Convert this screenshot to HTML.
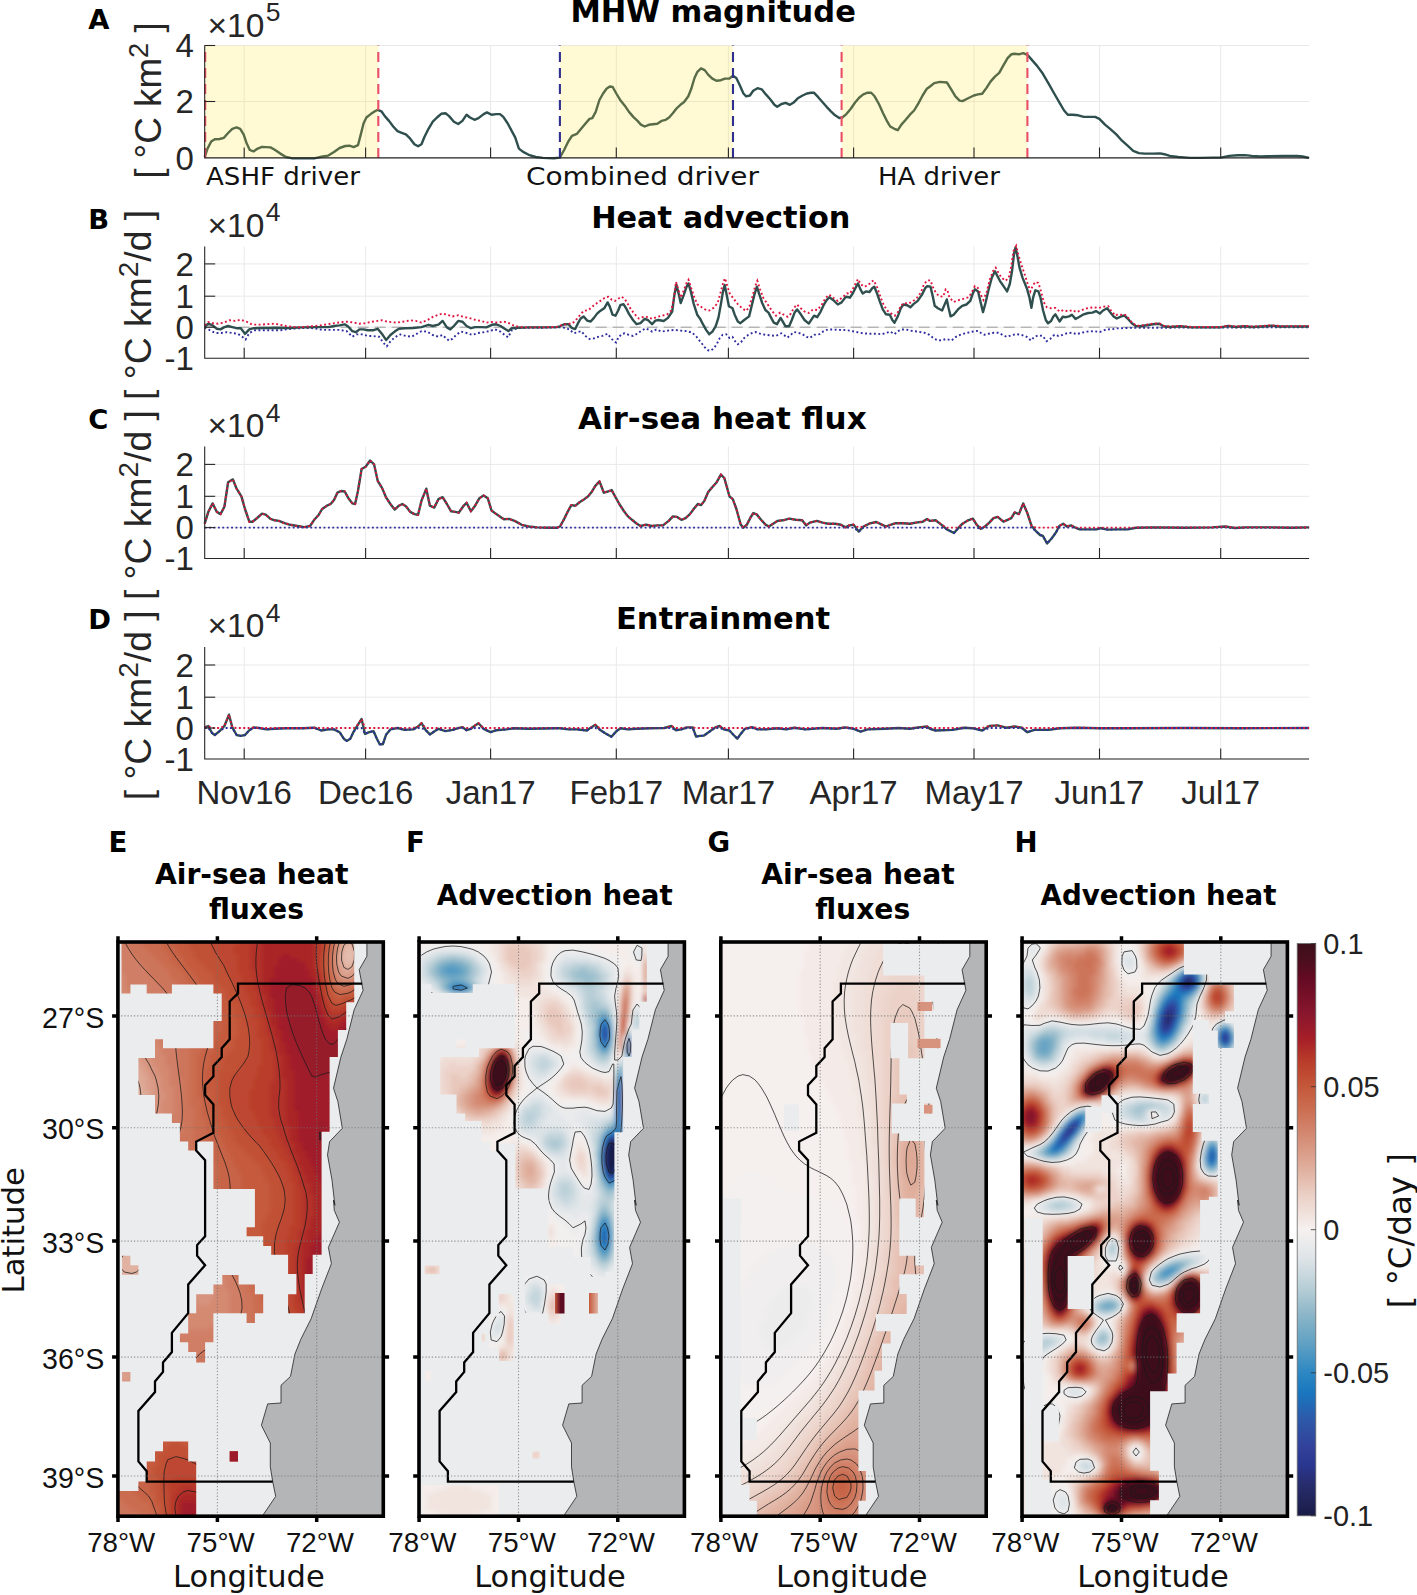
<!DOCTYPE html>
<html lang="en"><head><meta charset="utf-8"><title>MHW drivers</title>
<style>html,body{margin:0;padding:0;background:#fff}svg{display:block}</style></head>
<body>
<svg width="1417" height="1595" viewBox="0 0 1417 1595">
<rect width="1417" height="1595" fill="#fff"/>
<line x1="244.2" y1="45.5" x2="244.2" y2="157.9" stroke="#e9e9e9" stroke-width="1"/>
<line x1="365.6" y1="45.5" x2="365.6" y2="157.9" stroke="#e9e9e9" stroke-width="1"/>
<line x1="490.6" y1="45.5" x2="490.6" y2="157.9" stroke="#e9e9e9" stroke-width="1"/>
<line x1="616.3" y1="45.5" x2="616.3" y2="157.9" stroke="#e9e9e9" stroke-width="1"/>
<line x1="728.4" y1="45.5" x2="728.4" y2="157.9" stroke="#e9e9e9" stroke-width="1"/>
<line x1="853.6" y1="45.5" x2="853.6" y2="157.9" stroke="#e9e9e9" stroke-width="1"/>
<line x1="974.0" y1="45.5" x2="974.0" y2="157.9" stroke="#e9e9e9" stroke-width="1"/>
<line x1="1099.5" y1="45.5" x2="1099.5" y2="157.9" stroke="#e9e9e9" stroke-width="1"/>
<line x1="1220.7" y1="45.5" x2="1220.7" y2="157.9" stroke="#e9e9e9" stroke-width="1"/>
<line x1="204.7" y1="45.5" x2="1309.1" y2="45.5" stroke="#e9e9e9" stroke-width="1"/>
<line x1="204.7" y1="101.5" x2="1309.1" y2="101.5" stroke="#e9e9e9" stroke-width="1"/>
<line x1="204.7" y1="157.9" x2="1309.1" y2="157.9" stroke="#e9e9e9" stroke-width="1"/>
<path d="M204.7,157.0 207.5,148.6 211.2,141.5 214.8,139.2 219.6,139.0 223.9,137.8 228.1,133.0 232.3,128.8 236.6,127.4 240.2,128.8 243.6,134.4 246.5,142.9 249.8,150.0 253.5,151.4 257.7,148.6 262.0,146.9 266.2,147.1 270.5,147.4 274.7,149.7 280.3,153.6 286.0,157.0 291.6,158.2 302.9,158.4 314.2,158.4 322.7,156.5 328.3,155.6 334.0,151.9 339.6,148.0 345.3,146.0 349.5,145.7 353.7,147.1 358.0,145.2 360.8,134.4 363.6,123.2 366.4,117.5 370.7,114.1 374.9,111.3 377.7,109.9 381.4,111.3 384.8,116.1 389.0,120.9 393.2,126.5 397.5,131.1 401.7,132.8 405.9,134.4 410.2,138.7 414.4,144.3 418.1,146.3 421.5,144.3 424.3,137.3 428.5,128.8 432.8,121.7 437.0,117.5 441.2,113.8 445.5,113.3 449.1,116.1 453.9,121.7 458.2,124.0 462.4,120.9 466.6,114.7 470.0,117.5 474.5,119.8 478.5,118.1 483.6,114.1 487.0,112.4 491.5,114.7 496.3,114.1 500.0,114.1 503.3,116.9 507.6,123.2 511.8,131.1 515.2,137.3 518.9,148.6 523.1,151.9 528.7,154.8 535.8,157.0 542.9,157.9 554.1,158.2 559.8,157.6 564.1,150.0 568.3,141.5 572.0,135.9 576.8,133.9 581.1,128.8 585.3,123.7 589.5,118.9 592.3,118.1 595.7,111.9 599.4,100.0 603.1,93.5 606.5,88.7 609.8,86.5 612.7,87.0 616.3,93.5 620.6,100.6 624.8,105.7 629.0,111.9 633.3,116.9 637.5,120.9 640.9,124.6 644.6,126.5 648.8,124.8 653.0,124.3 657.3,123.7 661.5,120.9 665.7,119.8 669.1,117.5 672.8,113.3 676.5,108.5 680.4,104.8 684.1,102.0 688.3,96.3 691.1,89.3 694.5,78.0 697.4,71.8 701.0,68.4 704.7,70.1 708.1,74.6 712.3,78.6 716.5,80.8 720.8,80.2 725.0,78.6 729.3,78.6 732.9,75.7 736.3,78.0 739.7,85.0 743.4,93.5 746.2,96.3 749.9,95.5 753.2,90.7 757.5,88.2 761.7,89.3 765.9,94.4 770.2,99.2 774.4,104.8 777.2,106.8 781.5,104.0 785.7,102.8 789.9,104.8 793.3,102.8 797.8,98.3 802.6,95.5 806.9,93.5 811.1,92.7 813.9,92.7 818.2,97.2 822.4,102.0 826.6,106.8 830.9,111.3 835.1,115.3 839.3,118.1 842.2,117.5 846.4,114.1 850.6,109.0 854.9,102.8 859.1,97.7 863.3,94.4 867.6,92.7 871.2,92.7 874.6,96.3 878.9,104.0 883.1,113.3 887.3,121.7 890.2,126.5 894.4,128.8 897.8,130.2 901.4,124.6 905.7,119.8 909.9,114.7 914.1,110.5 918.4,103.4 922.6,95.5 926.9,88.7 930.0,86.5 934.2,83.1 939.9,81.9 946.9,82.5 951.2,89.3 955.4,96.3 959.6,100.6 962.5,101.1 968.1,98.3 973.8,95.5 978.0,94.4 982.2,93.8 986.5,87.9 990.7,81.4 994.9,76.6 999.2,72.9 1003.4,65.3 1007.6,58.2 1011.3,54.3 1014.7,53.7 1018.9,54.3 1023.2,53.1 1027.4,54.8 1031.6,59.6 1037.3,66.1 1042.9,73.8 1048.6,83.6 1054.2,93.5 1059.9,103.4 1064.1,110.5 1067.8,114.7 1072.6,114.7 1078.2,115.3 1083.8,116.9 1089.5,116.9 1095.1,116.9 1099.4,118.9 1105.0,124.6 1110.7,129.4 1116.3,134.4 1122.0,140.7 1127.6,145.7 1133.2,150.8 1138.9,153.1 1144.5,153.6 1153.0,153.6 1160.1,153.4 1164.3,154.2 1169.9,155.9 1178.4,157.0 1189.7,157.9 1201.0,157.9 1212.3,157.6 1220.8,157.6 1229.2,155.9 1237.7,155.3 1244.7,155.1 1251.8,155.9 1260.3,156.5 1268.7,156.2 1282.9,155.9 1297.0,155.9 1302.6,156.5 1309.1,157.9" fill="none" stroke="#2f4f4f" stroke-width="2.4" stroke-linejoin="round"/>
<rect x="204.7" y="45.5" width="173.6" height="112.4" fill="#ffdf28" fill-opacity="0.2"/>
<rect x="559.9" y="45.5" width="173.1" height="112.4" fill="#ffdf28" fill-opacity="0.2"/>
<rect x="841.6" y="45.5" width="185.8" height="112.4" fill="#ffdf28" fill-opacity="0.2"/>
<line x1="205.2" y1="45.5" x2="205.2" y2="157.9" stroke="#ea4f64" stroke-width="2.1" stroke-dasharray="10 6" stroke-dashoffset="9.5"/>
<line x1="378.3" y1="45.5" x2="378.3" y2="157.9" stroke="#ea4f64" stroke-width="2.1" stroke-dasharray="10 6" stroke-dashoffset="9.5"/>
<line x1="559.9" y1="45.5" x2="559.9" y2="157.9" stroke="#2f2f8f" stroke-width="2.1" stroke-dasharray="10 6" stroke-dashoffset="9.5"/>
<line x1="733.0" y1="45.5" x2="733.0" y2="157.9" stroke="#2f2f8f" stroke-width="2.1" stroke-dasharray="10 6" stroke-dashoffset="9.5"/>
<line x1="841.6" y1="45.5" x2="841.6" y2="157.9" stroke="#ea4f64" stroke-width="2.1" stroke-dasharray="10 6" stroke-dashoffset="9.5"/>
<line x1="1027.4" y1="45.5" x2="1027.4" y2="157.9" stroke="#ea4f64" stroke-width="2.1" stroke-dasharray="10 6" stroke-dashoffset="9.5"/>
<path d="M204.7,45.5V157.9H1309.1" fill="none" stroke="#262626" stroke-width="1.1"/>
<line x1="244.2" y1="157.9" x2="244.2" y2="147.4" stroke="#262626" stroke-width="1.1"/>
<line x1="365.6" y1="157.9" x2="365.6" y2="147.4" stroke="#262626" stroke-width="1.1"/>
<line x1="490.6" y1="157.9" x2="490.6" y2="147.4" stroke="#262626" stroke-width="1.1"/>
<line x1="616.3" y1="157.9" x2="616.3" y2="147.4" stroke="#262626" stroke-width="1.1"/>
<line x1="728.4" y1="157.9" x2="728.4" y2="147.4" stroke="#262626" stroke-width="1.1"/>
<line x1="853.6" y1="157.9" x2="853.6" y2="147.4" stroke="#262626" stroke-width="1.1"/>
<line x1="974.0" y1="157.9" x2="974.0" y2="147.4" stroke="#262626" stroke-width="1.1"/>
<line x1="1099.5" y1="157.9" x2="1099.5" y2="147.4" stroke="#262626" stroke-width="1.1"/>
<line x1="1220.7" y1="157.9" x2="1220.7" y2="147.4" stroke="#262626" stroke-width="1.1"/>
<line x1="204.7" y1="45.5" x2="215.2" y2="45.5" stroke="#262626" stroke-width="1.1"/>
<text x="193.8" y="57.3" text-anchor="end" font-family="Liberation Sans, sans-serif" font-size="33" fill="#262626">4</text>
<line x1="204.7" y1="101.5" x2="215.2" y2="101.5" stroke="#262626" stroke-width="1.1"/>
<text x="193.8" y="113.3" text-anchor="end" font-family="Liberation Sans, sans-serif" font-size="33" fill="#262626">2</text>
<text x="193.8" y="169.7" text-anchor="end" font-family="Liberation Sans, sans-serif" font-size="33" fill="#262626">0</text>
<line x1="244.2" y1="246.4" x2="244.2" y2="358.3" stroke="#e9e9e9" stroke-width="1"/>
<line x1="365.6" y1="246.4" x2="365.6" y2="358.3" stroke="#e9e9e9" stroke-width="1"/>
<line x1="490.6" y1="246.4" x2="490.6" y2="358.3" stroke="#e9e9e9" stroke-width="1"/>
<line x1="616.3" y1="246.4" x2="616.3" y2="358.3" stroke="#e9e9e9" stroke-width="1"/>
<line x1="728.4" y1="246.4" x2="728.4" y2="358.3" stroke="#e9e9e9" stroke-width="1"/>
<line x1="853.6" y1="246.4" x2="853.6" y2="358.3" stroke="#e9e9e9" stroke-width="1"/>
<line x1="974.0" y1="246.4" x2="974.0" y2="358.3" stroke="#e9e9e9" stroke-width="1"/>
<line x1="1099.5" y1="246.4" x2="1099.5" y2="358.3" stroke="#e9e9e9" stroke-width="1"/>
<line x1="1220.7" y1="246.4" x2="1220.7" y2="358.3" stroke="#e9e9e9" stroke-width="1"/>
<line x1="204.7" y1="263.9" x2="1309.1" y2="263.9" stroke="#e9e9e9" stroke-width="1"/>
<line x1="204.7" y1="296.2" x2="1309.1" y2="296.2" stroke="#e9e9e9" stroke-width="1"/>
<line x1="204.7" y1="327.2" x2="1309.1" y2="327.2" stroke="#e9e9e9" stroke-width="1"/>
<line x1="204.7" y1="358.3" x2="1309.1" y2="358.3" stroke="#e9e9e9" stroke-width="1"/>
<line x1="204.7" y1="327.2" x2="1309.1" y2="327.2" stroke="#9a9a9a" stroke-width="1" stroke-dasharray="11 6"/>
<path d="M204.7,327.4 209.8,330.2 215.4,333.0 221.1,333.0 226.7,332.2 232.3,333.0 238.0,333.9 242.2,336.7 245.6,339.5 249.3,333.0 254.9,330.2 266.2,330.2 280.3,330.2 291.6,328.8 302.9,328.0 314.2,328.2 322.7,329.9 331.1,329.9 339.6,329.9 346.7,331.1 352.3,336.7 356.5,334.4 362.2,334.4 367.8,335.9 373.5,336.1 379.1,336.7 383.4,342.9 386.8,346.3 390.4,341.5 394.7,337.3 400.3,334.4 405.9,335.9 411.6,336.7 415.8,334.4 421.5,331.1 427.1,331.6 432.8,335.0 438.4,336.7 442.6,335.0 445.5,337.8 449.1,340.7 452.5,338.7 456.8,334.4 461.0,331.6 466.6,333.0 472.3,335.0 477.9,333.0 483.6,332.2 489.2,331.1 494.9,329.4 500.5,331.6 504.7,335.0 508.1,337.3 511.8,330.2 517.5,328.2 528.7,327.7 542.9,327.7 557.0,327.4 560.0,327.4 565.3,327.8 569.5,329.5 573.8,333.3 578.0,332.0 581.2,331.2 585.4,335.9 589.6,339.0 593.9,338.4 598.1,336.9 602.3,335.9 607.6,333.7 610.8,338.0 614.0,341.2 616.1,342.6 618.2,338.0 621.4,334.2 624.6,333.3 628.8,334.8 633.0,335.9 637.3,333.7 641.5,330.6 645.7,328.4 648.9,329.9 652.1,331.6 656.3,329.5 661.6,331.6 668.0,330.6 674.3,329.9 680.7,330.6 687.0,331.2 692.3,332.7 696.6,336.9 700.8,342.2 705.0,347.5 708.2,350.3 710.7,350.7 713.5,348.6 716.7,344.3 719.8,338.0 722.6,334.8 726.2,334.2 729.4,338.0 732.5,336.9 735.7,342.2 737.8,344.3 741.0,342.2 744.2,338.0 748.4,334.8 752.7,332.7 755.8,332.0 760.1,333.7 765.4,334.8 770.7,335.4 776.0,335.9 781.2,333.3 784.4,335.4 787.6,337.6 790.8,334.8 793.9,332.0 798.2,332.7 802.4,334.2 806.6,336.9 809.8,338.0 814.1,334.8 819.4,334.2 823.6,331.2 827.8,329.5 833.1,329.5 839.5,329.9 845.8,330.1 849.6,330.6 850.0,330.6 856.4,332.0 862.7,333.3 869.1,333.7 875.4,333.7 881.8,334.2 887.1,332.7 890.2,331.6 894.5,334.2 897.6,331.2 901.9,329.5 906.1,329.5 911.4,330.8 917.7,331.6 924.1,332.7 929.4,334.8 933.6,338.4 937.9,340.5 942.1,340.1 946.3,339.0 951.6,340.5 955.9,336.9 960.1,334.8 965.4,333.3 970.7,332.0 974.9,331.2 978.1,330.8 981.3,333.3 984.4,334.8 988.7,333.7 994.0,332.7 998.2,332.7 1002.4,334.8 1006.7,336.9 1010.9,335.4 1016.2,334.2 1021.5,334.8 1026.8,336.9 1031.0,340.5 1034.2,336.9 1038.4,335.4 1042.7,335.9 1046.5,341.2 1050.1,339.0 1054.3,334.8 1058.5,335.9 1062.8,334.8 1067.0,333.3 1072.3,332.7 1076.5,334.2 1081.8,332.7 1087.1,331.6 1093.5,331.2 1099.8,332.0 1106.2,329.5 1112.5,329.1 1116.8,328.4 1125.5,328.0 1133.9,327.8 1142.4,327.8 1159.3,327.8 1180.5,327.6 1222.9,327.6 1265.2,327.4 1309.0,327.4" fill="none" stroke="#2d2d9f" stroke-width="1.9" stroke-dasharray="1.9 2.5"/>
<path d="M204.7,326.5 208.3,323.7 212.6,325.4 216.8,328.8 220.5,329.4 223.9,327.4 228.1,326.0 232.3,327.1 236.6,328.2 240.8,328.2 245.0,333.9 249.3,329.4 253.5,328.2 263.4,328.0 274.7,327.7 288.8,328.0 302.9,327.4 317.0,327.1 328.3,327.1 334.0,326.0 339.6,325.4 344.7,324.3 348.1,326.5 352.3,331.1 356.0,332.2 359.4,329.4 363.6,329.4 367.8,330.2 373.5,330.2 377.7,328.8 382.0,333.9 386.2,340.1 390.4,335.0 394.7,331.6 398.9,328.8 404.5,328.2 413.0,328.0 421.5,327.1 428.5,324.8 432.8,326.0 438.4,324.6 442.6,320.9 446.9,327.4 450.3,329.4 453.9,326.0 458.2,320.9 462.4,321.7 466.6,326.0 470.9,328.2 475.1,327.1 480.8,327.1 486.4,327.4 492.0,324.8 496.3,324.3 500.5,326.0 504.7,328.8 508.4,331.1 511.8,328.2 517.5,327.7 528.7,327.4 542.9,327.4 557.0,327.1 560.0,326.3 564.2,324.2 568.5,324.2 571.6,327.8 575.2,329.1 578.0,323.2 580.7,318.5 583.7,316.4 587.1,320.6 590.7,321.5 593.9,317.9 597.1,313.6 600.2,310.9 604.5,307.9 607.6,302.4 609.8,306.6 612.5,314.7 615.5,315.7 618.2,310.5 620.3,305.2 623.5,304.1 626.1,308.3 628.8,313.6 633.0,320.0 636.6,324.2 640.5,323.2 644.7,318.9 647.9,320.0 652.1,324.2 655.3,320.6 658.4,320.0 663.7,321.0 668.0,317.9 672.2,311.5 674.3,295.6 676.4,284.6 678.6,293.5 680.7,303.0 683.9,294.6 686.4,287.2 688.5,283.4 690.8,291.4 693.8,304.1 697.2,314.7 700.2,318.9 702.9,324.2 706.1,329.9 709.3,334.2 712.4,331.6 715.6,326.3 718.4,317.9 720.9,304.1 723.0,291.4 724.7,285.0 726.8,295.6 728.9,306.2 732.5,308.3 734.7,314.7 737.8,321.5 740.4,323.2 744.2,320.0 749.1,316.4 751.6,306.2 754.4,294.6 756.9,286.7 759.4,294.6 762.2,303.0 765.4,310.0 768.5,312.6 771.7,318.9 773.8,322.7 777.0,324.2 780.6,317.9 783.4,322.7 785.5,326.3 789.1,326.3 791.8,320.0 794.6,312.6 797.1,309.4 800.3,313.6 804.5,320.0 808.8,323.6 811.9,318.9 814.1,315.7 817.2,317.2 820.4,312.1 823.6,305.2 826.8,299.9 829.3,297.3 833.1,299.9 837.8,304.5 841.6,302.4 845.8,296.7 849.0,297.3 850.0,297.7 853.2,292.5 855.9,287.2 858.0,283.4 860.2,288.9 862.7,293.5 865.9,291.4 869.5,292.0 872.2,288.2 874.3,286.7 877.1,293.5 879.6,300.9 882.8,309.4 886.0,314.3 889.8,314.7 892.3,320.0 894.5,322.7 897.6,316.8 900.8,308.3 903.4,304.5 907.2,305.2 910.3,307.3 913.5,304.1 917.7,300.9 922.0,294.6 925.2,288.2 927.3,286.1 930.5,286.7 932.6,295.6 934.7,305.8 937.9,308.3 942.1,310.5 944.8,304.1 946.8,299.4 948.4,307.3 950.6,316.4 953.7,314.7 958.0,309.4 962.2,305.8 966.4,304.5 970.3,300.9 972.8,293.5 974.9,289.3 978.1,291.4 980.8,303.0 983.0,312.1 985.5,303.0 988.7,289.3 991.8,277.6 995.0,271.3 997.1,275.5 999.9,280.8 1003.5,286.1 1007.1,291.4 1009.8,284.0 1012.0,271.3 1014.1,253.3 1015.6,247.4 1017.3,255.4 1019.4,267.1 1022.5,277.6 1026.8,288.2 1029.5,297.7 1031.4,307.9 1033.1,297.7 1035.3,290.3 1038.4,291.4 1040.5,297.7 1043.1,310.5 1045.8,320.0 1048.0,323.2 1051.1,321.0 1053.2,316.8 1055.4,314.3 1057.5,317.9 1059.6,321.5 1062.8,316.8 1066.0,317.2 1069.1,316.4 1071.9,314.7 1075.5,318.9 1078.7,317.2 1082.9,314.7 1088.2,313.0 1092.4,312.6 1096.0,311.1 1099.8,313.6 1103.0,310.5 1107.2,308.3 1110.4,312.6 1113.6,316.4 1116.8,318.5 1121.2,316.4 1124.4,315.5 1127.6,318.5 1131.8,323.2 1136.1,326.3 1140.3,326.3 1146.6,325.3 1153.0,324.2 1159.3,323.8 1163.6,326.3 1169.9,327.0 1180.5,326.3 1191.1,327.4 1201.7,327.4 1212.3,327.4 1220.7,327.4 1228.2,325.9 1235.6,327.0 1244.0,326.3 1252.5,327.0 1261.0,326.5 1271.6,325.7 1280.0,326.5 1290.6,326.5 1301.2,326.5 1309.0,326.5" fill="none" stroke="#2f4f4f" stroke-width="2.4" stroke-linejoin="round"/>
<path d="M204.7,325.4 208.3,322.0 212.6,323.2 218.2,323.7 223.9,322.6 229.5,320.3 235.2,320.9 240.8,319.8 246.5,321.7 252.1,324.6 260.6,324.6 274.7,323.7 286.0,326.0 297.3,327.4 308.6,326.5 319.9,325.4 331.1,323.7 342.4,322.0 348.1,321.7 353.7,322.6 359.4,323.7 365.0,323.2 373.5,321.5 382.0,320.3 387.6,321.7 396.1,322.6 404.5,321.5 410.2,320.3 415.8,320.9 421.5,322.6 427.1,320.3 432.8,316.9 438.4,314.7 442.6,313.6 446.9,314.7 452.5,316.4 458.2,315.3 463.8,316.9 469.5,318.1 475.1,319.8 480.8,320.9 486.4,322.6 492.0,322.0 497.7,322.6 503.3,321.5 509.0,323.2 514.6,326.0 523.1,327.4 542.9,327.4 557.0,326.8 560.0,325.7 566.4,324.2 572.7,323.2 576.9,318.9 581.2,313.6 583.7,310.9 588.6,310.0 592.8,306.2 597.1,303.0 601.3,300.3 605.5,297.3 608.3,296.7 611.9,299.9 615.0,300.9 618.2,298.8 621.4,296.7 624.6,298.8 627.3,303.0 630.9,309.4 635.2,314.7 638.8,318.5 642.6,317.2 645.7,316.4 648.9,317.9 652.7,318.9 656.3,317.2 661.6,315.7 666.9,314.7 671.2,310.5 673.9,297.7 676.0,281.9 678.6,290.3 680.7,297.7 683.9,290.3 686.6,282.9 688.5,279.8 691.3,288.2 694.4,297.7 697.6,304.5 701.8,307.3 706.1,310.0 709.3,310.5 713.5,307.9 717.7,303.0 720.9,291.4 723.4,281.9 725.1,278.3 727.3,286.1 729.8,293.5 733.6,298.8 737.8,304.1 742.1,308.3 746.3,310.9 749.5,306.2 752.7,295.6 755.2,286.1 757.3,280.8 760.1,289.3 763.2,297.7 767.5,304.1 771.7,310.5 776.0,315.7 780.2,312.6 784.4,315.1 787.6,316.8 790.8,313.6 793.9,307.9 797.1,304.5 800.3,307.9 804.5,311.5 808.8,313.0 813.0,309.4 817.2,310.0 821.5,305.2 825.7,297.7 829.3,294.6 833.1,297.7 837.8,300.9 842.6,297.3 846.9,293.5 849.6,293.1 850.0,293.5 853.2,288.2 855.9,282.9 858.0,279.1 860.6,284.0 863.8,286.7 868.0,285.5 871.2,281.9 873.7,280.4 877.1,287.2 880.7,297.7 883.9,305.2 887.1,310.5 891.3,313.6 894.9,315.7 898.3,311.5 900.8,305.8 904.0,303.0 908.2,303.7 912.5,301.6 916.7,298.2 920.9,292.5 924.1,284.0 927.3,280.4 930.5,280.4 933.0,287.2 935.7,292.5 938.9,296.1 943.2,296.7 945.7,289.3 947.4,290.3 949.5,297.7 953.7,302.0 958.0,300.3 963.3,298.8 968.6,297.3 971.7,292.5 974.9,286.1 978.1,288.2 980.8,294.6 983.4,299.9 986.6,292.5 989.7,279.8 992.9,271.3 995.7,267.7 998.2,272.3 1001.4,277.6 1005.6,280.8 1008.8,277.6 1011.3,266.0 1013.4,251.2 1016.2,245.9 1018.3,254.3 1021.1,263.9 1024.0,272.3 1027.4,282.9 1030.4,291.4 1032.5,286.1 1035.3,281.9 1038.4,282.9 1041.0,291.4 1043.7,302.0 1046.9,307.3 1051.1,308.3 1055.4,307.9 1059.6,311.5 1063.8,310.0 1068.1,311.5 1072.3,310.0 1076.5,312.1 1081.8,310.0 1087.1,308.3 1093.5,307.3 1098.8,307.9 1104.1,306.6 1108.3,306.2 1111.5,311.5 1115.7,315.7 1117.0,314.7 1121.2,314.7 1124.4,314.3 1127.6,317.2 1131.8,322.3 1136.1,325.7 1140.3,325.7 1146.6,324.6 1153.0,323.6 1159.3,323.2 1163.6,325.7 1169.9,326.5 1180.5,325.9 1191.1,327.0 1201.7,327.0 1212.3,327.0 1220.7,327.0 1228.2,325.5 1235.6,326.5 1244.0,325.9 1252.5,326.5 1261.0,326.1 1271.6,325.3 1280.0,326.1 1290.6,326.1 1301.2,326.1 1309.0,326.1" fill="none" stroke="#e0143c" stroke-width="1.9" stroke-dasharray="1.9 2.5"/>
<path d="M204.7,246.4V358.3H1309.1" fill="none" stroke="#262626" stroke-width="1.1"/>
<line x1="244.2" y1="358.3" x2="244.2" y2="347.8" stroke="#262626" stroke-width="1.1"/>
<line x1="365.6" y1="358.3" x2="365.6" y2="347.8" stroke="#262626" stroke-width="1.1"/>
<line x1="490.6" y1="358.3" x2="490.6" y2="347.8" stroke="#262626" stroke-width="1.1"/>
<line x1="616.3" y1="358.3" x2="616.3" y2="347.8" stroke="#262626" stroke-width="1.1"/>
<line x1="728.4" y1="358.3" x2="728.4" y2="347.8" stroke="#262626" stroke-width="1.1"/>
<line x1="853.6" y1="358.3" x2="853.6" y2="347.8" stroke="#262626" stroke-width="1.1"/>
<line x1="974.0" y1="358.3" x2="974.0" y2="347.8" stroke="#262626" stroke-width="1.1"/>
<line x1="1099.5" y1="358.3" x2="1099.5" y2="347.8" stroke="#262626" stroke-width="1.1"/>
<line x1="1220.7" y1="358.3" x2="1220.7" y2="347.8" stroke="#262626" stroke-width="1.1"/>
<line x1="204.7" y1="263.9" x2="215.2" y2="263.9" stroke="#262626" stroke-width="1.1"/>
<text x="193.8" y="275.7" text-anchor="end" font-family="Liberation Sans, sans-serif" font-size="33" fill="#262626">2</text>
<line x1="204.7" y1="296.2" x2="215.2" y2="296.2" stroke="#262626" stroke-width="1.1"/>
<text x="193.8" y="308.0" text-anchor="end" font-family="Liberation Sans, sans-serif" font-size="33" fill="#262626">1</text>
<line x1="204.7" y1="327.2" x2="215.2" y2="327.2" stroke="#262626" stroke-width="1.1"/>
<text x="193.8" y="339.0" text-anchor="end" font-family="Liberation Sans, sans-serif" font-size="33" fill="#262626">0</text>
<text x="193.8" y="370.1" text-anchor="end" font-family="Liberation Sans, sans-serif" font-size="33" fill="#262626">-1</text>
<line x1="244.2" y1="446.5" x2="244.2" y2="558.5" stroke="#e9e9e9" stroke-width="1"/>
<line x1="365.6" y1="446.5" x2="365.6" y2="558.5" stroke="#e9e9e9" stroke-width="1"/>
<line x1="490.6" y1="446.5" x2="490.6" y2="558.5" stroke="#e9e9e9" stroke-width="1"/>
<line x1="616.3" y1="446.5" x2="616.3" y2="558.5" stroke="#e9e9e9" stroke-width="1"/>
<line x1="728.4" y1="446.5" x2="728.4" y2="558.5" stroke="#e9e9e9" stroke-width="1"/>
<line x1="853.6" y1="446.5" x2="853.6" y2="558.5" stroke="#e9e9e9" stroke-width="1"/>
<line x1="974.0" y1="446.5" x2="974.0" y2="558.5" stroke="#e9e9e9" stroke-width="1"/>
<line x1="1099.5" y1="446.5" x2="1099.5" y2="558.5" stroke="#e9e9e9" stroke-width="1"/>
<line x1="1220.7" y1="446.5" x2="1220.7" y2="558.5" stroke="#e9e9e9" stroke-width="1"/>
<line x1="204.7" y1="464.4" x2="1309.1" y2="464.4" stroke="#e9e9e9" stroke-width="1"/>
<line x1="204.7" y1="496.3" x2="1309.1" y2="496.3" stroke="#e9e9e9" stroke-width="1"/>
<line x1="204.7" y1="527.6" x2="1309.1" y2="527.6" stroke="#e9e9e9" stroke-width="1"/>
<line x1="204.7" y1="558.5" x2="1309.1" y2="558.5" stroke="#e9e9e9" stroke-width="1"/>
<path d="M204.7,523.7 208.3,511.9 212.6,503.4 216.8,511.9 220.5,514.1 224.4,506.8 228.1,482.2 232.9,479.4 236.6,488.7 241.4,496.3 245.0,509.0 249.3,521.7 252.7,521.7 257.7,517.5 262.0,513.6 265.7,514.7 270.5,518.9 274.7,520.3 278.9,520.9 284.6,523.2 290.2,524.8 297.3,526.0 304.3,527.1 310.0,526.0 314.2,519.8 318.4,515.3 322.1,509.0 326.9,505.7 330.6,504.0 334.0,500.0 337.4,492.7 341.0,491.0 344.7,491.5 348.1,497.7 352.3,503.4 355.1,504.0 358.0,490.7 361.6,469.0 365.6,466.7 370.1,460.5 374.1,464.4 377.7,480.8 382.0,487.9 386.2,497.7 390.4,504.0 394.7,509.6 398.9,505.7 402.3,504.0 405.9,506.2 410.2,511.9 414.4,514.1 418.1,514.7 421.5,500.6 426.3,488.7 429.9,505.7 434.2,507.6 438.4,499.2 442.6,497.2 446.9,504.0 451.1,511.3 455.3,511.9 458.7,512.7 463.3,506.2 466.6,502.8 470.9,511.3 475.1,505.7 479.3,498.3 483.6,495.5 487.8,498.3 491.5,510.5 496.3,514.1 500.5,516.9 503.9,519.2 509.0,518.9 514.6,520.9 521.7,524.8 528.7,526.5 537.2,527.4 548.5,527.7 557.0,527.7 560.0,526.5 564.2,518.9 567.9,511.3 571.3,505.1 575.5,505.7 579.8,502.0 584.0,499.4 588.2,496.3 591.6,492.1 595.3,485.9 599.5,481.4 603.8,492.7 608.0,491.5 611.7,490.1 615.0,496.3 619.3,504.0 623.5,510.5 627.7,516.1 632.0,519.8 636.2,523.2 640.5,526.0 646.1,524.6 651.7,526.0 657.4,525.4 663.0,525.4 668.7,520.9 672.9,516.4 677.1,516.9 681.4,519.8 685.6,518.1 689.9,514.1 694.1,508.5 697.8,504.0 701.1,505.1 704.5,500.6 708.2,492.1 712.4,487.0 716.7,482.2 720.9,474.6 724.3,478.0 727.1,487.9 729.4,496.3 732.8,499.2 736.4,509.0 740.7,524.6 743.5,527.7 746.9,524.6 750.5,517.5 753.4,513.0 757.0,514.7 761.0,519.8 765.5,524.6 768.9,526.5 773.1,523.7 777.4,520.9 783.0,520.3 789.2,518.6 795.7,519.8 802.2,520.3 806.2,525.4 809.8,522.6 816.9,520.9 822.5,522.6 828.2,523.7 835.2,523.7 840.9,524.8 845.7,527.4 849.3,525.4 853.6,524.6 858.7,531.6 863.5,526.5 869.1,523.7 876.2,522.0 881.8,524.6 886.0,526.5 890.3,524.8 895.9,523.2 903.0,523.2 910.0,523.7 915.7,522.6 922.7,521.7 927.0,518.9 930.0,520.9 935.6,520.3 941.3,524.6 946.9,529.4 954.0,533.0 958.2,528.2 962.5,523.7 968.1,520.3 972.9,518.6 976.6,524.6 980.8,528.8 985.0,526.5 989.3,522.6 993.5,518.1 997.7,516.9 1003.4,521.7 1007.6,519.8 1011.3,518.1 1014.7,512.4 1018.9,514.1 1023.2,503.4 1027.4,513.3 1031.6,526.0 1035.9,531.1 1040.1,535.0 1042.9,535.9 1047.1,543.5 1051.4,538.7 1055.6,533.0 1059.3,526.0 1063.2,523.7 1066.9,526.5 1071.1,525.4 1075.4,527.7 1079.6,529.4 1088.1,529.4 1096.5,529.4 1100.8,528.2 1107.8,529.6 1116.3,529.4 1127.6,529.4 1136.1,527.7 1155.8,527.4 1184.1,527.7 1212.3,527.4 1225.0,526.5 1234.9,528.0 1246.2,527.4 1268.7,527.4 1291.3,527.7 1309.1,527.4" fill="none" stroke="#2f4f4f" stroke-width="2.4" stroke-linejoin="round"/>
<path d="M204.7,527.6 208.3,527.6 212.6,527.6 216.8,527.6 220.5,527.6 224.4,527.6 228.1,527.6 232.9,527.6 236.6,527.6 241.4,527.6 245.0,527.6 249.3,527.6 252.7,527.6 257.7,527.6 262.0,527.6 265.7,527.6 270.5,527.6 274.7,527.6 278.9,527.6 284.6,527.6 290.2,527.6 297.3,527.6 304.3,527.6 310.0,527.6 314.2,527.6 318.4,527.6 322.1,527.6 326.9,527.6 330.6,527.6 334.0,527.6 337.4,527.6 341.0,527.6 344.7,527.6 348.1,527.6 352.3,527.6 355.1,527.6 358.0,527.6 361.6,527.6 365.6,527.6 370.1,527.6 374.1,527.6 377.7,527.6 382.0,527.6 386.2,527.6 390.4,527.6 394.7,527.6 398.9,527.6 402.3,527.6 405.9,527.6 410.2,527.6 414.4,527.6 418.1,527.6 421.5,527.6 426.3,527.6 429.9,527.6 434.2,527.6 438.4,527.6 442.6,527.6 446.9,527.6 451.1,527.6 455.3,527.6 458.7,527.6 463.3,527.6 466.6,527.6 470.9,527.6 475.1,527.6 479.3,527.6 483.6,527.6 487.8,527.6 491.5,527.6 496.3,527.6 500.5,527.6 503.9,527.6 509.0,527.6 514.6,527.6 521.7,527.6 528.7,527.6 537.2,527.6 548.5,527.7 557.0,527.7 560.0,527.6 564.2,527.6 567.9,527.6 571.3,527.6 575.5,527.6 579.8,527.6 584.0,527.6 588.2,527.6 591.6,527.6 595.3,527.6 599.5,527.6 603.8,527.6 608.0,527.6 611.7,527.6 615.0,527.6 619.3,527.6 623.5,527.6 627.7,527.6 632.0,527.6 636.2,527.6 640.5,527.6 646.1,527.6 651.7,527.6 657.4,527.6 663.0,527.6 668.7,527.6 672.9,527.6 677.1,527.6 681.4,527.6 685.6,527.6 689.9,527.6 694.1,527.6 697.8,527.6 701.1,527.6 704.5,527.6 708.2,527.6 712.4,527.6 716.7,527.6 720.9,527.6 724.3,527.6 727.1,527.6 729.4,527.6 732.8,527.6 736.4,527.6 740.7,527.6 743.5,527.7 746.9,527.6 750.5,527.6 753.4,527.6 757.0,527.6 761.0,527.6 765.5,527.6 768.9,527.6 773.1,527.6 777.4,527.6 783.0,527.6 789.2,527.6 795.7,527.6 802.2,527.6 806.2,527.6 809.8,527.6 816.9,527.6 822.5,527.6 828.2,527.6 835.2,527.6 840.9,527.6 845.7,527.6 849.3,527.6 853.6,527.6 858.7,531.6 863.5,527.6 869.1,527.6 876.2,527.6 881.8,527.6 886.0,527.6 890.3,527.6 895.9,527.6 903.0,527.6 910.0,527.6 915.7,527.6 922.7,527.6 927.0,527.6 930.0,527.6 935.6,527.6 941.3,527.6 946.9,529.4 954.0,533.0 958.2,528.2 962.5,527.6 968.1,527.6 972.9,527.6 976.6,527.6 980.8,528.8 985.0,527.6 989.3,527.6 993.5,527.6 997.7,527.6 1003.4,527.6 1007.6,527.6 1011.3,527.6 1014.7,527.6 1018.9,527.6 1023.2,527.6 1027.4,527.6 1031.6,527.6 1035.9,531.1 1040.1,535.0 1042.9,535.9 1047.1,543.5 1051.4,538.7 1055.6,533.0 1059.3,527.6 1063.2,527.6 1066.9,527.6 1071.1,527.6 1075.4,527.7 1079.6,529.4 1088.1,529.4 1096.5,529.4 1100.8,528.2 1107.8,529.6 1116.3,529.4 1127.6,529.4 1136.1,527.7 1155.8,527.6 1184.1,527.7 1212.3,527.6 1225.0,527.6 1234.9,528.0 1246.2,527.6 1268.7,527.6 1291.3,527.7 1309.1,527.6" fill="none" stroke="#2d2d9f" stroke-width="1.9" stroke-dasharray="1.9 2.5"/>
<path d="M204.7,523.7 208.3,511.9 212.6,503.4 216.8,511.9 220.5,514.1 224.4,506.8 228.1,482.2 232.9,479.4 236.6,488.7 241.4,496.3 245.0,509.0 249.3,521.7 252.7,521.7 257.7,517.5 262.0,513.6 265.7,514.7 270.5,518.9 274.7,520.3 278.9,520.9 284.6,523.2 290.2,524.8 297.3,526.0 304.3,527.1 310.0,526.0 314.2,519.8 318.4,515.3 322.1,509.0 326.9,505.7 330.6,504.0 334.0,500.0 337.4,492.7 341.0,491.0 344.7,491.5 348.1,497.7 352.3,503.4 355.1,504.0 358.0,490.7 361.6,469.0 365.6,466.7 370.1,460.5 374.1,464.4 377.7,480.8 382.0,487.9 386.2,497.7 390.4,504.0 394.7,509.6 398.9,505.7 402.3,504.0 405.9,506.2 410.2,511.9 414.4,514.1 418.1,514.7 421.5,500.6 426.3,488.7 429.9,505.7 434.2,507.6 438.4,499.2 442.6,497.2 446.9,504.0 451.1,511.3 455.3,511.9 458.7,512.7 463.3,506.2 466.6,502.8 470.9,511.3 475.1,505.7 479.3,498.3 483.6,495.5 487.8,498.3 491.5,510.5 496.3,514.1 500.5,516.9 503.9,519.2 509.0,518.9 514.6,520.9 521.7,524.8 528.7,526.5 537.2,527.4 548.5,527.6 557.0,527.6 560.0,526.5 564.2,518.9 567.9,511.3 571.3,505.1 575.5,505.7 579.8,502.0 584.0,499.4 588.2,496.3 591.6,492.1 595.3,485.9 599.5,481.4 603.8,492.7 608.0,491.5 611.7,490.1 615.0,496.3 619.3,504.0 623.5,510.5 627.7,516.1 632.0,519.8 636.2,523.2 640.5,526.0 646.1,524.6 651.7,526.0 657.4,525.4 663.0,525.4 668.7,520.9 672.9,516.4 677.1,516.9 681.4,519.8 685.6,518.1 689.9,514.1 694.1,508.5 697.8,504.0 701.1,505.1 704.5,500.6 708.2,492.1 712.4,487.0 716.7,482.2 720.9,474.6 724.3,478.0 727.1,487.9 729.4,496.3 732.8,499.2 736.4,509.0 740.7,524.6 743.5,527.6 746.9,524.6 750.5,517.5 753.4,513.0 757.0,514.7 761.0,519.8 765.5,524.6 768.9,526.5 773.1,523.7 777.4,520.9 783.0,520.3 789.2,518.6 795.7,519.8 802.2,520.3 806.2,525.4 809.8,522.6 816.9,520.9 822.5,522.6 828.2,523.7 835.2,523.7 840.9,524.8 845.7,527.4 849.3,525.4 853.6,524.6 858.7,527.6 863.5,526.5 869.1,523.7 876.2,522.0 881.8,524.6 886.0,526.5 890.3,524.8 895.9,523.2 903.0,523.2 910.0,523.7 915.7,522.6 922.7,521.7 927.0,518.9 930.0,520.9 935.6,520.3 941.3,524.6 946.9,527.6 954.0,527.6 958.2,527.6 962.5,523.7 968.1,520.3 972.9,518.6 976.6,524.6 980.8,527.6 985.0,526.5 989.3,522.6 993.5,518.1 997.7,516.9 1003.4,521.7 1007.6,519.8 1011.3,518.1 1014.7,512.4 1018.9,514.1 1023.2,503.4 1027.4,513.3 1031.6,526.0 1035.9,527.6 1040.1,527.6 1042.9,527.6 1047.1,527.6 1051.4,527.6 1055.6,527.6 1059.3,526.0 1063.2,523.7 1066.9,526.5 1071.1,525.4 1075.4,527.6 1079.6,527.6 1088.1,527.6 1096.5,527.6 1100.8,527.6 1107.8,527.6 1116.3,527.6 1127.6,527.6 1136.1,527.6 1155.8,527.4 1184.1,527.6 1212.3,527.4 1225.0,526.5 1234.9,527.6 1246.2,527.4 1268.7,527.4 1291.3,527.6 1309.1,527.4" fill="none" stroke="#e0143c" stroke-width="1.9" stroke-dasharray="1.9 2.5"/>
<path d="M204.7,446.5V558.5H1309.1" fill="none" stroke="#262626" stroke-width="1.1"/>
<line x1="244.2" y1="558.5" x2="244.2" y2="548.0" stroke="#262626" stroke-width="1.1"/>
<line x1="365.6" y1="558.5" x2="365.6" y2="548.0" stroke="#262626" stroke-width="1.1"/>
<line x1="490.6" y1="558.5" x2="490.6" y2="548.0" stroke="#262626" stroke-width="1.1"/>
<line x1="616.3" y1="558.5" x2="616.3" y2="548.0" stroke="#262626" stroke-width="1.1"/>
<line x1="728.4" y1="558.5" x2="728.4" y2="548.0" stroke="#262626" stroke-width="1.1"/>
<line x1="853.6" y1="558.5" x2="853.6" y2="548.0" stroke="#262626" stroke-width="1.1"/>
<line x1="974.0" y1="558.5" x2="974.0" y2="548.0" stroke="#262626" stroke-width="1.1"/>
<line x1="1099.5" y1="558.5" x2="1099.5" y2="548.0" stroke="#262626" stroke-width="1.1"/>
<line x1="1220.7" y1="558.5" x2="1220.7" y2="548.0" stroke="#262626" stroke-width="1.1"/>
<line x1="204.7" y1="464.4" x2="215.2" y2="464.4" stroke="#262626" stroke-width="1.1"/>
<text x="193.8" y="476.2" text-anchor="end" font-family="Liberation Sans, sans-serif" font-size="33" fill="#262626">2</text>
<line x1="204.7" y1="496.3" x2="215.2" y2="496.3" stroke="#262626" stroke-width="1.1"/>
<text x="193.8" y="508.1" text-anchor="end" font-family="Liberation Sans, sans-serif" font-size="33" fill="#262626">1</text>
<line x1="204.7" y1="527.6" x2="215.2" y2="527.6" stroke="#262626" stroke-width="1.1"/>
<text x="193.8" y="539.4" text-anchor="end" font-family="Liberation Sans, sans-serif" font-size="33" fill="#262626">0</text>
<text x="193.8" y="570.3" text-anchor="end" font-family="Liberation Sans, sans-serif" font-size="33" fill="#262626">-1</text>
<line x1="244.2" y1="646.9" x2="244.2" y2="759.0" stroke="#e9e9e9" stroke-width="1"/>
<line x1="365.6" y1="646.9" x2="365.6" y2="759.0" stroke="#e9e9e9" stroke-width="1"/>
<line x1="490.6" y1="646.9" x2="490.6" y2="759.0" stroke="#e9e9e9" stroke-width="1"/>
<line x1="616.3" y1="646.9" x2="616.3" y2="759.0" stroke="#e9e9e9" stroke-width="1"/>
<line x1="728.4" y1="646.9" x2="728.4" y2="759.0" stroke="#e9e9e9" stroke-width="1"/>
<line x1="853.6" y1="646.9" x2="853.6" y2="759.0" stroke="#e9e9e9" stroke-width="1"/>
<line x1="974.0" y1="646.9" x2="974.0" y2="759.0" stroke="#e9e9e9" stroke-width="1"/>
<line x1="1099.5" y1="646.9" x2="1099.5" y2="759.0" stroke="#e9e9e9" stroke-width="1"/>
<line x1="1220.7" y1="646.9" x2="1220.7" y2="759.0" stroke="#e9e9e9" stroke-width="1"/>
<line x1="204.7" y1="665.0" x2="1309.1" y2="665.0" stroke="#e9e9e9" stroke-width="1"/>
<line x1="204.7" y1="697.2" x2="1309.1" y2="697.2" stroke="#e9e9e9" stroke-width="1"/>
<line x1="204.7" y1="728.0" x2="1309.1" y2="728.0" stroke="#e9e9e9" stroke-width="1"/>
<line x1="204.7" y1="759.0" x2="1309.1" y2="759.0" stroke="#e9e9e9" stroke-width="1"/>
<path d="M204.7,727.4 208.3,726.0 212.0,733.0 214.8,735.0 219.6,731.1 224.4,726.0 229.0,714.7 232.3,727.4 236.6,735.0 240.8,735.9 245.0,735.0 249.3,730.2 253.5,727.4 259.2,728.0 266.2,729.4 274.7,728.8 286.0,728.2 302.9,728.2 314.2,727.7 321.3,730.5 328.3,729.4 334.0,729.4 339.6,732.2 343.8,738.7 346.7,740.9 350.3,738.7 353.7,731.6 358.0,724.6 361.6,718.9 365.0,733.9 369.3,732.2 373.5,731.1 376.9,738.7 379.7,744.3 382.8,744.3 386.2,734.4 390.4,729.4 397.5,728.0 404.5,729.9 413.0,729.4 418.1,726.5 421.5,723.2 425.7,730.2 429.9,734.4 434.2,731.6 438.4,728.8 445.5,731.1 452.5,729.9 458.2,728.2 462.4,727.1 466.6,730.2 470.9,728.8 475.1,725.4 478.5,723.2 483.6,728.8 490.6,732.2 496.3,730.2 506.2,729.4 514.6,728.2 528.7,728.8 557.0,728.2 560.0,728.2 568.5,729.4 576.9,729.4 586.8,730.5 591.1,727.4 595.3,724.8 599.5,729.4 605.2,733.3 611.4,736.7 616.5,731.1 620.7,728.2 627.7,729.4 636.2,728.8 650.3,728.2 664.4,728.0 671.5,726.0 675.7,730.2 681.4,729.4 687.0,727.4 692.7,727.4 696.1,736.7 699.7,735.9 704.0,735.6 709.6,731.6 715.3,727.4 719.5,726.0 723.7,729.4 729.4,730.5 733.6,735.0 737.3,738.7 740.7,733.9 744.9,728.8 752.0,727.1 757.6,729.4 766.1,729.4 777.4,728.2 785.8,729.4 794.3,727.7 805.6,729.4 822.5,728.0 836.6,728.8 845.1,727.4 853.6,728.8 860.6,731.6 867.7,729.4 884.6,728.8 898.7,728.0 910.0,728.8 918.5,727.4 927.0,726.5 930.0,728.8 935.6,730.5 952.6,729.9 963.9,727.7 972.3,728.2 982.2,730.5 989.3,726.0 997.7,725.4 1006.2,727.7 1014.7,726.5 1021.7,727.7 1027.4,732.2 1034.4,729.9 1048.6,729.9 1059.9,728.2 1076.8,727.7 1099.4,728.2 1127.6,728.2 1184.1,728.0 1240.5,728.2 1309.1,728.0" fill="none" stroke="#2f4f4f" stroke-width="2.4" stroke-linejoin="round"/>
<path d="M204.7,727.4 208.3,726.0 212.0,728.0 214.8,728.0 219.6,728.0 224.4,726.0 229.0,714.7 232.3,727.4 236.6,728.0 240.8,728.0 245.0,728.0 249.3,728.0 253.5,727.4 259.2,728.0 266.2,728.0 274.7,728.0 286.0,728.0 302.9,728.0 314.2,727.7 321.3,728.0 328.3,728.0 334.0,728.0 339.6,728.0 343.8,728.0 346.7,728.0 350.3,728.0 353.7,728.0 358.0,724.6 361.6,718.9 365.0,728.0 369.3,728.0 373.5,728.0 376.9,728.0 379.7,728.0 382.8,728.0 386.2,728.0 390.4,728.0 397.5,728.0 404.5,728.0 413.0,728.0 418.1,726.5 421.5,723.2 425.7,728.0 429.9,728.0 434.2,728.0 438.4,728.0 445.5,728.0 452.5,728.0 458.2,728.0 462.4,727.1 466.6,728.0 470.9,728.0 475.1,725.4 478.5,723.2 483.6,728.0 490.6,728.0 496.3,728.0 506.2,728.0 514.6,728.0 528.7,728.0 557.0,728.0 560.0,728.0 568.5,728.0 576.9,728.0 586.8,728.0 591.1,727.4 595.3,724.8 599.5,728.0 605.2,728.0 611.4,728.0 616.5,728.0 620.7,728.0 627.7,728.0 636.2,728.0 650.3,728.0 664.4,728.0 671.5,726.0 675.7,728.0 681.4,728.0 687.0,727.4 692.7,727.4 696.1,728.0 699.7,728.0 704.0,728.0 709.6,728.0 715.3,727.4 719.5,726.0 723.7,728.0 729.4,728.0 733.6,728.0 737.3,728.0 740.7,728.0 744.9,728.0 752.0,727.1 757.6,728.0 766.1,728.0 777.4,728.0 785.8,728.0 794.3,727.7 805.6,728.0 822.5,728.0 836.6,728.0 845.1,727.4 853.6,728.0 860.6,728.0 867.7,728.0 884.6,728.0 898.7,728.0 910.0,728.0 918.5,727.4 927.0,726.5 930.0,728.0 935.6,728.0 952.6,728.0 963.9,727.7 972.3,728.0 982.2,728.0 989.3,726.0 997.7,725.4 1006.2,727.7 1014.7,726.5 1021.7,727.7 1027.4,728.0 1034.4,728.0 1048.6,728.0 1059.9,728.0 1076.8,727.7 1099.4,728.0 1127.6,728.0 1184.1,728.0 1240.5,728.0 1309.1,728.0" fill="none" stroke="#e0143c" stroke-width="1.9" stroke-dasharray="1.9 2.5"/>
<path d="M204.7,728.0 208.3,728.0 212.0,733.0 214.8,735.0 219.6,731.1 224.4,728.0 229.0,728.0 232.3,728.0 236.6,735.0 240.8,735.9 245.0,735.0 249.3,730.2 253.5,728.0 259.2,728.0 266.2,729.4 274.7,728.8 286.0,728.2 302.9,728.2 314.2,728.0 321.3,730.5 328.3,729.4 334.0,729.4 339.6,732.2 343.8,738.7 346.7,740.9 350.3,738.7 353.7,731.6 358.0,728.0 361.6,728.0 365.0,733.9 369.3,732.2 373.5,731.1 376.9,738.7 379.7,744.3 382.8,744.3 386.2,734.4 390.4,729.4 397.5,728.0 404.5,729.9 413.0,729.4 418.1,728.0 421.5,728.0 425.7,730.2 429.9,734.4 434.2,731.6 438.4,728.8 445.5,731.1 452.5,729.9 458.2,728.2 462.4,728.0 466.6,730.2 470.9,728.8 475.1,728.0 478.5,728.0 483.6,728.8 490.6,732.2 496.3,730.2 506.2,729.4 514.6,728.2 528.7,728.8 557.0,728.2 560.0,728.2 568.5,729.4 576.9,729.4 586.8,730.5 591.1,728.0 595.3,728.0 599.5,729.4 605.2,733.3 611.4,736.7 616.5,731.1 620.7,728.2 627.7,729.4 636.2,728.8 650.3,728.2 664.4,728.0 671.5,728.0 675.7,730.2 681.4,729.4 687.0,728.0 692.7,728.0 696.1,736.7 699.7,735.9 704.0,735.6 709.6,731.6 715.3,728.0 719.5,728.0 723.7,729.4 729.4,730.5 733.6,735.0 737.3,738.7 740.7,733.9 744.9,728.8 752.0,728.0 757.6,729.4 766.1,729.4 777.4,728.2 785.8,729.4 794.3,728.0 805.6,729.4 822.5,728.0 836.6,728.8 845.1,728.0 853.6,728.8 860.6,731.6 867.7,729.4 884.6,728.8 898.7,728.0 910.0,728.8 918.5,728.0 927.0,728.0 930.0,728.8 935.6,730.5 952.6,729.9 963.9,728.0 972.3,728.2 982.2,730.5 989.3,728.0 997.7,728.0 1006.2,728.0 1014.7,728.0 1021.7,728.0 1027.4,732.2 1034.4,729.9 1048.6,729.9 1059.9,728.2 1076.8,728.0 1099.4,728.2 1127.6,728.2 1184.1,728.0 1240.5,728.2 1309.1,728.0" fill="none" stroke="#2d2d9f" stroke-width="1.9" stroke-dasharray="1.9 2.5"/>
<path d="M204.7,646.9V759.0H1309.1" fill="none" stroke="#262626" stroke-width="1.1"/>
<line x1="244.2" y1="759.0" x2="244.2" y2="748.5" stroke="#262626" stroke-width="1.1"/>
<line x1="365.6" y1="759.0" x2="365.6" y2="748.5" stroke="#262626" stroke-width="1.1"/>
<line x1="490.6" y1="759.0" x2="490.6" y2="748.5" stroke="#262626" stroke-width="1.1"/>
<line x1="616.3" y1="759.0" x2="616.3" y2="748.5" stroke="#262626" stroke-width="1.1"/>
<line x1="728.4" y1="759.0" x2="728.4" y2="748.5" stroke="#262626" stroke-width="1.1"/>
<line x1="853.6" y1="759.0" x2="853.6" y2="748.5" stroke="#262626" stroke-width="1.1"/>
<line x1="974.0" y1="759.0" x2="974.0" y2="748.5" stroke="#262626" stroke-width="1.1"/>
<line x1="1099.5" y1="759.0" x2="1099.5" y2="748.5" stroke="#262626" stroke-width="1.1"/>
<line x1="1220.7" y1="759.0" x2="1220.7" y2="748.5" stroke="#262626" stroke-width="1.1"/>
<line x1="204.7" y1="665.0" x2="215.2" y2="665.0" stroke="#262626" stroke-width="1.1"/>
<text x="193.8" y="676.8" text-anchor="end" font-family="Liberation Sans, sans-serif" font-size="33" fill="#262626">2</text>
<line x1="204.7" y1="697.2" x2="215.2" y2="697.2" stroke="#262626" stroke-width="1.1"/>
<text x="193.8" y="709.0" text-anchor="end" font-family="Liberation Sans, sans-serif" font-size="33" fill="#262626">1</text>
<line x1="204.7" y1="728.0" x2="215.2" y2="728.0" stroke="#262626" stroke-width="1.1"/>
<text x="193.8" y="739.8" text-anchor="end" font-family="Liberation Sans, sans-serif" font-size="33" fill="#262626">0</text>
<text x="193.8" y="770.8" text-anchor="end" font-family="Liberation Sans, sans-serif" font-size="33" fill="#262626">-1</text>
<text x="244.2" y="804" text-anchor="middle" font-family="Liberation Sans, sans-serif" font-size="33" fill="#262626">Nov16</text>
<text x="365.6" y="804" text-anchor="middle" font-family="Liberation Sans, sans-serif" font-size="33" fill="#262626">Dec16</text>
<text x="490.6" y="804" text-anchor="middle" font-family="Liberation Sans, sans-serif" font-size="33" fill="#262626">Jan17</text>
<text x="616.3" y="804" text-anchor="middle" font-family="Liberation Sans, sans-serif" font-size="33" fill="#262626">Feb17</text>
<text x="728.4" y="804" text-anchor="middle" font-family="Liberation Sans, sans-serif" font-size="33" fill="#262626">Mar17</text>
<text x="853.6" y="804" text-anchor="middle" font-family="Liberation Sans, sans-serif" font-size="33" fill="#262626">Apr17</text>
<text x="974.0" y="804" text-anchor="middle" font-family="Liberation Sans, sans-serif" font-size="33" fill="#262626">May17</text>
<text x="1099.5" y="804" text-anchor="middle" font-family="Liberation Sans, sans-serif" font-size="33" fill="#262626">Jun17</text>
<text x="1220.7" y="804" text-anchor="middle" font-family="Liberation Sans, sans-serif" font-size="33" fill="#262626">Jul17</text>
<text x="207.5" y="36.7" font-family="Liberation Sans, sans-serif" font-size="33.5" fill="#262626">×10<tspan dy="-15.5" dx="1.5" font-size="26.5">5</tspan></text>
<text x="207.5" y="236.9" font-family="Liberation Sans, sans-serif" font-size="33.5" fill="#262626">×10<tspan dy="-15.5" dx="1.5" font-size="26.5">4</tspan></text>
<text x="207.5" y="437.1" font-family="Liberation Sans, sans-serif" font-size="33.5" fill="#262626">×10<tspan dy="-15.5" dx="1.5" font-size="26.5">4</tspan></text>
<text x="207.5" y="637.3" font-family="Liberation Sans, sans-serif" font-size="33.5" fill="#262626">×10<tspan dy="-15.5" dx="1.5" font-size="26.5">4</tspan></text>
<text transform="translate(161.2,100.6) rotate(-90)" text-anchor="middle" font-family="Liberation Sans, sans-serif" font-size="36.5" fill="#262626" textLength="156.5" lengthAdjust="spacingAndGlyphs">[ °C km<tspan dy="-13" font-size="27">2</tspan><tspan dy="13"> ]</tspan></text>
<text transform="translate(150.8,304.9) rotate(-90)" text-anchor="middle" font-family="Liberation Sans, sans-serif" font-size="36" fill="#262626" textLength="190" lengthAdjust="spacingAndGlyphs">[ °C km<tspan dy="-13" font-size="27">2</tspan><tspan dy="13">/d ]</tspan></text>
<text transform="translate(150.8,505.1) rotate(-90)" text-anchor="middle" font-family="Liberation Sans, sans-serif" font-size="36" fill="#262626" textLength="190" lengthAdjust="spacingAndGlyphs">[ °C km<tspan dy="-13" font-size="27">2</tspan><tspan dy="13">/d ]</tspan></text>
<text transform="translate(150.8,705.3) rotate(-90)" text-anchor="middle" font-family="Liberation Sans, sans-serif" font-size="36" fill="#262626" textLength="190" lengthAdjust="spacingAndGlyphs">[ °C km<tspan dy="-13" font-size="27">2</tspan><tspan dy="13">/d ]</tspan></text>
<text x="88.3" y="28.7" font-family="DejaVu Sans, sans-serif" font-weight="bold" font-size="27.4" fill="#000">A</text>
<text x="88.3" y="228.9" font-family="DejaVu Sans, sans-serif" font-weight="bold" font-size="27.4" fill="#000">B</text>
<text x="88.3" y="429.1" font-family="DejaVu Sans, sans-serif" font-weight="bold" font-size="27.4" fill="#000">C</text>
<text x="88.3" y="629.3" font-family="DejaVu Sans, sans-serif" font-weight="bold" font-size="27.4" fill="#000">D</text>
<text x="570.4" y="22.4" font-family="DejaVu Sans, sans-serif" font-weight="bold" font-size="30.4" fill="#000" textLength="285.5" lengthAdjust="spacingAndGlyphs">MHW magnitude</text>
<text x="591.2" y="228.0" font-family="DejaVu Sans, sans-serif" font-weight="bold" font-size="30.4" fill="#000" textLength="259.2" lengthAdjust="spacingAndGlyphs">Heat advection</text>
<text x="577.9" y="428.8" font-family="DejaVu Sans, sans-serif" font-weight="bold" font-size="30.4" fill="#000" textLength="288.8" lengthAdjust="spacingAndGlyphs">Air-sea heat flux</text>
<text x="616.0" y="628.8" font-family="DejaVu Sans, sans-serif" font-weight="bold" font-size="30.4" fill="#000" textLength="214.1" lengthAdjust="spacingAndGlyphs">Entrainment</text>
<text x="206" y="185.1" font-family="DejaVu Sans, sans-serif" font-size="25.3" fill="#111" textLength="154" lengthAdjust="spacingAndGlyphs">ASHF driver</text>
<text x="526" y="185.1" font-family="DejaVu Sans, sans-serif" font-size="25.3" fill="#111" textLength="233" lengthAdjust="spacingAndGlyphs">Combined driver</text>
<text x="878" y="185.1" font-family="DejaVu Sans, sans-serif" font-size="25.3" fill="#111" textLength="122" lengthAdjust="spacingAndGlyphs">HA driver</text>
<defs><filter id="bl" x="-5%" y="-5%" width="110%" height="110%"><feGaussianBlur stdDeviation="2.2"/></filter></defs>
<clipPath id="frE"><rect x="117.9" y="942.0" width="265.4" height="574.2"/></clipPath>
<clipPath id="mkE"><path d="M121.5,943.0 354.2,943.0 354.2,1002.3 346.2,1002.3 346.2,1029.9 337.9,1029.9 337.9,1057.1 329.6,1057.1 329.6,1131.8 321.6,1131.8 321.6,1200.0 321.6,1200.0 321.6,1254.8 312.7,1254.8 312.7,1274.1 304.7,1274.1 304.7,1313.2 288.1,1313.2 288.1,1294.3 296.4,1294.3 296.4,1274.1 288.1,1274.1 288.1,1254.8 271.2,1254.8 271.2,1245.9 263.2,1245.9 263.2,1236.2 246.6,1236.2 246.6,1227.3 254.9,1227.3 254.9,1200.0 254.9,1200.0 254.9,1189.0 213.4,1189.0 213.4,1141.6 196.2,1141.6 196.2,1150.5 188.2,1150.5 188.2,1141.6 179.9,1141.6 179.9,1122.9 171.9,1122.9 171.9,1113.4 155.0,1113.4 155.0,1095.1 138.4,1095.1 138.4,1058.0 155.0,1058.0 155.0,1039.3 163.0,1039.3 163.0,1048.2 213.4,1048.2 213.4,1021.0 221.7,1021.0 221.7,993.4 213.4,993.4 213.4,984.5 171.9,984.5 171.9,993.4 146.7,993.4 146.7,984.5 130.4,984.5 130.4,993.4 121.5,993.4ZM122.1,1255.7 130.4,1255.7 130.4,1265.2 138.4,1265.2 138.4,1274.7 122.1,1274.7ZM222.3,1275.0 238.6,1275.0 238.6,1284.5 254.9,1284.5 254.9,1294.3 263.2,1294.3 263.2,1313.2 254.9,1313.2 254.9,1323.0 246.6,1323.0 246.6,1313.2 213.4,1313.2 213.4,1342.3 205.1,1342.3 205.1,1362.4 196.2,1362.4 196.2,1352.1 188.2,1352.1 188.2,1342.3 179.9,1342.3 179.9,1333.4 188.2,1333.4 188.2,1313.2 196.2,1313.2 196.2,1294.3 213.4,1294.3 213.4,1284.5 222.3,1284.5ZM122.1,1371.9 130.4,1371.9 130.4,1381.4 122.1,1381.4ZM118.6,1518.6 118.6,1491.1 138.4,1491.1 138.4,1481.6 146.7,1481.6 146.7,1461.4 155.0,1461.4 155.0,1451.3 163.0,1451.3 163.0,1441.6 188.2,1441.6 188.2,1461.4 196.2,1461.4 196.2,1518.6ZM229.7,1451.3 238.0,1451.3 238.0,1461.4 229.7,1461.4Z"/></clipPath>
<g clip-path="url(#frE)">
<rect x="117.9" y="942.0" width="265.4" height="574.2" fill="#ebecee"/>
<g clip-path="url(#mkE)"><g filter="url(#bl)" fill="none" stroke-width="4.7">
<path d="M346,948.0h4M346,952.0h8M342,956.0h12M346,960.0h8M346,964.0h4" stroke="#e4bdaf"/>
<path d="M346,944.0h8M342,948.0h4M350,948.0h4M342,952.0h4M342,960.0h4M342,964.0h4M350,964.0h4M346,968.0h4M110,1064.0h20M110,1068.0h24M110,1072.0h24M110,1076.0h28M110,1080.0h28M110,1084.0h28M110,1088.0h32M110,1092.0h32M110,1096.0h32M110,1100.0h32M110,1104.0h32M118,1108.0h24M126,1252.0h12M122,1256.0h20M118,1260.0h28M118,1264.0h28M118,1268.0h24M122,1272.0h16" stroke="#e1b2a1"/>
<path d="M346,940.0h8M342,944.0h4M354,948.0h4M338,952.0h4M354,952.0h4M338,956.0h4M354,956.0h4M338,960.0h4M354,960.0h4M338,964.0h4M354,964.0h4M342,968.0h4M350,968.0h4M342,972.0h8M110,1044.0h16M110,1048.0h16M110,1052.0h20M110,1056.0h24M110,1060.0h24M130,1064.0h8M134,1068.0h8M134,1072.0h8M138,1076.0h8M138,1080.0h8M138,1084.0h8M142,1088.0h4M142,1092.0h8M142,1096.0h8M142,1100.0h8M142,1104.0h8M110,1108.0h8M142,1108.0h4M110,1112.0h36M110,1116.0h36M110,1120.0h32M114,1124.0h28M110,1224.0h12M110,1228.0h32M110,1232.0h40M110,1236.0h40M110,1240.0h44M110,1244.0h44M110,1248.0h44M110,1252.0h16M138,1252.0h20M110,1256.0h12M142,1256.0h16M110,1260.0h8M146,1260.0h12M110,1264.0h8M146,1264.0h12M110,1268.0h8M142,1268.0h16M110,1272.0h12M138,1272.0h20M110,1276.0h44M110,1280.0h44M110,1284.0h44M110,1288.0h40M110,1292.0h12M146,1292.0h4M110,1296.0h8M110,1300.0h8M110,1304.0h12M110,1308.0h12M110,1312.0h16M110,1316.0h16M110,1320.0h20M110,1324.0h20M110,1328.0h20M110,1332.0h24M110,1336.0h24M110,1340.0h24M110,1344.0h24M110,1348.0h24M110,1352.0h24M110,1356.0h20M110,1360.0h16M110,1364.0h12M110,1368.0h4" stroke="#dda794"/>
<path d="M346,936.0h8M342,940.0h4M338,944.0h4M354,944.0h4M338,948.0h4M338,968.0h4M354,968.0h4M338,972.0h4M350,972.0h4M342,976.0h8M110,1016.0h4M110,1020.0h8M110,1024.0h12M110,1028.0h12M110,1032.0h16M110,1036.0h16M110,1040.0h20M126,1044.0h8M126,1048.0h8M130,1052.0h8M134,1056.0h8M134,1060.0h8M138,1064.0h8M142,1068.0h4M142,1072.0h8M146,1076.0h4M146,1080.0h8M146,1084.0h8M146,1088.0h8M150,1092.0h4M150,1096.0h4M150,1100.0h4M150,1104.0h4M146,1108.0h8M146,1112.0h8M146,1116.0h8M142,1120.0h8M110,1124.0h4M142,1124.0h8M110,1128.0h36M110,1132.0h36M110,1136.0h32M110,1140.0h32M110,1192.0h4M110,1196.0h8M110,1200.0h16M110,1204.0h24M110,1208.0h32M110,1212.0h40M110,1216.0h40M110,1220.0h44M122,1224.0h32M142,1228.0h16M150,1232.0h8M150,1236.0h12M154,1240.0h8M154,1244.0h8M154,1248.0h12M158,1252.0h8M158,1256.0h8M158,1260.0h8M158,1264.0h8M158,1268.0h8M158,1272.0h8M154,1276.0h12M154,1280.0h12M154,1284.0h12M150,1288.0h12M122,1292.0h24M150,1292.0h12M118,1296.0h44M118,1300.0h40M122,1304.0h36M122,1308.0h36M126,1312.0h32M126,1316.0h28M130,1320.0h24M130,1324.0h24M130,1328.0h24M134,1332.0h20M134,1336.0h20M134,1340.0h20M134,1344.0h20M134,1348.0h20M134,1352.0h20M130,1356.0h24M126,1360.0h28M122,1364.0h32M114,1368.0h40M110,1372.0h40M110,1376.0h40M110,1380.0h28M110,1384.0h4" stroke="#da9d89"/>
<path d="M342,936.0h4M338,940.0h4M354,940.0h4M358,952.0h4M334,956.0h4M358,956.0h4M334,960.0h4M358,960.0h4M110,964.0h4M334,964.0h4M110,968.0h4M110,972.0h4M354,972.0h4M110,976.0h4M338,976.0h4M350,976.0h4M110,980.0h4M346,980.0h4M110,984.0h8M110,988.0h8M110,992.0h8M110,996.0h8M110,1000.0h12M110,1004.0h12M110,1008.0h12M110,1012.0h16M114,1016.0h12M118,1020.0h8M122,1024.0h8M122,1028.0h12M126,1032.0h8M126,1036.0h12M130,1040.0h8M134,1044.0h8M134,1048.0h12M138,1052.0h8M142,1056.0h8M142,1060.0h12M146,1064.0h8M146,1068.0h12M150,1072.0h8M150,1076.0h12M154,1080.0h8M154,1084.0h8M154,1088.0h8M154,1092.0h12M154,1096.0h12M154,1100.0h12M154,1104.0h8M154,1108.0h8M154,1112.0h8M154,1116.0h8M150,1120.0h8M150,1124.0h8M146,1128.0h8M146,1132.0h8M142,1136.0h8M142,1140.0h8M110,1144.0h36M110,1148.0h36M110,1152.0h36M110,1156.0h32M110,1160.0h32M110,1164.0h28M110,1168.0h24M110,1172.0h24M110,1176.0h24M110,1180.0h28M110,1184.0h32M110,1188.0h36M114,1192.0h32M118,1196.0h32M126,1200.0h24M134,1204.0h20M142,1208.0h12M150,1212.0h8M150,1216.0h8M154,1220.0h8M154,1224.0h8M158,1228.0h8M158,1232.0h8M162,1236.0h8M162,1240.0h8M162,1244.0h12M166,1248.0h12M166,1252.0h16M166,1256.0h20M166,1260.0h24M166,1264.0h28M166,1268.0h32M166,1272.0h36M166,1276.0h40M166,1280.0h44M166,1284.0h44M162,1288.0h52M162,1292.0h52M162,1296.0h52M158,1300.0h56M158,1304.0h12M198,1304.0h12M158,1308.0h8M158,1312.0h8M154,1316.0h12M154,1320.0h12M154,1324.0h8M154,1328.0h8M154,1332.0h8M154,1336.0h8M154,1340.0h8M154,1344.0h8M154,1348.0h8M154,1352.0h8M154,1356.0h8M154,1360.0h8M154,1364.0h8M154,1368.0h8M150,1372.0h8M150,1376.0h8M138,1380.0h20M114,1384.0h44M110,1388.0h44M110,1392.0h44M110,1396.0h12" stroke="#d7937d"/>
<path d="M110,936.0h4M338,936.0h4M354,936.0h4M110,940.0h8M110,944.0h8M334,944.0h4M358,944.0h4M110,948.0h8M334,948.0h4M358,948.0h4M110,952.0h8M334,952.0h4M110,956.0h8M110,960.0h12M114,964.0h8M358,964.0h4M114,968.0h8M334,968.0h4M358,968.0h4M114,972.0h8M334,972.0h4M114,976.0h12M354,976.0h4M114,980.0h12M338,980.0h8M350,980.0h4M118,984.0h8M118,988.0h8M118,992.0h12M118,996.0h12M122,1000.0h8M122,1004.0h12M122,1008.0h12M126,1012.0h12M126,1016.0h16M126,1020.0h16M130,1024.0h16M134,1028.0h16M134,1032.0h20M138,1036.0h16M138,1040.0h20M142,1044.0h16M146,1048.0h16M146,1052.0h16M150,1056.0h16M154,1060.0h12M154,1064.0h12M158,1068.0h12M158,1072.0h12M162,1076.0h8M162,1080.0h8M162,1084.0h8M162,1088.0h12M166,1092.0h8M166,1096.0h8M166,1100.0h8M162,1104.0h12M162,1108.0h12M162,1112.0h12M162,1116.0h8M158,1120.0h12M158,1124.0h12M154,1128.0h12M154,1132.0h8M150,1136.0h12M150,1140.0h8M146,1144.0h12M146,1148.0h8M146,1152.0h8M142,1156.0h12M142,1160.0h8M138,1164.0h12M134,1168.0h16M134,1172.0h16M134,1176.0h16M138,1180.0h12M142,1184.0h12M146,1188.0h8M146,1192.0h8M150,1196.0h8M150,1200.0h8M154,1204.0h8M154,1208.0h8M158,1212.0h8M158,1216.0h8M162,1220.0h8M162,1224.0h12M166,1228.0h12M166,1232.0h16M170,1236.0h16M170,1240.0h20M174,1244.0h20M178,1248.0h24M182,1252.0h24M186,1256.0h24M190,1260.0h20M194,1264.0h20M198,1268.0h20M202,1272.0h16M206,1276.0h16M210,1280.0h16M210,1284.0h16M214,1288.0h12M214,1292.0h16M214,1296.0h16M214,1300.0h16M170,1304.0h28M210,1304.0h20M166,1308.0h64M166,1312.0h64M166,1316.0h60M166,1320.0h56M162,1324.0h56M162,1328.0h48M162,1332.0h20M162,1336.0h12M162,1340.0h12M162,1344.0h8M162,1348.0h8M162,1352.0h8M162,1356.0h8M162,1360.0h8M162,1364.0h8M162,1368.0h8M158,1372.0h12M158,1376.0h8M158,1380.0h8M158,1384.0h8M154,1388.0h8M154,1392.0h8M122,1396.0h36M110,1400.0h48M110,1404.0h44M110,1408.0h16" stroke="#d48971"/>
<path d="M114,936.0h8M118,940.0h8M334,940.0h4M358,940.0h4M118,944.0h8M118,948.0h12M118,952.0h12M118,956.0h16M122,960.0h16M122,964.0h20M122,968.0h24M122,972.0h24M358,972.0h4M126,976.0h24M334,976.0h4M126,980.0h28M334,980.0h4M354,980.0h4M126,984.0h32M338,984.0h16M126,988.0h36M130,992.0h36M130,996.0h40M130,1000.0h40M134,1004.0h40M134,1008.0h40M138,1012.0h40M142,1016.0h36M142,1020.0h36M146,1024.0h32M150,1028.0h28M154,1032.0h24M154,1036.0h24M158,1040.0h20M158,1044.0h20M162,1048.0h16M162,1052.0h16M166,1056.0h12M166,1060.0h12M166,1064.0h12M170,1068.0h8M170,1072.0h8M170,1076.0h8M170,1080.0h12M170,1084.0h12M174,1088.0h8M174,1092.0h8M174,1096.0h8M174,1100.0h8M174,1104.0h8M174,1108.0h8M174,1112.0h8M170,1116.0h12M170,1120.0h12M170,1124.0h12M166,1128.0h16M162,1132.0h20M162,1136.0h16M158,1140.0h20M158,1144.0h16M154,1148.0h16M154,1152.0h12M154,1156.0h8M150,1160.0h12M150,1164.0h8M150,1168.0h8M150,1172.0h8M150,1176.0h8M150,1180.0h8M154,1184.0h8M154,1188.0h8M154,1192.0h8M158,1196.0h8M158,1200.0h8M162,1204.0h8M162,1208.0h12M166,1212.0h12M166,1216.0h16M170,1220.0h20M174,1224.0h20M178,1228.0h20M182,1232.0h20M186,1236.0h20M190,1240.0h20M194,1244.0h20M202,1248.0h12M206,1252.0h12M210,1256.0h12M210,1260.0h12M214,1264.0h12M218,1268.0h12M218,1272.0h12M222,1276.0h12M226,1280.0h8M226,1284.0h12M226,1288.0h12M230,1292.0h12M230,1296.0h12M230,1300.0h12M230,1304.0h12M230,1308.0h12M230,1312.0h12M226,1316.0h16M222,1320.0h16M218,1324.0h20M210,1328.0h24M182,1332.0h48M174,1336.0h52M174,1340.0h44M170,1344.0h44M170,1348.0h40M170,1352.0h32M170,1356.0h28M170,1360.0h24M170,1364.0h24M170,1368.0h20M170,1372.0h20M166,1376.0h24M166,1380.0h20M166,1384.0h20M162,1388.0h20M162,1392.0h12M158,1396.0h12M158,1400.0h8M154,1404.0h8M126,1408.0h36M110,1412.0h48M110,1416.0h44M110,1420.0h16M110,1424.0h8M110,1516.0h8M110,1520.0h12M110,1524.0h20" stroke="#d07f66"/>
<path d="M122,936.0h16M334,936.0h4M358,936.0h4M126,940.0h16M126,944.0h16M130,948.0h16M330,948.0h4M362,948.0h4M130,952.0h20M330,952.0h4M362,952.0h4M134,956.0h20M330,956.0h4M362,956.0h4M138,960.0h20M330,960.0h4M362,960.0h4M142,964.0h20M330,964.0h4M146,968.0h20M330,968.0h4M146,972.0h24M330,972.0h4M150,976.0h20M358,976.0h4M154,980.0h20M158,984.0h20M334,984.0h4M354,984.0h4M162,988.0h16M338,988.0h12M166,992.0h16M170,996.0h16M170,1000.0h16M174,1004.0h16M174,1008.0h16M178,1012.0h12M178,1016.0h12M178,1020.0h16M178,1024.0h16M178,1028.0h16M178,1032.0h12M178,1036.0h12M178,1040.0h12M178,1044.0h12M178,1048.0h12M178,1052.0h12M178,1056.0h12M178,1060.0h12M178,1064.0h12M178,1068.0h12M178,1072.0h12M178,1076.0h12M182,1080.0h8M182,1084.0h8M182,1088.0h8M182,1092.0h8M182,1096.0h8M182,1100.0h8M182,1104.0h8M182,1108.0h12M182,1112.0h12M182,1116.0h12M182,1120.0h12M182,1124.0h12M182,1128.0h12M182,1132.0h12M178,1136.0h16M178,1140.0h16M174,1144.0h20M170,1148.0h24M166,1152.0h28M162,1156.0h32M162,1160.0h32M158,1164.0h32M158,1168.0h32M158,1172.0h28M158,1176.0h28M158,1180.0h28M162,1184.0h24M162,1188.0h24M162,1192.0h28M166,1196.0h24M166,1200.0h28M170,1204.0h28M174,1208.0h28M178,1212.0h28M182,1216.0h24M190,1220.0h20M194,1224.0h20M198,1228.0h16M202,1232.0h16M206,1236.0h12M210,1240.0h12M214,1244.0h12M214,1248.0h12M218,1252.0h12M222,1256.0h8M222,1260.0h12M226,1264.0h12M230,1268.0h8M230,1272.0h12M234,1276.0h8M234,1280.0h12M238,1284.0h8M238,1288.0h12M242,1292.0h8M242,1296.0h12M242,1300.0h12M242,1304.0h12M242,1308.0h12M242,1312.0h12M242,1316.0h12M238,1320.0h16M238,1324.0h16M234,1328.0h16M230,1332.0h16M226,1336.0h16M218,1340.0h20M214,1344.0h20M210,1348.0h20M202,1352.0h24M198,1356.0h24M194,1360.0h28M194,1364.0h24M190,1368.0h28M190,1372.0h24M190,1376.0h24M186,1380.0h28M186,1384.0h28M182,1388.0h28M174,1392.0h36M170,1396.0h40M166,1400.0h40M162,1404.0h40M162,1408.0h20M158,1412.0h8M154,1416.0h8M126,1420.0h32M118,1424.0h36M110,1428.0h40M110,1432.0h20M110,1436.0h12M110,1440.0h8M110,1444.0h8M110,1448.0h4M110,1452.0h4M110,1484.0h4M110,1488.0h4M110,1492.0h4M110,1496.0h8M110,1500.0h12M110,1504.0h16M110,1508.0h20M110,1512.0h28M118,1516.0h28M122,1520.0h28M130,1524.0h24" stroke="#cd755a"/>
<path d="M138,936.0h16M142,940.0h16M330,940.0h4M362,940.0h4M142,944.0h20M330,944.0h4M362,944.0h4M146,948.0h16M150,952.0h16M154,956.0h16M158,960.0h12M162,964.0h12M362,964.0h4M166,968.0h12M362,968.0h4M170,972.0h12M362,972.0h4M170,976.0h16M330,976.0h4M174,980.0h12M330,980.0h4M358,980.0h4M178,984.0h12M330,984.0h4M178,988.0h16M334,988.0h4M350,988.0h4M182,992.0h12M338,992.0h8M186,996.0h12M186,1000.0h12M190,1004.0h12M190,1008.0h12M190,1012.0h16M190,1016.0h16M194,1020.0h12M194,1024.0h12M194,1028.0h12M190,1032.0h16M190,1036.0h16M190,1040.0h12M190,1044.0h12M190,1048.0h12M190,1052.0h12M190,1056.0h8M190,1060.0h8M190,1064.0h8M190,1068.0h8M190,1072.0h8M190,1076.0h8M190,1080.0h8M190,1084.0h8M190,1088.0h8M190,1092.0h8M190,1096.0h8M190,1100.0h12M190,1104.0h12M194,1108.0h8M194,1112.0h8M194,1116.0h8M194,1120.0h12M194,1124.0h12M194,1128.0h12M194,1132.0h12M194,1136.0h16M194,1140.0h16M194,1144.0h16M194,1148.0h20M194,1152.0h20M194,1156.0h20M194,1160.0h20M190,1164.0h28M190,1168.0h28M186,1172.0h32M186,1176.0h32M186,1180.0h32M186,1184.0h32M186,1188.0h32M190,1192.0h28M190,1196.0h28M194,1200.0h28M198,1204.0h24M202,1208.0h20M206,1212.0h16M206,1216.0h16M210,1220.0h16M214,1224.0h12M214,1228.0h16M218,1232.0h12M218,1236.0h12M222,1240.0h12M226,1244.0h8M226,1248.0h12M230,1252.0h8M230,1256.0h12M234,1260.0h8M238,1264.0h8M238,1268.0h12M242,1272.0h8M242,1276.0h12M246,1280.0h8M246,1284.0h12M250,1288.0h8M250,1292.0h12M254,1296.0h8M254,1300.0h8M254,1304.0h12M254,1308.0h12M254,1312.0h12M254,1316.0h12M254,1320.0h12M254,1324.0h12M250,1328.0h12M246,1332.0h16M242,1336.0h16M238,1340.0h20M234,1344.0h20M230,1348.0h16M226,1352.0h16M222,1356.0h16M222,1360.0h16M218,1364.0h16M218,1368.0h12M214,1372.0h16M214,1376.0h16M214,1380.0h12M214,1384.0h12M210,1388.0h16M210,1392.0h16M210,1396.0h16M206,1400.0h20M202,1404.0h24M182,1408.0h44M166,1412.0h60M162,1416.0h60M158,1420.0h64M154,1424.0h12M198,1424.0h16M150,1428.0h12M130,1432.0h28M122,1436.0h32M118,1440.0h32M118,1444.0h16M114,1448.0h16M114,1452.0h12M110,1456.0h16M110,1460.0h16M110,1464.0h12M110,1468.0h12M110,1472.0h12M110,1476.0h16M110,1480.0h16M114,1484.0h12M114,1488.0h16M114,1492.0h20M118,1496.0h20M122,1500.0h20M126,1504.0h24M130,1508.0h20M138,1512.0h16M146,1516.0h8M150,1520.0h8M154,1524.0h4" stroke="#ca6c4f"/>
<path d="M154,936.0h16M330,936.0h4M362,936.0h4M158,940.0h16M162,944.0h12M162,948.0h16M166,952.0h12M326,952.0h4M170,956.0h12M326,956.0h4M170,960.0h16M326,960.0h4M174,964.0h12M326,964.0h4M178,968.0h12M326,968.0h4M182,972.0h12M326,972.0h4M186,976.0h12M362,976.0h4M186,980.0h12M190,984.0h12M358,984.0h4M194,988.0h12M330,988.0h4M354,988.0h4M194,992.0h16M334,992.0h4M346,992.0h8M198,996.0h12M338,996.0h4M198,1000.0h16M202,1004.0h16M202,1008.0h16M206,1012.0h12M206,1016.0h16M206,1020.0h16M206,1024.0h16M206,1028.0h16M206,1032.0h16M206,1036.0h12M202,1040.0h16M202,1044.0h12M202,1048.0h12M202,1052.0h12M198,1056.0h12M198,1060.0h12M198,1064.0h12M198,1068.0h12M198,1072.0h8M198,1076.0h8M198,1080.0h8M198,1084.0h8M198,1088.0h8M198,1092.0h12M198,1096.0h12M202,1100.0h8M202,1104.0h8M202,1108.0h8M202,1112.0h12M202,1116.0h12M206,1120.0h8M206,1124.0h12M206,1128.0h12M206,1132.0h12M210,1136.0h12M210,1140.0h12M210,1144.0h16M214,1148.0h12M214,1152.0h16M214,1156.0h16M214,1160.0h20M218,1164.0h16M218,1168.0h20M218,1172.0h20M218,1176.0h24M218,1180.0h24M218,1184.0h24M218,1188.0h24M218,1192.0h24M218,1196.0h24M222,1200.0h20M222,1204.0h20M222,1208.0h20M222,1212.0h20M222,1216.0h20M226,1220.0h16M226,1224.0h16M230,1228.0h12M230,1232.0h12M230,1236.0h12M234,1240.0h12M234,1244.0h12M238,1248.0h12M238,1252.0h12M242,1256.0h12M242,1260.0h12M246,1264.0h12M250,1268.0h8M250,1272.0h12M254,1276.0h8M254,1280.0h12M258,1284.0h8M258,1288.0h12M262,1292.0h8M262,1296.0h8M262,1300.0h12M266,1304.0h8M266,1308.0h8M266,1312.0h8M266,1316.0h8M266,1320.0h8M266,1324.0h8M262,1328.0h12M262,1332.0h12M258,1336.0h16M258,1340.0h12M254,1344.0h16M246,1348.0h20M242,1352.0h20M238,1356.0h20M238,1360.0h16M234,1364.0h16M230,1368.0h16M230,1372.0h12M230,1376.0h12M226,1380.0h16M226,1384.0h16M226,1388.0h16M226,1392.0h16M226,1396.0h16M226,1400.0h16M226,1404.0h16M226,1408.0h16M226,1412.0h16M222,1416.0h20M222,1420.0h20M166,1424.0h32M214,1424.0h28M162,1428.0h80M158,1432.0h12M178,1432.0h64M154,1436.0h12M194,1436.0h44M150,1440.0h12M206,1440.0h24M134,1444.0h24M130,1448.0h24M126,1452.0h24M126,1456.0h24M126,1460.0h20M122,1464.0h20M122,1468.0h20M122,1472.0h20M126,1476.0h16M126,1480.0h20M126,1484.0h24M130,1488.0h20M134,1492.0h16M138,1496.0h16M142,1500.0h12M150,1504.0h4M150,1508.0h8M154,1512.0h4M154,1516.0h4M158,1520.0h4M158,1524.0h4" stroke="#c76346"/>
<path d="M170,936.0h16M174,940.0h12M174,944.0h16M326,944.0h4M366,944.0h4M178,948.0h12M326,948.0h4M366,948.0h4M178,952.0h16M366,952.0h4M182,956.0h12M366,956.0h4M186,960.0h12M366,960.0h4M186,964.0h16M366,964.0h4M190,968.0h16M366,968.0h4M194,972.0h16M198,976.0h16M326,976.0h4M198,980.0h16M326,980.0h4M362,980.0h4M202,984.0h16M326,984.0h4M206,988.0h16M358,988.0h4M210,992.0h16M330,992.0h4M354,992.0h4M210,996.0h16M330,996.0h8M342,996.0h12M214,1000.0h16M334,1000.0h8M218,1004.0h12M218,1008.0h16M218,1012.0h16M222,1016.0h12M222,1020.0h16M222,1024.0h16M222,1028.0h16M222,1032.0h16M218,1036.0h20M218,1040.0h16M214,1044.0h20M214,1048.0h20M214,1052.0h16M210,1056.0h16M210,1060.0h12M210,1064.0h12M210,1068.0h12M206,1072.0h12M206,1076.0h12M206,1080.0h12M206,1084.0h12M206,1088.0h12M210,1092.0h8M210,1096.0h8M210,1100.0h8M210,1104.0h8M210,1108.0h12M214,1112.0h8M214,1116.0h8M214,1120.0h12M218,1124.0h8M218,1128.0h12M218,1132.0h12M222,1136.0h12M222,1140.0h12M226,1144.0h12M226,1148.0h16M230,1152.0h16M230,1156.0h20M234,1160.0h20M234,1164.0h24M238,1168.0h24M238,1172.0h24M242,1176.0h24M242,1180.0h24M242,1184.0h28M242,1188.0h28M242,1192.0h28M242,1196.0h28M242,1200.0h28M242,1204.0h28M242,1208.0h28M242,1212.0h28M242,1216.0h24M242,1220.0h24M242,1224.0h20M242,1228.0h20M242,1232.0h20M242,1236.0h20M246,1240.0h16M246,1244.0h16M250,1248.0h12M250,1252.0h12M254,1256.0h12M254,1260.0h12M258,1264.0h8M258,1268.0h12M262,1272.0h8M262,1276.0h8M266,1280.0h8M266,1284.0h8M270,1288.0h4M270,1292.0h8M270,1296.0h8M274,1300.0h4M274,1304.0h8M274,1308.0h8M274,1312.0h8M274,1316.0h8M274,1320.0h8M274,1324.0h8M274,1328.0h8M274,1332.0h8M274,1336.0h8M270,1340.0h12M270,1344.0h8M266,1348.0h12M262,1352.0h16M258,1356.0h16M254,1360.0h16M250,1364.0h20M246,1368.0h20M242,1372.0h20M242,1376.0h20M242,1380.0h16M242,1384.0h16M242,1388.0h16M242,1392.0h16M242,1396.0h16M242,1400.0h16M242,1404.0h20M242,1408.0h20M242,1412.0h20M242,1416.0h24M242,1420.0h24M242,1424.0h24M242,1428.0h28M170,1432.0h8M242,1432.0h28M166,1436.0h28M238,1436.0h32M162,1440.0h44M230,1440.0h40M158,1444.0h12M182,1444.0h88M154,1448.0h12M194,1448.0h76M150,1452.0h12M202,1452.0h64M150,1456.0h8M210,1456.0h52M146,1460.0h12M142,1464.0h16M142,1468.0h12M142,1472.0h12M142,1476.0h12M146,1480.0h12M150,1484.0h8M150,1488.0h8M150,1492.0h8M154,1496.0h4M154,1500.0h4M154,1504.0h8M158,1508.0h4M158,1512.0h4M158,1516.0h4M162,1520.0h4M162,1524.0h4" stroke="#c55a3c"/>
<path d="M186,936.0h24M326,936.0h4M366,936.0h4M186,940.0h24M326,940.0h4M366,940.0h4M190,944.0h20M190,948.0h24M194,952.0h20M194,956.0h24M322,956.0h4M198,960.0h24M322,960.0h4M202,964.0h20M322,964.0h4M206,968.0h20M322,968.0h4M210,972.0h16M366,972.0h4M214,976.0h16M366,976.0h4M214,980.0h16M218,984.0h16M362,984.0h4M222,988.0h12M326,988.0h4M226,992.0h12M326,992.0h4M358,992.0h4M226,996.0h12M354,996.0h4M230,1000.0h8M330,1000.0h4M342,1000.0h8M230,1004.0h12M334,1004.0h8M234,1008.0h8M234,1012.0h12M234,1016.0h12M238,1020.0h8M238,1024.0h8M238,1028.0h12M238,1032.0h12M238,1036.0h12M234,1040.0h16M234,1044.0h16M234,1048.0h16M230,1052.0h20M226,1056.0h24M222,1060.0h24M222,1064.0h20M222,1068.0h20M218,1072.0h20M218,1076.0h16M218,1080.0h12M218,1084.0h12M218,1088.0h12M218,1092.0h12M218,1096.0h12M218,1100.0h12M218,1104.0h12M222,1108.0h12M222,1112.0h12M222,1116.0h12M226,1120.0h12M226,1124.0h16M230,1128.0h12M230,1132.0h16M234,1136.0h16M234,1140.0h20M238,1144.0h20M242,1148.0h20M246,1152.0h20M250,1156.0h16M254,1160.0h16M258,1164.0h16M262,1168.0h12M262,1172.0h16M266,1176.0h12M266,1180.0h16M270,1184.0h12M270,1188.0h12M270,1192.0h16M270,1196.0h16M270,1200.0h16M270,1204.0h16M270,1208.0h16M270,1212.0h12M266,1216.0h16M266,1220.0h16M262,1224.0h16M262,1228.0h16M262,1232.0h16M262,1236.0h12M262,1240.0h12M262,1244.0h12M262,1248.0h12M262,1252.0h12M266,1256.0h8M266,1260.0h8M266,1264.0h12M270,1268.0h8M270,1272.0h8M270,1276.0h8M274,1280.0h8M274,1284.0h8M274,1288.0h8M278,1292.0h4M278,1296.0h8M278,1300.0h8M282,1304.0h4M282,1308.0h8M282,1312.0h8M282,1316.0h8M282,1320.0h8M282,1324.0h8M282,1328.0h8M282,1332.0h8M282,1336.0h8M282,1340.0h8M278,1344.0h12M278,1348.0h12M278,1352.0h8M274,1356.0h12M270,1360.0h16M270,1364.0h12M266,1368.0h16M262,1372.0h16M262,1376.0h16M258,1380.0h16M258,1384.0h16M258,1388.0h16M258,1392.0h16M258,1396.0h16M258,1400.0h16M262,1404.0h12M262,1408.0h16M262,1412.0h16M266,1416.0h12M266,1420.0h12M266,1424.0h16M270,1428.0h12M270,1432.0h12M270,1436.0h12M270,1440.0h12M170,1444.0h12M270,1444.0h16M166,1448.0h28M270,1448.0h16M162,1452.0h40M266,1452.0h16M158,1456.0h52M262,1456.0h20M158,1460.0h8M190,1460.0h92M158,1464.0h8M198,1464.0h80M154,1468.0h12M202,1468.0h76M154,1472.0h12M206,1472.0h68M154,1476.0h8M214,1476.0h56M158,1480.0h4M222,1480.0h16M158,1484.0h4M158,1488.0h4M158,1492.0h8M158,1496.0h8M158,1500.0h8M162,1504.0h4M162,1508.0h4M162,1512.0h4M162,1516.0h4M222,1516.0h12M166,1520.0h4M218,1520.0h20M166,1524.0h4M218,1524.0h24" stroke="#c15136"/>
<path d="M210,936.0h28M210,940.0h28M322,940.0h4M210,944.0h28M322,944.0h4M214,948.0h20M322,948.0h4M370,948.0h4M214,952.0h20M322,952.0h4M370,952.0h4M218,956.0h20M370,956.0h4M222,960.0h16M370,960.0h4M222,964.0h16M370,964.0h4M226,968.0h12M370,968.0h4M226,972.0h12M322,972.0h4M230,976.0h12M322,976.0h4M230,980.0h12M322,980.0h4M366,980.0h4M234,984.0h8M322,984.0h4M366,984.0h4M234,988.0h12M362,988.0h4M238,992.0h8M362,992.0h4M238,996.0h12M326,996.0h4M358,996.0h4M238,1000.0h12M326,1000.0h4M350,1000.0h8M242,1004.0h8M330,1004.0h4M342,1004.0h8M242,1008.0h12M330,1008.0h12M246,1012.0h8M246,1016.0h8M246,1020.0h12M246,1024.0h12M250,1028.0h8M250,1032.0h8M250,1036.0h8M250,1040.0h12M250,1044.0h12M250,1048.0h12M250,1052.0h12M250,1056.0h12M246,1060.0h16M242,1064.0h20M242,1068.0h16M238,1072.0h20M234,1076.0h24M230,1080.0h24M230,1084.0h24M230,1088.0h24M230,1092.0h20M230,1096.0h20M230,1100.0h20M230,1104.0h20M234,1108.0h16M234,1112.0h20M234,1116.0h20M238,1120.0h20M242,1124.0h16M242,1128.0h20M246,1132.0h16M250,1136.0h16M254,1140.0h16M258,1144.0h12M262,1148.0h12M266,1152.0h12M266,1156.0h12M270,1160.0h12M274,1164.0h12M274,1168.0h12M278,1172.0h12M278,1176.0h12M282,1180.0h8M282,1184.0h12M282,1188.0h12M286,1192.0h8M286,1196.0h8M286,1200.0h8M286,1204.0h8M286,1208.0h8M282,1212.0h12M282,1216.0h12M282,1220.0h12M278,1224.0h16M278,1228.0h12M278,1232.0h12M274,1236.0h16M274,1240.0h12M274,1244.0h12M274,1248.0h12M274,1252.0h12M274,1256.0h12M274,1260.0h12M278,1264.0h8M278,1268.0h8M278,1272.0h8M278,1276.0h8M282,1280.0h4M282,1284.0h8M282,1288.0h8M282,1292.0h8M286,1296.0h8M286,1300.0h8M286,1304.0h8M290,1308.0h4M290,1312.0h8M290,1316.0h8M290,1320.0h8M290,1324.0h8M290,1328.0h8M290,1332.0h8M290,1336.0h8M290,1340.0h8M290,1344.0h8M290,1348.0h8M286,1352.0h12M286,1356.0h12M286,1360.0h12M282,1364.0h12M282,1368.0h12M278,1372.0h16M278,1376.0h12M274,1380.0h16M274,1384.0h16M274,1388.0h12M274,1392.0h12M274,1396.0h12M274,1400.0h12M274,1404.0h12M278,1408.0h12M278,1412.0h12M278,1416.0h12M278,1420.0h12M282,1424.0h12M282,1428.0h12M282,1432.0h12M282,1436.0h12M282,1440.0h12M286,1444.0h8M286,1448.0h8M282,1452.0h12M282,1456.0h12M166,1460.0h24M282,1460.0h12M166,1464.0h32M278,1464.0h16M166,1468.0h36M278,1468.0h16M166,1472.0h40M274,1472.0h16M162,1476.0h52M270,1476.0h20M162,1480.0h12M198,1480.0h24M238,1480.0h48M162,1484.0h8M202,1484.0h80M162,1488.0h8M206,1488.0h72M166,1492.0h4M210,1492.0h64M166,1496.0h4M214,1496.0h56M166,1500.0h4M214,1500.0h52M166,1504.0h4M214,1504.0h48M166,1508.0h4M214,1508.0h44M166,1512.0h4M214,1512.0h44M166,1516.0h4M214,1516.0h8M234,1516.0h24M210,1520.0h8M238,1520.0h20M170,1524.0h4M210,1524.0h8M242,1524.0h20" stroke="#bd4730"/>
<path d="M238,936.0h16M322,936.0h4M370,936.0h4M238,940.0h16M318,940.0h4M370,940.0h4M238,944.0h12M318,944.0h4M370,944.0h4M234,948.0h16M318,948.0h4M234,952.0h16M318,952.0h4M238,956.0h12M318,956.0h4M238,960.0h12M318,960.0h4M238,964.0h12M318,964.0h4M238,968.0h12M318,968.0h4M238,972.0h16M318,972.0h4M370,972.0h4M242,976.0h12M370,976.0h4M242,980.0h12M370,980.0h4M242,984.0h12M246,988.0h8M322,988.0h4M366,988.0h4M246,992.0h12M322,992.0h4M250,996.0h8M322,996.0h4M362,996.0h4M250,1000.0h8M358,1000.0h4M250,1004.0h8M326,1004.0h4M350,1004.0h8M254,1008.0h8M326,1008.0h4M342,1008.0h8M254,1012.0h8M330,1012.0h12M254,1016.0h8M258,1020.0h8M258,1024.0h8M258,1028.0h8M258,1032.0h8M258,1036.0h12M262,1040.0h8M262,1044.0h8M262,1048.0h8M262,1052.0h12M262,1056.0h12M262,1060.0h12M262,1064.0h12M258,1068.0h16M258,1072.0h16M258,1076.0h16M254,1080.0h20M254,1084.0h16M254,1088.0h16M250,1092.0h20M250,1096.0h20M250,1100.0h20M250,1104.0h20M250,1108.0h20M254,1112.0h16M254,1116.0h16M258,1120.0h16M258,1124.0h16M262,1128.0h12M262,1132.0h16M266,1136.0h12M270,1140.0h12M270,1144.0h12M274,1148.0h12M278,1152.0h8M278,1156.0h12M282,1160.0h8M286,1164.0h8M286,1168.0h8M290,1172.0h4M290,1176.0h8M290,1180.0h8M294,1184.0h4M294,1188.0h8M294,1192.0h8M294,1196.0h8M294,1200.0h8M294,1204.0h8M294,1208.0h8M294,1212.0h8M294,1216.0h8M294,1220.0h8M294,1224.0h8M290,1228.0h12M290,1232.0h8M290,1236.0h8M286,1240.0h12M286,1244.0h12M286,1248.0h8M286,1252.0h8M286,1256.0h8M286,1260.0h8M286,1264.0h8M286,1268.0h8M286,1272.0h8M286,1276.0h8M286,1280.0h8M290,1284.0h4M290,1288.0h8M290,1292.0h8M294,1296.0h4M294,1300.0h4M294,1304.0h8M294,1308.0h8M298,1312.0h4M298,1316.0h4M298,1320.0h4M298,1324.0h8M298,1328.0h8M298,1332.0h8M298,1336.0h8M298,1340.0h8M298,1344.0h8M298,1348.0h8M298,1352.0h8M298,1356.0h8M298,1360.0h8M294,1364.0h8M294,1368.0h8M294,1372.0h8M290,1376.0h12M290,1380.0h12M290,1384.0h8M286,1388.0h12M286,1392.0h12M286,1396.0h12M286,1400.0h12M286,1404.0h12M290,1408.0h8M290,1412.0h8M290,1416.0h8M290,1420.0h8M294,1424.0h8M294,1428.0h8M294,1432.0h8M294,1436.0h8M294,1440.0h8M294,1444.0h8M294,1448.0h8M294,1452.0h8M294,1456.0h8M294,1460.0h8M294,1464.0h8M294,1468.0h8M290,1472.0h12M290,1476.0h8M174,1480.0h24M286,1480.0h12M170,1484.0h32M282,1484.0h16M170,1488.0h12M194,1488.0h12M278,1488.0h16M170,1492.0h8M202,1492.0h8M274,1492.0h20M170,1496.0h4M206,1496.0h8M270,1496.0h20M170,1500.0h4M206,1500.0h8M266,1500.0h20M170,1504.0h4M210,1504.0h4M262,1504.0h20M170,1508.0h4M210,1508.0h4M258,1508.0h24M170,1512.0h4M210,1512.0h4M258,1512.0h20M170,1516.0h4M210,1516.0h4M258,1516.0h20M170,1520.0h4M206,1520.0h4M258,1520.0h20M174,1524.0h4M202,1524.0h8M262,1524.0h16" stroke="#b93d2a"/>
<path d="M254,936.0h12M314,936.0h8M254,940.0h8M314,940.0h4M374,940.0h4M250,944.0h12M314,944.0h4M374,944.0h4M250,948.0h12M314,948.0h4M374,948.0h4M250,952.0h12M314,952.0h4M374,952.0h4M250,956.0h12M314,956.0h4M374,956.0h4M250,960.0h12M314,960.0h4M374,960.0h4M250,964.0h12M314,964.0h4M374,964.0h4M250,968.0h12M314,968.0h4M374,968.0h4M254,972.0h8M374,972.0h4M254,976.0h8M318,976.0h4M374,976.0h4M254,980.0h8M318,980.0h4M254,984.0h8M318,984.0h4M370,984.0h4M254,988.0h8M318,988.0h4M370,988.0h4M258,992.0h4M318,992.0h4M366,992.0h4M258,996.0h8M366,996.0h4M258,1000.0h8M322,1000.0h4M362,1000.0h4M258,1004.0h8M322,1004.0h4M358,1004.0h4M262,1008.0h4M322,1008.0h4M350,1008.0h8M262,1012.0h8M326,1012.0h4M342,1012.0h8M262,1016.0h8M326,1016.0h16M266,1020.0h4M330,1020.0h8M266,1024.0h4M266,1028.0h8M266,1032.0h8M270,1036.0h4M270,1040.0h8M270,1044.0h8M270,1048.0h8M274,1052.0h4M274,1056.0h8M274,1060.0h8M274,1064.0h8M274,1068.0h8M274,1072.0h8M274,1076.0h8M274,1080.0h12M270,1084.0h16M270,1088.0h16M270,1092.0h16M270,1096.0h16M270,1100.0h16M270,1104.0h16M270,1108.0h16M270,1112.0h16M270,1116.0h16M274,1120.0h12M274,1124.0h12M274,1128.0h16M278,1132.0h12M278,1136.0h12M282,1140.0h8M282,1144.0h12M286,1148.0h8M286,1152.0h8M290,1156.0h8M290,1160.0h8M294,1164.0h4M294,1168.0h8M294,1172.0h8M298,1176.0h8M298,1180.0h8M298,1184.0h12M302,1188.0h8M302,1192.0h8M302,1196.0h12M302,1200.0h12M302,1204.0h12M302,1208.0h12M302,1212.0h12M302,1216.0h12M302,1220.0h8M302,1224.0h8M302,1228.0h8M298,1232.0h8M298,1236.0h8M298,1240.0h8M298,1244.0h4M294,1248.0h8M294,1252.0h8M294,1256.0h8M294,1260.0h8M294,1264.0h8M294,1268.0h8M294,1272.0h8M294,1276.0h8M294,1280.0h8M294,1284.0h8M298,1288.0h4M298,1292.0h4M298,1296.0h4M298,1300.0h8M302,1304.0h4M302,1308.0h4M302,1312.0h4M302,1316.0h8M302,1320.0h8M306,1324.0h4M306,1328.0h4M306,1332.0h8M306,1336.0h8M306,1340.0h8M306,1344.0h8M306,1348.0h8M306,1352.0h12M306,1356.0h8M306,1360.0h8M302,1364.0h12M302,1368.0h12M302,1372.0h8M302,1376.0h8M302,1380.0h8M298,1384.0h12M298,1388.0h8M298,1392.0h8M298,1396.0h8M298,1400.0h8M298,1404.0h8M298,1408.0h8M298,1412.0h8M298,1416.0h8M298,1420.0h8M302,1424.0h4M302,1428.0h4M302,1432.0h8M302,1436.0h8M302,1440.0h8M302,1444.0h8M302,1448.0h8M302,1452.0h8M302,1456.0h8M302,1460.0h8M302,1464.0h8M302,1468.0h8M302,1472.0h8M298,1476.0h8M298,1480.0h8M298,1484.0h8M182,1488.0h12M294,1488.0h12M178,1492.0h24M294,1492.0h8M174,1496.0h8M198,1496.0h8M290,1496.0h12M174,1500.0h4M202,1500.0h4M286,1500.0h12M174,1504.0h4M202,1504.0h8M282,1504.0h16M174,1508.0h4M206,1508.0h4M282,1508.0h16M174,1512.0h4M206,1512.0h4M278,1512.0h16M174,1516.0h4M202,1516.0h8M278,1516.0h16M174,1520.0h8M202,1520.0h4M278,1520.0h12M178,1524.0h8M198,1524.0h4M278,1524.0h12" stroke="#b23129"/>
<path d="M266,936.0h48M374,936.0h4M262,940.0h52M378,940.0h4M262,944.0h52M378,944.0h4M262,948.0h52M378,948.0h4M262,952.0h52M378,952.0h4M262,956.0h20M290,956.0h24M378,956.0h4M262,960.0h16M298,960.0h16M378,960.0h4M262,964.0h16M306,964.0h8M378,964.0h4M262,968.0h12M306,968.0h8M378,968.0h4M262,972.0h12M310,972.0h8M378,972.0h4M262,976.0h12M310,976.0h8M378,976.0h4M262,980.0h8M314,980.0h4M374,980.0h8M262,984.0h8M314,984.0h4M374,984.0h4M262,988.0h8M314,988.0h4M374,988.0h4M262,992.0h8M370,992.0h8M266,996.0h4M318,996.0h4M370,996.0h4M266,1000.0h8M318,1000.0h4M366,1000.0h4M266,1004.0h8M318,1004.0h4M362,1004.0h8M266,1008.0h8M358,1008.0h8M270,1012.0h4M322,1012.0h4M350,1012.0h12M270,1016.0h8M322,1016.0h4M342,1016.0h12M270,1020.0h8M326,1020.0h4M338,1020.0h8M270,1024.0h8M326,1024.0h16M274,1028.0h4M330,1028.0h8M274,1032.0h8M274,1036.0h8M278,1040.0h4M278,1044.0h8M278,1048.0h8M278,1052.0h8M282,1056.0h8M282,1060.0h8M282,1064.0h8M282,1068.0h8M282,1072.0h12M282,1076.0h12M286,1080.0h8M286,1084.0h8M286,1088.0h8M286,1092.0h8M286,1096.0h8M286,1100.0h8M286,1104.0h8M366,1104.0h16M286,1108.0h8M358,1108.0h36M286,1112.0h12M354,1112.0h40M286,1116.0h12M354,1116.0h40M286,1120.0h12M354,1120.0h40M286,1124.0h12M358,1124.0h36M290,1128.0h8M362,1128.0h32M290,1132.0h8M366,1132.0h28M290,1136.0h8M370,1136.0h24M290,1140.0h8M378,1140.0h16M294,1144.0h8M386,1144.0h8M294,1148.0h8M294,1152.0h12M298,1156.0h8M298,1160.0h12M298,1164.0h12M302,1168.0h12M302,1172.0h12M306,1176.0h12M306,1180.0h12M310,1184.0h12M310,1188.0h12M310,1192.0h12M314,1196.0h12M314,1200.0h12M314,1204.0h12M314,1208.0h12M314,1212.0h12M314,1216.0h12M310,1220.0h16M310,1224.0h12M310,1228.0h12M306,1232.0h16M306,1236.0h12M306,1240.0h8M302,1244.0h12M302,1248.0h8M302,1252.0h8M302,1256.0h8M302,1260.0h4M302,1264.0h4M302,1268.0h4M302,1272.0h4M302,1276.0h4M302,1280.0h4M302,1284.0h4M302,1288.0h8M302,1292.0h8M302,1296.0h8M306,1300.0h4M306,1304.0h8M306,1308.0h8M306,1312.0h8M310,1316.0h8M310,1320.0h8M310,1324.0h12M310,1328.0h12M314,1332.0h8M314,1336.0h12M314,1340.0h12M314,1344.0h16M314,1348.0h16M318,1352.0h32M314,1356.0h56M314,1360.0h68M314,1364.0h76M314,1368.0h80M310,1372.0h84M310,1376.0h84M310,1380.0h20M334,1380.0h60M310,1384.0h16M338,1384.0h56M306,1388.0h20M346,1388.0h48M306,1392.0h16M354,1392.0h40M306,1396.0h16M366,1396.0h28M306,1400.0h12M306,1404.0h12M306,1408.0h12M306,1412.0h12M306,1416.0h12M306,1420.0h12M306,1424.0h12M306,1428.0h12M310,1432.0h8M310,1436.0h8M310,1440.0h8M310,1444.0h8M310,1448.0h12M310,1452.0h12M310,1456.0h12M310,1460.0h12M310,1464.0h12M310,1468.0h12M310,1472.0h12M306,1476.0h16M306,1480.0h12M306,1484.0h12M306,1488.0h8M302,1492.0h12M182,1496.0h16M302,1496.0h8M178,1500.0h24M298,1500.0h12M178,1504.0h4M198,1504.0h4M298,1504.0h8M178,1508.0h4M198,1508.0h8M298,1508.0h8M178,1512.0h4M198,1512.0h8M294,1512.0h8M178,1516.0h4M198,1516.0h4M294,1516.0h8M182,1520.0h4M194,1520.0h8M290,1520.0h12M186,1524.0h12M290,1524.0h12" stroke="#aa2528"/>
<path d="M378,936.0h8M382,940.0h4M382,944.0h4M382,948.0h4M382,952.0h8M282,956.0h8M382,956.0h8M278,960.0h20M382,960.0h8M278,964.0h28M382,964.0h8M274,968.0h32M382,968.0h8M274,972.0h36M382,972.0h8M274,976.0h36M382,976.0h8M270,980.0h44M382,980.0h8M270,984.0h16M298,984.0h16M378,984.0h12M270,988.0h16M306,988.0h8M378,988.0h12M270,992.0h16M310,992.0h8M378,992.0h12M270,996.0h16M314,996.0h4M374,996.0h12M274,1000.0h12M314,1000.0h4M370,1000.0h12M274,1004.0h12M314,1004.0h4M370,1004.0h8M274,1008.0h12M318,1008.0h4M366,1008.0h8M274,1012.0h12M318,1012.0h4M362,1012.0h8M278,1016.0h8M318,1016.0h4M354,1016.0h12M278,1020.0h12M318,1020.0h8M346,1020.0h12M278,1024.0h12M322,1024.0h4M342,1024.0h8M278,1028.0h12M322,1028.0h8M338,1028.0h8M282,1032.0h8M322,1032.0h20M282,1036.0h12M326,1036.0h16M282,1040.0h12M326,1040.0h12M286,1044.0h12M286,1048.0h12M286,1052.0h12M290,1056.0h12M290,1060.0h12M290,1064.0h16M290,1068.0h16M294,1072.0h16M294,1076.0h16M326,1076.0h12M294,1080.0h20M318,1080.0h48M294,1084.0h100M294,1088.0h100M294,1092.0h100M294,1096.0h100M294,1100.0h100M294,1104.0h72M382,1104.0h12M294,1108.0h64M298,1112.0h56M298,1116.0h56M298,1120.0h56M298,1124.0h20M322,1124.0h36M298,1128.0h20M322,1128.0h40M298,1132.0h20M322,1132.0h44M298,1136.0h20M322,1136.0h48M298,1140.0h20M326,1140.0h52M302,1144.0h16M326,1144.0h60M302,1148.0h92M306,1152.0h88M306,1156.0h88M310,1160.0h84M310,1164.0h84M314,1168.0h40M390,1168.0h4M314,1172.0h36M318,1176.0h32M318,1180.0h32M322,1184.0h28M322,1188.0h32M322,1192.0h32M326,1196.0h28M326,1200.0h32M326,1204.0h32M326,1208.0h32M326,1212.0h32M326,1216.0h36M326,1220.0h36M322,1224.0h40M322,1228.0h40M322,1232.0h40M318,1236.0h44M314,1240.0h40M314,1244.0h16M310,1248.0h16M310,1252.0h12M310,1256.0h12M306,1260.0h12M306,1264.0h12M306,1268.0h12M306,1272.0h8M306,1276.0h8M306,1280.0h8M306,1284.0h12M310,1288.0h8M310,1292.0h8M310,1296.0h8M310,1300.0h12M314,1304.0h8M314,1308.0h8M314,1312.0h12M318,1316.0h8M318,1320.0h12M322,1324.0h12M322,1328.0h24M322,1332.0h40M326,1336.0h68M326,1340.0h68M330,1344.0h64M330,1348.0h64M350,1352.0h44M370,1356.0h24M382,1360.0h12M390,1364.0h4M330,1380.0h4M326,1384.0h12M326,1388.0h20M322,1392.0h32M322,1396.0h44M318,1400.0h76M318,1404.0h76M318,1408.0h76M318,1412.0h76M318,1416.0h76M318,1420.0h20M374,1420.0h20M318,1424.0h16M318,1428.0h12M318,1432.0h12M318,1436.0h12M318,1440.0h16M318,1444.0h16M322,1448.0h12M322,1452.0h12M322,1456.0h16M322,1460.0h16M322,1464.0h16M322,1468.0h16M322,1472.0h20M322,1476.0h20M318,1480.0h24M318,1484.0h24M314,1488.0h24M314,1492.0h16M310,1496.0h16M310,1500.0h16M182,1504.0h16M306,1504.0h16M182,1508.0h16M306,1508.0h12M182,1512.0h16M302,1512.0h12M182,1516.0h16M302,1516.0h12M386,1516.0h8M186,1520.0h8M302,1520.0h8M382,1520.0h12M302,1524.0h8M378,1524.0h16" stroke="#a11d29"/>
<path d="M386,936.0h8M386,940.0h8M386,944.0h8M386,948.0h8M390,952.0h4M390,956.0h4M390,960.0h4M390,964.0h4M390,968.0h4M390,972.0h4M390,976.0h4M390,980.0h4M286,984.0h12M390,984.0h4M286,988.0h20M390,988.0h4M286,992.0h24M390,992.0h4M286,996.0h28M386,996.0h8M286,1000.0h28M382,1000.0h12M286,1004.0h28M378,1004.0h16M286,1008.0h32M374,1008.0h20M286,1012.0h32M370,1012.0h24M286,1016.0h32M366,1016.0h28M290,1020.0h28M358,1020.0h36M290,1024.0h32M350,1024.0h44M290,1028.0h32M346,1028.0h48M290,1032.0h32M342,1032.0h20M382,1032.0h12M294,1036.0h32M342,1036.0h12M386,1036.0h8M294,1040.0h32M338,1040.0h12M386,1040.0h8M298,1044.0h52M390,1044.0h4M298,1048.0h52M390,1048.0h4M298,1052.0h52M386,1052.0h8M302,1056.0h56M378,1056.0h16M302,1060.0h92M306,1064.0h88M306,1068.0h88M310,1072.0h84M310,1076.0h16M338,1076.0h56M314,1080.0h4M366,1080.0h28M318,1124.0h4M318,1128.0h4M318,1132.0h4M318,1136.0h4M318,1140.0h8M318,1144.0h8M354,1168.0h36M350,1172.0h44M350,1176.0h44M350,1180.0h44M350,1184.0h44M354,1188.0h40M354,1192.0h40M354,1196.0h40M358,1200.0h36M358,1204.0h36M358,1208.0h36M358,1212.0h36M362,1216.0h32M362,1220.0h32M362,1224.0h32M362,1228.0h32M362,1232.0h32M362,1236.0h32M354,1240.0h40M330,1244.0h64M326,1248.0h68M322,1252.0h72M322,1256.0h72M318,1260.0h76M318,1264.0h76M318,1268.0h76M314,1272.0h16M346,1272.0h48M314,1276.0h16M354,1276.0h40M314,1280.0h12M358,1280.0h36M318,1284.0h8M362,1284.0h32M318,1288.0h12M366,1288.0h28M318,1292.0h12M366,1292.0h28M318,1296.0h12M366,1296.0h28M322,1300.0h12M366,1300.0h28M322,1304.0h24M362,1304.0h32M322,1308.0h72M326,1312.0h68M326,1316.0h68M330,1320.0h64M334,1324.0h60M346,1328.0h48M362,1332.0h32M338,1420.0h36M334,1424.0h60M330,1428.0h64M330,1432.0h64M330,1436.0h64M334,1440.0h60M334,1444.0h60M334,1448.0h44M334,1452.0h40M338,1456.0h36M338,1460.0h36M338,1464.0h36M338,1468.0h40M342,1472.0h36M342,1476.0h40M342,1480.0h44M342,1484.0h52M338,1488.0h56M330,1492.0h64M326,1496.0h68M326,1500.0h68M322,1504.0h72M318,1508.0h76M314,1512.0h80M314,1516.0h72M310,1520.0h72M310,1524.0h20M334,1524.0h44" stroke="#961a2a"/>
<path d="M362,1032.0h20M354,1036.0h32M350,1040.0h36M350,1044.0h40M350,1048.0h40M350,1052.0h36M358,1056.0h20M330,1272.0h16M330,1276.0h24M326,1280.0h32M326,1284.0h36M330,1288.0h36M330,1292.0h36M330,1296.0h36M334,1300.0h32M346,1304.0h16M378,1448.0h16M374,1452.0h20M374,1456.0h20M374,1460.0h20M374,1464.0h20M378,1468.0h16M378,1472.0h16M382,1476.0h12M386,1480.0h8M330,1524.0h4" stroke="#8c172c"/>
</g></g>
<g clip-path="url(#mkE)"><path d="M347.9,941.8 343.9,945.2 341.8,952.0 341.5,960.0 343.9,967.4 347.9,969.4 351.9,966.8 354.3,960.0 354.6,952.0 352.1,944.0 347.9,941.8M111.9,1104.7 119.9,1107.3 123.9,1108.4 131.9,1109.8 138.5,1108.0 140.4,1104.0 141.0,1096.0 140.1,1088.0 139.1,1084.0 136.1,1076.0 134.0,1072.0 131.5,1068.0 123.9,1064.2 118.5,1064.0 111.9,1063.7M123.9,1254.5 120.1,1260.0 119.6,1264.0 120.7,1268.0 124.3,1272.0 131.9,1273.5 136.4,1272.0 140.9,1268.0 142.3,1260.0 139.9,1256.0 131.9,1252.2 123.9,1254.5M342.9,936.0 339.9,940.6 337.6,948.0 336.5,956.0 336.7,964.0 338.6,972.0 341.2,976.0 347.9,978.4 352.5,976.0 355.9,971.6 358.4,964.0 359.3,956.0 358.7,948.0 356.4,940.0 353.8,936.0M111.9,1153.9 115.9,1151.5 123.9,1149.5 131.9,1148.8 139.9,1148.7 142.6,1144.0 144.8,1140.0 147.9,1134.5 151.4,1128.0 153.3,1124.0 155.9,1116.4 157.0,1112.0 158.4,1104.0 158.8,1096.0 158.1,1088.0 156.3,1080.0 155.0,1076.0 151.9,1070.0 149.1,1064.0 146.6,1060.0 143.9,1055.2 139.9,1048.7 136.8,1044.0 134.2,1040.0 131.6,1036.0 127.9,1030.0 124.4,1024.0 122.3,1020.0 119.9,1015.1 116.9,1008.0 115.4,1004.0 113.0,996.0 111.9,991.4M111.9,1390.5 119.9,1389.2 127.9,1388.2 131.9,1387.9 139.9,1387.2 147.9,1386.8 151.9,1382.6 154.3,1376.0 155.9,1368.9 156.6,1364.0 157.3,1356.0 157.7,1348.0 157.8,1340.0 158.1,1332.0 158.7,1324.0 159.8,1316.0 160.6,1312.0 162.7,1304.0 164.0,1300.0 166.8,1292.0 168.2,1288.0 171.9,1280.0 175.9,1276.9 177.4,1272.0 175.9,1266.8 172.4,1260.0 171.0,1256.0 168.0,1248.0 166.7,1244.0 163.9,1236.7 161.9,1232.0 159.9,1227.8 156.1,1220.0 154.0,1216.0 151.9,1211.9 148.0,1204.0 144.3,1200.0 139.9,1197.5 135.9,1195.5 129.8,1192.0 124.0,1188.0 119.9,1184.5 115.9,1180.4 112.5,1176.0 111.9,1175.1M337.0,936.0 335.4,940.0 333.4,948.0 332.5,956.0 332.4,964.0 333.2,972.0 335.5,980.0 338.5,984.0 343.9,986.3 351.9,984.3 355.9,980.7 358.8,976.0 360.5,972.0 362.4,964.0 363.0,956.0 362.5,948.0 360.9,940.0 359.6,936.0M111.9,1427.2 116.1,1424.0 123.9,1420.3 127.9,1419.1 135.9,1417.8 143.9,1417.6 151.9,1416.0 155.8,1412.0 159.6,1408.0 163.1,1404.0 166.1,1400.0 169.2,1396.0 173.4,1392.0 179.4,1388.0 183.3,1384.0 185.9,1380.0 187.9,1375.9 191.0,1368.0 192.6,1364.0 195.9,1358.2 199.9,1353.8 203.9,1350.9 208.8,1348.0 214.0,1344.0 219.0,1340.0 223.9,1336.3 227.9,1333.0 231.9,1329.4 235.9,1324.8 238.9,1320.0 240.6,1316.0 242.1,1308.0 241.7,1300.0 239.9,1292.4 238.3,1288.0 235.9,1282.4 232.6,1276.0 230.4,1272.0 227.9,1267.9 223.9,1261.5 220.3,1256.0 217.6,1252.0 215.0,1248.0 211.9,1243.5 207.9,1238.6 203.9,1234.7 199.9,1230.9 195.9,1227.2 191.9,1223.6 187.8,1220.0 183.2,1216.0 178.7,1212.0 174.2,1208.0 169.8,1204.0 166.8,1200.0 163.9,1194.8 161.5,1188.0 159.9,1181.4 159.1,1176.0 158.9,1168.0 159.9,1160.1 161.8,1156.0 164.7,1152.0 169.1,1148.0 172.8,1144.0 175.9,1139.8 179.6,1132.0 180.8,1128.0 182.1,1120.0 182.4,1112.0 182.1,1104.0 181.5,1096.0 180.6,1088.0 179.9,1082.0 179.1,1076.0 178.0,1068.0 177.0,1060.0 176.1,1052.0 175.8,1048.0 175.7,1040.0 175.9,1034.8 176.4,1028.0 176.6,1020.0 175.9,1014.2 174.1,1008.0 171.9,1001.3 168.7,996.0 165.9,992.0 162.5,988.0 158.7,984.0 154.8,980.0 150.9,976.0 147.0,972.0 143.2,968.0 139.7,964.0 135.9,959.4 131.9,954.0 128.1,948.0 125.8,944.0 123.8,940.0 122.7,936.0M128.0,1524.0 127.9,1523.9 123.9,1521.8 120.9,1520.0 119.9,1519.3 115.9,1516.4 115.4,1516.0 111.9,1512.8M332.1,936.0 330.9,940.0 329.2,948.0 328.4,956.0 328.3,964.0 328.7,972.0 329.8,980.0 331.9,987.7 334.6,992.0 339.9,994.6 347.9,993.3 351.9,991.6 356.6,988.0 359.9,983.9 363.6,976.0 364.8,972.0 366.2,964.0 366.6,956.0 366.3,948.0 365.0,940.0 364.0,936.0M160.3,1524.0 158.6,1520.0 155.9,1512.7 154.1,1508.0 151.9,1501.5 148.6,1496.0 144.2,1492.0 139.9,1488.4 135.9,1484.0 133.6,1480.0 131.9,1475.8 130.9,1468.0 131.9,1461.4 134.4,1456.0 138.0,1452.0 143.9,1448.6 147.9,1447.5 151.9,1444.0 155.9,1438.8 159.9,1434.6 163.9,1430.9 167.9,1427.6 175.9,1426.2 183.9,1427.3 187.9,1428.0 195.9,1429.8 203.4,1432.0 207.9,1433.4 215.9,1433.4 221.7,1432.0 227.9,1428.6 231.6,1424.0 233.2,1420.0 234.3,1412.0 234.2,1404.0 233.8,1396.0 233.8,1388.0 234.6,1380.0 235.9,1374.8 238.5,1368.0 240.7,1364.0 243.9,1359.2 247.9,1355.7 252.2,1352.0 256.7,1348.0 260.6,1344.0 263.9,1340.0 267.9,1333.3 269.6,1328.0 270.7,1320.0 270.4,1312.0 269.1,1304.0 267.9,1299.4 265.2,1292.0 263.5,1288.0 259.9,1280.3 257.7,1276.0 255.5,1272.0 251.9,1265.6 248.6,1260.0 246.2,1256.0 243.9,1252.0 240.4,1244.0 238.8,1240.0 235.9,1232.2 234.5,1228.0 232.4,1220.0 231.6,1216.0 230.5,1208.0 230.2,1200.0 230.3,1192.0 230.0,1184.0 228.9,1176.0 227.9,1171.8 225.5,1164.0 223.9,1159.7 220.8,1152.0 219.2,1148.0 216.1,1140.0 214.6,1136.0 212.0,1128.0 210.8,1124.0 208.4,1116.0 207.3,1112.0 205.4,1104.0 203.9,1096.0 203.4,1092.0 202.6,1084.0 202.5,1076.0 203.0,1068.0 203.9,1062.4 205.3,1056.0 207.6,1048.0 208.8,1044.0 210.8,1036.0 211.9,1028.0 212.0,1024.0 211.9,1018.3 210.8,1012.0 207.9,1004.3 205.9,1000.0 203.4,996.0 199.9,990.1 196.0,984.0 193.1,980.0 190.2,976.0 187.1,972.0 183.9,967.8 179.9,962.6 175.9,957.2 172.3,952.0 169.7,948.0 167.4,944.0 163.9,936.5 163.6,936.0M326.6,936.0 324.9,944.0 324.0,952.0 323.7,956.0 323.7,964.0 323.9,969.0 324.4,976.0 325.5,984.0 327.1,992.0 328.2,996.0 331.9,1003.4 335.9,1005.4 341.1,1004.0 347.9,1001.2 351.9,999.5 357.1,996.0 361.0,992.0 363.9,987.6 367.2,980.0 368.4,976.0 370.0,968.0 370.7,960.0 370.7,952.0 370.0,944.0 368.6,936.0M170.1,1524.0 167.9,1519.0 165.9,1512.0 164.7,1504.0 164.2,1496.0 164.0,1488.0 163.9,1484.0 163.9,1476.6 164.2,1472.0 166.0,1464.0 167.9,1459.7 175.9,1456.6 183.9,1458.6 187.9,1460.0 195.8,1464.0 199.9,1466.6 203.9,1469.4 207.9,1472.7 213.2,1476.0 219.9,1479.2 223.9,1480.8 231.9,1481.6 238.3,1480.0 243.9,1478.2 251.9,1479.1 259.9,1478.6 267.9,1476.9 271.9,1474.4 275.9,1470.1 279.9,1464.2 281.8,1460.0 283.9,1452.0 284.2,1448.0 283.9,1440.0 283.4,1436.0 281.7,1428.0 279.9,1420.7 278.6,1416.0 276.6,1408.0 275.8,1404.0 274.6,1396.0 274.6,1388.0 275.9,1380.2 277.2,1376.0 279.9,1369.4 282.5,1364.0 284.4,1360.0 287.9,1352.1 289.3,1348.0 291.1,1340.0 291.7,1332.0 291.3,1324.0 290.2,1316.0 288.4,1308.0 287.4,1304.0 285.1,1296.0 283.9,1291.9 281.5,1284.0 279.9,1278.8 278.0,1272.0 276.1,1264.0 275.3,1260.0 274.4,1252.0 274.5,1244.0 275.7,1236.0 276.7,1232.0 279.3,1224.0 280.8,1220.0 283.4,1212.0 284.4,1208.0 285.2,1200.0 284.5,1192.0 283.6,1188.0 280.8,1180.0 279.0,1176.0 275.9,1170.2 272.2,1164.0 269.6,1160.0 266.9,1156.0 263.9,1151.7 259.9,1146.2 255.9,1142.1 251.9,1137.9 247.9,1133.4 243.9,1128.4 240.7,1124.0 238.0,1120.0 235.7,1116.0 232.2,1108.0 231.1,1104.0 229.8,1096.0 229.9,1088.0 231.9,1080.5 234.3,1076.0 237.1,1072.0 240.2,1068.0 243.9,1063.2 247.9,1056.5 248.9,1052.0 249.7,1044.0 249.4,1036.0 248.3,1028.0 247.5,1024.0 245.4,1016.0 243.9,1011.3 241.3,1004.0 239.7,1000.0 236.3,992.0 234.5,988.0 231.9,982.4 228.8,976.0 226.8,972.0 223.9,965.6 220.3,960.0 217.8,956.0 215.3,952.0 211.9,945.2 210.1,940.0 209.5,936.0M240.1,1524.0 237.6,1520.0 234.3,1516.0 227.9,1513.0 223.4,1516.0 219.6,1520.0 215.9,1524.0M318.0,936.0 316.5,944.0 316.2,952.0 316.4,960.0 317.2,968.0 318.3,976.0 319.7,984.0 320.4,988.0 321.9,996.0 323.8,1004.0 325.1,1008.0 327.9,1014.8 331.9,1019.1 339.9,1016.6 343.9,1013.6 347.9,1011.1 353.8,1008.0 359.9,1004.1 363.9,1000.2 367.0,996.0 369.4,992.0 371.9,985.9 373.9,980.0 375.4,972.0 375.9,965.8 376.2,960.0 376.1,952.0 375.8,948.0 375.1,940.0 374.5,936.0M181.6,1524.0 178.1,1520.0 175.9,1515.1 174.8,1508.0 175.9,1501.3 178.6,1496.0 183.3,1492.0 187.9,1490.5 195.9,1492.0 199.9,1494.6 203.9,1499.6 205.8,1504.0 206.4,1512.0 203.9,1519.6 200.3,1524.0M283.9,1524.0 285.6,1516.0 287.9,1510.8 291.9,1504.3 294.6,1500.0 296.8,1496.0 299.9,1488.7 301.7,1484.0 303.9,1476.8 305.0,1472.0 306.1,1464.0 306.5,1456.0 306.3,1448.0 305.6,1440.0 304.7,1432.0 303.9,1425.2 303.3,1420.0 302.6,1412.0 302.2,1404.0 302.4,1396.0 303.3,1388.0 303.9,1384.0 305.6,1376.0 307.3,1368.0 308.1,1364.0 309.6,1356.0 310.1,1348.0 309.8,1340.0 308.7,1332.0 307.9,1327.9 306.5,1320.0 304.8,1312.0 303.9,1308.0 302.1,1300.0 300.3,1292.0 299.6,1288.0 298.3,1280.0 297.5,1272.0 297.3,1264.0 297.9,1256.0 299.3,1248.0 300.3,1244.0 302.4,1236.0 303.9,1230.3 305.4,1224.0 306.6,1216.0 307.3,1208.0 307.1,1200.0 305.9,1192.0 303.9,1186.1 302.2,1180.0 299.9,1173.2 298.0,1168.0 295.9,1162.6 293.3,1156.0 291.7,1152.0 288.7,1144.0 287.2,1140.0 284.6,1132.0 283.5,1128.0 280.9,1120.0 279.9,1116.0 278.7,1108.0 278.7,1100.0 279.6,1092.0 280.0,1088.0 279.9,1080.3 279.6,1076.0 278.9,1068.0 277.7,1060.0 276.2,1052.0 275.3,1048.0 273.3,1040.0 271.9,1034.8 270.0,1028.0 267.9,1020.8 266.5,1016.0 264.2,1008.0 263.0,1004.0 260.9,996.0 259.9,992.0 258.2,984.0 256.8,976.0 256.0,968.0 255.9,964.0 255.9,959.3 256.3,952.0 257.2,944.0 258.3,936.0M391.9,1081.3 383.9,1080.6 377.2,1080.0 371.9,1079.5 363.9,1078.7 355.9,1077.9 347.9,1076.8 343.9,1076.0 335.9,1073.6 327.9,1072.6 319.9,1075.1 315.9,1077.1 311.8,1076.0 307.9,1068.1 305.9,1064.0 303.9,1059.8 300.4,1052.0 298.6,1048.0 295.9,1041.4 293.8,1036.0 291.9,1030.6 289.8,1024.0 287.9,1016.9 286.8,1012.0 285.7,1004.0 285.4,996.0 286.4,988.0 291.9,984.7 299.9,985.6 305.1,988.0 309.0,992.0 311.9,996.9 314.2,1004.0 315.9,1009.0 317.5,1016.0 319.9,1024.0 321.0,1028.0 323.9,1036.0 325.9,1040.0 329.6,1044.0 333.4,1044.0 337.7,1040.0 340.7,1036.0 343.9,1031.5 347.9,1027.1 352.1,1024.0 359.9,1020.1 363.9,1017.9 367.9,1015.1 371.9,1011.8 376.3,1008.0 380.6,1004.0 384.5,1000.0 387.9,995.8 391.3,988.0 391.5,980.0 390.9,972.0 390.1,964.0 389.1,956.0 388.2,948.0 387.9,944.0 387.6,936.0M319.5,1132.0 320.6,1132.0 320.6,1140.0 319.7,1140.0 319.5,1132.0M391.9,1333.4 383.9,1333.2 375.9,1332.6 370.5,1332.0 363.9,1331.0 355.9,1329.6 349.2,1328.0 343.9,1326.5 337.2,1324.0 331.9,1321.6 327.9,1316.5 325.7,1312.0 323.9,1308.0 320.7,1300.0 319.4,1296.0 317.3,1288.0 316.1,1280.0 316.3,1272.0 318.1,1264.0 319.9,1259.6 323.9,1252.5 326.9,1248.0 331.0,1244.0 335.9,1243.3 343.9,1243.2 351.9,1242.7 359.9,1240.8 363.9,1237.4 365.3,1232.0 364.4,1224.0 363.5,1220.0 361.3,1212.0 359.9,1207.2 357.7,1200.0 355.9,1193.4 354.6,1188.0 353.5,1180.0 355.9,1172.3 359.9,1170.0 367.9,1168.5 375.9,1168.4 383.9,1168.8 391.9,1169.3M391.9,1512.1 387.9,1512.4 383.9,1513.2 379.9,1515.1 378.8,1516.0 376.7,1520.0 376.4,1524.0M310.1,1524.0 311.9,1518.8 315.9,1513.2 319.9,1508.3 323.2,1504.0 326.0,1500.0 328.6,1496.0 332.2,1492.0 339.9,1489.7 343.6,1484.0 343.3,1476.0 341.5,1468.0 339.9,1462.1 338.1,1456.0 335.9,1448.2 334.8,1444.0 333.4,1436.0 333.9,1428.0 336.6,1424.0 343.9,1421.1 351.9,1420.3 359.9,1420.4 367.9,1420.8 375.9,1421.4 383.9,1422.1 391.9,1422.9" fill="none" stroke="#1a1a1a" stroke-width="0.75"/></g>
<path d="M229.7,1451.3 238.0,1451.3 238.0,1461.4 229.7,1461.4Z" fill="#9b1b2a"/>
<path d="M366.9,943.0 366.9,956.3 359.2,969.7 363.1,990.4 354.2,1009.7 346.8,1039.3 340.9,1057.1 333.5,1088.2 337.9,1101.6 342.3,1128.3 329.6,1141.6 327.5,1154.9 332.0,1180.1 334.9,1205.3 333.5,1200.0 334.3,1210.4 339.4,1222.2 328.4,1247.4 331.4,1263.7 321.6,1288.9 311.2,1318.6 300.8,1339.3 294.9,1354.1 290.5,1376.4 281.0,1385.3 281.0,1403.0 267.7,1403.9 261.4,1425.3 270.3,1443.0 270.3,1466.8 272.7,1481.6 275.7,1496.4 263.2,1514.8 263.2,1518.6 385.3,1518.2 385.3,940.0Z" fill="#b4b5b7"/>
<path d="M366.9,943.0 366.9,956.3 359.2,969.7 363.1,990.4 354.2,1009.7 346.8,1039.3 340.9,1057.1 333.5,1088.2 337.9,1101.6 342.3,1128.3 329.6,1141.6 327.5,1154.9 332.0,1180.1 334.9,1205.3 333.5,1200.0 334.3,1210.4 339.4,1222.2 328.4,1247.4 331.4,1263.7 321.6,1288.9 311.2,1318.6 300.8,1339.3 294.9,1354.1 290.5,1376.4 281.0,1385.3 281.0,1403.0 267.7,1403.9 261.4,1425.3 270.3,1443.0 270.3,1466.8 272.7,1481.6 275.7,1496.4 263.2,1514.8 263.2,1518.6" fill="none" stroke="#222" stroke-width="0.8"/>
<path d="M362.2,983.6 238.0,983.6 238.0,993.4 229.7,1001.4 229.7,1039.3 221.7,1048.2 221.7,1057.1 213.4,1066.0 213.4,1076.4 205.1,1085.3 205.1,1095.1 213.4,1104.5 213.4,1132.7 196.2,1141.6 196.2,1150.5 205.1,1160.3 205.1,1200.0 205.1,1200.0 205.1,1236.2 197.1,1245.1 197.1,1255.7 205.1,1265.2 188.2,1284.5 188.2,1313.2 171.9,1332.8 171.9,1352.1 163.0,1362.4 163.0,1371.9 155.0,1381.4 155.0,1392.1 138.4,1411.0 138.4,1461.4 146.7,1471.2 146.7,1481.6 272.7,1481.6" fill="none" stroke="#000" stroke-width="2.3" stroke-linejoin="miter"/>
<path d="M117.9,1015.9H383.3M117.9,1127.8H383.3M117.9,1241.1H383.3M117.9,1357.1H383.3M117.9,1476.0H383.3M118.0,942.0V1516.2M217.4,942.0V1516.2M316.7,942.0V1516.2" stroke="#707070" stroke-width="1.1" stroke-dasharray="1.3 1.9" fill="none" opacity="0.7"/>
</g>
<rect x="117.9" y="942.0" width="265.4" height="574.2" fill="none" stroke="#000" stroke-width="3.6"/>
<path d="M112.1,1015.9H117.9M383.3,1015.9H389.1M112.1,1127.8H117.9M383.3,1127.8H389.1M112.1,1241.1H117.9M383.3,1241.1H389.1M112.1,1357.1H117.9M383.3,1357.1H389.1M112.1,1476.0H117.9M383.3,1476.0H389.1M118.0,936.2V942.0M118.0,1516.2V1522.0M217.4,936.2V942.0M217.4,1516.2V1522.0M316.7,936.2V942.0M316.7,1516.2V1522.0" stroke="#000" stroke-width="3.5" fill="none"/>
<clipPath id="frF"><rect x="419.0" y="942.0" width="265.4" height="574.2"/></clipPath>
<clipPath id="mkF"><path d="M421.3,944.1 647.0,944.1 647.0,1001.8 639.5,1001.8 639.5,1029.4 632.0,1029.4 632.0,1057.0 623.2,1057.0 623.2,1132.2 614.4,1132.2 614.4,1199.9 614.0,1200.0 614.0,1271.8 605.4,1271.8 605.4,1276.7 590.5,1276.7 590.5,1256.9 573.2,1256.9 573.2,1247.0 548.4,1247.0 548.4,1200.0 548.0,1199.9 548.0,1188.6 515.4,1188.6 515.4,1143.5 497.8,1143.5 497.8,1151.0 490.3,1151.0 490.3,1142.2 481.5,1142.2 481.5,1120.9 465.2,1120.9 465.2,1113.4 456.5,1113.4 456.5,1094.6 440.2,1094.6 440.2,1057.0 479.0,1057.0 479.0,1048.2 465.2,1048.2 465.2,1039.4 456.5,1039.4 456.5,1048.2 515.4,1048.2 515.4,984.2 472.8,984.2 472.8,993.0 431.4,993.0 431.4,984.2 421.3,984.2ZM524.9,1275.5H548.4V1312.6H524.9ZM539.8,1284.2H564.5V1313.4H539.8ZM548.4,1313.4H560.8V1323.8H548.4ZM589.3,1294.1H597.5V1312.6H589.3ZM498.9,1294.1H513.8V1360.9H498.9ZM489.0,1316.4H498.9V1348.5H489.0ZM481.6,1333.7H485.3V1342.3H481.6ZM424.7,1265.6H439.5V1274.3H424.7ZM422.2,1484.7H498.9V1515.6H422.2ZM532.3,1451.3H539.8V1458.7H532.3ZM548.4,1226.0H553.4V1235.9H548.4ZM424.7,1370.8H430.8V1380.7H424.7Z"/></clipPath>
<g clip-path="url(#frF)">
<rect x="419.0" y="942.0" width="265.4" height="574.2" fill="#ebecee"/>
<g clip-path="url(#mkF)"><g filter="url(#bl)" fill="none" stroke-width="4.7">
<path d="M607,1144.0h8M607,1148.0h8M607,1152.0h12M607,1156.0h12M607,1160.0h12M607,1164.0h8M607,1168.0h8M607,1172.0h8" stroke="#191c46"/>
<path d="M615,1148.0h4M615,1164.0h4" stroke="#1d2151"/>
<path d="M611,1140.0h4" stroke="#262a68"/>
<path d="M615,1144.0h4" stroke="#282f76"/>
<path d="M627,1048.0h4M607,1140.0h4M603,1156.0h4M603,1160.0h4M615,1168.0h4M611,1176.0h4" stroke="#293486"/>
<path d="M603,1152.0h4M603,1164.0h4M607,1176.0h4" stroke="#2b3993"/>
<path d="M603,1032.0h4M603,1036.0h4M627,1044.0h4" stroke="#303e98"/>
<path d="M615,1140.0h4M603,1148.0h4M603,1168.0h4" stroke="#31449d"/>
<path d="M603,1028.0h4M603,1040.0h4M627,1052.0h4M619,1096.0h4M619,1100.0h4M619,1104.0h4M615,1172.0h4" stroke="#304ca2"/>
<path d="M619,1092.0h4M619,1108.0h4M611,1136.0h4" stroke="#2e54a7"/>
<path d="M619,1088.0h4M619,1112.0h4M615,1136.0h4M611,1180.0h4M603,1236.0h4M603,1240.0h4" stroke="#2b5dac"/>
<path d="M455,988.0h8M603,1024.0h4M627,1040.0h4M619,1084.0h4M619,1116.0h4M607,1136.0h4M603,1144.0h4M603,1172.0h4M607,1180.0h4M603,1232.0h4" stroke="#2467b3"/>
<path d="M599,1032.0h4M603,1044.0h4M619,1120.0h4M615,1132.0h4M603,1228.0h4M603,1244.0h4" stroke="#1c71bb"/>
<path d="M451,988.0h4M463,988.0h4M599,1028.0h4M607,1032.0h4M599,1036.0h4M607,1036.0h4M619,1080.0h4M615,1100.0h4M615,1104.0h4M615,1108.0h4M615,1112.0h4M615,1116.0h4M619,1124.0h4M615,1128.0h4M615,1176.0h4M599,1232.0h4M599,1236.0h4M599,1240.0h4" stroke="#1e7abf"/>
<path d="M603,1020.0h4M607,1028.0h4M599,1040.0h4M615,1092.0h4M615,1096.0h4M615,1120.0h4M615,1124.0h4M619,1128.0h4M603,1140.0h4M603,1176.0h4M603,1224.0h4M599,1244.0h4M603,1248.0h4" stroke="#2681c1"/>
<path d="M599,1024.0h4M607,1040.0h4M603,1048.0h4M627,1056.0h4M619,1076.0h4M615,1088.0h4M611,1132.0h4M619,1132.0h4M619,1144.0h4M619,1148.0h4M619,1152.0h4M619,1156.0h4M599,1228.0h4M607,1232.0h4M607,1236.0h4M607,1240.0h4" stroke="#3189c3"/>
<path d="M455,984.0h8M467,988.0h4M607,1024.0h4M599,1044.0h4M607,1132.0h4M619,1136.0h4M619,1140.0h4M619,1160.0h4M607,1184.0h8M603,1220.0h4M599,1224.0h4M607,1228.0h4M607,1244.0h4M599,1248.0h4M603,1252.0h4" stroke="#4191c3"/>
<path d="M447,968.0h8M447,972.0h12M451,984.0h4M463,984.0h4M447,988.0h4M599,1020.0h4M607,1044.0h4M615,1084.0h4M603,1136.0h4M599,1156.0h4M599,1160.0h4M619,1164.0h4M603,1180.0h4M615,1180.0h4M607,1248.0h4" stroke="#5199c3"/>
<path d="M443,968.0h4M455,968.0h8M443,972.0h4M459,972.0h4M451,976.0h4M455,992.0h8M603,1016.0h4M599,1048.0h4M619,1072.0h4M599,1152.0h4M599,1164.0h4M599,1220.0h4M607,1224.0h4M599,1252.0h4" stroke="#60a1c3"/>
<path d="M447,964.0h12M439,968.0h4M439,972.0h4M463,972.0h4M443,976.0h8M455,976.0h8M451,980.0h8M447,984.0h4M451,992.0h4M463,992.0h4M599,1016.0h4M607,1020.0h4M627,1036.0h4M607,1048.0h4M603,1052.0h4M615,1080.0h4M611,1128.0h4M599,1148.0h4M599,1168.0h4M619,1168.0h4M607,1188.0h4M603,1216.0h4M607,1220.0h4M595,1236.0h4M595,1240.0h4M607,1252.0h4M603,1256.0h4" stroke="#6ea7c5"/>
<path d="M443,964.0h4M459,964.0h4M463,968.0h4M439,976.0h4M463,976.0h4M447,980.0h4M459,980.0h4M467,984.0h4M443,988.0h4M471,988.0h4M595,1032.0h4M595,1036.0h4M599,1052.0h4M619,1068.0h4M607,1128.0h4M603,1132.0h4M599,1144.0h4M599,1172.0h4M603,1184.0h4M615,1184.0h4M611,1188.0h4M599,1216.0h4M595,1232.0h4M595,1244.0h4M599,1256.0h4" stroke="#7caec6"/>
<path d="M451,960.0h4M439,964.0h4M463,964.0h4M435,968.0h4M467,968.0h4M435,972.0h4M467,972.0h4M443,980.0h4M463,980.0h4M443,984.0h4M467,992.0h4M599,1012.0h8M607,1016.0h4M595,1020.0h4M595,1024.0h4M595,1028.0h4M595,1040.0h4M595,1044.0h4M607,1052.0h4M615,1076.0h4M599,1140.0h4M619,1172.0h4M599,1176.0h4M603,1212.0h4M607,1216.0h4M595,1228.0h4M595,1248.0h4M607,1256.0h4M603,1260.0h4" stroke="#8ab5c8"/>
<path d="M443,960.0h8M455,960.0h8M435,964.0h4M467,964.0h4M431,972.0h4M579,972.0h8M435,976.0h4M467,976.0h4M575,976.0h20M439,980.0h4M467,980.0h4M583,980.0h8M471,984.0h4M447,992.0h4M595,1012.0h4M595,1016.0h4M595,1048.0h4M603,1056.0h4M627,1060.0h4M611,1124.0h4M599,1136.0h4M619,1176.0h4M599,1180.0h4M603,1188.0h4M607,1192.0h4M603,1208.0h4M599,1212.0h4M595,1224.0h4M611,1232.0h4M611,1236.0h4M611,1240.0h4M595,1252.0h4M599,1260.0h4" stroke="#98bdcc"/>
<path d="M439,960.0h4M463,960.0h4M431,968.0h4M471,968.0h4M579,968.0h8M471,972.0h4M571,972.0h8M587,972.0h8M431,976.0h4M471,976.0h4M571,976.0h4M595,976.0h4M435,980.0h4M575,980.0h8M591,980.0h8M439,984.0h4M583,984.0h12M439,988.0h4M591,1004.0h8M591,1008.0h16M591,1012.0h4M607,1012.0h4M591,1016.0h4M591,1020.0h4M611,1028.0h4M611,1032.0h4M611,1036.0h4M611,1040.0h4M623,1048.0h4M595,1052.0h4M623,1052.0h4M599,1056.0h4M615,1072.0h4M607,1124.0h4M603,1128.0h4M551,1144.0h8M595,1152.0h4M595,1156.0h4M599,1184.0h4M615,1188.0h4M603,1192.0h4M611,1192.0h4M607,1196.0h4M599,1208.0h4M607,1212.0h4M595,1220.0h4M611,1224.0h4M611,1228.0h4M611,1244.0h4M611,1248.0h4M595,1256.0h4M607,1260.0h4" stroke="#a7c5d1"/>
<path d="M447,956.0h12M435,960.0h4M467,960.0h4M431,964.0h4M471,964.0h4M427,968.0h4M475,968.0h4M571,968.0h8M587,968.0h8M427,972.0h4M475,972.0h4M567,972.0h4M595,972.0h4M567,976.0h4M599,976.0h4M471,980.0h4M571,980.0h4M599,980.0h4M575,984.0h8M595,984.0h4M475,988.0h4M583,988.0h12M443,992.0h4M471,992.0h4M587,992.0h8M587,996.0h8M587,1000.0h12M587,1004.0h4M599,1004.0h4M587,1008.0h4M587,1012.0h4M587,1016.0h4M635,1020.0h4M591,1024.0h4M611,1024.0h4M635,1024.0h4M591,1028.0h4M591,1032.0h4M591,1036.0h4M591,1040.0h4M591,1044.0h4M611,1044.0h4M591,1048.0h4M595,1056.0h4M607,1056.0h4M623,1056.0h4M599,1060.0h8M619,1064.0h4M527,1116.0h8M527,1120.0h4M611,1120.0h4M599,1132.0h4M547,1140.0h16M595,1140.0h4M547,1144.0h4M559,1144.0h4M595,1144.0h4M551,1148.0h8M595,1148.0h4M595,1160.0h4M595,1164.0h4M595,1168.0h4M619,1180.0h4M563,1188.0h4M599,1188.0h4M563,1192.0h4M603,1196.0h4M611,1196.0h4M603,1200.0h8M599,1204.0h12M607,1208.0h4M595,1216.0h4M611,1220.0h4M591,1236.0h4M591,1240.0h4M591,1244.0h4M611,1252.0h4M599,1264.0h8" stroke="#b6cdd6"/>
<path d="M439,956.0h8M459,956.0h8M431,960.0h4M471,960.0h4M427,964.0h4M475,964.0h4M571,964.0h20M563,968.0h8M595,968.0h4M563,972.0h4M599,972.0h4M427,976.0h4M475,976.0h4M563,976.0h4M603,976.0h4M431,980.0h4M567,980.0h4M603,980.0h4M435,984.0h4M475,984.0h4M571,984.0h4M599,984.0h4M579,988.0h4M595,988.0h8M583,992.0h4M595,992.0h4M583,996.0h4M595,996.0h8M583,1000.0h4M599,1000.0h4M583,1004.0h4M603,1004.0h4M583,1008.0h4M607,1008.0h4M635,1016.0h4M587,1020.0h4M611,1020.0h4M587,1024.0h4M627,1032.0h4M623,1044.0h4M611,1048.0h4M591,1052.0h4M539,1060.0h8M595,1060.0h4M607,1060.0h4M539,1064.0h12M539,1068.0h8M615,1068.0h4M531,1108.0h8M523,1112.0h16M523,1116.0h4M535,1116.0h4M523,1120.0h4M531,1120.0h4M523,1124.0h12M603,1124.0h4M599,1128.0h4M595,1132.0h4M547,1136.0h16M595,1136.0h4M543,1140.0h4M543,1144.0h4M563,1144.0h4M547,1148.0h4M559,1148.0h4M555,1152.0h4M595,1172.0h4M595,1176.0h4M559,1184.0h12M619,1184.0h4M559,1188.0h4M567,1188.0h4M559,1192.0h4M567,1192.0h8M599,1192.0h4M615,1192.0h4M559,1196.0h12M599,1196.0h4M563,1200.0h4M599,1200.0h4M611,1200.0h4M595,1212.0h4M611,1212.0h4M611,1216.0h4M591,1228.0h4M591,1232.0h4M591,1248.0h4M591,1252.0h4M611,1256.0h4M595,1260.0h4M607,1264.0h4M603,1268.0h4M535,1292.0h4M531,1296.0h8M531,1300.0h8M535,1304.0h4" stroke="#c2d4db"/>
<path d="M435,956.0h4M467,956.0h4M427,960.0h4M423,964.0h4M563,964.0h8M591,964.0h8M423,968.0h4M479,968.0h4M559,968.0h4M599,968.0h4M423,972.0h4M479,972.0h4M559,972.0h4M603,972.0h4M423,976.0h4M479,976.0h4M559,976.0h4M607,976.0h4M427,980.0h4M475,980.0h4M563,980.0h4M431,984.0h4M567,984.0h4M603,984.0h4M435,988.0h4M479,988.0h4M575,988.0h4M603,988.0h4M439,992.0h4M475,992.0h4M579,992.0h4M599,992.0h4M579,996.0h4M603,996.0h4M603,1000.0h4M607,1004.0h4M583,1012.0h4M635,1012.0h4M583,1016.0h4M611,1016.0h4M587,1028.0h4M635,1028.0h4M587,1032.0h4M587,1036.0h4M587,1040.0h4M587,1044.0h4M587,1048.0h4M587,1052.0h4M539,1056.0h8M591,1056.0h4M535,1060.0h4M547,1060.0h4M623,1060.0h4M531,1064.0h8M551,1064.0h4M599,1064.0h8M627,1064.0h4M535,1068.0h4M547,1068.0h4M539,1072.0h8M531,1104.0h12M523,1108.0h8M539,1108.0h4M539,1112.0h4M519,1116.0h4M539,1116.0h4M611,1116.0h4M519,1120.0h4M535,1120.0h4M603,1120.0h8M519,1124.0h4M535,1124.0h4M595,1124.0h8M523,1128.0h12M595,1128.0h4M547,1132.0h16M591,1132.0h4M543,1136.0h4M563,1136.0h4M591,1136.0h4M563,1140.0h4M591,1140.0h4M591,1144.0h4M623,1144.0h4M543,1148.0h4M563,1148.0h4M623,1148.0h4M547,1152.0h8M559,1152.0h4M623,1152.0h4M623,1156.0h4M623,1160.0h4M623,1164.0h4M559,1180.0h12M595,1180.0h4M555,1184.0h4M571,1184.0h4M595,1184.0h4M555,1188.0h4M571,1188.0h4M595,1188.0h4M555,1192.0h4M555,1196.0h4M571,1196.0h4M615,1196.0h4M559,1200.0h4M567,1200.0h8M595,1200.0h4M563,1204.0h8M595,1204.0h4M611,1204.0h4M595,1208.0h4M611,1208.0h4M591,1220.0h4M591,1224.0h4M615,1232.0h4M615,1236.0h4M591,1256.0h4M611,1260.0h4M595,1264.0h4M599,1268.0h4M531,1288.0h8M531,1292.0h4M539,1292.0h4M527,1296.0h4M539,1296.0h4M527,1300.0h4M539,1300.0h4M531,1304.0h4M535,1308.0h4M495,1328.0h4" stroke="#cedbe1"/>
<path d="M439,952.0h24M431,956.0h4M471,956.0h4M423,960.0h4M475,960.0h4M563,960.0h28M479,964.0h4M559,964.0h4M599,964.0h4M419,968.0h4M483,968.0h4M603,968.0h4M419,972.0h4M483,972.0h4M555,972.0h4M607,972.0h4M419,976.0h4M555,976.0h4M423,980.0h4M479,980.0h4M559,980.0h4M607,980.0h4M427,984.0h4M479,984.0h4M563,984.0h4M607,984.0h4M431,988.0h4M567,988.0h8M607,988.0h4M575,992.0h4M603,992.0h4M451,996.0h16M579,1000.0h4M607,1000.0h4M579,1004.0h4M579,1008.0h4M611,1008.0h4M611,1012.0h4M583,1020.0h4M631,1020.0h4M639,1020.0h4M583,1024.0h4M631,1024.0h4M639,1024.0h4M631,1028.0h4M635,1032.0h4M611,1052.0h4M531,1056.0h8M547,1056.0h4M587,1056.0h4M531,1060.0h4M551,1060.0h4M591,1060.0h4M619,1060.0h4M555,1064.0h4M595,1064.0h4M607,1064.0h4M623,1064.0h4M531,1068.0h4M551,1068.0h4M603,1068.0h4M531,1072.0h8M547,1072.0h4M535,1076.0h12M623,1088.0h4M623,1092.0h4M623,1096.0h4M531,1100.0h12M623,1100.0h4M527,1104.0h4M543,1104.0h4M623,1104.0h4M543,1108.0h8M623,1108.0h4M519,1112.0h4M543,1112.0h8M611,1112.0h4M623,1112.0h4M543,1116.0h4M607,1116.0h4M623,1116.0h4M539,1120.0h8M587,1120.0h16M623,1120.0h4M539,1124.0h4M587,1124.0h8M623,1124.0h4M519,1128.0h4M535,1128.0h28M587,1128.0h8M623,1128.0h4M523,1132.0h24M563,1132.0h4M587,1132.0h4M623,1132.0h4M535,1136.0h8M623,1136.0h4M539,1140.0h4M567,1140.0h4M623,1140.0h4M539,1144.0h4M567,1144.0h4M591,1148.0h4M563,1152.0h4M591,1152.0h4M551,1156.0h16M591,1156.0h4M623,1168.0h4M623,1172.0h4M559,1176.0h12M555,1180.0h4M571,1180.0h4M551,1188.0h4M575,1188.0h4M619,1188.0h4M551,1192.0h4M575,1192.0h4M595,1192.0h4M619,1192.0h4M551,1196.0h4M575,1196.0h4M595,1196.0h4M555,1200.0h4M575,1200.0h4M615,1200.0h4M555,1204.0h8M571,1204.0h8M591,1204.0h4M615,1204.0h4M563,1208.0h12M591,1208.0h4M591,1212.0h4M615,1212.0h4M591,1216.0h4M615,1216.0h4M615,1220.0h4M615,1224.0h4M615,1228.0h4M587,1236.0h4M587,1240.0h4M615,1240.0h4M587,1244.0h4M615,1244.0h4M587,1248.0h4M615,1248.0h4M587,1252.0h4M587,1256.0h4M591,1260.0h4M591,1264.0h4M611,1264.0h4M595,1268.0h4M607,1268.0h4M599,1272.0h8M531,1284.0h8M527,1288.0h4M539,1288.0h4M527,1292.0h4M527,1304.0h4M539,1304.0h4M531,1308.0h4M539,1308.0h4M499,1320.0h4M495,1324.0h8M499,1328.0h4M495,1332.0h4" stroke="#dae2e6"/>
<path d="M639,948.0h4M431,952.0h8M463,952.0h8M635,952.0h8M423,956.0h8M475,956.0h4M563,956.0h24M635,956.0h8M419,960.0h4M479,960.0h4M559,960.0h4M591,960.0h12M419,964.0h4M483,964.0h4M555,964.0h4M603,964.0h8M415,968.0h4M555,968.0h4M607,968.0h8M415,972.0h4M611,972.0h4M415,976.0h4M483,976.0h4M611,976.0h4M419,980.0h4M483,980.0h4M555,980.0h4M611,980.0h4M423,984.0h4M483,984.0h4M559,984.0h4M611,984.0h4M427,988.0h4M483,988.0h4M563,988.0h4M611,988.0h4M435,992.0h4M479,992.0h4M571,992.0h4M607,992.0h4M447,996.0h4M467,996.0h4M575,996.0h4M607,996.0h4M575,1000.0h4M611,1000.0h4M611,1004.0h4M635,1008.0h4M579,1012.0h4M639,1012.0h4M579,1016.0h4M631,1016.0h4M639,1016.0h4M583,1028.0h4M639,1028.0h4M583,1032.0h4M631,1032.0h4M583,1036.0h4M631,1036.0h4M583,1040.0h4M631,1040.0h4M583,1044.0h4M631,1044.0h4M583,1048.0h4M631,1048.0h4M531,1052.0h20M583,1052.0h4M631,1052.0h4M527,1056.0h4M551,1056.0h8M583,1056.0h4M611,1056.0h4M527,1060.0h4M555,1060.0h4M587,1060.0h4M527,1064.0h4M591,1064.0h4M615,1064.0h4M527,1068.0h4M555,1068.0h4M595,1068.0h8M607,1068.0h4M623,1068.0h4M527,1072.0h4M551,1072.0h4M623,1072.0h4M531,1076.0h4M547,1076.0h4M623,1076.0h4M535,1080.0h8M623,1080.0h4M623,1084.0h4M531,1096.0h12M527,1100.0h4M543,1100.0h4M523,1104.0h4M547,1104.0h4M519,1108.0h4M551,1108.0h4M611,1108.0h4M551,1112.0h8M579,1112.0h12M515,1116.0h4M547,1116.0h16M575,1116.0h32M515,1120.0h4M547,1120.0h20M575,1120.0h12M515,1124.0h4M543,1124.0h28M579,1124.0h8M515,1128.0h4M563,1128.0h8M583,1128.0h4M519,1132.0h4M567,1132.0h4M527,1136.0h8M567,1136.0h4M587,1136.0h4M535,1140.0h4M587,1140.0h4M539,1148.0h4M567,1148.0h4M543,1152.0h4M567,1152.0h4M547,1156.0h4M555,1160.0h12M591,1160.0h4M559,1164.0h8M591,1164.0h4M559,1168.0h8M591,1168.0h4M559,1172.0h12M591,1172.0h4M555,1176.0h4M571,1176.0h4M623,1176.0h4M623,1180.0h4M551,1184.0h4M575,1184.0h4M623,1184.0h4M579,1188.0h4M591,1188.0h4M579,1192.0h4M591,1192.0h4M579,1196.0h16M619,1196.0h4M551,1200.0h4M579,1200.0h16M619,1200.0h4M551,1204.0h4M579,1204.0h12M555,1208.0h8M575,1208.0h16M615,1208.0h4M559,1212.0h32M571,1216.0h8M587,1228.0h4M587,1232.0h4M583,1248.0h4M583,1252.0h4M615,1252.0h4M615,1256.0h4M587,1260.0h4M615,1260.0h4M587,1264.0h4M591,1268.0h4M611,1268.0h4M595,1272.0h4M607,1272.0h4M599,1276.0h8M535,1280.0h4M527,1284.0h4M539,1284.0h4M523,1292.0h4M543,1292.0h4M523,1296.0h4M523,1300.0h4M523,1304.0h4M527,1308.0h4M527,1312.0h16M499,1316.0h4M495,1320.0h4M491,1328.0h4M491,1332.0h4M499,1332.0h4M491,1336.0h8" stroke="#e3e7ea"/>
<path d="M639,944.0h4M435,948.0h36M635,948.0h4M423,952.0h8M471,952.0h8M559,952.0h28M631,952.0h4M419,956.0h4M479,956.0h8M555,956.0h8M587,956.0h16M415,960.0h4M483,960.0h4M551,960.0h8M603,960.0h8M635,960.0h8M411,964.0h8M487,964.0h4M551,964.0h4M611,964.0h4M411,968.0h4M487,968.0h4M551,968.0h4M615,968.0h4M411,972.0h4M487,972.0h4M551,972.0h4M615,972.0h4M411,976.0h4M487,976.0h4M551,976.0h4M615,976.0h4M415,980.0h4M487,980.0h4M551,980.0h4M615,980.0h4M419,984.0h4M487,984.0h4M555,984.0h4M615,984.0h4M423,988.0h4M559,988.0h4M427,992.0h8M483,992.0h4M563,992.0h8M611,992.0h4M439,996.0h8M471,996.0h8M571,996.0h4M611,996.0h4M575,1004.0h4M635,1004.0h4M575,1008.0h4M639,1008.0h4M631,1012.0h4M615,1016.0h4M579,1020.0h4M615,1020.0h4M579,1024.0h4M639,1032.0h4M635,1036.0h4M623,1040.0h4M579,1044.0h4M527,1048.0h20M579,1048.0h4M527,1052.0h4M551,1052.0h4M579,1052.0h4M523,1056.0h4M559,1056.0h4M579,1056.0h4M631,1056.0h4M523,1060.0h4M559,1060.0h8M579,1060.0h8M611,1060.0h4M523,1064.0h4M559,1064.0h4M587,1064.0h4M523,1068.0h4M559,1068.0h4M591,1068.0h4M627,1068.0h4M555,1072.0h4M599,1072.0h12M527,1076.0h4M551,1076.0h4M527,1080.0h8M543,1080.0h8M531,1084.0h16M531,1088.0h12M531,1092.0h16M527,1096.0h4M543,1096.0h8M523,1100.0h4M547,1100.0h8M519,1104.0h4M551,1104.0h8M611,1104.0h4M555,1108.0h36M515,1112.0h4M559,1112.0h20M591,1112.0h20M563,1116.0h12M567,1120.0h8M571,1124.0h8M571,1128.0h12M515,1132.0h4M571,1132.0h16M519,1136.0h8M571,1136.0h4M583,1136.0h4M527,1140.0h8M571,1140.0h4M627,1140.0h4M535,1144.0h4M571,1144.0h4M587,1144.0h4M627,1144.0h4M587,1148.0h4M627,1148.0h4M627,1152.0h4M567,1156.0h4M627,1156.0h4M551,1160.0h4M567,1160.0h4M627,1160.0h4M551,1164.0h8M567,1164.0h4M627,1164.0h4M555,1168.0h4M567,1168.0h4M627,1168.0h4M555,1172.0h4M571,1172.0h4M627,1172.0h4M551,1176.0h4M591,1176.0h4M627,1176.0h4M551,1180.0h4M575,1180.0h4M591,1180.0h4M579,1184.0h4M591,1184.0h4M547,1188.0h4M583,1188.0h8M623,1188.0h4M547,1192.0h4M583,1192.0h8M623,1192.0h4M547,1196.0h4M623,1196.0h4M547,1200.0h4M623,1200.0h4M547,1204.0h4M619,1204.0h4M551,1208.0h4M619,1208.0h4M551,1212.0h8M619,1212.0h4M555,1216.0h16M579,1216.0h12M619,1216.0h4M559,1220.0h32M619,1220.0h4M563,1224.0h28M619,1224.0h4M567,1228.0h12M619,1228.0h4M571,1232.0h8M583,1232.0h4M619,1232.0h4M583,1236.0h4M619,1236.0h4M583,1240.0h4M619,1240.0h4M579,1244.0h8M619,1244.0h4M579,1248.0h4M619,1248.0h4M579,1252.0h4M619,1252.0h4M579,1256.0h8M619,1256.0h4M579,1260.0h8M583,1264.0h4M615,1264.0h4M583,1268.0h8M615,1268.0h4M587,1272.0h8M611,1272.0h4M531,1276.0h12M587,1276.0h12M607,1276.0h8M527,1280.0h8M539,1280.0h8M591,1280.0h20M523,1284.0h4M543,1284.0h4M599,1284.0h4M523,1288.0h4M543,1288.0h4M519,1296.0h4M543,1296.0h4M519,1300.0h4M543,1300.0h4M523,1308.0h4M499,1312.0h4M523,1312.0h4M495,1316.0h4M503,1316.0h4M527,1316.0h16M503,1320.0h4M535,1320.0h4M491,1324.0h4M499,1336.0h4M491,1340.0h8" stroke="#ebebec"/>
<path d="M635,940.0h8M427,944.0h48M559,944.0h24M631,944.0h8M419,948.0h16M471,948.0h12M555,948.0h40M631,948.0h4M415,952.0h8M479,952.0h8M551,952.0h8M587,952.0h20M627,952.0h4M411,956.0h8M487,956.0h4M551,956.0h4M603,956.0h16M631,956.0h4M411,960.0h4M487,960.0h4M611,960.0h12M631,960.0h4M491,964.0h4M547,964.0h4M615,964.0h8M635,964.0h8M491,968.0h4M547,968.0h4M619,968.0h4M491,972.0h4M547,972.0h4M619,972.0h4M491,976.0h8M547,976.0h4M619,976.0h4M411,980.0h4M491,980.0h4M547,980.0h4M411,984.0h8M491,984.0h4M547,984.0h8M411,988.0h12M487,988.0h8M551,988.0h8M615,988.0h4M419,992.0h8M487,992.0h4M559,992.0h4M615,992.0h4M427,996.0h12M479,996.0h8M567,996.0h4M615,996.0h4M439,1000.0h32M571,1000.0h4M615,1000.0h4M635,1000.0h4M571,1004.0h4M615,1004.0h4M639,1004.0h4M615,1008.0h4M631,1008.0h4M575,1012.0h4M615,1012.0h4M575,1016.0h4M615,1024.0h4M643,1024.0h4M579,1028.0h4M615,1028.0h4M627,1028.0h4M523,1032.0h8M579,1032.0h4M523,1036.0h12M579,1036.0h4M639,1036.0h4M523,1040.0h16M579,1040.0h4M635,1040.0h8M523,1044.0h24M635,1044.0h4M523,1048.0h4M547,1048.0h8M575,1048.0h4M523,1052.0h4M555,1052.0h8M571,1052.0h8M563,1056.0h16M567,1060.0h12M615,1060.0h4M631,1060.0h4M563,1064.0h8M579,1064.0h8M611,1064.0h4M631,1064.0h4M563,1068.0h4M587,1068.0h4M611,1068.0h4M631,1068.0h4M523,1072.0h4M559,1072.0h4M595,1072.0h4M627,1072.0h4M523,1076.0h4M555,1076.0h4M627,1076.0h4M523,1080.0h4M551,1080.0h4M627,1080.0h4M527,1084.0h4M547,1084.0h4M627,1084.0h4M527,1088.0h4M543,1088.0h8M523,1092.0h8M547,1092.0h4M627,1092.0h4M523,1096.0h4M551,1096.0h4M627,1096.0h4M519,1100.0h4M555,1100.0h4M611,1100.0h4M627,1100.0h4M515,1104.0h4M559,1104.0h32M627,1104.0h4M515,1108.0h4M591,1108.0h20M627,1108.0h4M511,1112.0h4M627,1112.0h8M511,1116.0h4M627,1116.0h8M511,1120.0h4M627,1120.0h8M511,1124.0h4M627,1124.0h8M511,1128.0h4M627,1128.0h8M511,1132.0h4M627,1132.0h8M515,1136.0h4M575,1136.0h8M627,1136.0h8M519,1140.0h8M583,1140.0h4M631,1140.0h4M531,1144.0h4M631,1144.0h4M535,1148.0h4M571,1148.0h4M631,1148.0h4M539,1152.0h4M571,1152.0h4M587,1152.0h4M631,1152.0h4M543,1156.0h4M587,1156.0h4M631,1156.0h4M547,1160.0h4M631,1160.0h4M571,1164.0h4M631,1164.0h4M551,1168.0h4M571,1168.0h4M631,1168.0h4M551,1172.0h4M631,1172.0h4M575,1176.0h4M631,1176.0h4M547,1180.0h4M579,1180.0h4M627,1180.0h8M547,1184.0h4M583,1184.0h8M627,1184.0h8M627,1188.0h8M627,1192.0h8M627,1196.0h8M543,1200.0h4M627,1200.0h8M543,1204.0h4M623,1204.0h8M543,1208.0h8M623,1208.0h8M547,1212.0h4M623,1212.0h8M547,1216.0h8M623,1216.0h8M547,1220.0h12M623,1220.0h8M555,1224.0h8M623,1224.0h8M555,1228.0h12M579,1228.0h8M623,1228.0h8M555,1232.0h16M579,1232.0h4M623,1232.0h8M555,1236.0h28M623,1236.0h8M555,1240.0h28M623,1240.0h8M555,1244.0h24M623,1244.0h8M555,1248.0h24M623,1248.0h8M555,1252.0h24M623,1252.0h4M559,1256.0h20M623,1256.0h4M559,1260.0h20M619,1260.0h8M559,1264.0h24M619,1264.0h8M535,1268.0h8M563,1268.0h20M619,1268.0h8M527,1272.0h24M563,1272.0h24M615,1272.0h8M523,1276.0h8M543,1276.0h8M567,1276.0h20M615,1276.0h8M519,1280.0h8M547,1280.0h4M571,1280.0h20M611,1280.0h8M519,1284.0h4M547,1284.0h4M571,1284.0h28M603,1284.0h16M515,1288.0h8M547,1288.0h4M575,1288.0h40M515,1292.0h8M579,1292.0h32M515,1296.0h4M587,1296.0h20M515,1300.0h4M515,1304.0h8M543,1304.0h4M499,1308.0h4M519,1308.0h4M543,1308.0h4M495,1312.0h4M503,1312.0h4M519,1312.0h4M543,1312.0h4M491,1316.0h4M519,1316.0h8M491,1320.0h4M523,1320.0h12M539,1320.0h4M487,1324.0h4M503,1324.0h4M527,1324.0h16M487,1328.0h4M487,1332.0h4M487,1336.0h4M487,1340.0h4M499,1340.0h4M487,1344.0h12M487,1348.0h8" stroke="#f2efef"/>
<path d="M411,936.0h80M547,936.0h96M647,936.0h48M411,940.0h80M547,940.0h88M647,940.0h48M411,944.0h16M475,944.0h16M547,944.0h12M583,944.0h48M647,944.0h48M411,948.0h8M483,948.0h8M547,948.0h8M595,948.0h36M647,948.0h48M411,952.0h4M487,952.0h4M547,952.0h4M607,952.0h20M647,952.0h48M491,956.0h4M547,956.0h4M619,956.0h12M647,956.0h48M491,960.0h4M547,960.0h4M623,960.0h8M651,960.0h44M495,964.0h4M543,964.0h4M623,964.0h12M651,964.0h44M495,968.0h4M543,968.0h4M623,968.0h4M631,968.0h12M651,968.0h44M495,972.0h8M543,972.0h4M631,972.0h12M651,972.0h44M499,976.0h4M543,976.0h4M635,976.0h8M651,976.0h44M495,980.0h8M543,980.0h4M619,980.0h4M635,980.0h8M651,980.0h44M495,984.0h12M543,984.0h4M635,984.0h8M651,984.0h44M495,988.0h12M543,988.0h8M635,988.0h8M651,988.0h44M411,992.0h8M491,992.0h20M551,992.0h8M635,992.0h8M651,992.0h44M411,996.0h16M487,996.0h32M559,996.0h8M635,996.0h8M651,996.0h44M411,1000.0h28M471,1000.0h60M563,1000.0h8M639,1000.0h4M651,1000.0h44M411,1004.0h120M567,1004.0h4M631,1004.0h4M651,1004.0h44M411,1008.0h120M571,1008.0h4M647,1008.0h48M411,1012.0h124M571,1012.0h4M643,1012.0h52M411,1016.0h124M643,1016.0h52M411,1020.0h124M575,1020.0h4M643,1020.0h52M411,1024.0h124M575,1024.0h4M647,1024.0h48M411,1028.0h128M575,1028.0h4M643,1028.0h52M411,1032.0h72M511,1032.0h12M531,1032.0h8M575,1032.0h4M615,1032.0h4M643,1032.0h52M411,1036.0h68M515,1036.0h8M535,1036.0h8M575,1036.0h4M643,1036.0h52M411,1040.0h64M515,1040.0h8M539,1040.0h8M575,1040.0h4M643,1040.0h52M411,1044.0h56M519,1044.0h4M547,1044.0h4M575,1044.0h4M639,1044.0h56M411,1048.0h28M519,1048.0h4M555,1048.0h8M567,1048.0h8M635,1048.0h60M411,1052.0h24M519,1052.0h4M563,1052.0h8M635,1052.0h60M411,1056.0h20M519,1056.0h4M619,1056.0h4M635,1056.0h60M411,1060.0h20M519,1060.0h4M635,1060.0h60M411,1064.0h16M519,1064.0h4M571,1064.0h8M635,1064.0h60M411,1068.0h16M519,1068.0h4M567,1068.0h4M579,1068.0h8M635,1068.0h60M411,1072.0h16M563,1072.0h4M587,1072.0h8M611,1072.0h4M631,1072.0h64M411,1076.0h16M559,1076.0h4M599,1076.0h16M631,1076.0h64M411,1080.0h16M555,1080.0h4M631,1080.0h64M411,1084.0h16M523,1084.0h4M551,1084.0h4M631,1084.0h64M411,1088.0h16M523,1088.0h4M551,1088.0h4M627,1088.0h68M411,1092.0h20M519,1092.0h4M551,1092.0h4M631,1092.0h64M411,1096.0h20M519,1096.0h4M555,1096.0h4M611,1096.0h4M631,1096.0h64M411,1100.0h20M515,1100.0h4M559,1100.0h28M631,1100.0h64M411,1104.0h20M591,1104.0h8M631,1104.0h64M411,1108.0h24M511,1108.0h4M631,1108.0h64M411,1112.0h24M635,1112.0h60M411,1116.0h28M507,1116.0h4M635,1116.0h60M411,1120.0h32M507,1120.0h4M635,1120.0h60M411,1124.0h36M503,1124.0h8M635,1124.0h60M411,1128.0h44M503,1128.0h8M635,1128.0h60M411,1132.0h60M495,1132.0h16M635,1132.0h60M411,1136.0h104M635,1136.0h60M411,1140.0h108M575,1140.0h8M635,1140.0h60M411,1144.0h100M523,1144.0h8M575,1144.0h4M583,1144.0h4M635,1144.0h60M411,1148.0h96M531,1148.0h4M583,1148.0h4M635,1148.0h60M411,1152.0h92M535,1152.0h4M635,1152.0h60M411,1156.0h92M539,1156.0h4M571,1156.0h4M635,1156.0h60M411,1160.0h92M543,1160.0h4M571,1160.0h4M587,1160.0h4M635,1160.0h60M411,1164.0h92M547,1164.0h4M587,1164.0h4M635,1164.0h60M411,1168.0h92M547,1168.0h4M587,1168.0h4M635,1168.0h60M411,1172.0h92M547,1172.0h4M575,1172.0h4M587,1172.0h4M635,1172.0h60M411,1176.0h92M547,1176.0h4M579,1176.0h4M587,1176.0h4M635,1176.0h60M411,1180.0h92M583,1180.0h8M635,1180.0h60M411,1184.0h96M635,1184.0h60M411,1188.0h96M543,1188.0h4M635,1188.0h60M411,1192.0h96M543,1192.0h4M635,1192.0h60M411,1196.0h100M543,1196.0h4M635,1196.0h60M411,1200.0h104M539,1200.0h4M635,1200.0h60M411,1204.0h108M539,1204.0h4M631,1204.0h64M411,1208.0h112M535,1208.0h8M631,1208.0h64M411,1212.0h136M631,1212.0h64M411,1216.0h136M631,1216.0h64M411,1220.0h136M631,1220.0h64M411,1224.0h144M631,1224.0h64M411,1228.0h136M631,1228.0h64M411,1232.0h136M631,1232.0h64M411,1236.0h136M631,1236.0h64M411,1240.0h144M631,1240.0h64M411,1244.0h144M631,1244.0h64M411,1248.0h144M631,1248.0h64M411,1252.0h144M627,1252.0h68M411,1256.0h148M627,1256.0h68M411,1260.0h148M627,1260.0h68M411,1264.0h12M443,1264.0h116M627,1264.0h68M411,1268.0h8M447,1268.0h88M543,1268.0h20M627,1268.0h68M411,1272.0h8M447,1272.0h80M551,1272.0h12M623,1272.0h72M411,1276.0h12M443,1276.0h80M551,1276.0h16M623,1276.0h72M411,1280.0h108M551,1280.0h20M619,1280.0h76M411,1284.0h108M551,1284.0h20M619,1284.0h76M411,1288.0h88M503,1288.0h12M555,1288.0h20M615,1288.0h80M411,1292.0h80M511,1292.0h4M547,1292.0h4M559,1292.0h20M611,1292.0h84M411,1296.0h80M511,1296.0h4M563,1296.0h24M607,1296.0h88M411,1300.0h80M511,1300.0h4M563,1300.0h132M411,1304.0h84M563,1304.0h132M411,1308.0h88M503,1308.0h4M515,1308.0h4M563,1308.0h132M411,1312.0h84M515,1312.0h4M563,1312.0h132M411,1316.0h80M515,1316.0h4M543,1316.0h4M559,1316.0h136M411,1320.0h80M515,1320.0h8M543,1320.0h4M559,1320.0h136M411,1324.0h76M519,1324.0h8M543,1324.0h8M555,1324.0h140M411,1328.0h76M503,1328.0h4M519,1328.0h176M411,1332.0h68M503,1332.0h4M519,1332.0h176M411,1336.0h68M519,1336.0h176M411,1340.0h68M519,1340.0h176M411,1344.0h76M499,1344.0h4M519,1344.0h176M411,1348.0h76M495,1348.0h4M515,1348.0h180M411,1352.0h84M515,1352.0h180M411,1356.0h84M515,1356.0h180M411,1360.0h84M515,1360.0h180M411,1364.0h88M511,1364.0h184M411,1368.0h284M411,1372.0h284M411,1376.0h284M411,1380.0h284M411,1384.0h284M411,1388.0h284M411,1392.0h284M411,1396.0h284M411,1400.0h284M411,1404.0h284M411,1408.0h284M411,1412.0h284M411,1416.0h284M411,1420.0h284M411,1424.0h284M411,1428.0h284M411,1432.0h284M411,1436.0h284M411,1440.0h284M411,1444.0h284M411,1448.0h284M411,1452.0h120M543,1452.0h152M411,1456.0h120M543,1456.0h152M411,1460.0h120M539,1460.0h156M411,1464.0h284M411,1468.0h284M411,1472.0h284M411,1476.0h284M411,1480.0h284M411,1484.0h284M411,1488.0h36M471,1488.0h224M411,1492.0h24M483,1492.0h212M411,1496.0h16M491,1496.0h204M411,1500.0h16M491,1500.0h204M411,1504.0h16M491,1504.0h204M411,1508.0h16M491,1508.0h204M411,1512.0h24M483,1512.0h212M411,1516.0h36M471,1516.0h224M411,1520.0h284M411,1524.0h284" stroke="#f4edea"/>
<path d="M491,936.0h12M539,936.0h8M643,936.0h4M491,940.0h8M539,940.0h8M643,940.0h4M491,944.0h8M543,944.0h4M643,944.0h4M491,948.0h8M543,948.0h4M643,948.0h4M491,952.0h8M543,952.0h4M495,956.0h4M543,956.0h4M495,960.0h4M543,960.0h4M647,960.0h4M499,964.0h4M539,964.0h4M499,968.0h4M539,968.0h4M627,968.0h4M503,972.0h4M539,972.0h4M623,972.0h8M503,976.0h8M539,976.0h4M631,976.0h4M503,980.0h12M535,980.0h8M631,980.0h4M507,984.0h12M531,984.0h12M619,984.0h4M631,984.0h4M507,988.0h36M631,988.0h4M647,988.0h4M511,992.0h40M631,992.0h4M647,992.0h4M519,996.0h40M631,996.0h4M531,1000.0h12M559,1000.0h4M631,1000.0h4M531,1004.0h8M563,1004.0h4M647,1004.0h4M531,1008.0h8M567,1008.0h4M643,1008.0h4M535,1012.0h4M567,1012.0h4M535,1016.0h4M571,1016.0h4M535,1020.0h4M571,1020.0h4M535,1024.0h8M571,1024.0h4M627,1024.0h4M539,1028.0h4M483,1032.0h28M539,1032.0h8M479,1036.0h16M507,1036.0h8M543,1036.0h4M571,1036.0h4M615,1036.0h4M475,1040.0h12M511,1040.0h4M547,1040.0h4M571,1040.0h4M467,1044.0h16M515,1044.0h4M551,1044.0h12M567,1044.0h8M439,1048.0h40M515,1048.0h4M563,1048.0h4M435,1052.0h40M431,1056.0h40M615,1056.0h4M431,1060.0h12M427,1064.0h12M427,1068.0h12M571,1068.0h8M427,1072.0h8M519,1072.0h4M567,1072.0h4M583,1072.0h4M427,1076.0h8M519,1076.0h4M591,1076.0h8M427,1080.0h8M519,1080.0h4M559,1080.0h4M603,1080.0h12M427,1084.0h12M519,1084.0h4M555,1084.0h4M611,1084.0h4M427,1088.0h12M519,1088.0h4M555,1088.0h4M611,1088.0h4M431,1092.0h8M555,1092.0h8M611,1092.0h4M431,1096.0h8M515,1096.0h4M559,1096.0h12M431,1100.0h12M587,1100.0h8M431,1104.0h12M511,1104.0h4M599,1104.0h12M435,1108.0h8M435,1112.0h12M507,1112.0h4M439,1116.0h12M503,1116.0h4M443,1120.0h12M499,1120.0h8M447,1124.0h20M491,1124.0h12M455,1128.0h48M471,1132.0h24M511,1144.0h12M579,1144.0h4M507,1148.0h12M527,1148.0h4M575,1148.0h8M503,1152.0h12M575,1152.0h4M583,1152.0h4M503,1156.0h8M503,1160.0h8M503,1164.0h8M543,1164.0h4M575,1164.0h4M503,1168.0h8M575,1168.0h4M503,1172.0h8M579,1172.0h4M503,1176.0h8M583,1176.0h4M503,1180.0h8M543,1180.0h4M507,1184.0h8M543,1184.0h4M507,1188.0h8M507,1192.0h12M539,1192.0h4M511,1196.0h12M539,1196.0h4M515,1200.0h12M535,1200.0h4M519,1204.0h20M523,1208.0h12M547,1228.0h8M551,1232.0h4M547,1236.0h8M423,1264.0h20M419,1268.0h4M443,1268.0h4M419,1272.0h4M443,1272.0h4M423,1276.0h20M499,1288.0h4M551,1288.0h4M491,1292.0h8M503,1292.0h8M555,1292.0h4M491,1296.0h4M507,1296.0h4M547,1296.0h4M559,1296.0h4M491,1300.0h4M507,1300.0h4M559,1300.0h4M495,1304.0h20M559,1304.0h4M507,1308.0h8M559,1308.0h4M507,1312.0h8M559,1312.0h4M547,1320.0h12M515,1324.0h4M551,1324.0h4M515,1328.0h4M479,1332.0h8M515,1332.0h4M503,1336.0h4M515,1336.0h4M503,1340.0h4M515,1340.0h4M503,1344.0h4M515,1344.0h4M499,1348.0h4M495,1352.0h4M511,1352.0h4M495,1356.0h4M511,1356.0h4M495,1360.0h4M507,1360.0h8M499,1364.0h12M539,1452.0h4M539,1456.0h4M531,1460.0h8M447,1488.0h24M435,1492.0h48M427,1496.0h64M427,1500.0h64M427,1504.0h64M427,1508.0h64M435,1512.0h48M447,1516.0h24" stroke="#f1e4df"/>
<path d="M503,936.0h36M499,940.0h12M527,940.0h12M499,944.0h4M535,944.0h8M499,948.0h4M535,948.0h8M499,952.0h4M539,952.0h4M643,952.0h4M499,956.0h4M539,956.0h4M499,960.0h4M539,960.0h4M503,964.0h4M535,964.0h4M647,964.0h4M503,968.0h8M535,968.0h4M647,968.0h4M507,972.0h8M535,972.0h4M647,972.0h4M511,976.0h8M531,976.0h8M623,976.0h8M647,976.0h4M515,980.0h20M647,980.0h4M519,984.0h12M647,984.0h4M619,988.0h4M647,996.0h4M543,1000.0h16M539,1004.0h8M559,1004.0h4M539,1008.0h4M563,1008.0h4M539,1012.0h4M563,1012.0h4M539,1016.0h4M567,1016.0h4M539,1020.0h4M567,1020.0h4M543,1024.0h4M543,1028.0h4M571,1028.0h4M547,1032.0h4M571,1032.0h4M495,1036.0h12M547,1036.0h8M567,1036.0h4M487,1040.0h8M551,1040.0h20M615,1040.0h4M483,1044.0h4M511,1044.0h4M563,1044.0h4M615,1044.0h4M479,1048.0h4M615,1048.0h4M475,1052.0h4M515,1052.0h4M615,1052.0h4M471,1056.0h8M443,1060.0h32M439,1064.0h12M455,1064.0h16M439,1068.0h8M435,1072.0h8M571,1072.0h12M435,1076.0h8M563,1076.0h4M583,1076.0h8M435,1080.0h8M591,1080.0h12M439,1084.0h4M559,1084.0h4M603,1084.0h8M439,1088.0h4M515,1088.0h4M559,1088.0h4M439,1092.0h8M515,1092.0h4M563,1092.0h4M439,1096.0h8M571,1096.0h24M443,1100.0h4M511,1100.0h4M595,1100.0h16M443,1104.0h4M443,1108.0h8M507,1108.0h4M447,1112.0h4M503,1112.0h4M451,1116.0h8M499,1116.0h4M455,1120.0h12M491,1120.0h8M467,1124.0h24M519,1148.0h8M515,1152.0h4M531,1152.0h4M579,1152.0h4M511,1156.0h4M535,1156.0h4M575,1156.0h4M583,1156.0h4M511,1160.0h4M539,1160.0h4M575,1160.0h4M583,1160.0h4M511,1164.0h4M583,1164.0h4M511,1168.0h4M543,1168.0h4M579,1168.0h8M511,1172.0h4M543,1172.0h4M583,1172.0h4M511,1176.0h4M543,1176.0h4M511,1180.0h4M515,1184.0h4M515,1188.0h4M539,1188.0h4M519,1192.0h4M523,1196.0h16M527,1200.0h8M547,1232.0h4M423,1268.0h4M439,1268.0h4M439,1272.0h4M499,1292.0h4M551,1292.0h4M495,1296.0h4M503,1296.0h4M555,1296.0h4M495,1300.0h4M503,1300.0h4M547,1300.0h4M547,1312.0h4M555,1312.0h4M507,1316.0h8M547,1316.0h12M479,1336.0h4M479,1340.0h8M511,1344.0h4M503,1348.0h12M507,1352.0h4M507,1356.0h4M531,1452.0h4" stroke="#eedbd4"/>
<path d="M511,940.0h16M503,944.0h32M503,948.0h4M527,948.0h8M503,952.0h4M531,952.0h8M503,956.0h4M531,956.0h8M643,956.0h4M503,960.0h4M531,960.0h8M507,964.0h4M531,964.0h4M511,968.0h8M527,968.0h8M515,972.0h20M519,976.0h12M623,980.0h8M619,992.0h4M647,1000.0h4M547,1004.0h12M543,1008.0h8M555,1008.0h8M543,1012.0h4M559,1012.0h4M543,1016.0h4M563,1016.0h4M543,1020.0h4M563,1020.0h4M627,1020.0h4M547,1024.0h4M563,1024.0h8M547,1028.0h8M563,1028.0h8M551,1032.0h8M563,1032.0h8M555,1036.0h12M623,1036.0h4M495,1040.0h4M507,1040.0h4M487,1044.0h4M483,1048.0h4M479,1052.0h4M619,1052.0h4M479,1056.0h4M515,1056.0h4M475,1060.0h4M515,1060.0h4M451,1064.0h4M471,1064.0h4M447,1068.0h28M443,1072.0h28M443,1076.0h8M459,1076.0h8M567,1076.0h16M443,1080.0h8M563,1080.0h8M583,1080.0h8M443,1084.0h8M515,1084.0h4M563,1084.0h4M587,1084.0h16M443,1088.0h8M563,1088.0h8M587,1088.0h4M603,1088.0h8M447,1092.0h4M567,1092.0h28M607,1092.0h4M447,1096.0h4M511,1096.0h4M595,1096.0h16M447,1100.0h4M447,1104.0h4M507,1104.0h4M451,1108.0h4M503,1108.0h4M451,1112.0h8M499,1112.0h4M459,1116.0h4M495,1116.0h4M467,1120.0h24M519,1152.0h12M515,1156.0h4M531,1156.0h4M579,1156.0h4M515,1160.0h4M535,1160.0h4M579,1160.0h4M515,1164.0h4M539,1164.0h4M579,1164.0h4M539,1168.0h4M515,1172.0h4M515,1176.0h4M515,1180.0h4M539,1180.0h4M519,1184.0h4M539,1184.0h4M519,1188.0h4M535,1188.0h4M523,1192.0h16M435,1268.0h4M423,1272.0h4M435,1272.0h4M499,1296.0h4M551,1296.0h4M499,1300.0h4M555,1300.0h4M547,1304.0h4M555,1304.0h4M547,1308.0h4M555,1308.0h4M507,1320.0h8M511,1324.0h4M511,1328.0h4M511,1332.0h4M483,1336.0h4M511,1336.0h4M511,1340.0h4M507,1344.0h4M503,1360.0h4M535,1452.0h4M531,1456.0h4" stroke="#ecd2c9"/>
<path d="M507,948.0h20M507,952.0h24M507,956.0h24M507,960.0h24M511,964.0h20M519,968.0h8M643,992.0h4M619,996.0h4M551,1008.0h4M547,1012.0h12M547,1016.0h16M627,1016.0h4M547,1020.0h16M551,1024.0h12M555,1028.0h8M559,1032.0h4M499,1040.0h8M491,1044.0h4M487,1048.0h4M511,1048.0h4M483,1052.0h4M479,1060.0h4M475,1064.0h4M515,1064.0h4M515,1068.0h4M471,1072.0h4M515,1072.0h4M451,1076.0h8M467,1076.0h4M515,1076.0h4M451,1080.0h20M515,1080.0h4M571,1080.0h12M451,1084.0h16M567,1084.0h20M451,1088.0h8M571,1088.0h16M591,1088.0h12M451,1092.0h8M511,1092.0h4M595,1092.0h12M451,1096.0h4M451,1100.0h4M507,1100.0h4M451,1104.0h4M455,1108.0h4M459,1112.0h4M495,1112.0h4M463,1116.0h8M487,1116.0h8M519,1156.0h12M519,1160.0h4M535,1164.0h4M515,1168.0h4M539,1172.0h4M539,1176.0h4M519,1180.0h4M523,1184.0h4M535,1184.0h4M523,1188.0h12M427,1268.0h4M427,1272.0h4M551,1300.0h4M551,1312.0h4M507,1324.0h4M507,1328.0h4M507,1332.0h4M507,1336.0h4M507,1340.0h4M499,1352.0h8M499,1360.0h4M535,1456.0h4" stroke="#e8c8bc"/>
<path d="M643,960.0h4M623,984.0h8M643,988.0h4M619,1000.0h4M643,1004.0h4M627,1012.0h4M507,1044.0h4M483,1056.0h4M475,1068.0h4M475,1072.0h4M471,1076.0h4M471,1080.0h4M467,1084.0h4M459,1088.0h8M459,1092.0h4M455,1096.0h4M455,1100.0h4M455,1104.0h4M503,1104.0h4M459,1108.0h4M499,1108.0h4M463,1112.0h4M491,1112.0h4M471,1116.0h16M523,1160.0h12M519,1164.0h4M519,1168.0h4M535,1168.0h4M519,1172.0h4M535,1172.0h4M519,1176.0h4M535,1176.0h4M523,1180.0h4M535,1180.0h4M527,1184.0h8M431,1268.0h4M431,1272.0h4M551,1304.0h4M551,1308.0h4M503,1356.0h4" stroke="#e4bdaf"/>
<path d="M643,984.0h4M627,988.0h4M619,1004.0h4M619,1008.0h4M627,1008.0h4M495,1044.0h4M491,1048.0h4M487,1052.0h4M511,1052.0h4M479,1064.0h4M475,1076.0h4M471,1084.0h4M467,1088.0h4M511,1088.0h4M463,1092.0h4M459,1096.0h4M507,1096.0h4M459,1100.0h4M459,1104.0h4M463,1108.0h4M495,1108.0h4M467,1112.0h8M483,1112.0h8M523,1164.0h12M523,1168.0h4M531,1168.0h4M523,1172.0h4M523,1176.0h12M527,1180.0h8M499,1356.0h4" stroke="#e1b2a1"/>
<path d="M643,964.0h4M643,980.0h4M623,988.0h4M627,992.0h4M627,996.0h4M627,1000.0h4M627,1004.0h4M619,1012.0h4M499,1044.0h8M619,1048.0h4M483,1060.0h4M479,1068.0h4M479,1072.0h4M475,1080.0h4M475,1084.0h4M471,1088.0h4M467,1092.0h4M463,1096.0h4M463,1100.0h4M503,1100.0h4M463,1104.0h4M499,1104.0h4M467,1108.0h4M491,1108.0h4M475,1112.0h8M527,1168.0h4M527,1172.0h8" stroke="#dda794"/>
<path d="M643,968.0h4M643,972.0h4M643,976.0h4M619,1016.0h4M623,1032.0h4M507,1048.0h4M511,1056.0h4M479,1076.0h4M511,1084.0h4M475,1088.0h4M471,1092.0h4M467,1096.0h4M467,1100.0h4M467,1104.0h4M471,1108.0h20" stroke="#da9d89"/>
<path d="M623,992.0h4M619,1044.0h4M487,1056.0h4M483,1064.0h4M479,1080.0h4M479,1084.0h4M475,1092.0h4M507,1092.0h4M471,1096.0h4M471,1100.0h4M471,1104.0h4M495,1104.0h4" stroke="#d7937d"/>
<path d="M623,996.0h4M619,1020.0h4M495,1048.0h4M491,1052.0h4M483,1068.0h4M511,1080.0h4M479,1088.0h4M479,1092.0h4M475,1096.0h4M475,1100.0h8M475,1104.0h20" stroke="#d48971"/>
<path d="M643,996.0h4M619,1024.0h4M623,1028.0h4M619,1040.0h4M511,1060.0h4M511,1076.0h4M479,1096.0h4M503,1096.0h4M483,1100.0h4M499,1100.0h4" stroke="#d07f66"/>
<path d="M623,1000.0h4M619,1028.0h4M619,1036.0h4M503,1048.0h4M487,1060.0h4M511,1064.0h4M483,1072.0h4M483,1096.0h4M487,1100.0h4" stroke="#cd755a"/>
<path d="M623,1004.0h4M623,1024.0h4M619,1032.0h4M499,1048.0h4M507,1052.0h4M511,1068.0h4M511,1072.0h4M483,1076.0h4M483,1088.0h4M507,1088.0h4M483,1092.0h4M491,1100.0h8" stroke="#ca6c4f"/>
<path d="M623,1008.0h4M623,1012.0h4M623,1016.0h4M623,1020.0h4M483,1080.0h4M483,1084.0h4" stroke="#c76346"/>
<path d="M487,1096.0h4" stroke="#c55a3c"/>
<path d="M491,1056.0h4M487,1064.0h4M499,1096.0h4" stroke="#c15136"/>
<path d="M495,1052.0h4M487,1092.0h4M503,1092.0h4" stroke="#bd4730"/>
<path d="M507,1084.0h4M491,1096.0h4" stroke="#b93d2a"/>
<path d="M507,1056.0h4M495,1096.0h4" stroke="#b23129"/>
<path d="M503,1052.0h4M487,1068.0h4M487,1088.0h4" stroke="#aa2528"/>
<path d="M643,1000.0h4M499,1052.0h4" stroke="#a11d29"/>
<path d="M491,1060.0h4M487,1072.0h4M507,1080.0h4M487,1084.0h4M491,1092.0h4" stroke="#8c172c"/>
<path d="M507,1060.0h4M487,1080.0h4M503,1088.0h4" stroke="#82142c"/>
<path d="M487,1076.0h4M499,1092.0h4" stroke="#791129"/>
<path d="M495,1056.0h4" stroke="#6f0e26"/>
<path d="M495,1092.0h4" stroke="#660b24"/>
<path d="M507,1076.0h4" stroke="#5a0c21"/>
<path d="M507,1064.0h4" stroke="#4d0e1e"/>
<path d="M503,1056.0h4M491,1088.0h4" stroke="#440f1c"/>
<path d="M499,1056.0h4M495,1060.0h12M491,1064.0h16M491,1068.0h20M491,1072.0h20M491,1076.0h16M491,1080.0h16M491,1084.0h16M495,1088.0h8" stroke="#3c101a"/>
</g></g>
<g clip-path="url(#mkF)"><path d="M609.0,1143.3 607.2,1148.0 606.0,1156.0 606.4,1164.0 609.0,1172.0 613.0,1173.3 615.7,1168.0 617.0,1162.4 617.5,1156.0 617.0,1150.0 615.0,1144.0 609.0,1143.3M453.0,986.4 453.0,988.9 461.0,990.2 467.4,988.0 461.0,984.9 453.0,986.4M605.0,1019.6 601.4,1024.0 600.3,1028.0 599.9,1036.0 601.0,1041.9 605.0,1047.4 609.0,1040.2 609.6,1036.0 609.2,1028.0 607.9,1024.0 605.0,1019.6M629.0,1038.3 627.1,1044.0 627.2,1052.0 629.0,1056.0 630.4,1052.0 630.7,1044.0 629.0,1038.3M621.0,1076.6 618.6,1084.0 617.0,1090.5 616.8,1096.0 616.6,1104.0 616.5,1112.0 616.7,1120.0 616.0,1128.0 612.7,1132.0 606.6,1136.0 604.6,1140.0 602.4,1148.0 601.8,1156.0 602.0,1164.0 603.2,1172.0 605.0,1177.1 609.0,1183.2 615.8,1180.0 617.9,1176.0 620.0,1168.0 620.8,1160.0 621.0,1152.0 620.8,1144.0 620.5,1136.0 621.0,1129.7 621.5,1124.0 622.0,1116.0 622.4,1108.0 622.5,1100.0 622.3,1092.0 621.9,1084.0 621.0,1076.6M605.0,1223.0 601.0,1227.7 600.2,1232.0 600.0,1240.0 601.0,1245.4 605.0,1250.0 608.0,1244.0 609.0,1236.0 607.6,1228.0 605.0,1223.0M637.0,945.3 633.5,952.0 636.3,960.0 641.0,960.5 641.8,956.0 642.0,948.0 637.0,945.3M565.0,950.7 561.0,952.4 556.8,956.0 553.0,962.3 551.3,968.0 550.9,976.0 553.0,981.6 557.0,985.9 561.0,988.8 566.3,992.0 571.5,996.0 574.1,1000.0 576.5,1008.0 577.6,1012.0 580.1,1020.0 581.3,1024.0 582.3,1032.0 581.9,1040.0 581.0,1045.5 579.8,1052.0 581.0,1057.7 585.0,1062.5 589.0,1065.7 593.0,1068.4 601.0,1071.7 605.0,1072.5 609.0,1071.6 612.6,1064.0 613.8,1064.0 613.9,1072.0 613.8,1080.0 613.7,1088.0 613.5,1096.0 613.1,1104.0 611.3,1108.0 605.0,1111.4 597.0,1110.7 589.1,1108.0 585.0,1107.2 577.0,1107.6 573.0,1108.2 565.0,1108.2 561.0,1106.8 557.0,1103.9 552.8,1100.0 548.2,1096.0 543.0,1092.0 537.1,1088.0 543.1,1084.0 549.0,1080.0 553.0,1076.8 557.0,1073.0 561.0,1068.4 563.8,1064.0 561.0,1056.0 557.0,1053.4 553.0,1051.2 545.4,1048.0 541.0,1046.5 533.0,1046.3 529.0,1048.8 525.4,1056.0 524.8,1060.0 525.0,1067.1 526.2,1072.0 529.0,1078.5 533.0,1083.7 537.0,1088.0 532.1,1092.0 527.2,1096.0 523.3,1100.0 520.2,1104.0 517.0,1109.6 514.7,1116.0 514.0,1124.0 516.8,1132.0 521.0,1136.0 525.0,1137.9 530.4,1140.0 535.3,1144.0 538.5,1148.0 541.9,1152.0 546.0,1156.0 550.6,1160.0 554.1,1164.0 554.4,1172.0 552.9,1176.0 550.3,1184.0 549.0,1190.0 548.5,1196.0 549.0,1201.1 551.6,1208.0 554.7,1212.0 559.3,1216.0 564.9,1220.0 569.0,1223.6 573.0,1227.8 580.8,1224.0 585.0,1220.9 586.0,1228.0 585.0,1234.4 582.8,1240.0 581.4,1248.0 581.6,1256.0 583.9,1264.0 585.9,1268.0 589.0,1272.9 593.0,1277.5 597.0,1280.4 605.0,1282.1 609.0,1279.8 613.0,1275.1 616.8,1268.0 618.5,1264.0 620.7,1256.0 621.5,1252.0 622.8,1244.0 623.4,1236.0 623.4,1228.0 623.1,1220.0 622.9,1212.0 623.5,1204.0 624.9,1196.0 625.9,1192.0 627.8,1184.0 628.8,1176.0 629.0,1171.7 629.7,1164.0 629.8,1156.0 629.2,1148.0 628.9,1144.0 628.5,1136.0 628.2,1128.0 628.0,1120.0 627.9,1112.0 627.7,1104.0 627.6,1096.0 627.4,1088.0 627.3,1080.0 627.7,1072.0 630.1,1068.0 632.9,1060.0 633.9,1056.0 635.2,1048.0 636.0,1040.0 639.1,1036.0 641.8,1032.0 643.5,1024.0 643.2,1016.0 641.0,1008.4 637.0,1004.0 633.0,1010.0 632.2,1016.0 631.3,1024.0 629.0,1028.5 626.3,1036.0 625.0,1040.0 623.3,1048.0 621.9,1056.0 618.1,1060.0 614.6,1060.0 614.7,1052.0 615.3,1044.0 615.9,1036.0 616.5,1028.0 616.9,1020.0 616.5,1012.0 615.4,1004.0 614.6,996.0 616.0,988.0 617.3,984.0 618.7,976.0 617.9,968.0 614.6,964.0 609.0,960.4 605.0,958.4 597.8,956.0 593.0,954.5 585.0,952.5 581.0,951.6 573.0,950.1 565.0,950.7M413.0,974.3 415.6,980.0 419.2,984.0 424.1,988.0 429.0,991.2 433.0,993.5 440.9,996.0 445.0,997.4 453.0,998.6 461.0,998.8 469.0,998.0 475.6,996.0 481.0,994.3 485.0,991.4 488.5,984.0 489.6,980.0 491.5,972.0 489.5,964.0 487.3,960.0 483.9,956.0 478.4,952.0 473.0,949.5 467.5,948.0 461.0,946.6 453.0,946.0 445.0,946.5 437.9,948.0 433.0,949.2 426.6,952.0 421.0,955.5 417.0,959.2 413.8,964.0 413.0,966.6M575.1,1132.0 581.0,1131.5 584.3,1136.0 586.3,1140.0 589.0,1148.0 589.8,1152.0 591.0,1160.0 591.8,1168.0 592.0,1176.0 591.1,1184.0 589.0,1189.5 584.2,1188.0 580.9,1184.0 577.0,1177.8 573.5,1172.0 571.1,1168.0 569.6,1160.0 571.0,1152.0 572.6,1144.0 573.2,1140.0 575.1,1132.0M529.0,1279.0 525.0,1283.7 522.9,1288.0 521.4,1296.0 522.0,1304.0 525.0,1311.7 528.6,1316.0 533.0,1318.7 541.0,1316.9 542.9,1312.0 544.5,1304.0 545.1,1300.0 546.2,1292.0 546.2,1284.0 544.2,1280.0 537.0,1276.2 529.0,1279.0M501.0,1311.4 497.0,1314.8 494.0,1320.0 492.2,1324.0 490.3,1332.0 491.2,1340.0 497.0,1341.6 501.0,1336.8 502.6,1332.0 504.2,1324.0 504.5,1316.0 501.0,1311.4M496.1,1052.0 501.0,1049.1 507.7,1052.0 510.4,1056.0 512.3,1064.0 512.5,1072.0 511.4,1080.0 509.0,1086.1 505.8,1092.0 502.0,1096.0 497.0,1098.6 490.0,1096.0 487.3,1092.0 485.8,1084.0 485.8,1076.0 487.1,1068.0 489.0,1063.1 492.6,1056.0 496.1,1052.0M499.8,1056.0 503.4,1056.0 507.4,1060.0 509.0,1067.3 509.0,1071.4 508.5,1076.0 505.8,1084.0 502.7,1088.0 497.0,1090.6 493.0,1087.6 490.5,1080.0 490.6,1072.0 493.0,1064.0 495.1,1060.0 499.8,1056.0M496.3,1064.0 501.0,1060.0 505.6,1064.0 506.6,1072.0 505.0,1078.6 501.5,1084.0 497.0,1084.9 494.0,1080.0 493.6,1072.0 496.3,1064.0" fill="none" stroke="#1a1a1a" stroke-width="0.75"/></g>
<linearGradient id="fc1" x1="0" x2="1" y1="0" y2="0"><stop offset="0" stop-color="#c4583a"/><stop offset="0.6" stop-color="#5c0b21"/></linearGradient>
<rect x="555" y="1293" width="9.5" height="20.5" fill="url(#fc1)"/>
<linearGradient id="fc2" x1="0" x2="1" y1="0" y2="0"><stop offset="0" stop-color="#c4583a"/><stop offset="1" stop-color="#e1b4a4"/></linearGradient>
<rect x="589" y="1293" width="9" height="20.5" fill="url(#fc2)"/>
<path d="M668.1,943.0 668.1,956.3 660.4,969.7 664.2,990.4 655.4,1009.7 647.9,1039.3 642.0,1057.1 634.6,1088.2 639.0,1101.6 643.5,1128.3 630.7,1141.6 628.7,1154.9 633.1,1180.1 636.1,1205.3 634.6,1200.0 635.5,1210.4 640.5,1222.2 629.6,1247.4 632.5,1263.7 622.7,1288.9 612.4,1318.6 602.0,1339.3 596.1,1354.1 591.6,1376.4 582.1,1385.3 582.1,1403.0 568.8,1403.9 562.6,1425.3 571.5,1443.0 571.5,1466.8 573.8,1481.6 576.8,1496.4 564.4,1514.8 564.4,1518.6 686.5,1518.2 686.5,940.0Z" fill="#b4b5b7"/>
<path d="M668.1,943.0 668.1,956.3 660.4,969.7 664.2,990.4 655.4,1009.7 647.9,1039.3 642.0,1057.1 634.6,1088.2 639.0,1101.6 643.5,1128.3 630.7,1141.6 628.7,1154.9 633.1,1180.1 636.1,1205.3 634.6,1200.0 635.5,1210.4 640.5,1222.2 629.6,1247.4 632.5,1263.7 622.7,1288.9 612.4,1318.6 602.0,1339.3 596.1,1354.1 591.6,1376.4 582.1,1385.3 582.1,1403.0 568.8,1403.9 562.6,1425.3 571.5,1443.0 571.5,1466.8 573.8,1481.6 576.8,1496.4 564.4,1514.8 564.4,1518.6" fill="none" stroke="#222" stroke-width="0.8"/>
<path d="M663.4,983.6 539.2,983.6 539.2,993.4 530.9,1001.4 530.9,1039.3 522.9,1048.2 522.9,1057.1 514.6,1066.0 514.6,1076.4 506.3,1085.3 506.3,1095.1 514.6,1104.5 514.6,1132.7 497.4,1141.6 497.4,1150.5 506.3,1160.3 506.3,1200.0 506.3,1200.0 506.3,1236.2 498.3,1245.1 498.3,1255.7 506.3,1265.2 489.4,1284.5 489.4,1313.2 473.1,1332.8 473.1,1352.1 464.2,1362.4 464.2,1371.9 456.2,1381.4 456.2,1392.1 439.6,1411.0 439.6,1461.4 447.9,1471.2 447.9,1481.6 573.8,1481.6" fill="none" stroke="#000" stroke-width="2.3" stroke-linejoin="miter"/>
<path d="M419.0,1015.9H684.5M419.0,1127.8H684.5M419.0,1241.1H684.5M419.0,1357.1H684.5M419.0,1476.0H684.5M419.1,942.0V1516.2M518.5,942.0V1516.2M617.8,942.0V1516.2" stroke="#707070" stroke-width="1.1" stroke-dasharray="1.3 1.9" fill="none" opacity="0.7"/>
</g>
<rect x="419.0" y="942.0" width="265.4" height="574.2" fill="none" stroke="#000" stroke-width="3.6"/>
<path d="M413.2,1015.9H419.0M684.5,1015.9H690.2M413.2,1127.8H419.0M684.5,1127.8H690.2M413.2,1241.1H419.0M684.5,1241.1H690.2M413.2,1357.1H419.0M684.5,1357.1H690.2M413.2,1476.0H419.0M684.5,1476.0H690.2M419.1,936.2V942.0M419.1,1516.2V1522.0M518.5,936.2V942.0M518.5,1516.2V1522.0M617.8,936.2V942.0M617.8,1516.2V1522.0" stroke="#000" stroke-width="3.5" fill="none"/>
<clipPath id="frG"><rect x="720.8" y="942.0" width="265.4" height="574.2"/></clipPath>
<g clip-path="url(#frG)">
<rect x="720.8" y="942.0" width="265.4" height="574.2" fill="#ebecee"/>
<g><g filter="url(#bl)" fill="none" stroke-width="4.7">
<path d="M785,1288.0h24M781,1292.0h28M777,1296.0h36M773,1300.0h40M769,1304.0h44M769,1308.0h44M765,1312.0h44M765,1316.0h44M765,1320.0h44M761,1324.0h44M761,1328.0h44M761,1332.0h40M761,1336.0h36M765,1340.0h28M765,1344.0h24M769,1348.0h12" stroke="#edeced"/>
<path d="M789,1244.0h28M777,1248.0h48M769,1252.0h60M765,1256.0h68M761,1260.0h72M757,1264.0h76M753,1268.0h84M749,1272.0h88M749,1276.0h88M745,1280.0h92M745,1284.0h92M741,1288.0h44M809,1288.0h28M741,1292.0h40M809,1292.0h24M737,1296.0h40M813,1296.0h20M737,1300.0h36M813,1300.0h20M737,1304.0h32M813,1304.0h20M737,1308.0h32M813,1308.0h16M733,1312.0h32M809,1312.0h20M733,1316.0h32M809,1316.0h20M733,1320.0h32M809,1320.0h16M733,1324.0h28M805,1324.0h20M733,1328.0h28M805,1328.0h20M733,1332.0h28M801,1332.0h20M729,1336.0h32M797,1336.0h24M729,1340.0h36M793,1340.0h24M729,1344.0h36M789,1344.0h24M729,1348.0h40M781,1348.0h32M729,1352.0h80M733,1356.0h72M733,1360.0h68M733,1364.0h64M733,1368.0h60M737,1372.0h52M737,1376.0h48M741,1380.0h36M745,1384.0h28" stroke="#f0eeee"/>
<path d="M741,1172.0h20M737,1176.0h28M733,1180.0h40M733,1184.0h44M729,1188.0h56M729,1192.0h68M729,1196.0h88M725,1200.0h104M725,1204.0h112M725,1208.0h112M721,1212.0h120M721,1216.0h124M721,1220.0h124M721,1224.0h124M717,1228.0h132M717,1232.0h132M717,1236.0h132M717,1240.0h132M713,1244.0h76M817,1244.0h32M713,1248.0h64M825,1248.0h24M713,1252.0h56M829,1252.0h20M713,1256.0h52M833,1256.0h16M713,1260.0h48M833,1260.0h16M713,1264.0h44M833,1264.0h16M713,1268.0h40M837,1268.0h12M713,1272.0h36M837,1272.0h12M713,1276.0h36M837,1276.0h12M713,1280.0h32M837,1280.0h12M713,1284.0h32M837,1284.0h12M713,1288.0h28M837,1288.0h8M713,1292.0h28M833,1292.0h12M713,1296.0h24M833,1296.0h12M713,1300.0h24M833,1300.0h12M713,1304.0h24M833,1304.0h8M713,1308.0h24M829,1308.0h12M713,1312.0h20M829,1312.0h12M713,1316.0h20M829,1316.0h8M713,1320.0h20M825,1320.0h12M713,1324.0h20M825,1324.0h12M713,1328.0h20M825,1328.0h8M713,1332.0h20M821,1332.0h12M713,1336.0h16M821,1336.0h8M713,1340.0h16M817,1340.0h12M713,1344.0h16M813,1344.0h12M713,1348.0h16M813,1348.0h12M713,1352.0h16M809,1352.0h12M713,1356.0h20M805,1356.0h16M713,1360.0h20M801,1360.0h16M713,1364.0h20M797,1364.0h16M713,1368.0h20M793,1368.0h16M713,1372.0h24M789,1372.0h20M713,1376.0h24M785,1376.0h20M713,1380.0h28M777,1380.0h24M713,1384.0h32M773,1384.0h24M713,1388.0h80M713,1392.0h76M713,1396.0h72M713,1400.0h64M713,1404.0h60M713,1408.0h56M713,1412.0h48M717,1416.0h36M721,1420.0h24" stroke="#f4f0ef"/>
<path d="M713,936.0h100M965,936.0h32M713,940.0h96M965,940.0h32M713,944.0h96M969,944.0h28M713,948.0h96M969,948.0h28M713,952.0h92M969,952.0h28M713,956.0h92M969,956.0h28M713,960.0h92M969,960.0h28M713,964.0h92M969,964.0h28M713,968.0h92M973,968.0h24M713,972.0h88M973,972.0h24M713,976.0h88M973,976.0h24M713,980.0h88M973,980.0h24M713,984.0h88M973,984.0h24M713,988.0h88M973,988.0h24M713,992.0h88M973,992.0h24M713,996.0h88M973,996.0h24M713,1000.0h88M977,1000.0h20M713,1004.0h88M977,1004.0h20M713,1008.0h88M977,1008.0h20M713,1012.0h88M977,1012.0h20M713,1016.0h92M977,1016.0h20M713,1020.0h92M977,1020.0h20M713,1024.0h92M977,1024.0h20M713,1028.0h92M977,1028.0h20M713,1032.0h92M977,1032.0h20M713,1036.0h92M977,1036.0h20M713,1040.0h96M977,1040.0h20M713,1044.0h96M977,1044.0h20M713,1048.0h96M977,1048.0h20M713,1052.0h96M981,1052.0h16M713,1056.0h100M981,1056.0h16M713,1060.0h100M981,1060.0h16M713,1064.0h100M981,1064.0h16M713,1068.0h104M981,1068.0h16M713,1072.0h104M981,1072.0h16M713,1076.0h108M981,1076.0h16M713,1080.0h108M981,1080.0h16M713,1084.0h112M981,1084.0h16M713,1088.0h112M981,1088.0h16M713,1092.0h116M985,1092.0h12M713,1096.0h116M985,1096.0h12M713,1100.0h120M985,1100.0h12M713,1104.0h120M985,1104.0h12M713,1108.0h124M989,1108.0h8M713,1112.0h124M989,1112.0h8M713,1116.0h128M993,1116.0h4M713,1120.0h128M713,1124.0h128M713,1128.0h132M713,1132.0h132M713,1136.0h132M713,1140.0h132M713,1144.0h136M713,1148.0h136M713,1152.0h136M713,1156.0h136M713,1160.0h136M713,1164.0h140M713,1168.0h140M713,1172.0h28M761,1172.0h92M713,1176.0h24M765,1176.0h88M713,1180.0h20M773,1180.0h80M713,1184.0h20M777,1184.0h76M713,1188.0h16M785,1188.0h72M713,1192.0h16M797,1192.0h60M713,1196.0h16M817,1196.0h40M713,1200.0h12M829,1200.0h28M713,1204.0h12M837,1204.0h20M713,1208.0h12M837,1208.0h20M713,1212.0h8M841,1212.0h16M713,1216.0h8M845,1216.0h12M713,1220.0h8M845,1220.0h12M713,1224.0h8M845,1224.0h16M713,1228.0h4M849,1228.0h12M713,1232.0h4M849,1232.0h12M713,1236.0h4M849,1236.0h12M713,1240.0h4M849,1240.0h12M849,1244.0h12M849,1248.0h12M849,1252.0h8M849,1256.0h8M849,1260.0h8M849,1264.0h8M849,1268.0h8M849,1272.0h8M849,1276.0h8M849,1280.0h8M849,1284.0h4M845,1288.0h8M845,1292.0h8M845,1296.0h8M845,1300.0h8M841,1304.0h8M841,1308.0h8M841,1312.0h8M837,1316.0h8M837,1320.0h8M837,1324.0h8M833,1328.0h8M833,1332.0h8M829,1336.0h8M829,1340.0h8M825,1344.0h8M825,1348.0h8M821,1352.0h8M821,1356.0h8M817,1360.0h8M813,1364.0h12M809,1368.0h12M809,1372.0h8M805,1376.0h12M801,1380.0h12M797,1384.0h12M793,1388.0h12M789,1392.0h12M785,1396.0h12M777,1400.0h16M773,1404.0h16M769,1408.0h16M761,1412.0h20M713,1416.0h4M753,1416.0h24M713,1420.0h8M745,1420.0h28M713,1424.0h56M713,1428.0h52M713,1432.0h48M713,1436.0h44M713,1440.0h36M713,1444.0h32M713,1448.0h24M713,1452.0h16M713,1456.0h4" stroke="#f5efed"/>
<path d="M813,936.0h40M945,936.0h20M809,940.0h40M945,940.0h20M809,944.0h40M945,944.0h24M809,948.0h36M945,948.0h24M805,952.0h40M949,952.0h20M805,956.0h36M949,956.0h20M805,960.0h36M949,960.0h20M805,964.0h36M949,964.0h20M805,968.0h32M949,968.0h24M801,972.0h36M949,972.0h24M801,976.0h36M953,976.0h20M801,980.0h36M953,980.0h20M801,984.0h32M953,984.0h20M801,988.0h32M953,988.0h20M801,992.0h32M953,992.0h20M801,996.0h32M953,996.0h20M801,1000.0h32M953,1000.0h24M801,1004.0h32M953,1004.0h24M801,1008.0h32M957,1008.0h20M801,1012.0h32M957,1012.0h20M805,1016.0h28M957,1016.0h20M805,1020.0h28M957,1020.0h20M805,1024.0h32M957,1024.0h20M805,1028.0h32M957,1028.0h20M805,1032.0h32M957,1032.0h20M805,1036.0h32M957,1036.0h20M809,1040.0h32M957,1040.0h20M809,1044.0h32M957,1044.0h20M809,1048.0h32M957,1048.0h20M809,1052.0h36M957,1052.0h24M813,1056.0h32M957,1056.0h24M813,1060.0h32M957,1060.0h24M813,1064.0h36M957,1064.0h24M817,1068.0h32M957,1068.0h24M817,1072.0h32M961,1072.0h20M821,1076.0h28M961,1076.0h20M821,1080.0h32M961,1080.0h20M825,1084.0h28M961,1084.0h20M825,1088.0h28M961,1088.0h20M829,1092.0h24M961,1092.0h24M829,1096.0h28M961,1096.0h24M833,1100.0h24M961,1100.0h24M833,1104.0h24M961,1104.0h24M837,1108.0h20M961,1108.0h28M837,1112.0h20M961,1112.0h28M841,1116.0h16M961,1116.0h32M841,1120.0h20M961,1120.0h36M841,1124.0h20M965,1124.0h32M845,1128.0h16M965,1128.0h32M845,1132.0h16M965,1132.0h32M845,1136.0h16M965,1136.0h32M845,1140.0h16M965,1140.0h32M849,1144.0h12M965,1144.0h32M849,1148.0h12M965,1148.0h32M849,1152.0h12M965,1152.0h32M849,1156.0h12M969,1156.0h28M849,1160.0h16M969,1160.0h28M853,1164.0h12M969,1164.0h28M853,1168.0h12M969,1168.0h28M853,1172.0h12M969,1172.0h28M853,1176.0h12M973,1176.0h24M853,1180.0h12M973,1180.0h24M853,1184.0h12M977,1184.0h16M857,1188.0h8M857,1192.0h8M857,1196.0h8M857,1200.0h8M857,1204.0h8M857,1208.0h8M857,1212.0h8M857,1216.0h8M857,1220.0h8M861,1224.0h4M861,1228.0h4M861,1232.0h4M861,1236.0h4M861,1240.0h4M861,1244.0h4M861,1248.0h4M857,1252.0h8M857,1256.0h8M857,1260.0h8M857,1264.0h8M857,1268.0h8M857,1272.0h4M857,1276.0h4M857,1280.0h4M853,1284.0h8M853,1288.0h8M853,1292.0h4M853,1296.0h4M853,1300.0h4M849,1304.0h8M849,1308.0h4M849,1312.0h4M845,1316.0h8M845,1320.0h4M845,1324.0h4M841,1328.0h8M841,1332.0h4M837,1336.0h8M837,1340.0h8M833,1344.0h8M833,1348.0h8M829,1352.0h8M829,1356.0h8M825,1360.0h8M825,1364.0h8M821,1368.0h8M817,1372.0h8M817,1376.0h8M813,1380.0h8M809,1384.0h8M805,1388.0h12M801,1392.0h12M797,1396.0h12M793,1400.0h12M789,1404.0h12M785,1408.0h12M781,1412.0h12M777,1416.0h16M773,1420.0h16M769,1424.0h16M765,1428.0h16M761,1432.0h16M757,1436.0h16M749,1440.0h20M745,1444.0h20M737,1448.0h24M993,1448.0h4M729,1452.0h28M989,1452.0h8M717,1456.0h32M989,1456.0h8M713,1460.0h32M985,1460.0h12M713,1464.0h24M985,1464.0h12M713,1468.0h16M981,1468.0h16M713,1472.0h4M981,1472.0h16M977,1476.0h20M977,1480.0h20M977,1484.0h20M977,1488.0h20M977,1492.0h20M977,1496.0h20M977,1500.0h20M977,1504.0h20M977,1508.0h20M977,1512.0h20M981,1516.0h16M981,1520.0h16M981,1524.0h16" stroke="#f4eae7"/>
<path d="M853,936.0h20M929,936.0h16M849,940.0h20M933,940.0h12M849,944.0h20M933,944.0h12M845,948.0h20M933,948.0h12M845,952.0h20M937,952.0h12M841,956.0h20M937,956.0h12M841,960.0h20M937,960.0h12M841,964.0h20M937,964.0h12M837,968.0h20M941,968.0h8M837,972.0h20M941,972.0h8M837,976.0h20M941,976.0h12M837,980.0h16M941,980.0h12M833,984.0h20M941,984.0h12M833,988.0h20M945,988.0h8M833,992.0h20M945,992.0h8M833,996.0h20M945,996.0h8M833,1000.0h20M945,1000.0h8M833,1004.0h20M945,1004.0h8M833,1008.0h20M945,1008.0h12M833,1012.0h20M945,1012.0h12M833,1016.0h20M945,1016.0h12M833,1020.0h20M945,1020.0h12M837,1024.0h16M949,1024.0h8M837,1028.0h16M949,1028.0h8M837,1032.0h16M949,1032.0h8M837,1036.0h20M949,1036.0h8M841,1040.0h16M949,1040.0h8M841,1044.0h16M949,1044.0h8M841,1048.0h16M949,1048.0h8M845,1052.0h12M949,1052.0h8M845,1056.0h16M949,1056.0h8M845,1060.0h16M949,1060.0h8M849,1064.0h12M949,1064.0h8M849,1068.0h12M949,1068.0h8M849,1072.0h12M949,1072.0h12M849,1076.0h12M949,1076.0h12M853,1080.0h12M949,1080.0h12M853,1084.0h12M949,1084.0h12M853,1088.0h12M953,1088.0h8M853,1092.0h12M953,1092.0h8M857,1096.0h8M953,1096.0h8M857,1100.0h8M953,1100.0h8M857,1104.0h8M953,1104.0h8M857,1108.0h8M953,1108.0h8M857,1112.0h12M953,1112.0h8M857,1116.0h12M953,1116.0h8M861,1120.0h8M953,1120.0h8M861,1124.0h8M953,1124.0h12M861,1128.0h8M953,1128.0h12M861,1132.0h8M953,1132.0h12M861,1136.0h8M953,1136.0h12M861,1140.0h8M953,1140.0h12M861,1144.0h8M957,1144.0h8M861,1148.0h8M957,1148.0h8M861,1152.0h8M957,1152.0h8M861,1156.0h8M957,1156.0h12M865,1160.0h4M957,1160.0h12M865,1164.0h4M957,1164.0h12M865,1168.0h4M957,1168.0h12M865,1172.0h4M957,1172.0h12M865,1176.0h8M957,1176.0h16M865,1180.0h8M957,1180.0h16M865,1184.0h8M961,1184.0h16M993,1184.0h4M865,1188.0h8M961,1188.0h36M865,1192.0h8M961,1192.0h36M865,1196.0h8M961,1196.0h36M865,1200.0h8M961,1200.0h36M865,1204.0h8M965,1204.0h32M865,1208.0h8M965,1208.0h32M865,1212.0h8M969,1212.0h28M865,1216.0h8M969,1216.0h24M865,1220.0h8M865,1224.0h8M865,1228.0h8M865,1232.0h8M865,1236.0h8M865,1240.0h8M865,1244.0h8M865,1248.0h4M865,1252.0h4M865,1256.0h4M865,1260.0h4M865,1264.0h4M865,1268.0h4M861,1272.0h8M861,1276.0h4M861,1280.0h4M861,1284.0h4M861,1288.0h4M857,1292.0h8M857,1296.0h4M857,1300.0h4M857,1304.0h4M853,1308.0h8M853,1312.0h4M853,1316.0h4M849,1320.0h8M849,1324.0h4M849,1328.0h4M845,1332.0h8M845,1336.0h4M845,1340.0h4M841,1344.0h8M841,1348.0h4M837,1352.0h8M837,1356.0h4M833,1360.0h8M833,1364.0h4M829,1368.0h8M825,1372.0h8M825,1376.0h8M821,1380.0h8M817,1384.0h8M817,1388.0h8M813,1392.0h8M809,1396.0h8M805,1400.0h8M801,1404.0h12M797,1408.0h12M793,1412.0h12M793,1416.0h8M993,1416.0h4M789,1420.0h8M993,1420.0h4M785,1424.0h8M989,1424.0h8M781,1428.0h8M985,1428.0h12M777,1432.0h12M985,1432.0h12M773,1436.0h12M981,1436.0h16M769,1440.0h12M977,1440.0h20M765,1444.0h12M977,1444.0h20M761,1448.0h12M973,1448.0h20M757,1452.0h12M969,1452.0h20M749,1456.0h16M969,1456.0h20M745,1460.0h16M965,1460.0h20M737,1464.0h16M965,1464.0h20M729,1468.0h20M961,1468.0h20M717,1472.0h24M961,1472.0h20M713,1476.0h20M961,1476.0h16M713,1480.0h12M957,1480.0h20M713,1484.0h4M957,1484.0h20M957,1488.0h20M957,1492.0h20M957,1496.0h20M957,1500.0h20M957,1504.0h20M957,1508.0h20M957,1512.0h20M957,1516.0h24M957,1520.0h24M957,1524.0h24" stroke="#f2e6e2"/>
<path d="M873,936.0h16M917,936.0h12M869,940.0h16M921,940.0h12M869,944.0h16M921,944.0h12M865,948.0h16M925,948.0h8M865,952.0h12M925,952.0h12M861,956.0h16M929,956.0h8M861,960.0h12M929,960.0h8M861,964.0h12M929,964.0h8M857,968.0h16M933,968.0h8M857,972.0h12M933,972.0h8M857,976.0h12M933,976.0h8M853,980.0h16M933,980.0h8M853,984.0h12M937,984.0h4M853,988.0h12M937,988.0h8M853,992.0h12M937,992.0h8M853,996.0h12M937,996.0h8M853,1000.0h12M937,1000.0h8M853,1004.0h12M937,1004.0h8M853,1008.0h12M937,1008.0h8M853,1012.0h12M941,1012.0h4M853,1016.0h12M941,1016.0h4M853,1020.0h12M941,1020.0h4M853,1024.0h12M941,1024.0h8M853,1028.0h12M941,1028.0h8M853,1032.0h12M941,1032.0h8M857,1036.0h8M941,1036.0h8M857,1040.0h8M941,1040.0h8M857,1044.0h8M941,1044.0h8M857,1048.0h8M941,1048.0h8M857,1052.0h12M941,1052.0h8M861,1056.0h8M941,1056.0h8M861,1060.0h8M941,1060.0h8M861,1064.0h8M945,1064.0h4M861,1068.0h8M945,1068.0h4M861,1072.0h8M945,1072.0h4M861,1076.0h8M945,1076.0h4M865,1080.0h4M945,1080.0h4M865,1084.0h8M945,1084.0h4M865,1088.0h8M945,1088.0h8M865,1092.0h8M945,1092.0h8M865,1096.0h8M945,1096.0h8M865,1100.0h8M945,1100.0h8M865,1104.0h8M945,1104.0h8M865,1108.0h8M945,1108.0h8M869,1112.0h4M945,1112.0h8M869,1116.0h4M945,1116.0h8M869,1120.0h4M945,1120.0h8M869,1124.0h4M949,1124.0h4M869,1128.0h4M949,1128.0h4M869,1132.0h4M949,1132.0h4M869,1136.0h4M949,1136.0h4M869,1140.0h4M949,1140.0h4M869,1144.0h4M949,1144.0h8M869,1148.0h8M949,1148.0h8M869,1152.0h8M949,1152.0h8M869,1156.0h8M949,1156.0h8M869,1160.0h8M949,1160.0h8M869,1164.0h8M949,1164.0h8M869,1168.0h8M949,1168.0h8M869,1172.0h8M949,1172.0h8M873,1176.0h4M949,1176.0h8M873,1180.0h4M953,1180.0h4M873,1184.0h4M953,1184.0h8M873,1188.0h4M953,1188.0h8M873,1192.0h4M953,1192.0h8M873,1196.0h4M953,1196.0h8M873,1200.0h4M953,1200.0h8M873,1204.0h4M953,1204.0h12M873,1208.0h4M953,1208.0h12M873,1212.0h4M953,1212.0h16M873,1216.0h4M957,1216.0h12M993,1216.0h4M873,1220.0h4M957,1220.0h40M873,1224.0h4M957,1224.0h40M873,1228.0h4M957,1228.0h40M873,1232.0h4M961,1232.0h36M873,1236.0h4M961,1236.0h36M873,1240.0h4M965,1240.0h32M873,1244.0h4M969,1244.0h16M869,1248.0h8M869,1252.0h4M869,1256.0h4M869,1260.0h4M869,1264.0h4M869,1268.0h4M869,1272.0h4M865,1276.0h8M865,1280.0h4M865,1284.0h4M865,1288.0h4M865,1292.0h4M861,1296.0h8M861,1300.0h4M861,1304.0h4M861,1308.0h4M857,1312.0h4M857,1316.0h4M857,1320.0h4M853,1324.0h8M853,1328.0h4M853,1332.0h4M849,1336.0h4M849,1340.0h4M849,1344.0h4M845,1348.0h4M845,1352.0h4M841,1356.0h4M841,1360.0h4M837,1364.0h8M837,1368.0h4M833,1372.0h8M833,1376.0h4M829,1380.0h8M825,1384.0h8M825,1388.0h4M821,1392.0h8M993,1392.0h4M817,1396.0h8M989,1396.0h8M813,1400.0h8M989,1400.0h8M813,1404.0h4M985,1404.0h12M809,1408.0h8M985,1408.0h12M805,1412.0h8M981,1412.0h16M801,1416.0h8M981,1416.0h12M797,1420.0h8M977,1420.0h16M793,1424.0h8M973,1424.0h16M789,1428.0h8M973,1428.0h12M789,1432.0h8M969,1432.0h16M785,1436.0h8M965,1436.0h16M781,1440.0h8M965,1440.0h12M777,1444.0h8M961,1444.0h16M773,1448.0h8M961,1448.0h12M769,1452.0h12M957,1452.0h12M765,1456.0h12M953,1456.0h16M761,1460.0h12M953,1460.0h12M753,1464.0h12M949,1464.0h16M749,1468.0h12M949,1468.0h12M741,1472.0h16M945,1472.0h16M733,1476.0h16M945,1476.0h16M725,1480.0h16M945,1480.0h12M717,1484.0h16M945,1484.0h12M713,1488.0h12M941,1488.0h16M713,1492.0h4M941,1492.0h16M941,1496.0h16M941,1500.0h16M941,1504.0h16M941,1508.0h16M941,1512.0h16M941,1516.0h16M941,1520.0h16M941,1524.0h16" stroke="#f0e1dc"/>
<path d="M889,936.0h28M885,940.0h36M885,944.0h36M881,948.0h16M909,948.0h16M877,952.0h16M913,952.0h12M877,956.0h12M917,956.0h12M873,960.0h16M921,960.0h8M873,964.0h12M921,964.0h8M873,968.0h8M925,968.0h8M869,972.0h12M925,972.0h8M869,976.0h12M925,976.0h8M869,980.0h8M929,980.0h4M865,984.0h12M929,984.0h8M865,988.0h12M929,988.0h8M865,992.0h12M929,992.0h8M865,996.0h8M929,996.0h8M865,1000.0h8M933,1000.0h4M865,1004.0h8M933,1004.0h4M865,1008.0h8M933,1008.0h4M865,1012.0h8M933,1012.0h8M865,1016.0h8M933,1016.0h8M865,1020.0h8M933,1020.0h8M865,1024.0h8M933,1024.0h8M865,1028.0h8M933,1028.0h8M865,1032.0h8M937,1032.0h4M865,1036.0h8M937,1036.0h4M865,1040.0h8M937,1040.0h4M865,1044.0h8M937,1044.0h4M865,1048.0h8M937,1048.0h4M869,1052.0h4M937,1052.0h4M869,1056.0h4M937,1056.0h4M869,1060.0h4M937,1060.0h4M869,1064.0h8M937,1064.0h8M869,1068.0h8M937,1068.0h8M869,1072.0h8M937,1072.0h8M869,1076.0h8M937,1076.0h8M869,1080.0h8M937,1080.0h8M873,1084.0h4M941,1084.0h4M873,1088.0h4M941,1088.0h4M873,1092.0h4M941,1092.0h4M873,1096.0h4M941,1096.0h4M873,1100.0h4M941,1100.0h4M873,1104.0h4M941,1104.0h4M873,1108.0h4M941,1108.0h4M873,1112.0h4M941,1112.0h4M873,1116.0h4M941,1116.0h4M873,1120.0h4M941,1120.0h4M873,1124.0h4M941,1124.0h8M873,1128.0h4M941,1128.0h8M873,1132.0h8M941,1132.0h8M873,1136.0h8M941,1136.0h8M873,1140.0h8M945,1140.0h4M873,1144.0h8M945,1144.0h4M877,1148.0h4M945,1148.0h4M877,1152.0h4M945,1152.0h4M877,1156.0h4M945,1156.0h4M877,1160.0h4M945,1160.0h4M877,1164.0h4M945,1164.0h4M877,1168.0h4M945,1168.0h4M877,1172.0h4M945,1172.0h4M877,1176.0h4M945,1176.0h4M877,1180.0h4M945,1180.0h8M877,1184.0h4M945,1184.0h8M877,1188.0h4M945,1188.0h8M877,1192.0h4M945,1192.0h8M877,1196.0h4M945,1196.0h8M877,1200.0h4M945,1200.0h8M877,1204.0h4M949,1204.0h4M877,1208.0h4M949,1208.0h4M877,1212.0h4M949,1212.0h4M877,1216.0h4M949,1216.0h8M877,1220.0h4M949,1220.0h8M877,1224.0h4M949,1224.0h8M877,1228.0h4M949,1228.0h8M877,1232.0h4M949,1232.0h12M877,1236.0h4M953,1236.0h8M877,1240.0h4M953,1240.0h12M877,1244.0h4M953,1244.0h16M985,1244.0h12M877,1248.0h4M953,1248.0h44M873,1252.0h4M957,1252.0h40M873,1256.0h4M957,1256.0h40M873,1260.0h4M961,1260.0h36M873,1264.0h4M965,1264.0h32M873,1268.0h4M973,1268.0h8M873,1272.0h4M873,1276.0h4M869,1280.0h4M869,1284.0h4M869,1288.0h4M869,1292.0h4M869,1296.0h4M865,1300.0h4M865,1304.0h4M865,1308.0h4M861,1312.0h4M861,1316.0h4M861,1320.0h4M861,1324.0h4M857,1328.0h4M857,1332.0h4M853,1336.0h8M853,1340.0h4M853,1344.0h4M849,1348.0h4M849,1352.0h4M845,1356.0h8M845,1360.0h4M845,1364.0h4M993,1364.0h4M841,1368.0h4M993,1368.0h4M841,1372.0h4M989,1372.0h8M837,1376.0h4M989,1376.0h8M837,1380.0h4M985,1380.0h12M833,1384.0h4M985,1384.0h12M829,1388.0h8M981,1388.0h16M829,1392.0h4M981,1392.0h12M825,1396.0h4M977,1396.0h12M821,1400.0h8M977,1400.0h12M817,1404.0h8M973,1404.0h12M817,1408.0h4M973,1408.0h12M813,1412.0h4M969,1412.0h12M809,1416.0h8M965,1416.0h16M805,1420.0h8M965,1420.0h12M801,1424.0h8M961,1424.0h12M797,1428.0h8M961,1428.0h12M797,1432.0h4M957,1432.0h12M793,1436.0h8M953,1436.0h12M789,1440.0h8M953,1440.0h12M785,1444.0h8M949,1444.0h12M781,1448.0h8M949,1448.0h12M781,1452.0h8M945,1452.0h12M777,1456.0h8M945,1456.0h8M773,1460.0h8M941,1460.0h12M765,1464.0h12M941,1464.0h8M761,1468.0h12M937,1468.0h12M757,1472.0h8M937,1472.0h8M749,1476.0h12M933,1476.0h12M741,1480.0h12M933,1480.0h12M733,1484.0h12M933,1484.0h12M725,1488.0h12M933,1488.0h8M717,1492.0h12M933,1492.0h8M713,1496.0h8M933,1496.0h8M713,1500.0h4M933,1500.0h8M933,1504.0h8M933,1508.0h8M933,1512.0h8M933,1516.0h8M929,1520.0h12M929,1524.0h12" stroke="#efddd6"/>
<path d="M897,948.0h12M893,952.0h20M889,956.0h28M889,960.0h32M885,964.0h36M881,968.0h16M913,968.0h12M881,972.0h12M913,972.0h12M881,976.0h8M917,976.0h8M877,980.0h12M917,980.0h12M877,984.0h8M921,984.0h8M877,988.0h8M921,988.0h8M877,992.0h8M925,992.0h4M873,996.0h8M925,996.0h4M873,1000.0h8M925,1000.0h8M873,1004.0h8M925,1004.0h8M873,1008.0h8M925,1008.0h8M873,1012.0h8M929,1012.0h4M873,1016.0h8M929,1016.0h4M873,1020.0h8M929,1020.0h4M873,1024.0h8M929,1024.0h4M873,1028.0h8M929,1028.0h4M873,1032.0h8M929,1032.0h8M873,1036.0h8M929,1036.0h8M873,1040.0h8M929,1040.0h8M873,1044.0h8M933,1044.0h4M873,1048.0h8M933,1048.0h4M873,1052.0h8M933,1052.0h4M873,1056.0h8M933,1056.0h4M873,1060.0h8M933,1060.0h4M877,1064.0h4M933,1064.0h4M877,1068.0h4M933,1068.0h4M877,1072.0h4M933,1072.0h4M877,1076.0h4M933,1076.0h4M877,1080.0h4M933,1080.0h4M877,1084.0h4M933,1084.0h8M877,1088.0h4M933,1088.0h8M877,1092.0h4M937,1092.0h4M877,1096.0h4M937,1096.0h4M877,1100.0h4M937,1100.0h4M877,1104.0h4M937,1104.0h4M877,1108.0h4M937,1108.0h4M877,1112.0h4M937,1112.0h4M877,1116.0h4M937,1116.0h4M877,1120.0h4M937,1120.0h4M877,1124.0h4M937,1124.0h4M877,1128.0h4M937,1128.0h4M881,1132.0h4M937,1132.0h4M881,1136.0h4M937,1136.0h4M881,1140.0h4M941,1140.0h4M881,1144.0h4M941,1144.0h4M881,1148.0h4M941,1148.0h4M881,1152.0h4M941,1152.0h4M881,1156.0h4M941,1156.0h4M881,1160.0h4M941,1160.0h4M881,1164.0h4M941,1164.0h4M881,1168.0h4M941,1168.0h4M881,1172.0h4M941,1172.0h4M881,1176.0h4M941,1176.0h4M881,1180.0h4M941,1180.0h4M881,1184.0h4M941,1184.0h4M881,1188.0h4M941,1188.0h4M881,1192.0h4M941,1192.0h4M881,1196.0h4M941,1196.0h4M881,1200.0h4M941,1200.0h4M881,1204.0h4M941,1204.0h8M881,1208.0h4M941,1208.0h8M881,1212.0h4M941,1212.0h8M881,1216.0h4M941,1216.0h8M881,1220.0h4M941,1220.0h8M881,1224.0h4M945,1224.0h4M881,1228.0h4M945,1228.0h4M881,1232.0h4M945,1232.0h4M881,1236.0h4M945,1236.0h8M881,1240.0h4M945,1240.0h8M881,1244.0h4M945,1244.0h8M881,1248.0h4M945,1248.0h8M877,1252.0h4M945,1252.0h12M877,1256.0h4M949,1256.0h8M877,1260.0h4M949,1260.0h12M877,1264.0h4M949,1264.0h16M877,1268.0h4M949,1268.0h24M981,1268.0h16M877,1272.0h4M953,1272.0h44M877,1276.0h4M953,1276.0h44M873,1280.0h4M957,1280.0h40M873,1284.0h4M961,1284.0h36M873,1288.0h4M965,1288.0h32M873,1292.0h4M973,1292.0h24M981,1296.0h16M869,1300.0h4M985,1300.0h12M869,1304.0h4M989,1304.0h8M869,1308.0h4M993,1308.0h4M865,1312.0h4M993,1312.0h4M865,1316.0h4M993,1316.0h4M865,1320.0h4M993,1320.0h4M865,1324.0h4M993,1324.0h4M861,1328.0h4M993,1328.0h4M861,1332.0h4M989,1332.0h8M861,1336.0h4M989,1336.0h8M857,1340.0h4M989,1340.0h8M857,1344.0h4M989,1344.0h8M853,1348.0h4M985,1348.0h12M853,1352.0h4M985,1352.0h12M853,1356.0h4M985,1356.0h12M849,1360.0h4M981,1360.0h16M849,1364.0h4M981,1364.0h12M845,1368.0h4M981,1368.0h12M845,1372.0h4M977,1372.0h12M841,1376.0h8M977,1376.0h12M841,1380.0h4M973,1380.0h12M837,1384.0h8M973,1384.0h12M837,1388.0h4M969,1388.0h12M833,1392.0h4M969,1392.0h12M829,1396.0h8M965,1396.0h12M829,1400.0h4M965,1400.0h12M825,1404.0h4M961,1404.0h12M821,1408.0h8M961,1408.0h12M817,1412.0h8M957,1412.0h12M817,1416.0h4M957,1416.0h8M813,1420.0h4M953,1420.0h12M809,1424.0h4M949,1424.0h12M805,1428.0h8M949,1428.0h12M801,1432.0h8M945,1432.0h12M801,1436.0h4M945,1436.0h8M797,1440.0h4M941,1440.0h12M793,1444.0h8M941,1444.0h8M789,1448.0h8M937,1448.0h12M789,1452.0h4M937,1452.0h8M785,1456.0h4M933,1456.0h12M781,1460.0h8M933,1460.0h8M777,1464.0h8M929,1464.0h12M773,1468.0h8M929,1468.0h8M765,1472.0h12M925,1472.0h12M761,1476.0h8M925,1476.0h8M753,1480.0h12M925,1480.0h8M745,1484.0h12M925,1484.0h8M737,1488.0h12M921,1488.0h12M729,1492.0h12M921,1492.0h12M721,1496.0h16M921,1496.0h12M717,1500.0h12M921,1500.0h12M713,1504.0h8M921,1504.0h12M921,1508.0h12M921,1512.0h12M921,1516.0h12M921,1520.0h8M921,1524.0h8" stroke="#eed9d1"/>
<path d="M897,968.0h16M893,972.0h20M889,976.0h28M889,980.0h28M885,984.0h16M909,984.0h12M885,988.0h12M913,988.0h8M885,992.0h8M913,992.0h12M881,996.0h12M917,996.0h8M881,1000.0h8M917,1000.0h8M881,1004.0h8M917,1004.0h8M881,1008.0h8M921,1008.0h4M881,1012.0h8M921,1012.0h8M881,1016.0h8M921,1016.0h8M881,1020.0h4M921,1020.0h8M881,1024.0h4M925,1024.0h4M881,1028.0h4M925,1028.0h4M881,1032.0h4M925,1032.0h4M881,1036.0h4M925,1036.0h4M881,1040.0h4M925,1040.0h4M881,1044.0h4M925,1044.0h8M881,1048.0h4M925,1048.0h8M881,1052.0h4M925,1052.0h8M881,1056.0h4M929,1056.0h4M881,1060.0h4M929,1060.0h4M881,1064.0h4M929,1064.0h4M881,1068.0h4M929,1068.0h4M881,1072.0h4M929,1072.0h4M881,1076.0h4M929,1076.0h4M881,1080.0h4M929,1080.0h4M881,1084.0h4M929,1084.0h4M881,1088.0h4M929,1088.0h4M881,1092.0h4M933,1092.0h4M881,1096.0h4M933,1096.0h4M881,1100.0h4M933,1100.0h4M881,1104.0h4M933,1104.0h4M881,1108.0h4M933,1108.0h4M881,1112.0h4M933,1112.0h4M881,1116.0h4M933,1116.0h4M881,1120.0h4M933,1120.0h4M881,1124.0h4M933,1124.0h4M881,1128.0h4M933,1128.0h4M937,1140.0h4M937,1144.0h4M937,1148.0h4M937,1152.0h4M937,1156.0h4M937,1160.0h4M937,1164.0h4M885,1168.0h4M937,1168.0h4M885,1172.0h4M937,1172.0h4M885,1176.0h4M937,1176.0h4M885,1180.0h4M937,1180.0h4M885,1184.0h4M937,1184.0h4M885,1188.0h4M937,1188.0h4M885,1192.0h4M937,1192.0h4M885,1196.0h4M937,1196.0h4M885,1200.0h4M937,1200.0h4M885,1204.0h4M937,1204.0h4M885,1208.0h4M937,1208.0h4M885,1212.0h4M937,1212.0h4M885,1216.0h4M937,1216.0h4M885,1220.0h4M937,1220.0h4M885,1224.0h4M937,1224.0h8M885,1228.0h4M937,1228.0h8M885,1232.0h4M937,1232.0h8M885,1236.0h4M937,1236.0h8M885,1240.0h4M941,1240.0h4M885,1244.0h4M941,1244.0h4M941,1248.0h4M881,1252.0h4M941,1252.0h4M881,1256.0h4M941,1256.0h8M881,1260.0h4M941,1260.0h8M881,1264.0h4M941,1264.0h8M881,1268.0h4M941,1268.0h8M881,1272.0h4M945,1272.0h8M945,1276.0h8M877,1280.0h4M945,1280.0h12M877,1284.0h4M945,1284.0h16M877,1288.0h4M949,1288.0h16M877,1292.0h4M949,1292.0h24M873,1296.0h4M949,1296.0h32M873,1300.0h4M953,1300.0h32M873,1304.0h4M953,1304.0h36M873,1308.0h4M957,1308.0h36M869,1312.0h4M961,1312.0h32M869,1316.0h4M965,1316.0h28M869,1320.0h4M965,1320.0h28M869,1324.0h4M969,1324.0h24M865,1328.0h4M969,1328.0h24M865,1332.0h4M969,1332.0h20M865,1336.0h4M969,1336.0h20M861,1340.0h4M969,1340.0h20M861,1344.0h4M969,1344.0h20M857,1348.0h4M969,1348.0h16M857,1352.0h4M969,1352.0h16M857,1356.0h4M969,1356.0h16M853,1360.0h4M969,1360.0h12M853,1364.0h4M965,1364.0h16M849,1368.0h8M965,1368.0h16M849,1372.0h4M965,1372.0h12M849,1376.0h4M961,1376.0h16M845,1380.0h4M961,1380.0h12M845,1384.0h4M961,1384.0h12M841,1388.0h4M957,1388.0h12M837,1392.0h8M957,1392.0h12M837,1396.0h4M953,1396.0h12M833,1400.0h4M953,1400.0h12M829,1404.0h8M953,1404.0h8M829,1408.0h4M949,1408.0h12M825,1412.0h4M949,1412.0h8M821,1416.0h4M945,1416.0h12M817,1420.0h8M945,1420.0h8M813,1424.0h8M941,1424.0h8M813,1428.0h4M941,1428.0h8M809,1432.0h4M937,1432.0h8M805,1436.0h4M937,1436.0h8M801,1440.0h8M933,1440.0h8M801,1444.0h4M929,1444.0h12M797,1448.0h4M929,1448.0h8M793,1452.0h8M925,1452.0h12M789,1456.0h8M925,1456.0h8M789,1460.0h4M921,1460.0h12M785,1464.0h4M921,1464.0h8M781,1468.0h8M921,1468.0h8M777,1472.0h8M917,1472.0h8M769,1476.0h8M917,1476.0h8M765,1480.0h8M917,1480.0h8M757,1484.0h12M917,1484.0h8M749,1488.0h12M917,1488.0h4M741,1492.0h12M913,1492.0h8M737,1496.0h8M913,1496.0h8M729,1500.0h8M913,1500.0h8M721,1504.0h12M913,1504.0h8M713,1508.0h12M913,1508.0h8M713,1512.0h8M913,1512.0h8M913,1516.0h8M913,1520.0h8M913,1524.0h8" stroke="#ecd5cc"/>
<path d="M901,984.0h8M897,988.0h16M893,992.0h20M893,996.0h24M889,1000.0h28M889,1004.0h28M889,1008.0h12M909,1008.0h12M889,1012.0h8M913,1012.0h8M889,1016.0h8M913,1016.0h8M885,1020.0h12M913,1020.0h8M885,1024.0h8M917,1024.0h8M885,1028.0h8M917,1028.0h8M885,1032.0h8M917,1032.0h8M885,1036.0h8M917,1036.0h8M885,1040.0h8M921,1040.0h4M885,1044.0h8M921,1044.0h4M885,1048.0h8M921,1048.0h4M885,1052.0h8M921,1052.0h4M885,1056.0h8M921,1056.0h8M885,1060.0h8M921,1060.0h8M885,1064.0h8M925,1064.0h4M885,1068.0h8M925,1068.0h4M885,1072.0h8M925,1072.0h4M885,1076.0h8M925,1076.0h4M885,1080.0h8M925,1080.0h4M885,1084.0h8M925,1084.0h4M885,1088.0h8M925,1088.0h4M885,1092.0h8M929,1092.0h4M885,1096.0h4M929,1096.0h4M885,1100.0h4M929,1100.0h4M885,1104.0h4M929,1104.0h4M885,1108.0h4M929,1108.0h4M885,1112.0h4M929,1112.0h4M885,1116.0h4M929,1116.0h4M885,1120.0h4M929,1120.0h4M885,1124.0h4M885,1128.0h4M885,1132.0h4M933,1132.0h4M885,1136.0h4M933,1136.0h4M885,1140.0h4M933,1140.0h4M885,1144.0h4M933,1144.0h4M885,1148.0h4M933,1148.0h4M885,1152.0h4M933,1152.0h4M885,1156.0h4M933,1156.0h4M885,1160.0h4M933,1160.0h4M885,1164.0h4M933,1164.0h4M933,1168.0h4M933,1172.0h4M933,1176.0h4M933,1180.0h4M933,1184.0h4M933,1188.0h4M933,1192.0h4M933,1196.0h4M889,1200.0h4M933,1200.0h4M889,1204.0h4M933,1204.0h4M889,1208.0h4M933,1208.0h4M889,1212.0h4M933,1212.0h4M889,1216.0h4M933,1216.0h4M889,1220.0h4M933,1220.0h4M889,1224.0h4M933,1224.0h4M889,1228.0h4M933,1228.0h4M889,1232.0h4M933,1232.0h4M889,1236.0h4M933,1236.0h4M889,1240.0h4M933,1240.0h8M933,1244.0h8M885,1248.0h4M933,1248.0h8M885,1252.0h4M933,1252.0h8M885,1256.0h4M937,1256.0h4M885,1260.0h4M937,1260.0h4M885,1264.0h4M937,1264.0h4M885,1268.0h4M937,1268.0h4M885,1272.0h4M937,1272.0h8M881,1276.0h4M937,1276.0h8M881,1280.0h4M937,1280.0h8M881,1284.0h4M937,1284.0h8M881,1288.0h4M941,1288.0h8M881,1292.0h4M941,1292.0h8M877,1296.0h4M941,1296.0h8M877,1300.0h4M941,1300.0h12M877,1304.0h4M941,1304.0h12M877,1308.0h4M945,1308.0h12M873,1312.0h4M945,1312.0h16M873,1316.0h4M945,1316.0h20M873,1320.0h4M949,1320.0h16M949,1324.0h20M869,1328.0h4M949,1328.0h20M869,1332.0h4M953,1332.0h16M869,1336.0h4M953,1336.0h16M865,1340.0h4M953,1340.0h16M865,1344.0h4M953,1344.0h16M861,1348.0h4M953,1348.0h16M861,1352.0h4M953,1352.0h16M861,1356.0h4M953,1356.0h16M857,1360.0h4M953,1360.0h16M857,1364.0h4M953,1364.0h12M857,1368.0h4M953,1368.0h12M853,1372.0h4M953,1372.0h12M853,1376.0h4M949,1376.0h12M849,1380.0h4M949,1380.0h12M849,1384.0h4M949,1384.0h12M845,1388.0h4M949,1388.0h8M845,1392.0h4M945,1392.0h12M841,1396.0h4M945,1396.0h8M837,1400.0h8M945,1400.0h8M837,1404.0h4M941,1404.0h12M833,1408.0h4M941,1408.0h8M829,1412.0h8M937,1412.0h12M825,1416.0h8M937,1416.0h8M825,1420.0h4M933,1420.0h12M821,1424.0h4M933,1424.0h8M817,1428.0h4M929,1428.0h12M813,1432.0h4M929,1432.0h8M809,1436.0h8M925,1436.0h12M809,1440.0h4M925,1440.0h8M805,1444.0h4M921,1444.0h8M801,1448.0h4M921,1448.0h8M801,1452.0h4M921,1452.0h4M797,1456.0h4M917,1456.0h8M793,1460.0h4M917,1460.0h4M789,1464.0h8M913,1464.0h8M789,1468.0h4M913,1468.0h8M785,1472.0h4M913,1472.0h4M777,1476.0h8M909,1476.0h8M773,1480.0h8M909,1480.0h8M769,1484.0h8M909,1484.0h8M761,1488.0h8M909,1488.0h8M753,1492.0h8M909,1492.0h4M745,1496.0h12M909,1496.0h4M737,1500.0h12M909,1500.0h4M733,1504.0h8M909,1504.0h4M725,1508.0h12M909,1508.0h4M721,1512.0h8M909,1512.0h4M713,1516.0h12M905,1516.0h8M713,1520.0h8M905,1520.0h8M713,1524.0h4M905,1524.0h8" stroke="#ebd1c7"/>
<path d="M901,1008.0h8M897,1012.0h16M897,1016.0h16M897,1020.0h16M893,1024.0h24M893,1028.0h24M893,1032.0h24M893,1036.0h24M893,1040.0h12M909,1040.0h12M893,1044.0h8M909,1044.0h12M893,1048.0h8M913,1048.0h8M893,1052.0h8M913,1052.0h8M893,1056.0h8M913,1056.0h8M893,1060.0h4M917,1060.0h4M893,1064.0h4M917,1064.0h8M893,1068.0h4M917,1068.0h8M893,1072.0h4M917,1072.0h8M893,1076.0h4M921,1076.0h4M893,1080.0h4M921,1080.0h4M893,1084.0h4M921,1084.0h4M893,1088.0h4M921,1088.0h4M893,1092.0h4M925,1092.0h4M889,1096.0h8M925,1096.0h4M889,1100.0h4M925,1100.0h4M889,1104.0h4M925,1104.0h4M889,1108.0h4M925,1108.0h4M889,1112.0h4M925,1112.0h4M889,1116.0h4M889,1120.0h4M889,1124.0h4M929,1124.0h4M889,1128.0h4M929,1128.0h4M889,1132.0h4M929,1132.0h4M889,1136.0h4M929,1136.0h4M889,1140.0h4M929,1140.0h4M889,1144.0h4M929,1144.0h4M889,1148.0h4M929,1148.0h4M889,1152.0h4M929,1152.0h4M889,1156.0h4M889,1160.0h4M889,1164.0h4M889,1168.0h4M889,1172.0h4M889,1176.0h4M889,1180.0h4M889,1184.0h4M889,1188.0h4M889,1192.0h4M889,1196.0h4M929,1200.0h4M929,1204.0h4M929,1208.0h4M929,1212.0h4M929,1216.0h4M893,1220.0h4M929,1220.0h4M893,1224.0h4M929,1224.0h4M893,1228.0h4M929,1228.0h4M893,1232.0h4M929,1232.0h4M893,1236.0h4M929,1236.0h4M893,1240.0h4M929,1240.0h4M889,1244.0h4M929,1244.0h4M889,1248.0h4M929,1248.0h4M889,1252.0h4M929,1252.0h4M889,1256.0h4M929,1256.0h8M889,1260.0h4M929,1260.0h8M889,1264.0h4M929,1264.0h8M889,1268.0h4M929,1268.0h8M889,1272.0h4M929,1272.0h8M885,1276.0h4M933,1276.0h4M885,1280.0h4M933,1280.0h4M885,1284.0h4M933,1284.0h4M885,1288.0h4M933,1288.0h8M885,1292.0h4M933,1292.0h8M881,1296.0h4M933,1296.0h8M881,1300.0h4M933,1300.0h8M881,1304.0h4M933,1304.0h8M881,1308.0h4M937,1308.0h8M877,1312.0h4M937,1312.0h8M877,1316.0h4M937,1316.0h8M877,1320.0h4M937,1320.0h12M873,1324.0h4M937,1324.0h12M873,1328.0h4M941,1328.0h8M873,1332.0h4M941,1332.0h12M873,1336.0h4M941,1336.0h12M869,1340.0h4M941,1340.0h12M869,1344.0h4M941,1344.0h12M865,1348.0h4M941,1348.0h12M865,1352.0h4M941,1352.0h12M865,1356.0h4M941,1356.0h12M861,1360.0h4M941,1360.0h12M861,1364.0h4M941,1364.0h12M861,1368.0h4M941,1368.0h12M857,1372.0h4M941,1372.0h12M857,1376.0h4M941,1376.0h8M853,1380.0h4M941,1380.0h8M853,1384.0h4M937,1384.0h12M849,1388.0h8M937,1388.0h12M849,1392.0h4M937,1392.0h8M845,1396.0h4M937,1396.0h8M845,1400.0h4M933,1400.0h12M841,1404.0h4M933,1404.0h8M837,1408.0h8M933,1408.0h8M837,1412.0h4M929,1412.0h8M833,1416.0h4M929,1416.0h8M829,1420.0h4M925,1420.0h8M825,1424.0h4M925,1424.0h8M821,1428.0h4M921,1428.0h8M817,1432.0h8M921,1432.0h8M817,1436.0h4M921,1436.0h4M813,1440.0h4M917,1440.0h8M809,1444.0h4M917,1444.0h4M805,1448.0h8M913,1448.0h8M805,1452.0h4M913,1452.0h8M801,1456.0h4M909,1456.0h8M797,1460.0h8M909,1460.0h8M797,1464.0h4M909,1464.0h4M793,1468.0h4M905,1468.0h8M789,1472.0h8M905,1472.0h8M785,1476.0h8M905,1476.0h4M781,1480.0h8M905,1480.0h4M777,1484.0h8M905,1484.0h4M769,1488.0h8M901,1488.0h8M761,1492.0h12M901,1492.0h8M757,1496.0h8M901,1496.0h8M749,1500.0h8M901,1500.0h8M741,1504.0h8M901,1504.0h8M737,1508.0h8M901,1508.0h8M729,1512.0h8M901,1512.0h8M725,1516.0h8M901,1516.0h4M721,1520.0h8M901,1520.0h4M717,1524.0h8M897,1524.0h8" stroke="#e9cbc0"/>
<path d="M905,1040.0h4M901,1044.0h8M901,1048.0h12M901,1052.0h12M901,1056.0h12M897,1060.0h20M897,1064.0h20M897,1068.0h20M897,1072.0h20M897,1076.0h24M897,1080.0h8M913,1080.0h8M897,1084.0h8M917,1084.0h4M897,1088.0h4M917,1088.0h4M897,1092.0h4M917,1092.0h8M897,1096.0h4M921,1096.0h4M893,1100.0h8M921,1100.0h4M893,1104.0h4M921,1104.0h4M893,1108.0h4M921,1108.0h4M893,1112.0h4M893,1116.0h4M925,1116.0h4M893,1120.0h4M925,1120.0h4M893,1124.0h4M925,1124.0h4M893,1128.0h4M925,1128.0h4M893,1132.0h4M925,1132.0h4M893,1136.0h4M893,1140.0h4M893,1144.0h4M929,1156.0h4M929,1160.0h4M929,1164.0h4M893,1168.0h4M929,1168.0h4M893,1172.0h4M929,1172.0h4M893,1176.0h4M929,1176.0h4M893,1180.0h4M929,1180.0h4M893,1184.0h4M929,1184.0h4M893,1188.0h4M929,1188.0h4M893,1192.0h4M929,1192.0h4M893,1196.0h4M929,1196.0h4M893,1200.0h4M893,1204.0h4M893,1208.0h4M893,1212.0h4M925,1212.0h4M893,1216.0h4M925,1216.0h4M925,1220.0h4M925,1224.0h4M897,1228.0h4M925,1228.0h4M897,1232.0h4M925,1232.0h4M897,1236.0h4M925,1236.0h4M897,1240.0h4M925,1240.0h4M893,1244.0h8M925,1244.0h4M893,1248.0h8M925,1248.0h4M893,1252.0h4M925,1252.0h4M893,1256.0h4M925,1256.0h4M893,1260.0h4M925,1260.0h4M893,1264.0h4M925,1264.0h4M893,1268.0h4M925,1268.0h4M893,1272.0h4M925,1272.0h4M889,1276.0h8M925,1276.0h8M889,1280.0h4M925,1280.0h8M889,1284.0h4M925,1284.0h8M889,1288.0h4M925,1288.0h8M889,1292.0h4M925,1292.0h8M885,1296.0h8M929,1296.0h4M885,1300.0h4M929,1300.0h4M885,1304.0h4M929,1304.0h4M885,1308.0h4M929,1308.0h8M881,1312.0h4M929,1312.0h8M881,1316.0h4M929,1316.0h8M881,1320.0h4M929,1320.0h8M877,1324.0h8M929,1324.0h8M877,1328.0h4M933,1328.0h8M877,1332.0h4M933,1332.0h8M877,1336.0h4M933,1336.0h8M873,1340.0h4M933,1340.0h8M873,1344.0h4M933,1344.0h8M869,1348.0h8M933,1348.0h8M869,1352.0h4M933,1352.0h8M869,1356.0h4M933,1356.0h8M865,1360.0h4M933,1360.0h8M865,1364.0h4M933,1364.0h8M865,1368.0h4M933,1368.0h8M861,1372.0h4M933,1372.0h8M861,1376.0h4M933,1376.0h8M857,1380.0h8M929,1380.0h12M857,1384.0h4M929,1384.0h8M857,1388.0h4M929,1388.0h8M853,1392.0h4M929,1392.0h8M849,1396.0h8M929,1396.0h8M849,1400.0h4M925,1400.0h8M845,1404.0h8M925,1404.0h8M845,1408.0h4M925,1408.0h8M841,1412.0h4M921,1412.0h8M837,1416.0h4M921,1416.0h8M833,1420.0h8M917,1420.0h8M829,1424.0h8M917,1424.0h8M825,1428.0h8M917,1428.0h4M825,1432.0h4M913,1432.0h8M821,1436.0h4M913,1436.0h8M817,1440.0h4M909,1440.0h8M813,1444.0h4M909,1444.0h8M813,1448.0h4M909,1448.0h4M809,1452.0h4M905,1452.0h8M805,1456.0h4M905,1456.0h4M805,1460.0h4M905,1460.0h4M801,1464.0h4M901,1464.0h8M797,1468.0h4M901,1468.0h4M797,1472.0h4M901,1472.0h4M793,1476.0h4M901,1476.0h4M789,1480.0h4M897,1480.0h8M785,1484.0h4M897,1484.0h8M777,1488.0h8M897,1488.0h4M773,1492.0h8M897,1492.0h4M765,1496.0h8M897,1496.0h4M757,1500.0h8M897,1500.0h4M749,1504.0h12M897,1504.0h4M745,1508.0h8M897,1508.0h4M737,1512.0h8M897,1512.0h4M733,1516.0h8M897,1516.0h4M729,1520.0h8M893,1520.0h8M725,1524.0h8M893,1524.0h4" stroke="#e7c6b9"/>
<path d="M905,1080.0h8M905,1084.0h12M901,1088.0h16M901,1092.0h16M901,1096.0h20M901,1100.0h4M913,1100.0h8M897,1104.0h8M917,1104.0h4M897,1108.0h4M917,1108.0h4M897,1112.0h4M921,1112.0h4M897,1116.0h4M921,1116.0h4M897,1120.0h4M921,1120.0h4M897,1124.0h4M921,1124.0h4M925,1136.0h4M925,1140.0h4M925,1144.0h4M893,1148.0h4M925,1148.0h4M893,1152.0h4M925,1152.0h4M893,1156.0h4M925,1156.0h4M893,1160.0h4M925,1160.0h4M893,1164.0h4M925,1164.0h4M925,1168.0h4M925,1172.0h4M925,1176.0h4M925,1180.0h4M925,1184.0h4M925,1188.0h4M897,1192.0h4M925,1192.0h4M897,1196.0h4M925,1196.0h4M897,1200.0h4M925,1200.0h4M897,1204.0h4M925,1204.0h4M897,1208.0h4M925,1208.0h4M897,1212.0h4M897,1216.0h4M921,1216.0h4M897,1220.0h4M921,1220.0h4M897,1224.0h8M921,1224.0h4M901,1228.0h4M921,1228.0h4M901,1232.0h4M921,1232.0h4M901,1236.0h4M917,1236.0h8M901,1240.0h4M917,1240.0h8M901,1244.0h4M917,1244.0h8M901,1248.0h4M917,1248.0h8M897,1252.0h8M917,1252.0h8M897,1256.0h8M917,1256.0h8M897,1260.0h8M917,1260.0h8M897,1264.0h8M917,1264.0h8M897,1268.0h8M917,1268.0h8M897,1272.0h8M917,1272.0h8M897,1276.0h4M917,1276.0h8M893,1280.0h8M917,1280.0h8M893,1284.0h8M917,1284.0h8M893,1288.0h8M921,1288.0h4M893,1292.0h4M921,1292.0h4M893,1296.0h4M921,1296.0h8M889,1300.0h8M921,1300.0h8M889,1304.0h4M921,1304.0h8M889,1308.0h4M921,1308.0h8M885,1312.0h8M921,1312.0h8M885,1316.0h4M921,1316.0h8M885,1320.0h4M921,1320.0h8M885,1324.0h4M925,1324.0h4M881,1328.0h4M925,1328.0h8M881,1332.0h4M925,1332.0h8M881,1336.0h4M925,1336.0h8M877,1340.0h4M925,1340.0h8M877,1344.0h4M925,1344.0h8M877,1348.0h4M925,1348.0h8M873,1352.0h4M925,1352.0h8M873,1356.0h4M925,1356.0h8M869,1360.0h8M925,1360.0h8M869,1364.0h4M925,1364.0h8M869,1368.0h4M925,1368.0h8M865,1372.0h4M925,1372.0h8M865,1376.0h4M925,1376.0h8M865,1380.0h4M925,1380.0h4M861,1384.0h4M921,1384.0h8M861,1388.0h4M921,1388.0h8M857,1392.0h4M921,1392.0h8M857,1396.0h4M921,1396.0h8M853,1400.0h4M917,1400.0h8M853,1404.0h4M917,1404.0h8M849,1408.0h4M917,1408.0h8M845,1412.0h4M913,1412.0h8M841,1416.0h8M913,1416.0h8M841,1420.0h4M913,1420.0h4M837,1424.0h4M909,1424.0h8M833,1428.0h4M909,1428.0h8M829,1432.0h4M909,1432.0h4M825,1436.0h4M905,1436.0h8M821,1440.0h4M905,1440.0h4M817,1444.0h4M901,1444.0h8M901,1448.0h8M813,1452.0h4M901,1452.0h4M809,1456.0h4M897,1456.0h8M897,1460.0h8M805,1464.0h4M897,1464.0h4M801,1468.0h4M897,1468.0h4M801,1472.0h4M897,1472.0h4M797,1476.0h4M893,1476.0h8M793,1480.0h4M893,1480.0h4M789,1484.0h4M893,1484.0h4M785,1488.0h8M893,1488.0h4M781,1492.0h4M893,1492.0h4M773,1496.0h8M893,1496.0h4M765,1500.0h8M893,1500.0h4M761,1504.0h8M893,1504.0h4M753,1508.0h8M893,1508.0h4M745,1512.0h12M889,1512.0h8M741,1516.0h8M889,1516.0h8M737,1520.0h8M889,1520.0h4M733,1524.0h8M889,1524.0h4" stroke="#e6c0b2"/>
<path d="M905,1100.0h8M905,1104.0h12M901,1108.0h16M901,1112.0h8M913,1112.0h8M901,1116.0h4M917,1116.0h4M901,1120.0h4M917,1120.0h4M897,1128.0h4M921,1128.0h4M897,1132.0h4M921,1132.0h4M897,1136.0h4M921,1136.0h4M897,1140.0h4M921,1140.0h4M897,1144.0h4M921,1144.0h4M897,1148.0h4M897,1152.0h4M897,1156.0h4M897,1160.0h4M897,1164.0h4M897,1168.0h4M897,1172.0h4M897,1176.0h4M897,1180.0h4M897,1184.0h4M897,1188.0h4M921,1188.0h4M921,1192.0h4M921,1196.0h4M901,1200.0h4M921,1200.0h4M901,1204.0h4M921,1204.0h4M901,1208.0h4M921,1208.0h4M901,1212.0h4M917,1212.0h8M901,1216.0h8M917,1216.0h4M901,1220.0h8M913,1220.0h8M905,1224.0h16M905,1228.0h16M905,1232.0h16M905,1236.0h12M905,1240.0h12M905,1244.0h12M905,1248.0h12M905,1252.0h12M905,1256.0h12M905,1260.0h12M905,1264.0h12M905,1268.0h12M905,1272.0h12M901,1276.0h16M901,1280.0h16M901,1284.0h16M901,1288.0h20M897,1292.0h24M897,1296.0h24M897,1300.0h24M893,1304.0h12M909,1304.0h12M893,1308.0h8M913,1308.0h8M893,1312.0h8M913,1312.0h8M889,1316.0h8M913,1316.0h8M889,1320.0h8M913,1320.0h8M889,1324.0h4M913,1324.0h12M885,1328.0h8M917,1328.0h8M885,1332.0h8M917,1332.0h8M885,1336.0h4M917,1336.0h8M881,1340.0h8M917,1340.0h8M881,1344.0h4M917,1344.0h8M881,1348.0h4M917,1348.0h8M877,1352.0h8M917,1352.0h8M877,1356.0h4M917,1356.0h8M877,1360.0h4M917,1360.0h8M873,1364.0h8M917,1364.0h8M873,1368.0h4M917,1368.0h8M869,1372.0h8M917,1372.0h8M869,1376.0h4M917,1376.0h8M869,1380.0h4M917,1380.0h8M865,1384.0h8M913,1384.0h8M865,1388.0h4M913,1388.0h8M861,1392.0h8M913,1392.0h8M861,1396.0h4M913,1396.0h8M857,1400.0h8M913,1400.0h4M857,1404.0h4M909,1404.0h8M853,1408.0h8M909,1408.0h8M849,1412.0h8M909,1412.0h4M849,1416.0h4M905,1416.0h8M845,1420.0h4M905,1420.0h8M841,1424.0h4M905,1424.0h4M837,1428.0h4M901,1428.0h8M833,1432.0h4M901,1432.0h8M829,1436.0h4M901,1436.0h4M825,1440.0h4M897,1440.0h8M821,1444.0h4M897,1444.0h4M817,1448.0h4M897,1448.0h4M817,1452.0h4M893,1452.0h8M813,1456.0h4M893,1456.0h4M809,1460.0h4M893,1460.0h4M809,1464.0h4M893,1464.0h4M805,1468.0h4M893,1468.0h4M805,1472.0h4M889,1472.0h8M801,1476.0h4M889,1476.0h4M797,1480.0h4M889,1480.0h4M793,1484.0h8M889,1484.0h4M793,1488.0h4M889,1488.0h4M785,1492.0h8M889,1492.0h4M781,1496.0h8M889,1496.0h4M773,1500.0h8M889,1500.0h4M769,1504.0h8M889,1504.0h4M761,1508.0h8M889,1508.0h4M757,1512.0h8M885,1512.0h4M749,1516.0h8M885,1516.0h4M745,1520.0h8M885,1520.0h4M741,1524.0h8M885,1524.0h4" stroke="#e4bbac"/>
<path d="M909,1112.0h4M905,1116.0h12M905,1120.0h12M901,1124.0h8M913,1124.0h8M901,1128.0h4M917,1128.0h4M901,1132.0h4M917,1132.0h4M901,1136.0h4M917,1136.0h4M901,1140.0h4M901,1144.0h4M921,1148.0h4M921,1152.0h4M921,1156.0h4M921,1160.0h4M921,1164.0h4M921,1168.0h4M921,1172.0h4M921,1176.0h4M901,1180.0h4M921,1180.0h4M901,1184.0h4M921,1184.0h4M901,1188.0h4M901,1192.0h4M917,1192.0h4M901,1196.0h4M917,1196.0h4M905,1200.0h4M917,1200.0h4M905,1204.0h4M913,1204.0h8M905,1208.0h16M905,1212.0h12M909,1216.0h8M909,1220.0h4M905,1304.0h4M901,1308.0h12M901,1312.0h12M897,1316.0h16M897,1320.0h16M893,1324.0h20M893,1328.0h24M893,1332.0h24M889,1336.0h28M889,1340.0h28M885,1344.0h12M905,1344.0h12M885,1348.0h8M905,1348.0h12M885,1352.0h8M905,1352.0h12M881,1356.0h8M909,1356.0h8M881,1360.0h8M909,1360.0h8M881,1364.0h4M909,1364.0h8M877,1368.0h8M909,1368.0h8M877,1372.0h4M909,1372.0h8M873,1376.0h8M909,1376.0h8M873,1380.0h8M905,1380.0h12M873,1384.0h4M905,1384.0h8M869,1388.0h8M905,1388.0h8M869,1392.0h4M905,1392.0h8M865,1396.0h8M905,1396.0h8M865,1400.0h4M901,1400.0h12M861,1404.0h8M901,1404.0h8M861,1408.0h4M901,1408.0h8M857,1412.0h8M901,1412.0h8M853,1416.0h8M897,1416.0h8M849,1420.0h8M897,1420.0h8M845,1424.0h8M897,1424.0h8M841,1428.0h8M893,1428.0h8M837,1432.0h8M893,1432.0h8M833,1436.0h4M893,1436.0h8M829,1440.0h4M893,1440.0h4M825,1444.0h4M889,1444.0h8M821,1448.0h4M889,1448.0h8M889,1452.0h4M817,1456.0h4M889,1456.0h4M813,1460.0h4M889,1460.0h4M889,1464.0h4M809,1468.0h4M885,1468.0h8M885,1472.0h4M805,1476.0h4M885,1476.0h4M801,1480.0h4M885,1480.0h4M801,1484.0h4M885,1484.0h4M797,1488.0h4M885,1488.0h4M793,1492.0h4M885,1492.0h4M789,1496.0h4M885,1496.0h4M781,1500.0h8M885,1500.0h4M777,1504.0h8M885,1504.0h4M769,1508.0h8M881,1508.0h8M765,1512.0h8M881,1512.0h4M757,1516.0h8M881,1516.0h4M753,1520.0h8M881,1520.0h4M749,1524.0h8M877,1524.0h8" stroke="#e2b5a5"/>
<path d="M909,1124.0h4M905,1128.0h12M905,1132.0h12M905,1136.0h4M913,1136.0h4M905,1140.0h4M917,1140.0h4M917,1144.0h4M901,1148.0h4M917,1148.0h4M901,1152.0h4M917,1152.0h4M901,1156.0h4M917,1156.0h4M901,1160.0h4M917,1160.0h4M901,1164.0h4M917,1164.0h4M901,1168.0h4M917,1168.0h4M901,1172.0h4M917,1172.0h4M901,1176.0h4M917,1176.0h4M917,1180.0h4M905,1184.0h4M917,1184.0h4M905,1188.0h4M913,1188.0h8M905,1192.0h12M905,1196.0h12M909,1200.0h8M909,1204.0h4M897,1344.0h8M893,1348.0h12M893,1352.0h12M889,1356.0h20M889,1360.0h20M885,1364.0h24M885,1368.0h24M881,1372.0h28M881,1376.0h28M881,1380.0h24M877,1384.0h28M877,1388.0h28M873,1392.0h32M873,1396.0h32M869,1400.0h12M889,1400.0h12M869,1404.0h12M889,1404.0h12M865,1408.0h12M889,1408.0h12M865,1412.0h8M889,1412.0h12M861,1416.0h8M889,1416.0h8M857,1420.0h8M889,1420.0h8M853,1424.0h8M889,1424.0h8M849,1428.0h8M885,1428.0h8M845,1432.0h4M885,1432.0h8M837,1436.0h8M885,1436.0h8M833,1440.0h8M885,1440.0h8M829,1444.0h4M885,1444.0h4M825,1448.0h4M885,1448.0h4M821,1452.0h4M885,1452.0h4M885,1456.0h4M817,1460.0h4M885,1460.0h4M813,1464.0h4M885,1464.0h4M813,1468.0h4M881,1468.0h4M809,1472.0h4M881,1472.0h4M809,1476.0h4M881,1476.0h4M805,1480.0h4M881,1480.0h4M805,1484.0h4M881,1484.0h4M801,1488.0h4M881,1488.0h4M797,1492.0h4M881,1492.0h4M793,1496.0h8M881,1496.0h4M789,1500.0h8M881,1500.0h4M785,1504.0h4M881,1504.0h4M777,1508.0h8M773,1512.0h8M877,1512.0h4M765,1516.0h8M877,1516.0h4M761,1520.0h8M877,1520.0h4M757,1524.0h8M873,1524.0h4" stroke="#e0b09e"/>
<path d="M909,1136.0h4M909,1140.0h8M905,1144.0h12M905,1148.0h12M905,1152.0h12M905,1156.0h12M905,1160.0h4M913,1160.0h4M905,1164.0h4M913,1164.0h4M905,1168.0h12M905,1172.0h12M905,1176.0h12M905,1180.0h12M909,1184.0h8M909,1188.0h4M881,1400.0h8M881,1404.0h8M877,1408.0h12M873,1412.0h16M869,1416.0h20M865,1420.0h24M861,1424.0h28M857,1428.0h28M849,1432.0h12M873,1432.0h12M845,1436.0h8M877,1436.0h8M841,1440.0h4M877,1440.0h8M833,1444.0h8M877,1444.0h8M829,1448.0h4M877,1448.0h8M825,1452.0h4M877,1452.0h8M821,1456.0h4M877,1456.0h8M877,1460.0h8M817,1464.0h4M877,1464.0h8M877,1468.0h4M813,1472.0h4M877,1472.0h4M877,1476.0h4M809,1480.0h4M877,1480.0h4M877,1484.0h4M805,1488.0h4M877,1488.0h4M801,1492.0h4M877,1492.0h4M801,1496.0h4M877,1496.0h4M797,1500.0h4M877,1500.0h4M789,1504.0h8M877,1504.0h4M785,1508.0h8M877,1508.0h4M781,1512.0h8M873,1512.0h4M773,1516.0h12M873,1516.0h4M769,1520.0h8M873,1520.0h4M765,1524.0h8M869,1524.0h4" stroke="#deaa98"/>
<path d="M909,1160.0h4M909,1164.0h4M861,1432.0h12M853,1436.0h24M845,1440.0h32M841,1444.0h4M869,1444.0h8M833,1448.0h4M873,1448.0h4M829,1452.0h4M873,1452.0h4M825,1456.0h4M873,1456.0h4M821,1460.0h4M873,1460.0h4M873,1464.0h4M817,1468.0h4M873,1468.0h4M873,1472.0h4M813,1476.0h4M809,1484.0h4M873,1484.0h4M809,1488.0h4M873,1488.0h4M805,1492.0h4M873,1492.0h4M805,1496.0h4M873,1496.0h4M801,1500.0h4M873,1500.0h4M797,1504.0h4M873,1504.0h4M793,1508.0h8M873,1508.0h4M789,1512.0h8M869,1512.0h4M785,1516.0h8M869,1516.0h4M777,1520.0h12M869,1520.0h4M773,1524.0h12M865,1524.0h4" stroke="#dda592"/>
<path d="M845,1444.0h24M837,1448.0h8M861,1448.0h12M833,1452.0h4M865,1452.0h8M829,1456.0h4M869,1456.0h4M825,1460.0h4M869,1460.0h4M821,1464.0h4M869,1464.0h4M817,1472.0h4M873,1476.0h4M813,1480.0h4M873,1480.0h4M813,1484.0h4M809,1492.0h4M809,1496.0h4M805,1500.0h4M869,1500.0h4M801,1504.0h8M869,1504.0h4M801,1508.0h4M869,1508.0h4M797,1512.0h4M793,1516.0h8M865,1516.0h4M789,1520.0h8M865,1520.0h4M785,1524.0h8M861,1524.0h4" stroke="#dba08c"/>
<path d="M845,1448.0h16M837,1452.0h8M857,1452.0h8M833,1456.0h4M861,1456.0h8M865,1460.0h4M825,1464.0h4M865,1464.0h4M821,1468.0h4M869,1468.0h4M869,1472.0h4M817,1476.0h4M869,1476.0h4M869,1480.0h4M869,1484.0h4M813,1488.0h4M869,1488.0h4M813,1492.0h4M869,1492.0h4M869,1496.0h4M809,1500.0h4M809,1504.0h4M865,1504.0h4M805,1508.0h4M865,1508.0h4M801,1512.0h8M865,1512.0h4M801,1516.0h8M861,1516.0h4M797,1520.0h8M861,1520.0h4M793,1524.0h12M857,1524.0h4" stroke="#d99b86"/>
<path d="M845,1452.0h12M837,1456.0h4M857,1456.0h4M829,1460.0h4M861,1460.0h4M861,1464.0h4M865,1468.0h4M821,1472.0h4M865,1472.0h4M865,1476.0h4M817,1480.0h4M865,1480.0h4M817,1484.0h4M865,1484.0h4M865,1488.0h4M865,1492.0h4M813,1496.0h4M865,1496.0h4M813,1500.0h4M865,1500.0h4M813,1504.0h4M809,1508.0h8M861,1508.0h4M809,1512.0h4M861,1512.0h4M809,1516.0h4M857,1516.0h4M805,1520.0h8M853,1520.0h8M805,1524.0h12M849,1524.0h8" stroke="#d89681"/>
<path d="M841,1456.0h16M833,1460.0h4M857,1460.0h4M829,1464.0h4M825,1468.0h4M861,1468.0h4M861,1472.0h4M821,1476.0h4M817,1488.0h4M817,1492.0h4M817,1496.0h4M817,1500.0h4M861,1500.0h4M817,1504.0h4M861,1504.0h4M817,1508.0h4M813,1512.0h8M857,1512.0h4M813,1516.0h8M853,1516.0h4M813,1520.0h8M849,1520.0h4M817,1524.0h12M841,1524.0h8" stroke="#d6917b"/>
<path d="M837,1460.0h20M857,1464.0h4M857,1468.0h4M825,1472.0h4M861,1476.0h4M821,1480.0h4M861,1480.0h4M821,1484.0h4M861,1484.0h4M861,1488.0h4M861,1492.0h4M861,1496.0h4M857,1504.0h4M821,1508.0h4M857,1508.0h4M821,1512.0h4M853,1512.0h4M821,1516.0h8M849,1516.0h4M821,1520.0h12M841,1520.0h8M829,1524.0h12" stroke="#d58c75"/>
<path d="M833,1464.0h4M853,1464.0h4M829,1468.0h4M857,1472.0h4M825,1476.0h4M821,1488.0h4M821,1492.0h4M821,1496.0h4M821,1500.0h4M857,1500.0h4M821,1504.0h4M853,1508.0h4M825,1512.0h4M849,1512.0h4M829,1516.0h8M841,1516.0h8M833,1520.0h8" stroke="#d3876f"/>
<path d="M837,1464.0h16M833,1468.0h4M853,1468.0h4M829,1472.0h4M857,1476.0h4M825,1480.0h4M857,1480.0h4M857,1484.0h4M857,1488.0h4M857,1492.0h4M857,1496.0h4M825,1504.0h4M853,1504.0h4M825,1508.0h4M849,1508.0h4M829,1512.0h8M845,1512.0h4M837,1516.0h4" stroke="#d2826a"/>
<path d="M837,1468.0h4M849,1468.0h4M853,1472.0h4M825,1484.0h4M825,1488.0h4M825,1492.0h4M825,1496.0h4M825,1500.0h4M853,1500.0h4M829,1504.0h4M849,1504.0h4M829,1508.0h8M845,1508.0h4M837,1512.0h8" stroke="#d07d64"/>
<path d="M841,1468.0h8M833,1472.0h4M849,1472.0h4M829,1476.0h4M853,1476.0h4M853,1480.0h4M853,1492.0h4M853,1496.0h4M829,1500.0h4M849,1500.0h4M833,1504.0h4M845,1504.0h4M837,1508.0h8" stroke="#ce795e"/>
<path d="M837,1472.0h4M845,1472.0h4M833,1476.0h4M849,1476.0h4M829,1480.0h4M829,1484.0h4M853,1484.0h4M853,1488.0h4M829,1492.0h4M829,1496.0h4M849,1496.0h4M837,1504.0h8" stroke="#cd7459"/>
<path d="M841,1472.0h4M849,1480.0h4M829,1488.0h4M849,1492.0h4M833,1500.0h16" stroke="#cb6f53"/>
<path d="M837,1476.0h12M833,1480.0h4M833,1484.0h4M849,1484.0h4M833,1488.0h4M849,1488.0h4M833,1492.0h4M833,1496.0h8M845,1496.0h4" stroke="#ca6a4e"/>
<path d="M837,1480.0h12M845,1484.0h4M845,1488.0h4M837,1492.0h12M841,1496.0h4" stroke="#c86649"/>
<path d="M837,1484.0h8M837,1488.0h8" stroke="#c76245"/>
</g></g>
<g><path d="M994.8,1369.4 991.4,1376.0 989.3,1380.0 986.8,1384.8 982.8,1392.0 980.6,1396.0 978.4,1400.0 974.8,1406.3 971.4,1412.0 969.1,1416.0 966.7,1420.0 962.8,1426.6 959.5,1432.0 957.1,1436.0 954.6,1440.0 950.8,1446.6 947.6,1452.0 945.4,1456.0 942.8,1461.0 939.5,1468.0 937.9,1472.0 935.4,1480.0 934.5,1484.0 933.6,1492.0 933.4,1500.0 933.6,1508.0 933.6,1516.0 932.6,1524.0M714.8,1498.4 719.4,1496.0 726.8,1492.3 730.8,1490.3 735.5,1488.0 742.8,1484.4 746.8,1482.3 751.1,1480.0 758.0,1476.0 762.8,1472.9 766.8,1470.1 770.8,1467.0 774.8,1463.5 778.8,1459.6 782.8,1455.2 786.8,1450.3 790.8,1445.1 794.6,1440.0 797.6,1436.0 800.6,1432.0 803.8,1428.0 807.0,1424.0 810.8,1419.4 814.8,1414.5 818.8,1409.7 822.8,1404.7 826.3,1400.0 829.1,1396.0 831.8,1392.0 834.8,1387.4 838.8,1380.4 841.1,1376.0 843.1,1372.0 846.8,1364.2 848.6,1360.0 850.8,1354.9 853.5,1348.0 855.0,1344.0 858.0,1336.0 859.4,1332.0 862.0,1324.0 863.3,1320.0 865.7,1312.0 866.8,1308.0 868.9,1300.0 870.8,1292.5 871.7,1288.0 873.4,1280.0 874.8,1272.5 875.5,1268.0 876.6,1260.0 877.6,1252.0 878.3,1244.0 878.8,1238.9 879.2,1232.0 879.5,1224.0 879.7,1216.0 879.7,1208.0 879.7,1200.0 879.5,1192.0 879.3,1184.0 879.1,1176.0 878.9,1168.0 878.8,1163.1 878.5,1156.0 878.2,1148.0 877.9,1140.0 877.7,1132.0 877.4,1124.0 877.0,1116.0 876.6,1108.0 876.2,1100.0 875.7,1092.0 875.2,1084.0 874.8,1078.1 874.2,1072.0 873.5,1064.0 872.8,1056.0 872.1,1048.0 871.5,1040.0 871.0,1032.0 870.8,1027.4 870.6,1020.0 870.7,1012.0 870.9,1008.0 871.5,1000.0 872.7,992.0 874.5,984.0 875.6,980.0 878.2,972.0 879.9,968.0 882.8,961.9 886.2,956.0 889.1,952.0 892.7,948.0 898.1,944.0 902.8,942.5 909.1,944.0 914.2,948.0 917.3,952.0 919.7,956.0 922.8,962.3 924.9,968.0 926.8,973.6 928.5,980.0 930.4,988.0 931.2,992.0 932.6,1000.0 933.8,1008.0 934.8,1015.5 935.3,1020.0 936.1,1028.0 936.8,1036.0 937.4,1044.0 938.0,1052.0 938.5,1060.0 938.8,1064.2 939.3,1072.0 939.8,1080.0 940.4,1088.0 941.0,1096.0 941.6,1104.0 942.1,1112.0 942.7,1120.0 943.0,1124.0 943.6,1132.0 944.1,1140.0 944.7,1148.0 945.2,1156.0 945.6,1164.0 946.1,1172.0 946.5,1180.0 946.8,1184.0 947.3,1192.0 948.0,1200.0 948.7,1208.0 949.5,1216.0 950.5,1224.0 951.2,1228.0 952.9,1236.0 954.8,1243.0 956.7,1248.0 958.8,1252.3 962.8,1257.6 966.8,1260.6 974.8,1262.6 982.8,1262.1 990.8,1260.7 994.8,1260.1M716.5,1524.0 719.6,1520.0 723.7,1516.0 728.5,1512.0 734.2,1508.0 738.8,1505.1 742.8,1502.8 747.6,1500.0 754.8,1496.1 758.8,1493.9 762.8,1491.7 769.1,1488.0 774.8,1484.4 778.8,1481.5 782.8,1478.2 786.8,1474.4 790.8,1470.0 794.8,1464.9 798.2,1460.0 800.9,1456.0 803.6,1452.0 806.8,1447.3 810.8,1441.6 814.8,1436.3 818.2,1432.0 821.5,1428.0 824.9,1424.0 828.3,1420.0 831.7,1416.0 834.9,1412.0 838.8,1406.9 842.8,1400.9 845.7,1396.0 848.0,1392.0 850.8,1386.5 853.8,1380.0 855.6,1376.0 858.8,1368.3 860.5,1364.0 862.8,1358.0 865.0,1352.0 866.8,1347.1 869.2,1340.0 870.8,1335.4 873.2,1328.0 874.8,1322.8 876.8,1316.0 878.8,1308.9 880.1,1304.0 882.0,1296.0 883.0,1292.0 884.7,1284.0 886.2,1276.0 886.9,1272.0 888.2,1264.0 889.3,1256.0 890.1,1248.0 890.7,1240.0 890.9,1236.0 891.1,1228.0 891.1,1220.0 891.0,1212.0 890.8,1204.0 890.6,1200.0 890.3,1192.0 890.0,1184.0 889.7,1176.0 889.4,1168.0 889.3,1160.0 889.2,1152.0 889.2,1144.0 889.3,1136.0 889.5,1128.0 889.7,1120.0 889.9,1112.0 890.2,1104.0 890.4,1096.0 890.6,1088.0 890.8,1080.9 890.8,1076.0 891.0,1068.0 891.1,1060.0 891.3,1052.0 891.6,1044.0 892.2,1036.0 893.1,1028.0 894.5,1020.0 895.7,1016.0 898.8,1008.5 902.8,1004.6 909.7,1008.0 912.1,1012.0 914.8,1018.2 916.3,1024.0 918.2,1032.0 919.0,1036.0 920.3,1044.0 921.5,1052.0 922.7,1060.0 923.2,1064.0 924.3,1072.0 925.5,1080.0 926.7,1088.0 927.2,1092.0 928.4,1100.0 929.4,1108.0 930.4,1116.0 930.9,1120.0 931.7,1128.0 932.5,1136.0 933.1,1144.0 933.5,1152.0 933.9,1160.0 934.1,1168.0 934.2,1176.0 934.3,1184.0 934.2,1192.0 934.2,1200.0 934.1,1208.0 934.0,1216.0 934.0,1224.0 934.1,1232.0 934.4,1240.0 934.7,1248.0 935.0,1252.0 935.7,1260.0 936.5,1268.0 937.5,1276.0 938.8,1284.0 939.5,1288.0 941.3,1296.0 942.8,1302.3 944.5,1308.0 946.8,1315.5 948.3,1320.0 950.8,1327.5 952.2,1332.0 954.0,1340.0 954.8,1346.8 954.9,1352.0 954.8,1356.4 953.9,1364.0 952.4,1372.0 950.8,1378.4 949.1,1384.0 946.8,1391.0 945.0,1396.0 942.8,1401.6 940.1,1408.0 938.4,1412.0 934.8,1420.0 932.9,1424.0 930.8,1428.3 927.0,1436.0 925.0,1440.0 922.8,1444.6 919.3,1452.0 917.5,1456.0 914.8,1462.7 912.9,1468.0 910.8,1475.4 909.8,1480.0 908.6,1488.0 908.0,1496.0 907.8,1504.0 907.4,1512.0 906.8,1517.3 905.3,1524.0M742.7,1524.0 746.2,1520.0 750.6,1516.0 754.8,1512.8 758.8,1510.1 762.8,1507.5 768.4,1504.0 774.8,1500.2 778.8,1497.7 782.8,1495.0 786.8,1492.0 791.4,1488.0 795.3,1484.0 798.8,1479.8 802.8,1473.9 806.3,1468.0 808.6,1464.0 811.1,1460.0 814.8,1454.2 818.8,1448.5 822.3,1444.0 825.7,1440.0 829.4,1436.0 833.3,1432.0 837.2,1428.0 841.1,1424.0 844.8,1420.0 848.2,1416.0 851.3,1412.0 854.8,1406.9 858.8,1400.1 860.9,1396.0 862.8,1392.0 866.3,1384.0 868.0,1380.0 870.8,1373.0 872.7,1368.0 874.8,1362.4 877.2,1356.0 878.8,1351.5 881.5,1344.0 882.9,1340.0 885.7,1332.0 887.1,1328.0 889.8,1320.0 891.0,1316.0 893.7,1308.0 894.9,1304.0 897.5,1296.0 898.8,1291.2 901.1,1284.0 902.8,1277.4 904.6,1272.0 906.2,1264.0 906.8,1259.8 907.7,1252.0 906.9,1244.0 906.4,1240.0 905.3,1232.0 903.9,1224.0 902.8,1218.3 901.8,1212.0 900.6,1204.0 899.6,1196.0 898.8,1188.6 898.3,1184.0 897.8,1176.0 897.4,1168.0 897.3,1160.0 897.4,1152.0 897.7,1144.0 898.2,1136.0 898.8,1130.6 899.7,1124.0 901.1,1116.0 902.8,1108.7 904.7,1104.0 906.8,1099.7 912.9,1100.0 915.7,1104.0 918.8,1111.0 920.1,1116.0 922.0,1124.0 922.8,1128.0 924.0,1136.0 924.9,1144.0 925.5,1152.0 925.9,1160.0 926.0,1168.0 925.8,1176.0 925.5,1184.0 924.8,1192.0 924.0,1200.0 923.0,1208.0 922.3,1212.0 920.8,1220.0 919.3,1228.0 918.5,1232.0 916.6,1240.0 915.3,1248.0 914.8,1255.7 914.7,1260.0 914.9,1264.0 915.5,1272.0 916.5,1280.0 917.7,1288.0 918.8,1295.1 919.3,1300.0 920.3,1308.0 921.3,1316.0 922.1,1324.0 922.8,1330.1 923.2,1336.0 923.7,1344.0 923.9,1352.0 923.9,1360.0 923.4,1368.0 922.8,1374.2 921.9,1380.0 920.5,1388.0 918.8,1395.3 917.5,1400.0 915.0,1408.0 913.7,1412.0 910.8,1420.0 909.4,1424.0 906.8,1430.8 904.8,1436.0 902.8,1441.6 900.6,1448.0 898.8,1453.7 897.0,1460.0 895.2,1468.0 894.4,1472.0 893.2,1480.0 892.3,1488.0 891.7,1496.0 891.1,1504.0 890.7,1508.0 889.5,1516.0 887.2,1524.0M910.3,1140.0 911.7,1140.0 914.9,1144.0 916.4,1152.0 917.1,1160.0 917.0,1168.0 916.1,1176.0 914.8,1182.2 910.8,1185.1 908.7,1180.0 906.8,1173.1 906.3,1168.0 906.1,1160.0 906.5,1152.0 907.1,1148.0 910.3,1140.0M768.4,1524.0 772.1,1520.0 776.8,1516.0 782.0,1512.0 786.8,1508.4 790.8,1505.3 794.8,1501.9 798.8,1497.9 802.8,1493.0 805.9,1488.0 808.0,1484.0 810.8,1478.6 813.8,1472.0 815.8,1468.0 818.8,1462.9 822.8,1456.9 826.8,1452.1 830.8,1448.1 834.7,1444.5 838.8,1441.4 842.8,1438.6 846.8,1435.9 852.7,1432.0 858.4,1428.0 862.7,1424.9 866.8,1422.0 870.8,1419.0 875.5,1416.0 881.1,1416.0 882.8,1420.0 883.2,1428.0 883.0,1436.0 882.8,1443.0 882.5,1448.0 882.0,1456.0 881.5,1464.0 881.0,1472.0 880.6,1480.0 880.0,1488.0 879.3,1496.0 878.8,1501.1 877.8,1508.0 875.8,1516.0 874.4,1520.0 872.6,1524.0M798.8,1524.0 802.8,1516.5 805.5,1512.0 807.8,1508.0 810.8,1501.8 812.7,1496.0 814.8,1489.6 816.3,1484.0 818.8,1477.1 820.9,1472.0 823.0,1468.0 826.8,1462.5 830.8,1458.1 834.8,1454.8 839.7,1452.0 846.8,1449.3 854.8,1448.9 861.9,1452.0 865.2,1456.0 867.2,1460.0 869.3,1468.0 870.3,1476.0 870.5,1484.0 870.0,1492.0 868.9,1500.0 866.8,1508.0 865.5,1512.0 862.8,1517.7 858.8,1523.7 858.5,1524.0M840.6,1460.0 846.8,1459.0 851.0,1460.0 856.6,1464.0 859.4,1468.0 862.2,1476.0 862.8,1480.0 863.0,1488.0 862.6,1492.0 860.9,1500.0 858.8,1505.4 854.8,1512.0 851.0,1516.0 846.8,1519.1 842.8,1520.9 834.8,1521.9 828.9,1520.0 824.6,1516.0 822.7,1512.0 821.1,1504.0 820.8,1496.0 821.5,1488.0 822.8,1482.6 824.9,1476.0 826.9,1472.0 830.8,1466.6 834.8,1462.9 840.6,1460.0M838.2,1468.0 842.8,1466.6 848.6,1468.0 853.1,1472.0 855.3,1476.0 857.0,1484.0 856.4,1492.0 854.8,1497.6 850.9,1504.0 846.8,1507.7 842.8,1509.4 834.8,1508.3 830.8,1504.5 828.5,1500.0 826.9,1492.0 827.6,1484.0 830.4,1476.0 833.2,1472.0 838.2,1468.0M838.0,1476.0 842.8,1474.3 847.1,1476.0 850.8,1483.1 851.0,1488.0 850.0,1492.0 846.8,1497.4 838.8,1499.5 834.7,1496.0 832.7,1488.0 834.5,1480.0 838.0,1476.0M714.8,1433.7 722.8,1434.0 730.8,1432.8 734.8,1431.8 742.8,1428.8 746.8,1427.0 752.2,1424.0 758.8,1420.1 762.8,1417.4 766.8,1414.5 770.8,1411.4 775.0,1408.0 779.7,1404.0 784.2,1400.0 788.5,1396.0 792.6,1392.0 796.6,1388.0 800.4,1384.0 804.1,1380.0 807.6,1376.0 810.9,1372.0 814.8,1367.0 818.8,1361.3 822.2,1356.0 824.6,1352.0 826.9,1348.0 830.8,1340.8 833.0,1336.0 834.9,1332.0 838.1,1324.0 839.6,1320.0 842.5,1312.0 843.7,1308.0 846.0,1300.0 847.0,1296.0 848.7,1288.0 850.3,1280.0 850.9,1276.0 851.8,1268.0 852.5,1260.0 852.8,1252.0 852.8,1244.0 852.4,1236.0 851.7,1228.0 850.8,1221.1 849.7,1216.0 847.7,1208.0 846.7,1204.0 843.5,1196.0 841.6,1192.0 838.8,1186.9 834.8,1181.9 830.8,1178.3 826.8,1175.7 819.5,1172.0 814.8,1169.8 810.8,1167.8 804.7,1164.0 799.8,1160.0 796.0,1156.0 792.9,1152.0 790.2,1148.0 786.8,1141.9 783.9,1136.0 782.1,1132.0 778.8,1124.2 777.0,1120.0 774.8,1114.6 771.9,1108.0 770.1,1104.0 766.8,1097.0 763.9,1092.0 761.4,1088.0 758.6,1084.0 754.8,1079.7 749.3,1076.0 742.8,1074.6 738.2,1076.0 732.7,1080.0 729.2,1084.0 726.3,1088.0 722.8,1094.4 720.2,1100.0 718.5,1104.0 715.6,1112.0 714.8,1114.5M935.9,936.0 938.3,944.0 939.4,948.0 941.4,956.0 942.8,962.3 943.9,968.0 945.4,976.0 946.6,984.0 947.1,988.0 948.2,996.0 949.0,1004.0 949.8,1012.0 950.4,1020.0 950.8,1025.6 951.2,1032.0 951.7,1040.0 952.2,1048.0 952.7,1056.0 953.1,1064.0 953.6,1072.0 954.0,1080.0 954.5,1088.0 954.8,1092.2 955.3,1100.0 955.9,1108.0 956.6,1116.0 957.2,1124.0 957.8,1132.0 958.5,1140.0 958.8,1144.0 959.7,1152.0 960.6,1160.0 961.6,1168.0 962.8,1175.9 963.6,1180.0 965.6,1188.0 966.8,1192.1 970.7,1200.0 974.8,1204.0 978.8,1205.5 986.8,1204.7 990.8,1203.3 994.8,1201.5M994.8,1427.0 991.5,1432.0 988.9,1436.0 986.3,1440.0 982.8,1445.6 978.8,1452.0 976.4,1456.0 974.1,1460.0 970.8,1466.4 968.2,1472.0 966.7,1476.0 964.8,1484.0 964.0,1492.0 964.4,1500.0 965.3,1508.0 966.1,1516.0 966.0,1524.0M714.8,1479.6 722.8,1476.2 726.8,1474.4 732.0,1472.0 738.8,1468.5 742.8,1466.3 746.8,1464.0 752.9,1460.0 758.3,1456.0 762.8,1452.4 766.8,1448.8 770.8,1444.9 774.8,1440.8 778.8,1436.4 782.7,1432.0 786.1,1428.0 789.6,1424.0 793.0,1420.0 796.5,1416.0 800.0,1412.0 803.5,1408.0 806.9,1404.0 810.8,1399.5 814.8,1394.5 818.8,1389.4 822.7,1384.0 825.4,1380.0 827.9,1376.0 830.8,1371.4 834.8,1364.2 836.9,1360.0 838.9,1356.0 842.6,1348.0 844.3,1344.0 846.8,1338.2 849.1,1332.0 850.8,1327.7 853.4,1320.0 854.8,1315.8 857.1,1308.0 858.8,1302.1 860.3,1296.0 862.2,1288.0 863.0,1284.0 864.5,1276.0 865.8,1268.0 866.8,1261.6 867.4,1256.0 868.1,1248.0 868.7,1240.0 869.1,1232.0 869.3,1224.0 869.3,1216.0 869.2,1208.0 869.0,1200.0 868.7,1192.0 868.3,1184.0 867.9,1176.0 867.5,1168.0 867.0,1160.0 866.8,1155.3 866.2,1148.0 865.6,1140.0 865.0,1132.0 864.4,1124.0 863.7,1116.0 862.9,1108.0 862.4,1104.0 861.3,1096.0 860.0,1088.0 858.8,1080.2 857.9,1076.0 856.1,1068.0 854.8,1061.7 853.3,1056.0 851.3,1048.0 850.3,1044.0 848.4,1036.0 846.8,1028.0 846.1,1024.0 844.9,1016.0 844.3,1008.0 844.2,1000.0 844.6,992.0 845.7,984.0 846.8,978.8 848.4,972.0 850.7,964.9 852.5,960.0 854.8,955.0 858.1,948.0 860.2,944.0 862.8,939.5 864.8,936.0" fill="none" stroke="#1a1a1a" stroke-width="0.75"/></g>
<path d="M883.1,944.1H970.8V975.5H883.1ZM924.4,975.5H970.8V1001.8H924.4ZM933.2,1001.8H970.8V1010.6H933.2ZM924.4,1010.6H970.8V1038.2H924.4ZM940.7,1038.2H970.8V1048.2H940.7ZM924.4,1048.2H970.8V1103.4H924.4ZM932.0,1103.4H970.8V1113.4H932.0ZM924.4,1113.4H970.8V1221.2H924.4ZM890.6,1023.1H908.1V1058.2H890.6ZM899.4,1058.2H924.4V1094.6H899.4ZM906.9,1094.6H924.4V1103.4H906.9ZM899.4,1103.4H924.4V1141.0H899.4ZM891.8,1103.4H899.4V1133.4H891.8ZM899.4,1198.6H915.7V1221.2H899.4ZM784.0,1104.6H799.0V1130.9H784.0ZM722.6,1198.6H741.4V1221.2H722.6ZM721.0,1200.0H740.8V1516.9H721.0ZM740.8,1417.9H756.9V1440.1H740.8ZM721.0,1484.7H749.5V1516.9H721.0ZM749.5,1500.8H756.9V1516.9H749.5ZM899.3,1200.0H915.4V1255.7H899.3ZM924.0,1200.0H947.6V1274.3H924.0ZM915.4,1217.3H924.0V1265.6H915.4ZM915.4,1274.3H947.6V1313.9H915.4ZM906.7,1274.3H915.4V1313.9H906.7ZM899.3,1274.3H906.7V1294.1H899.3ZM875.8,1313.9H947.6V1331.2H875.8ZM890.6,1331.2H947.6V1343.6H890.6ZM882.0,1343.6H947.6V1370.8H882.0ZM874.5,1370.8H947.6V1390.6H874.5ZM858.4,1390.6H947.6V1471.1H858.4ZM865.9,1471.1H947.6V1500.8H865.9ZM858.4,1500.8H947.6V1516.9H858.4Z" fill="#ebecee"/>
<path d="M917.5,1002.0H932.0V1011.0H917.5ZM917.5,1039.0H940.5V1048.0H917.5ZM924.0,1105.0H932.5V1113.5H924.0Z" fill="#d7937d"/>
<path d="M969.8,943.0 969.8,956.3 962.1,969.7 965.9,990.4 957.1,1009.7 949.6,1039.3 943.7,1057.1 936.3,1088.2 940.7,1101.6 945.2,1128.3 932.4,1141.6 930.4,1154.9 934.8,1180.1 937.8,1205.3 936.3,1200.0 937.2,1210.4 942.2,1222.2 931.3,1247.4 934.2,1263.7 924.4,1288.9 914.1,1318.6 903.7,1339.3 897.8,1354.1 893.3,1376.4 883.8,1385.3 883.8,1403.0 870.5,1403.9 864.3,1425.3 873.2,1443.0 873.2,1466.8 875.5,1481.6 878.5,1496.4 866.1,1514.8 866.1,1518.6 988.2,1518.2 988.2,940.0Z" fill="#b4b5b7"/>
<path d="M969.8,943.0 969.8,956.3 962.1,969.7 965.9,990.4 957.1,1009.7 949.6,1039.3 943.7,1057.1 936.3,1088.2 940.7,1101.6 945.2,1128.3 932.4,1141.6 930.4,1154.9 934.8,1180.1 937.8,1205.3 936.3,1200.0 937.2,1210.4 942.2,1222.2 931.3,1247.4 934.2,1263.7 924.4,1288.9 914.1,1318.6 903.7,1339.3 897.8,1354.1 893.3,1376.4 883.8,1385.3 883.8,1403.0 870.5,1403.9 864.3,1425.3 873.2,1443.0 873.2,1466.8 875.5,1481.6 878.5,1496.4 866.1,1514.8 866.1,1518.6" fill="none" stroke="#222" stroke-width="0.8"/>
<path d="M965.1,983.6 840.9,983.6 840.9,993.4 832.6,1001.4 832.6,1039.3 824.6,1048.2 824.6,1057.1 816.3,1066.0 816.3,1076.4 808.0,1085.3 808.0,1095.1 816.3,1104.5 816.3,1132.7 799.1,1141.6 799.1,1150.5 808.0,1160.3 808.0,1200.0 808.0,1200.0 808.0,1236.2 800.0,1245.1 800.0,1255.7 808.0,1265.2 791.1,1284.5 791.1,1313.2 774.8,1332.8 774.8,1352.1 765.9,1362.4 765.9,1371.9 757.9,1381.4 757.9,1392.1 741.3,1411.0 741.3,1461.4 749.6,1471.2 749.6,1481.6 875.5,1481.6" fill="none" stroke="#000" stroke-width="2.3" stroke-linejoin="miter"/>
<path d="M720.8,1015.9H986.2M720.8,1127.8H986.2M720.8,1241.1H986.2M720.8,1357.1H986.2M720.8,1476.0H986.2M720.9,942.0V1516.2M820.2,942.0V1516.2M919.5,942.0V1516.2" stroke="#707070" stroke-width="1.1" stroke-dasharray="1.3 1.9" fill="none" opacity="0.7"/>
</g>
<rect x="720.8" y="942.0" width="265.4" height="574.2" fill="none" stroke="#000" stroke-width="3.6"/>
<path d="M715.0,1015.9H720.8M986.2,1015.9H992.0M715.0,1127.8H720.8M986.2,1127.8H992.0M715.0,1241.1H720.8M986.2,1241.1H992.0M715.0,1357.1H720.8M986.2,1357.1H992.0M715.0,1476.0H720.8M986.2,1476.0H992.0M720.9,936.2V942.0M720.9,1516.2V1522.0M820.2,936.2V942.0M820.2,1516.2V1522.0M919.5,936.2V942.0M919.5,1516.2V1522.0" stroke="#000" stroke-width="3.5" fill="none"/>
<clipPath id="frH"><rect x="1022.0" y="942.0" width="265.4" height="574.2"/></clipPath>
<g clip-path="url(#frH)">
<rect x="1022.0" y="942.0" width="265.4" height="574.2" fill="#ebecee"/>
<g><g filter="url(#bl)" fill="none" stroke-width="4.7">
<path d="M1186,980.0h4" stroke="#22265d"/>
<path d="M1186,984.0h4M1166,1016.0h4M1166,1020.0h4" stroke="#262a68"/>
<path d="M1190,980.0h4M1170,1016.0h4M1166,1024.0h4" stroke="#282f76"/>
<path d="M1182,984.0h4M1190,984.0h4M1166,1012.0h8M1162,1020.0h4M1170,1020.0h4M1162,1024.0h4M1070,1128.0h4M1066,1132.0h4" stroke="#293486"/>
<path d="M1182,980.0h4M1170,1008.0h4M1162,1016.0h4M1162,1028.0h8M1222,1036.0h4M1222,1040.0h4" stroke="#2b3993"/>
<path d="M1186,976.0h4M1186,988.0h4M1166,1008.0h4M1170,1024.0h4M1074,1124.0h4M1070,1132.0h4M1062,1136.0h8" stroke="#303e98"/>
<path d="M1190,976.0h4M1182,988.0h4M1162,1012.0h4M1162,1032.0h4M1226,1036.0h4M1226,1040.0h4M1070,1124.0h4M1066,1128.0h4M1062,1140.0h4" stroke="#31449d"/>
<path d="M1170,1004.0h4M1174,1008.0h4M1174,1012.0h4M1174,1016.0h4M1170,1028.0h4M1166,1032.0h4M1074,1128.0h4" stroke="#304ca2"/>
<path d="M1182,976.0h4M1194,980.0h4M1178,984.0h4M1190,988.0h4M1166,1004.0h4M1174,1004.0h4M1174,1020.0h4M1158,1024.0h4M1158,1028.0h4M1222,1032.0h4M1062,1132.0h4M1058,1140.0h4M1058,1144.0h4M1210,1156.0h4" stroke="#2e54a7"/>
<path d="M1194,984.0h4M1178,988.0h4M1170,1000.0h4M1162,1008.0h4M1158,1020.0h4M1222,1044.0h4M1074,1120.0h4M1210,1152.0h4M1210,1160.0h4" stroke="#2b5dac"/>
<path d="M1194,976.0h4M1178,980.0h4M1182,992.0h4M1174,1000.0h4M1158,1016.0h4M1158,1032.0h4M1226,1032.0h4M1162,1036.0h4M1226,1044.0h4M1078,1120.0h4M1078,1124.0h4M1070,1136.0h4M1066,1140.0h4M1062,1144.0h4M1054,1148.0h4" stroke="#2467b3"/>
<path d="M1178,992.0h4M1186,992.0h4M1174,996.0h4M1166,1000.0h4M1174,1024.0h4M1170,1032.0h4M1166,1036.0h4M1218,1036.0h4M1218,1040.0h4M1074,1132.0h4M1058,1136.0h4M1054,1144.0h4M1058,1148.0h4" stroke="#1c71bb"/>
<path d="M1174,992.0h4M1170,996.0h4M1178,996.0h4M1178,1000.0h4M1162,1004.0h4M1178,1004.0h4M1178,1008.0h4M1158,1012.0h4M1178,1012.0h4M1158,1036.0h4M1066,1124.0h4M1210,1148.0h4M1214,1156.0h4M1210,1164.0h4" stroke="#1e7abf"/>
<path d="M1186,972.0h8M1174,988.0h4M1194,988.0h4M1178,1016.0h4M1174,1028.0h4M1162,1040.0h4M1078,1116.0h4M1070,1120.0h4M1050,1148.0h4M1054,1152.0h4M1214,1152.0h4M1206,1156.0h4M1206,1160.0h4M1214,1160.0h4" stroke="#2681c1"/>
<path d="M1178,976.0h4M1174,984.0h4M1170,992.0h4M1190,992.0h4M1166,996.0h4M1182,996.0h4M1218,1032.0h4M1170,1036.0h4M1158,1040.0h4M1062,1128.0h4M1078,1128.0h4M1054,1140.0h4M1050,1152.0h4M1206,1152.0h4" stroke="#3189c3"/>
<path d="M1162,1000.0h4M1158,1008.0h4M1178,1020.0h4M1154,1024.0h4M1154,1028.0h4M1222,1028.0h4M1154,1032.0h4M1230,1036.0h4M1166,1040.0h4M1230,1040.0h4M1218,1044.0h4M1082,1116.0h4M1082,1120.0h4M1066,1144.0h4M1062,1148.0h4M1206,1164.0h4M1166,1272.0h4" stroke="#4191c3"/>
<path d="M1182,972.0h4M1194,972.0h4M1174,980.0h4M1198,980.0h4M1170,988.0h4M1186,996.0h4M1182,1000.0h4M1154,1020.0h4M1226,1028.0h4M1174,1032.0h4M1154,1036.0h4M1222,1048.0h4M1074,1116.0h4M1058,1132.0h4M1070,1140.0h4M1050,1144.0h4M1214,1148.0h4M1046,1152.0h4M1058,1152.0h4M1214,1164.0h4M1170,1268.0h4M1162,1272.0h4M1170,1272.0h4M1162,1276.0h4" stroke="#5199c3"/>
<path d="M1198,976.0h4M1198,984.0h4M1166,992.0h4M1158,1004.0h4M1182,1004.0h4M1182,1008.0h4M1178,1024.0h4M1042,1044.0h4M1162,1044.0h4M1042,1048.0h4M1226,1048.0h4M1074,1136.0h4M1210,1144.0h4M1046,1148.0h4M1206,1148.0h4M1210,1168.0h4M1166,1268.0h4M1174,1268.0h4M1166,1276.0h4" stroke="#60a1c3"/>
<path d="M1162,996.0h4M1182,1012.0h4M1154,1016.0h4M1230,1032.0h4M1042,1040.0h8M1154,1040.0h4M1170,1040.0h4M1038,1044.0h4M1046,1044.0h4M1158,1044.0h4M1230,1044.0h4M1038,1048.0h4M1046,1048.0h4M1038,1052.0h12M1082,1124.0h4M1050,1156.0h4M1174,1272.0h4M1158,1276.0h4M1106,1304.0h4M1106,1308.0h4" stroke="#6ea7c5"/>
<path d="M1170,984.0h4M1194,992.0h4M1190,996.0h4M1186,1000.0h4M1154,1012.0h4M1182,1016.0h4M1178,1028.0h4M1218,1028.0h4M1174,1036.0h4M1038,1040.0h4M1050,1040.0h4M1050,1044.0h4M1166,1044.0h4M1050,1048.0h4M1042,1056.0h4M1082,1112.0h4M1078,1132.0h4M1054,1136.0h4M1214,1144.0h4M1042,1152.0h4M1062,1152.0h4M1046,1156.0h4M1054,1156.0h4M1206,1168.0h4M1174,1264.0h8M1178,1268.0h4M1158,1272.0h4M1170,1276.0h4M1102,1304.0h4M1110,1304.0h4M1102,1308.0h4M1110,1308.0h4" stroke="#7caec6"/>
<path d="M1174,976.0h4M1166,988.0h4M1158,1000.0h4M1182,1020.0h4M1150,1032.0h4M1042,1036.0h12M1034,1044.0h4M1154,1044.0h4M1034,1048.0h4M1218,1048.0h4M1034,1052.0h4M1050,1052.0h4M1038,1056.0h4M1046,1056.0h4M1078,1112.0h4M1086,1116.0h4M1066,1120.0h4M1062,1124.0h4M1206,1144.0h4M1066,1148.0h4M1214,1168.0h4M1170,1264.0h4M1182,1264.0h4M1162,1268.0h4M1158,1280.0h8M1114,1304.0h4M1098,1308.0h4" stroke="#8ab5c8"/>
<path d="M1190,968.0h4M1178,972.0h4M1198,972.0h4M1170,980.0h4M1198,988.0h4M1162,992.0h4M1186,1004.0h4M1154,1008.0h4M1186,1008.0h4M1150,1028.0h4M1178,1032.0h4M1038,1036.0h4M1054,1036.0h4M1150,1036.0h4M1214,1036.0h4M1034,1040.0h4M1054,1040.0h4M1214,1040.0h4M1054,1044.0h4M1158,1048.0h8M1034,1056.0h4M1070,1116.0h4M1050,1140.0h4M1210,1140.0h4M1046,1144.0h4M1070,1144.0h4M1042,1148.0h4M1042,1156.0h4M1058,1156.0h4M1202,1156.0h4M1218,1156.0h4M1202,1160.0h4M1154,1276.0h4M1154,1280.0h4M1166,1280.0h4M1098,1304.0h4M1114,1308.0h4M1102,1336.0h4M1098,1340.0h8" stroke="#98bdcc"/>
<path d="M1186,968.0h4M1194,968.0h4M1166,984.0h4M1158,996.0h4M1190,1000.0h4M1186,1012.0h4M1150,1024.0h4M1182,1024.0h4M1222,1024.0h4M1230,1028.0h4M1042,1032.0h16M1214,1032.0h4M1150,1040.0h4M1174,1040.0h4M1030,1044.0h4M1170,1044.0h4M1030,1048.0h4M1054,1048.0h4M1230,1048.0h4M1050,1056.0h4M1038,1060.0h12M1134,1108.0h12M1086,1112.0h4M1134,1112.0h8M1086,1120.0h4M1058,1128.0h4M1082,1128.0h4M1038,1152.0h4M1218,1152.0h4M1218,1160.0h4M1202,1164.0h4M1210,1172.0h4M1110,1248.0h4M1166,1264.0h4M1186,1264.0h4M1182,1268.0h4M1178,1272.0h4M1106,1300.0h8M1102,1312.0h8M1098,1336.0h4" stroke="#a7c5d1"/>
<path d="M1026,984.0h4M1162,988.0h4M1194,996.0h4M1154,1004.0h4M1186,1016.0h4M1150,1020.0h4M1226,1024.0h4M1058,1032.0h4M1034,1036.0h4M1058,1036.0h4M1030,1040.0h4M1058,1040.0h4M1150,1044.0h4M1214,1044.0h4M1154,1048.0h4M1166,1048.0h4M1030,1052.0h4M1054,1052.0h4M1222,1052.0h8M1034,1060.0h4M1050,1060.0h4M1202,1100.0h4M1138,1104.0h16M1130,1108.0h4M1146,1108.0h8M1074,1112.0h4M1130,1112.0h4M1142,1112.0h4M1134,1116.0h8M1074,1140.0h4M1214,1140.0h4M1218,1148.0h4M1066,1152.0h4M1202,1152.0h4M1038,1156.0h4M1218,1164.0h4M1054,1204.0h12M1054,1208.0h8M1110,1244.0h4M1110,1252.0h4M1174,1260.0h16M1158,1268.0h4M1154,1272.0h4M1102,1300.0h4M1114,1300.0h4M1094,1304.0h4M1094,1308.0h4M1098,1312.0h4M1110,1312.0h4M1102,1332.0h4M1106,1336.0h4M1046,1340.0h4M1106,1340.0h4M1038,1344.0h12M1098,1344.0h8" stroke="#b6cdd6"/>
<path d="M1182,968.0h4M1202,976.0h4M1026,980.0h8M1202,980.0h4M1030,984.0h4M1026,988.0h8M1026,992.0h8M1158,992.0h4M1154,1000.0h4M1190,1004.0h4M1150,1016.0h4M1186,1020.0h4M1046,1028.0h12M1182,1028.0h4M1038,1032.0h4M1062,1032.0h4M1030,1036.0h4M1062,1036.0h4M1106,1036.0h12M1146,1036.0h4M1178,1036.0h4M1234,1036.0h4M1234,1040.0h4M1058,1044.0h4M1058,1048.0h4M1030,1056.0h4M1054,1056.0h4M1042,1064.0h4M1202,1096.0h4M1134,1104.0h4M1154,1104.0h8M1126,1108.0h4M1154,1108.0h12M1126,1112.0h4M1130,1116.0h4M1142,1116.0h4M1138,1120.0h4M1086,1124.0h4M1054,1132.0h4M1078,1136.0h4M1206,1140.0h4M1038,1148.0h4M1070,1148.0h4M1034,1152.0h4M1062,1156.0h4M1202,1168.0h4M1206,1172.0h4M1214,1172.0h4M1050,1204.0h4M1066,1204.0h4M1050,1208.0h4M1062,1208.0h8M1114,1248.0h4M1190,1260.0h4M1190,1264.0h4M1174,1276.0h4M1158,1284.0h4M1098,1300.0h4M1118,1304.0h4M1098,1332.0h4M1038,1340.0h8M1050,1340.0h4M1094,1340.0h4M1034,1344.0h4M1050,1344.0h4M1034,1348.0h12M1086,1468.0h4" stroke="#c2d4db"/>
<path d="M1198,968.0h4M1026,972.0h4M1026,976.0h8M1170,976.0h4M1022,980.0h4M1166,980.0h4M1022,984.0h4M1162,984.0h4M1022,988.0h4M1022,992.0h4M1198,992.0h4M1026,996.0h8M1190,1008.0h4M1150,1012.0h4M1186,1024.0h4M1218,1024.0h4M1042,1028.0h4M1058,1028.0h8M1146,1028.0h4M1214,1028.0h4M1034,1032.0h4M1066,1032.0h56M1146,1032.0h4M1182,1032.0h4M1234,1032.0h4M1066,1036.0h8M1090,1036.0h16M1118,1036.0h12M1026,1040.0h4M1062,1040.0h4M1106,1040.0h20M1146,1040.0h4M1026,1044.0h4M1174,1044.0h4M1234,1044.0h4M1026,1048.0h4M1170,1048.0h4M1026,1052.0h4M1058,1052.0h4M1158,1052.0h8M1218,1052.0h4M1030,1060.0h4M1054,1060.0h4M1038,1064.0h4M1046,1064.0h4M1206,1096.0h4M1206,1100.0h4M1126,1104.0h8M1162,1104.0h4M1202,1104.0h4M1082,1108.0h8M1122,1108.0h4M1166,1108.0h4M1090,1112.0h4M1122,1112.0h4M1162,1112.0h8M1090,1116.0h4M1122,1116.0h8M1130,1120.0h8M1142,1120.0h4M1210,1136.0h4M1218,1144.0h4M1202,1148.0h4M1034,1156.0h4M1046,1160.0h12M1218,1168.0h4M1058,1200.0h8M1046,1204.0h4M1070,1204.0h4M1046,1208.0h4M1070,1208.0h4M1114,1244.0h4M1106,1248.0h4M1106,1252.0h4M1114,1252.0h4M1110,1256.0h4M1170,1260.0h4M1194,1260.0h4M1162,1264.0h4M1194,1264.0h4M1186,1268.0h4M1150,1276.0h4M1150,1280.0h4M1170,1280.0h4M1154,1284.0h4M1162,1284.0h4M1118,1308.0h4M1094,1312.0h4M1114,1312.0h4M1106,1332.0h4M1094,1336.0h4M1034,1340.0h4M1054,1340.0h4M1030,1344.0h4M1054,1344.0h4M1094,1344.0h4M1106,1344.0h4M1030,1348.0h4M1046,1348.0h4M1030,1352.0h12M1046,1416.0h8M1046,1420.0h8M1082,1464.0h8M1082,1468.0h4" stroke="#cedbe1"/>
<path d="M1126,960.0h8M1126,964.0h8M1022,972.0h4M1030,972.0h4M1174,972.0h4M1202,972.0h4M1022,976.0h4M1034,980.0h4M1034,984.0h4M1202,984.0h4M1034,988.0h4M1158,988.0h4M1034,992.0h4M1022,996.0h4M1154,996.0h4M1026,1000.0h8M1194,1000.0h4M1150,1008.0h4M1190,1012.0h4M1190,1016.0h4M1050,1024.0h8M1146,1024.0h4M1230,1024.0h4M1038,1028.0h4M1066,1028.0h52M1026,1032.0h8M1122,1032.0h8M1026,1036.0h4M1074,1036.0h16M1130,1036.0h4M1142,1036.0h4M1066,1040.0h4M1094,1040.0h12M1126,1040.0h8M1178,1040.0h4M1062,1044.0h4M1146,1044.0h4M1150,1048.0h4M1214,1048.0h4M1154,1052.0h4M1230,1052.0h4M1026,1056.0h4M1058,1056.0h4M1034,1064.0h4M1050,1064.0h4M1202,1092.0h4M1134,1100.0h20M1198,1100.0h4M1122,1104.0h4M1166,1104.0h4M1206,1104.0h4M1118,1108.0h4M1170,1108.0h4M1118,1112.0h4M1146,1112.0h4M1158,1112.0h4M1066,1116.0h4M1118,1116.0h4M1162,1116.0h8M1062,1120.0h4M1126,1120.0h4M1146,1120.0h4M1082,1132.0h4M1050,1136.0h4M1214,1136.0h4M1042,1144.0h4M1074,1144.0h4M1030,1152.0h4M1070,1152.0h4M1066,1156.0h4M1042,1160.0h4M1058,1160.0h4M1050,1200.0h8M1066,1200.0h4M1042,1204.0h4M1074,1204.0h4M1042,1208.0h4M1074,1208.0h4M1050,1212.0h16M1110,1240.0h4M1106,1256.0h4M1114,1256.0h4M1182,1256.0h20M1198,1260.0h4M1106,1296.0h8M1094,1300.0h4M1090,1304.0h4M1090,1308.0h4M1102,1316.0h8M1102,1328.0h4M1042,1336.0h16M1030,1340.0h4M1058,1340.0h4M1026,1344.0h4M1026,1348.0h4M1050,1348.0h4M1098,1348.0h8M1026,1352.0h4M1042,1352.0h4M1026,1356.0h12M1030,1376.0h4M1030,1380.0h4M1070,1392.0h12M1046,1412.0h8M1054,1416.0h4M1054,1420.0h4M1046,1424.0h8M1078,1464.0h4M1090,1464.0h4M1078,1468.0h4M1090,1468.0h4M1062,1500.0h4M1062,1504.0h4" stroke="#dae2e6"/>
<path d="M1030,948.0h8M1030,952.0h4M1122,956.0h12M1122,960.0h4M1026,964.0h4M1122,964.0h4M1022,968.0h12M1126,968.0h8M1018,976.0h4M1034,976.0h4M1018,980.0h4M1162,980.0h4M1018,984.0h4M1158,984.0h4M1018,988.0h4M1018,992.0h4M1154,992.0h4M1034,996.0h4M1022,1000.0h4M1150,1000.0h4M1022,1004.0h8M1150,1004.0h4M1194,1004.0h4M1146,1020.0h4M1190,1020.0h4M1046,1024.0h4M1058,1024.0h4M1026,1028.0h12M1118,1028.0h8M1186,1028.0h4M1234,1028.0h4M1022,1032.0h4M1130,1032.0h16M1022,1036.0h4M1134,1036.0h8M1182,1036.0h4M1022,1040.0h4M1070,1040.0h24M1134,1040.0h12M1022,1044.0h4M1066,1044.0h4M1106,1044.0h20M1022,1048.0h4M1062,1048.0h4M1234,1048.0h4M1022,1052.0h4M1062,1052.0h4M1166,1052.0h4M1222,1056.0h8M1026,1060.0h4M1058,1060.0h4M1030,1064.0h4M1054,1064.0h4M1038,1068.0h16M1206,1092.0h4M1198,1096.0h4M1126,1100.0h8M1154,1100.0h8M1118,1104.0h4M1170,1104.0h4M1078,1108.0h4M1090,1108.0h4M1202,1108.0h8M1070,1112.0h4M1114,1112.0h4M1170,1112.0h4M1114,1116.0h4M1146,1116.0h4M1158,1116.0h4M1090,1120.0h4M1118,1120.0h8M1150,1120.0h16M1058,1124.0h4M1134,1124.0h16M1086,1128.0h4M1206,1136.0h4M1046,1140.0h4M1078,1140.0h4M1218,1140.0h4M1202,1144.0h4M1034,1148.0h4M1074,1148.0h4M1026,1152.0h4M1030,1156.0h4M1202,1172.0h4M1210,1176.0h4M1046,1200.0h4M1070,1200.0h4M1038,1204.0h4M1038,1208.0h4M1042,1212.0h8M1066,1212.0h4M1106,1244.0h4M1178,1256.0h4M1202,1256.0h4M1110,1260.0h4M1166,1260.0h4M1202,1260.0h4M1198,1264.0h4M1118,1268.0h4M1154,1268.0h4M1190,1268.0h4M1150,1272.0h4M1150,1284.0h4M1102,1296.0h4M1118,1300.0h4M1098,1316.0h4M1110,1316.0h4M1098,1328.0h4M1106,1328.0h4M1094,1332.0h4M1034,1336.0h8M1058,1336.0h4M1110,1336.0h4M1062,1340.0h4M1058,1344.0h4M1022,1348.0h4M1022,1352.0h4M1046,1352.0h4M1022,1356.0h4M1038,1356.0h4M1026,1360.0h12M1026,1364.0h12M1026,1368.0h12M1026,1372.0h12M1026,1376.0h4M1034,1376.0h4M1026,1380.0h4M1034,1380.0h4M1026,1384.0h12M1026,1388.0h12M1070,1388.0h8M1030,1392.0h4M1066,1392.0h4M1082,1392.0h4M1070,1396.0h8M1046,1408.0h8M1042,1412.0h4M1054,1412.0h4M1042,1416.0h4M1042,1420.0h4M1054,1424.0h4M1046,1428.0h8M1134,1452.0h4M1082,1460.0h8M1082,1472.0h8M1058,1496.0h8M1054,1500.0h8M1058,1504.0h4M1066,1504.0h4M1058,1508.0h8" stroke="#e3e7ea"/>
<path d="M1030,944.0h8M1026,948.0h4M1038,948.0h4M1026,952.0h4M1034,952.0h4M1122,952.0h12M1026,956.0h12M1026,960.0h8M1134,960.0h4M1022,964.0h4M1030,964.0h4M1134,964.0h4M1190,964.0h8M1018,968.0h4M1122,968.0h4M1134,968.0h4M1178,968.0h4M1202,968.0h4M1018,972.0h4M1034,972.0h4M1126,972.0h12M1166,976.0h4M1038,984.0h4M1038,988.0h4M1154,988.0h4M1018,996.0h4M1150,996.0h4M1198,996.0h4M1018,1000.0h4M1034,1000.0h4M1030,1004.0h4M1022,1008.0h8M1194,1008.0h4M1194,1012.0h4M1146,1016.0h4M1194,1016.0h4M1222,1020.0h8M1022,1024.0h8M1042,1024.0h4M1062,1024.0h8M1090,1024.0h28M1190,1024.0h4M1018,1028.0h8M1126,1028.0h8M1142,1028.0h4M1190,1028.0h4M1018,1032.0h4M1186,1032.0h4M1210,1032.0h4M1018,1036.0h4M1210,1036.0h4M1018,1040.0h4M1182,1040.0h4M1210,1040.0h4M1018,1044.0h4M1070,1044.0h4M1086,1044.0h20M1126,1044.0h20M1178,1044.0h4M1018,1048.0h4M1066,1048.0h4M1146,1048.0h4M1174,1048.0h4M1150,1052.0h4M1022,1056.0h4M1062,1056.0h4M1022,1060.0h4M1026,1064.0h4M1058,1064.0h4M1030,1068.0h8M1054,1068.0h4M1198,1092.0h4M1210,1096.0h4M1122,1100.0h4M1162,1100.0h8M1210,1100.0h4M1198,1104.0h4M1210,1104.0h4M1114,1108.0h4M1094,1112.0h4M1110,1112.0h4M1154,1112.0h4M1094,1116.0h4M1110,1116.0h4M1170,1116.0h4M1114,1120.0h4M1166,1120.0h4M1090,1124.0h4M1122,1124.0h12M1150,1124.0h8M1210,1132.0h8M1082,1136.0h4M1218,1136.0h4M1078,1144.0h4M1030,1148.0h4M1222,1148.0h4M1022,1152.0h4M1074,1152.0h4M1222,1152.0h4M1026,1156.0h4M1070,1156.0h4M1222,1156.0h4M1038,1160.0h4M1062,1160.0h4M1222,1160.0h4M1222,1164.0h4M1218,1172.0h4M1206,1176.0h4M1214,1176.0h4M1074,1200.0h4M1078,1204.0h4M1034,1208.0h4M1078,1208.0h4M1034,1212.0h8M1070,1212.0h4M1114,1240.0h4M1186,1252.0h24M1174,1256.0h4M1206,1256.0h8M1106,1260.0h4M1114,1260.0h4M1206,1260.0h4M1118,1264.0h4M1158,1264.0h4M1202,1264.0h4M1122,1268.0h4M1182,1272.0h4M1166,1284.0h4M1098,1296.0h4M1114,1296.0h4M1090,1300.0h4M1090,1312.0h4M1102,1320.0h4M1102,1324.0h8M1110,1332.0h4M1030,1336.0h4M1062,1336.0h4M1026,1340.0h4M1090,1340.0h4M1110,1340.0h4M1022,1344.0h4M1090,1344.0h4M1054,1348.0h4M1094,1348.0h4M1106,1348.0h4M1018,1352.0h4M1042,1356.0h4M1022,1360.0h4M1038,1360.0h4M1022,1364.0h4M1038,1364.0h4M1022,1368.0h4M1038,1368.0h4M1022,1372.0h4M1038,1372.0h4M1022,1376.0h4M1038,1376.0h4M1022,1380.0h4M1038,1380.0h4M1022,1384.0h4M1038,1384.0h4M1022,1388.0h4M1038,1388.0h4M1066,1388.0h4M1078,1388.0h4M1026,1392.0h4M1034,1392.0h8M1062,1392.0h4M1026,1396.0h12M1066,1396.0h4M1078,1396.0h4M1030,1400.0h4M1046,1404.0h8M1042,1408.0h4M1054,1408.0h4M1038,1416.0h4M1058,1416.0h4M1058,1420.0h4M1042,1424.0h4M1042,1428.0h4M1054,1428.0h4M1134,1448.0h4M1134,1456.0h4M1078,1460.0h4M1074,1464.0h4M1074,1468.0h4M1078,1472.0h4M1054,1492.0h12M1054,1496.0h4M1066,1496.0h4M1066,1500.0h4M1054,1504.0h4M1054,1508.0h4M1066,1508.0h4M1058,1512.0h12" stroke="#ebebec"/>
<path d="M1030,940.0h8M1026,944.0h4M1038,944.0h4M1022,948.0h4M1122,948.0h12M1022,952.0h4M1038,952.0h4M1134,952.0h4M1022,956.0h4M1118,956.0h4M1134,956.0h4M1018,960.0h8M1034,960.0h4M1118,960.0h4M1018,964.0h4M1034,964.0h4M1118,964.0h4M1186,964.0h4M1198,964.0h4M1034,968.0h4M1014,972.0h4M1122,972.0h4M1170,972.0h4M1206,972.0h4M1014,976.0h4M1038,976.0h4M1126,976.0h12M1014,980.0h4M1038,980.0h4M1158,980.0h4M1014,984.0h4M1154,984.0h4M1014,988.0h4M1150,988.0h4M1202,988.0h4M1014,992.0h4M1038,992.0h4M1150,992.0h4M1014,996.0h4M1038,996.0h4M1014,1000.0h4M1018,1004.0h4M1034,1004.0h4M1018,1008.0h4M1030,1008.0h4M1146,1008.0h4M1018,1012.0h12M1146,1012.0h4M1018,1016.0h12M1018,1020.0h12M1046,1020.0h12M1194,1020.0h4M1230,1020.0h4M1014,1024.0h8M1030,1024.0h12M1070,1024.0h20M1118,1024.0h8M1142,1024.0h4M1194,1024.0h4M1214,1024.0h4M1234,1024.0h4M1014,1028.0h4M1134,1028.0h8M1194,1028.0h4M1210,1028.0h4M1014,1032.0h4M1190,1032.0h4M1238,1032.0h4M1014,1036.0h4M1186,1036.0h4M1238,1036.0h4M1014,1040.0h4M1238,1040.0h4M1014,1044.0h4M1074,1044.0h12M1210,1044.0h4M1238,1044.0h4M1014,1048.0h4M1070,1048.0h4M1018,1052.0h4M1066,1052.0h4M1170,1052.0h4M1214,1052.0h4M1234,1052.0h4M1018,1056.0h4M1158,1056.0h8M1218,1056.0h4M1230,1056.0h4M1018,1060.0h4M1062,1060.0h4M1022,1064.0h4M1062,1064.0h4M1026,1068.0h4M1058,1068.0h4M1034,1072.0h24M1202,1088.0h8M1210,1092.0h4M1126,1096.0h20M1118,1100.0h4M1170,1100.0h4M1114,1104.0h4M1174,1104.0h4M1094,1108.0h4M1110,1108.0h4M1174,1108.0h4M1210,1108.0h4M1106,1112.0h4M1150,1112.0h4M1174,1112.0h4M1202,1112.0h8M1106,1116.0h4M1094,1120.0h4M1106,1120.0h8M1110,1124.0h12M1158,1124.0h4M1054,1128.0h4M1090,1128.0h4M1210,1128.0h8M1086,1132.0h4M1206,1132.0h4M1218,1132.0h4M1082,1140.0h4M1202,1140.0h4M1222,1140.0h4M1038,1144.0h4M1222,1144.0h4M1026,1148.0h4M1078,1148.0h4M1014,1152.0h8M1078,1152.0h4M1018,1156.0h8M1074,1156.0h8M1198,1156.0h4M1066,1160.0h8M1198,1160.0h4M1198,1164.0h4M1198,1168.0h4M1222,1168.0h4M1058,1196.0h8M1042,1200.0h4M1078,1200.0h4M1034,1204.0h4M1082,1204.0h4M1030,1208.0h4M1082,1208.0h4M1030,1212.0h4M1074,1212.0h4M1198,1248.0h20M1102,1252.0h4M1182,1252.0h4M1210,1252.0h12M1102,1256.0h4M1170,1256.0h4M1214,1256.0h8M1210,1260.0h8M1106,1264.0h12M1206,1264.0h4M1194,1268.0h4M1118,1272.0h4M1154,1288.0h4M1106,1292.0h4M1094,1296.0h4M1086,1304.0h4M1122,1304.0h4M1086,1308.0h4M1118,1312.0h4M1094,1316.0h4M1098,1320.0h4M1106,1320.0h4M1098,1324.0h4M1110,1328.0h4M1038,1332.0h12M1026,1336.0h4M1066,1336.0h4M1090,1336.0h4M1022,1340.0h4M1066,1340.0h4M1018,1344.0h4M1062,1344.0h4M1110,1344.0h4M1014,1348.0h8M1014,1352.0h4M1050,1352.0h4M1098,1352.0h8M1014,1356.0h8M1046,1356.0h4M1018,1360.0h4M1042,1360.0h4M1018,1364.0h4M1018,1368.0h4M1018,1372.0h4M1042,1372.0h4M1018,1376.0h4M1042,1376.0h4M1018,1380.0h4M1042,1380.0h4M1018,1384.0h4M1042,1384.0h4M1018,1388.0h4M1042,1388.0h4M1058,1388.0h8M1082,1388.0h4M1022,1392.0h4M1042,1392.0h4M1058,1392.0h4M1086,1392.0h4M1022,1396.0h4M1038,1396.0h8M1058,1396.0h8M1082,1396.0h4M1022,1400.0h8M1034,1400.0h24M1026,1404.0h20M1054,1404.0h4M1030,1408.0h12M1058,1408.0h4M1034,1412.0h8M1058,1412.0h4M1034,1416.0h4M1038,1420.0h4M1038,1424.0h4M1058,1424.0h4M1042,1432.0h16M1130,1452.0h4M1138,1452.0h4M1138,1456.0h4M1074,1460.0h4M1090,1460.0h4M1070,1464.0h4M1094,1464.0h4M1070,1468.0h4M1094,1468.0h4M1074,1472.0h4M1090,1472.0h4M1058,1484.0h4M1054,1488.0h12M1050,1492.0h4M1066,1492.0h4M1050,1496.0h4M1050,1500.0h4M1050,1504.0h4M1050,1508.0h4M1050,1512.0h8M1054,1516.0h16" stroke="#f2efef"/>
<path d="M1022,936.0h20M1018,940.0h12M1038,940.0h8M1122,940.0h12M1018,944.0h8M1042,944.0h4M1122,944.0h12M1014,948.0h8M1042,948.0h4M1118,948.0h4M1134,948.0h4M1014,952.0h8M1118,952.0h4M1014,956.0h8M1038,956.0h4M1014,960.0h4M1138,960.0h4M1014,964.0h4M1138,964.0h4M1202,964.0h8M1014,968.0h4M1118,968.0h4M1138,968.0h4M1206,968.0h4M1038,972.0h4M1118,972.0h4M1138,972.0h4M1122,976.0h4M1138,976.0h4M1162,976.0h4M1206,976.0h4M1122,980.0h24M1150,980.0h8M1126,984.0h28M1142,988.0h8M1142,992.0h8M1146,996.0h4M1038,1000.0h4M1146,1000.0h4M1198,1000.0h4M1014,1004.0h4M1146,1004.0h4M1014,1008.0h4M1034,1008.0h4M1014,1012.0h4M1030,1012.0h4M1198,1012.0h4M1014,1016.0h4M1030,1016.0h4M1198,1016.0h4M1014,1020.0h4M1030,1020.0h4M1042,1020.0h4M1058,1020.0h8M1098,1020.0h24M1142,1020.0h4M1198,1020.0h4M1218,1020.0h4M1234,1020.0h4M1126,1024.0h16M1198,1024.0h4M1238,1024.0h4M1198,1028.0h4M1238,1028.0h4M1194,1032.0h8M1206,1032.0h4M1242,1032.0h4M1190,1036.0h8M1206,1036.0h4M1242,1036.0h4M1186,1040.0h4M1242,1040.0h4M1182,1044.0h4M1242,1044.0h4M1074,1048.0h60M1138,1048.0h8M1178,1048.0h4M1238,1048.0h4M1014,1052.0h4M1070,1052.0h4M1146,1052.0h4M1238,1052.0h4M1014,1056.0h4M1066,1056.0h8M1154,1056.0h4M1234,1056.0h4M1014,1060.0h4M1066,1060.0h4M1222,1060.0h16M1014,1064.0h8M1066,1064.0h4M1018,1068.0h8M1062,1068.0h4M1026,1072.0h8M1058,1072.0h4M1038,1076.0h20M1210,1088.0h4M1214,1092.0h4M1122,1096.0h4M1146,1096.0h12M1214,1096.0h4M1114,1100.0h4M1214,1100.0h4M1110,1104.0h4M1214,1104.0h4M1074,1108.0h4M1106,1108.0h4M1198,1108.0h4M1214,1108.0h4M1066,1112.0h4M1098,1112.0h8M1210,1112.0h8M1062,1116.0h4M1098,1116.0h8M1154,1116.0h4M1206,1116.0h12M1058,1120.0h4M1098,1120.0h8M1170,1120.0h4M1210,1120.0h8M1094,1124.0h16M1162,1124.0h4M1210,1124.0h12M1094,1128.0h56M1206,1128.0h4M1218,1128.0h4M1050,1132.0h4M1090,1132.0h4M1222,1132.0h4M1086,1136.0h8M1222,1136.0h4M1086,1140.0h4M1226,1140.0h4M1082,1144.0h12M1226,1144.0h4M1014,1148.0h12M1082,1148.0h12M1226,1148.0h4M1082,1152.0h12M1226,1152.0h4M1014,1156.0h4M1082,1156.0h8M1226,1156.0h4M1034,1160.0h4M1074,1160.0h12M1226,1160.0h4M1050,1164.0h24M1122,1164.0h4M1226,1164.0h4M1118,1168.0h8M1226,1168.0h4M1118,1172.0h8M1222,1172.0h4M1122,1176.0h4M1202,1176.0h4M1218,1176.0h4M1050,1196.0h8M1066,1196.0h8M1038,1200.0h4M1030,1204.0h4M1086,1204.0h4M1022,1208.0h8M1086,1208.0h4M1018,1212.0h12M1078,1212.0h4M1018,1216.0h48M1110,1236.0h4M1106,1240.0h4M1210,1240.0h20M1198,1244.0h40M1102,1248.0h4M1118,1248.0h4M1190,1248.0h8M1218,1248.0h20M1118,1252.0h4M1178,1252.0h4M1222,1252.0h16M1222,1256.0h16M1102,1260.0h4M1118,1260.0h4M1162,1260.0h4M1218,1260.0h16M1102,1264.0h4M1122,1264.0h4M1210,1264.0h16M1106,1268.0h12M1198,1268.0h8M1122,1272.0h4M1146,1276.0h4M1146,1280.0h4M1158,1288.0h4M1098,1292.0h8M1110,1292.0h4M1090,1296.0h4M1122,1308.0h4M1114,1316.0h4M1110,1320.0h4M1110,1324.0h4M1094,1328.0h4M1018,1332.0h20M1050,1332.0h16M1014,1336.0h12M1070,1336.0h4M1014,1340.0h8M1070,1340.0h4M1014,1344.0h4M1066,1344.0h4M1058,1348.0h4M1090,1348.0h4M1054,1352.0h4M1106,1352.0h4M1014,1360.0h4M1014,1364.0h4M1042,1364.0h4M1014,1368.0h4M1042,1368.0h4M1014,1372.0h4M1014,1376.0h4M1046,1376.0h4M1014,1380.0h4M1046,1380.0h4M1014,1384.0h4M1046,1384.0h8M1014,1388.0h4M1046,1388.0h12M1086,1388.0h4M1014,1392.0h8M1046,1392.0h12M1014,1396.0h8M1046,1396.0h12M1014,1400.0h8M1058,1400.0h24M1014,1404.0h12M1058,1404.0h8M1018,1408.0h12M1062,1408.0h4M1018,1412.0h16M1062,1412.0h4M1018,1416.0h16M1062,1416.0h4M1022,1420.0h16M1026,1424.0h12M1030,1428.0h12M1058,1428.0h4M1034,1432.0h8M1058,1432.0h4M1038,1436.0h20M1042,1440.0h12M1130,1448.0h4M1138,1448.0h4M1074,1456.0h12M1130,1456.0h4M1066,1460.0h8M1066,1464.0h4M1062,1468.0h8M1062,1472.0h12M1054,1476.0h12M1050,1480.0h16M1046,1484.0h12M1062,1484.0h8M1042,1488.0h12M1066,1488.0h4M1042,1492.0h8M1042,1496.0h8M1042,1500.0h8M1070,1500.0h4M1042,1504.0h8M1070,1504.0h4M1042,1508.0h8M1070,1508.0h4M1042,1512.0h8M1070,1512.0h4M1046,1516.0h8M1070,1516.0h4M1046,1520.0h28M1050,1524.0h24" stroke="#f4edea"/>
<path d="M1014,936.0h8M1042,936.0h8M1114,936.0h24M1202,936.0h96M1014,940.0h4M1046,940.0h4M1114,940.0h8M1134,940.0h4M1206,940.0h92M1014,944.0h4M1046,944.0h4M1114,944.0h8M1134,944.0h4M1206,944.0h92M1114,948.0h4M1206,948.0h92M1042,952.0h4M1114,952.0h4M1206,952.0h92M1114,956.0h4M1138,956.0h4M1206,956.0h92M1038,960.0h4M1114,960.0h4M1194,960.0h104M1038,964.0h4M1114,964.0h4M1210,964.0h88M1038,968.0h4M1142,968.0h4M1210,968.0h4M1226,968.0h72M1142,972.0h4M1230,972.0h68M1042,976.0h4M1118,976.0h4M1142,976.0h20M1234,976.0h64M1042,980.0h4M1118,980.0h4M1146,980.0h4M1206,980.0h4M1238,980.0h60M1042,984.0h4M1122,984.0h4M1238,984.0h60M1042,988.0h4M1122,988.0h20M1238,988.0h60M1042,992.0h4M1126,992.0h16M1242,992.0h56M1042,996.0h4M1138,996.0h8M1242,996.0h56M1042,1000.0h4M1142,1000.0h4M1242,1000.0h56M1038,1004.0h4M1142,1004.0h4M1198,1004.0h4M1242,1004.0h56M1198,1008.0h4M1238,1008.0h60M1034,1012.0h4M1142,1012.0h4M1238,1012.0h60M1046,1016.0h12M1106,1016.0h12M1142,1016.0h4M1230,1016.0h68M1034,1020.0h8M1066,1020.0h4M1090,1020.0h8M1122,1020.0h4M1138,1020.0h4M1202,1020.0h4M1238,1020.0h60M1202,1024.0h12M1242,1024.0h56M1202,1028.0h8M1242,1028.0h56M1202,1032.0h4M1246,1032.0h52M1198,1036.0h8M1246,1036.0h52M1190,1040.0h20M1246,1040.0h52M1186,1044.0h4M1206,1044.0h4M1246,1044.0h52M1134,1048.0h4M1210,1048.0h4M1242,1048.0h56M1074,1052.0h20M1174,1052.0h4M1242,1052.0h56M1074,1056.0h8M1150,1056.0h4M1166,1056.0h4M1214,1056.0h4M1238,1056.0h60M1070,1060.0h8M1218,1060.0h4M1238,1060.0h60M1070,1064.0h4M1222,1064.0h76M1014,1068.0h4M1066,1068.0h4M1222,1068.0h76M1014,1072.0h12M1062,1072.0h8M1222,1072.0h76M1014,1076.0h24M1058,1076.0h8M1218,1076.0h80M1038,1080.0h24M1214,1080.0h84M1050,1084.0h8M1202,1084.0h96M1198,1088.0h4M1214,1088.0h84M1218,1092.0h80M1118,1096.0h4M1158,1096.0h12M1218,1096.0h80M1174,1100.0h4M1218,1100.0h80M1086,1104.0h8M1106,1104.0h4M1218,1104.0h80M1098,1108.0h8M1218,1108.0h80M1218,1112.0h80M1150,1116.0h4M1174,1116.0h4M1202,1116.0h4M1218,1116.0h80M1206,1120.0h4M1218,1120.0h80M1166,1124.0h4M1206,1124.0h4M1222,1124.0h76M1150,1128.0h8M1222,1128.0h76M1094,1132.0h24M1226,1132.0h72M1046,1136.0h4M1094,1136.0h20M1202,1136.0h4M1226,1136.0h72M1042,1140.0h4M1090,1140.0h20M1230,1140.0h68M1034,1144.0h4M1094,1144.0h16M1230,1144.0h68M1094,1148.0h16M1230,1148.0h68M1094,1152.0h24M1198,1152.0h4M1230,1152.0h68M1090,1156.0h36M1230,1156.0h68M1026,1160.0h8M1086,1160.0h44M1230,1160.0h68M1046,1164.0h4M1074,1164.0h48M1126,1164.0h4M1230,1164.0h68M1070,1168.0h48M1126,1168.0h4M1230,1168.0h68M1102,1172.0h16M1126,1172.0h4M1198,1172.0h4M1226,1172.0h72M1114,1176.0h8M1126,1176.0h4M1222,1176.0h76M1118,1180.0h12M1214,1180.0h84M1118,1184.0h12M1226,1184.0h72M1098,1188.0h4M1226,1188.0h72M1226,1192.0h72M1074,1196.0h4M1226,1196.0h72M1034,1200.0h4M1082,1200.0h8M1226,1200.0h72M1014,1204.0h16M1090,1204.0h4M1222,1204.0h76M1014,1208.0h8M1222,1208.0h76M1014,1212.0h4M1082,1212.0h4M1218,1212.0h80M1014,1216.0h4M1066,1216.0h8M1218,1216.0h80M1014,1220.0h28M1210,1220.0h88M1014,1224.0h20M1206,1224.0h92M1014,1228.0h16M1206,1228.0h92M1014,1232.0h16M1202,1232.0h96M1014,1236.0h16M1114,1236.0h4M1198,1236.0h100M1014,1240.0h12M1194,1240.0h16M1230,1240.0h68M1014,1244.0h12M1118,1244.0h4M1190,1244.0h8M1238,1244.0h60M1014,1248.0h12M1182,1248.0h8M1238,1248.0h60M1014,1252.0h8M1174,1252.0h4M1238,1252.0h60M1014,1256.0h8M1118,1256.0h4M1166,1256.0h4M1238,1256.0h60M1014,1260.0h8M1098,1260.0h4M1234,1260.0h64M1014,1264.0h4M1098,1264.0h4M1226,1264.0h72M1014,1268.0h4M1098,1268.0h8M1150,1268.0h4M1206,1268.0h92M1014,1272.0h4M1098,1272.0h20M1222,1272.0h76M1014,1276.0h4M1098,1276.0h12M1226,1276.0h72M1014,1280.0h4M1098,1280.0h12M1230,1280.0h68M1014,1284.0h4M1094,1284.0h16M1146,1284.0h4M1230,1284.0h68M1014,1288.0h8M1094,1288.0h20M1150,1288.0h4M1162,1288.0h4M1230,1288.0h68M1014,1292.0h8M1094,1292.0h4M1114,1292.0h4M1230,1292.0h68M1014,1296.0h8M1118,1296.0h4M1230,1296.0h68M1014,1300.0h12M1086,1300.0h4M1230,1300.0h68M1014,1304.0h12M1230,1304.0h68M1014,1308.0h12M1230,1308.0h68M1014,1312.0h12M1230,1312.0h68M1014,1316.0h12M1230,1316.0h68M1014,1320.0h16M1226,1320.0h72M1014,1324.0h16M1226,1324.0h72M1014,1328.0h24M1222,1328.0h76M1014,1332.0h4M1066,1332.0h4M1090,1332.0h4M1222,1332.0h76M1218,1336.0h80M1086,1340.0h4M1214,1340.0h84M1086,1344.0h4M1214,1344.0h84M1062,1348.0h4M1110,1348.0h4M1210,1348.0h88M1094,1352.0h4M1206,1352.0h92M1050,1356.0h4M1202,1356.0h96M1046,1360.0h4M1202,1360.0h96M1046,1364.0h4M1198,1364.0h100M1046,1368.0h4M1198,1368.0h100M1046,1372.0h4M1198,1372.0h100M1050,1376.0h4M1198,1376.0h100M1050,1380.0h4M1198,1380.0h100M1054,1384.0h16M1198,1384.0h100M1198,1388.0h100M1198,1392.0h100M1086,1396.0h4M1198,1396.0h100M1202,1400.0h96M1066,1404.0h8M1202,1404.0h96M1014,1408.0h4M1066,1408.0h4M1198,1408.0h100M1014,1412.0h4M1198,1412.0h100M1014,1416.0h4M1198,1416.0h100M1014,1420.0h8M1062,1420.0h4M1198,1420.0h100M1014,1424.0h12M1062,1424.0h4M1198,1424.0h100M1014,1428.0h16M1062,1428.0h4M1198,1428.0h100M1014,1432.0h20M1194,1432.0h104M1014,1436.0h24M1058,1436.0h4M1194,1436.0h104M1014,1440.0h28M1054,1440.0h8M1194,1440.0h104M1014,1444.0h48M1190,1444.0h108M1014,1448.0h52M1190,1448.0h108M1014,1452.0h56M1186,1452.0h112M1014,1456.0h60M1086,1456.0h4M1186,1456.0h112M1014,1460.0h52M1134,1460.0h8M1186,1460.0h112M1014,1464.0h52M1186,1464.0h112M1014,1468.0h48M1186,1468.0h112M1014,1472.0h48M1190,1472.0h108M1014,1476.0h40M1066,1476.0h20M1194,1476.0h104M1014,1480.0h36M1066,1480.0h8M1194,1480.0h104M1014,1484.0h32M1198,1484.0h100M1014,1488.0h28M1198,1488.0h100M1014,1492.0h28M1070,1492.0h4M1198,1492.0h100M1014,1496.0h28M1070,1496.0h4M1198,1496.0h100M1014,1500.0h28M1198,1500.0h100M1014,1504.0h28M1194,1504.0h104M1014,1508.0h28M1194,1508.0h104M1014,1512.0h28M1074,1512.0h4M1186,1512.0h112M1014,1516.0h32M1074,1516.0h4M1182,1516.0h116M1014,1520.0h32M1074,1520.0h8M1174,1520.0h124M1014,1524.0h36M1074,1524.0h12M1162,1524.0h136" stroke="#f1e4df"/>
<path d="M1050,936.0h16M1106,936.0h8M1138,936.0h4M1198,936.0h4M1050,940.0h4M1110,940.0h4M1138,940.0h4M1198,940.0h8M1110,944.0h4M1138,944.0h4M1202,944.0h4M1046,948.0h4M1138,948.0h4M1202,948.0h4M1138,952.0h4M1202,952.0h4M1042,956.0h4M1198,956.0h8M1142,964.0h4M1182,964.0h4M1114,968.0h4M1174,968.0h4M1214,968.0h12M1042,972.0h4M1114,972.0h4M1146,972.0h4M1166,972.0h4M1210,972.0h4M1226,972.0h4M1114,976.0h4M1230,976.0h4M1046,980.0h4M1234,980.0h4M1046,984.0h4M1118,984.0h4M1234,984.0h4M1046,988.0h4M1118,988.0h4M1046,992.0h4M1118,992.0h8M1202,992.0h4M1238,992.0h4M1046,996.0h4M1118,996.0h20M1238,996.0h4M1134,1000.0h8M1238,1000.0h4M1042,1004.0h4M1238,1004.0h4M1038,1008.0h8M1142,1008.0h4M1234,1008.0h4M1038,1012.0h16M1106,1012.0h12M1234,1012.0h4M1034,1016.0h12M1058,1016.0h4M1098,1016.0h8M1118,1016.0h4M1138,1016.0h4M1202,1016.0h4M1226,1016.0h4M1070,1020.0h20M1126,1020.0h12M1206,1020.0h12M1190,1044.0h16M1182,1048.0h4M1206,1048.0h4M1094,1052.0h16M1142,1052.0h4M1210,1052.0h4M1082,1056.0h8M1078,1060.0h4M1074,1064.0h4M1218,1064.0h4M1070,1068.0h4M1218,1068.0h4M1070,1072.0h4M1214,1072.0h8M1066,1076.0h4M1210,1076.0h8M1014,1080.0h24M1062,1080.0h4M1206,1080.0h8M1014,1084.0h4M1042,1084.0h8M1058,1084.0h8M1050,1088.0h12M1054,1092.0h8M1122,1092.0h20M1170,1096.0h4M1194,1096.0h4M1110,1100.0h4M1194,1100.0h4M1082,1104.0h4M1094,1104.0h4M1102,1104.0h4M1066,1108.0h8M1062,1112.0h4M1058,1116.0h4M1174,1120.0h4M1054,1124.0h4M1170,1124.0h4M1158,1128.0h4M1118,1132.0h16M1202,1132.0h4M1114,1136.0h4M1110,1140.0h8M1014,1144.0h4M1110,1144.0h8M1110,1148.0h12M1198,1148.0h4M1118,1152.0h8M1126,1156.0h4M1014,1160.0h12M1130,1160.0h4M1042,1164.0h4M1130,1164.0h4M1062,1168.0h8M1130,1168.0h4M1070,1172.0h32M1130,1172.0h4M1102,1176.0h12M1130,1176.0h4M1110,1180.0h8M1130,1180.0h4M1210,1180.0h4M1114,1184.0h4M1130,1184.0h4M1218,1184.0h8M1102,1188.0h4M1114,1188.0h16M1222,1188.0h4M1098,1192.0h4M1118,1192.0h12M1222,1192.0h4M1046,1196.0h4M1078,1196.0h4M1118,1196.0h8M1222,1196.0h4M1030,1200.0h4M1090,1200.0h4M1222,1200.0h4M1094,1204.0h4M1218,1204.0h4M1090,1208.0h4M1218,1208.0h4M1086,1212.0h4M1214,1212.0h4M1074,1216.0h4M1206,1216.0h12M1042,1220.0h8M1202,1220.0h8M1034,1224.0h8M1198,1224.0h8M1030,1228.0h8M1194,1228.0h12M1030,1232.0h4M1194,1232.0h8M1030,1236.0h4M1190,1236.0h8M1026,1240.0h8M1186,1240.0h8M1026,1244.0h4M1102,1244.0h4M1182,1244.0h8M1026,1248.0h4M1178,1248.0h4M1022,1252.0h8M1170,1252.0h4M1022,1256.0h4M1098,1256.0h4M1022,1260.0h4M1018,1264.0h8M1094,1264.0h4M1154,1264.0h4M1018,1268.0h8M1094,1268.0h4M1018,1272.0h8M1090,1272.0h8M1214,1272.0h8M1018,1276.0h8M1090,1276.0h8M1110,1276.0h12M1178,1276.0h4M1218,1276.0h8M1018,1280.0h8M1090,1280.0h8M1110,1280.0h4M1222,1280.0h8M1018,1284.0h8M1090,1284.0h4M1110,1284.0h4M1222,1284.0h8M1022,1288.0h4M1090,1288.0h4M1226,1288.0h4M1022,1292.0h8M1090,1292.0h4M1226,1292.0h4M1022,1296.0h8M1086,1296.0h4M1226,1296.0h4M1026,1300.0h4M1122,1300.0h4M1226,1300.0h4M1026,1304.0h4M1082,1304.0h4M1226,1304.0h4M1026,1308.0h4M1082,1308.0h4M1222,1308.0h8M1026,1312.0h4M1086,1312.0h4M1122,1312.0h4M1222,1312.0h8M1026,1316.0h8M1118,1316.0h4M1222,1316.0h8M1030,1320.0h4M1094,1320.0h4M1114,1320.0h4M1222,1320.0h4M1030,1324.0h8M1094,1324.0h4M1218,1324.0h8M1038,1328.0h8M1214,1328.0h8M1070,1332.0h4M1114,1332.0h4M1214,1332.0h8M1074,1336.0h4M1086,1336.0h4M1114,1336.0h4M1210,1336.0h8M1074,1340.0h12M1114,1340.0h4M1206,1340.0h8M1070,1344.0h4M1082,1344.0h4M1202,1344.0h12M1086,1348.0h4M1198,1348.0h12M1058,1352.0h4M1194,1352.0h12M1054,1356.0h4M1098,1356.0h8M1194,1356.0h8M1050,1360.0h4M1194,1360.0h8M1050,1364.0h4M1194,1364.0h4M1050,1368.0h4M1194,1368.0h4M1050,1372.0h4M1194,1372.0h4M1194,1376.0h4M1054,1380.0h4M1194,1380.0h4M1070,1384.0h4M1194,1384.0h4M1090,1388.0h4M1194,1388.0h4M1090,1392.0h4M1194,1392.0h4M1194,1396.0h4M1082,1400.0h4M1194,1400.0h8M1074,1404.0h8M1194,1404.0h8M1070,1408.0h4M1194,1408.0h4M1066,1412.0h8M1194,1412.0h4M1066,1416.0h4M1194,1416.0h4M1066,1420.0h4M1190,1420.0h8M1066,1424.0h4M1190,1424.0h8M1190,1428.0h8M1062,1432.0h4M1190,1432.0h4M1062,1436.0h4M1186,1436.0h8M1062,1440.0h8M1186,1440.0h8M1062,1444.0h8M1134,1444.0h4M1182,1444.0h8M1066,1448.0h8M1182,1448.0h8M1070,1452.0h12M1142,1452.0h4M1178,1452.0h8M1090,1456.0h4M1142,1456.0h4M1174,1456.0h12M1094,1460.0h4M1174,1460.0h12M1174,1464.0h12M1174,1468.0h12M1094,1472.0h4M1178,1472.0h12M1086,1476.0h4M1186,1476.0h8M1074,1480.0h4M1186,1480.0h8M1070,1484.0h4M1190,1484.0h8M1070,1488.0h4M1190,1488.0h8M1194,1492.0h4M1190,1496.0h8M1190,1500.0h8M1186,1504.0h8M1074,1508.0h4M1182,1508.0h12M1178,1512.0h8M1078,1516.0h4M1170,1516.0h12M1082,1520.0h4M1158,1520.0h16M1086,1524.0h16M1126,1524.0h36" stroke="#eedbd4"/>
<path d="M1066,936.0h16M1098,936.0h8M1142,936.0h4M1194,936.0h4M1054,940.0h8M1106,940.0h4M1194,940.0h4M1050,944.0h4M1106,944.0h4M1198,944.0h4M1110,948.0h4M1198,948.0h4M1046,952.0h4M1110,952.0h4M1198,952.0h4M1110,956.0h4M1194,956.0h4M1042,960.0h4M1110,960.0h4M1142,960.0h4M1190,960.0h4M1042,964.0h4M1110,964.0h4M1042,968.0h4M1110,968.0h4M1146,968.0h4M1150,972.0h16M1214,972.0h12M1046,976.0h4M1210,976.0h4M1226,976.0h4M1114,980.0h4M1230,980.0h4M1114,984.0h4M1206,984.0h4M1050,988.0h4M1114,988.0h4M1234,988.0h4M1114,992.0h4M1234,992.0h4M1114,996.0h4M1234,996.0h4M1046,1000.0h4M1110,1000.0h24M1234,1000.0h4M1046,1004.0h4M1110,1004.0h20M1134,1004.0h8M1234,1004.0h4M1046,1008.0h8M1106,1008.0h16M1138,1008.0h4M1054,1012.0h4M1102,1012.0h4M1118,1012.0h8M1138,1012.0h4M1202,1012.0h4M1230,1012.0h4M1062,1016.0h4M1094,1016.0h4M1122,1016.0h8M1134,1016.0h4M1206,1016.0h4M1222,1016.0h4M1186,1048.0h8M1202,1048.0h4M1110,1052.0h32M1178,1052.0h4M1090,1056.0h8M1146,1056.0h4M1170,1056.0h4M1210,1056.0h4M1082,1060.0h8M1154,1060.0h8M1214,1060.0h4M1078,1064.0h4M1214,1064.0h4M1074,1068.0h4M1214,1068.0h4M1074,1072.0h4M1210,1072.0h4M1070,1076.0h4M1066,1080.0h4M1202,1080.0h4M1018,1084.0h24M1066,1084.0h4M1198,1084.0h4M1014,1088.0h4M1042,1088.0h8M1062,1088.0h4M1050,1092.0h4M1062,1092.0h4M1142,1092.0h8M1194,1092.0h4M1050,1096.0h16M1114,1096.0h4M1174,1096.0h4M1054,1100.0h12M1178,1100.0h4M1058,1104.0h8M1078,1104.0h4M1098,1104.0h4M1178,1104.0h4M1058,1108.0h8M1178,1108.0h4M1058,1112.0h4M1198,1112.0h4M1054,1120.0h4M1202,1120.0h4M1202,1124.0h4M1050,1128.0h4M1162,1128.0h8M1202,1128.0h4M1134,1132.0h16M1118,1136.0h8M1118,1140.0h4M1018,1144.0h4M1026,1144.0h8M1118,1144.0h4M1122,1148.0h4M1126,1152.0h4M1130,1156.0h4M1134,1164.0h4M1058,1168.0h4M1134,1168.0h4M1062,1172.0h8M1134,1172.0h4M1070,1176.0h32M1134,1176.0h4M1198,1176.0h4M1106,1180.0h4M1206,1180.0h4M1110,1184.0h4M1094,1188.0h4M1106,1188.0h8M1130,1188.0h4M1218,1188.0h4M1058,1192.0h12M1102,1192.0h16M1130,1192.0h4M1218,1192.0h4M1042,1196.0h4M1082,1196.0h4M1106,1196.0h12M1126,1196.0h4M1218,1196.0h4M1014,1200.0h16M1094,1200.0h32M1218,1200.0h4M1098,1204.0h16M1094,1208.0h8M1214,1208.0h4M1090,1212.0h4M1206,1212.0h8M1078,1216.0h4M1198,1216.0h8M1050,1220.0h8M1194,1220.0h8M1042,1224.0h4M1194,1224.0h4M1038,1228.0h4M1190,1228.0h4M1034,1232.0h4M1186,1232.0h8M1034,1236.0h4M1106,1236.0h4M1186,1236.0h4M1118,1240.0h4M1182,1240.0h4M1030,1244.0h4M1178,1244.0h4M1030,1248.0h4M1174,1248.0h4M1098,1252.0h4M1026,1256.0h4M1162,1256.0h4M1026,1260.0h4M1094,1260.0h4M1158,1260.0h4M1026,1264.0h4M1090,1264.0h4M1090,1268.0h4M1146,1272.0h4M1186,1272.0h4M1206,1272.0h8M1026,1276.0h4M1086,1276.0h4M1214,1276.0h4M1026,1280.0h4M1086,1280.0h4M1114,1280.0h4M1174,1280.0h4M1218,1280.0h4M1026,1284.0h4M1086,1284.0h4M1114,1284.0h4M1170,1284.0h4M1218,1284.0h4M1026,1288.0h4M1086,1288.0h4M1114,1288.0h4M1222,1288.0h4M1086,1292.0h4M1222,1292.0h4M1030,1296.0h4M1222,1296.0h4M1030,1300.0h4M1082,1300.0h4M1222,1300.0h4M1030,1304.0h4M1222,1304.0h4M1030,1308.0h4M1218,1308.0h4M1030,1312.0h4M1218,1312.0h4M1034,1316.0h4M1090,1316.0h4M1218,1316.0h4M1034,1320.0h4M1214,1320.0h8M1038,1324.0h4M1114,1324.0h4M1214,1324.0h4M1046,1328.0h4M1114,1328.0h4M1210,1328.0h4M1206,1332.0h8M1078,1336.0h8M1202,1336.0h8M1198,1340.0h8M1074,1344.0h8M1114,1344.0h4M1194,1344.0h8M1066,1348.0h4M1190,1348.0h8M1062,1352.0h4M1090,1352.0h4M1110,1352.0h4M1190,1352.0h4M1106,1356.0h4M1190,1356.0h4M1054,1360.0h4M1190,1360.0h4M1054,1364.0h4M1190,1364.0h4M1054,1368.0h4M1190,1368.0h4M1054,1372.0h4M1190,1372.0h4M1054,1376.0h4M1190,1376.0h4M1058,1380.0h4M1190,1380.0h4M1074,1384.0h8M1190,1384.0h4M1190,1388.0h4M1190,1392.0h4M1090,1396.0h4M1190,1396.0h4M1086,1400.0h4M1190,1400.0h4M1190,1404.0h4M1074,1408.0h4M1190,1408.0h4M1074,1412.0h4M1190,1412.0h4M1070,1416.0h4M1190,1416.0h4M1070,1420.0h4M1186,1420.0h4M1186,1424.0h4M1066,1428.0h4M1186,1428.0h4M1066,1432.0h4M1182,1432.0h8M1066,1436.0h4M1182,1436.0h4M1070,1440.0h4M1182,1440.0h4M1070,1444.0h8M1130,1444.0h4M1138,1444.0h4M1178,1444.0h4M1074,1448.0h8M1126,1448.0h4M1142,1448.0h4M1174,1448.0h8M1082,1452.0h8M1126,1452.0h4M1170,1452.0h8M1166,1456.0h8M1130,1460.0h4M1142,1460.0h4M1166,1460.0h8M1098,1464.0h4M1166,1464.0h8M1170,1468.0h4M1174,1472.0h4M1090,1476.0h4M1178,1476.0h8M1078,1480.0h4M1182,1480.0h4M1074,1484.0h4M1186,1484.0h4M1186,1488.0h4M1190,1492.0h4M1186,1496.0h4M1074,1500.0h4M1186,1500.0h4M1074,1504.0h4M1182,1504.0h4M1178,1508.0h4M1078,1512.0h4M1170,1512.0h8M1082,1516.0h4M1162,1516.0h8M1086,1520.0h8M1142,1520.0h16M1102,1524.0h24" stroke="#ecd2c9"/>
<path d="M1082,936.0h16M1146,936.0h4M1190,936.0h4M1062,940.0h20M1102,940.0h4M1142,940.0h4M1054,944.0h4M1142,944.0h4M1194,944.0h4M1050,948.0h4M1106,948.0h4M1194,948.0h4M1142,952.0h4M1194,952.0h4M1046,956.0h4M1142,956.0h4M1146,964.0h4M1150,968.0h4M1046,972.0h4M1110,972.0h4M1050,976.0h4M1110,976.0h4M1222,976.0h4M1050,980.0h4M1110,980.0h4M1226,980.0h4M1050,984.0h4M1110,984.0h4M1230,984.0h4M1110,988.0h4M1050,992.0h4M1110,992.0h4M1050,996.0h4M1110,996.0h4M1202,996.0h4M1050,1000.0h4M1106,1000.0h4M1050,1004.0h4M1106,1004.0h4M1130,1004.0h4M1054,1008.0h4M1102,1008.0h4M1122,1008.0h16M1202,1008.0h4M1230,1008.0h4M1058,1012.0h4M1098,1012.0h4M1126,1012.0h12M1226,1012.0h4M1066,1016.0h4M1086,1016.0h8M1130,1016.0h4M1218,1016.0h4M1194,1048.0h8M1206,1052.0h4M1098,1056.0h4M1142,1056.0h4M1090,1060.0h4M1150,1060.0h4M1162,1060.0h4M1210,1060.0h4M1082,1064.0h4M1210,1064.0h4M1078,1068.0h4M1210,1068.0h4M1206,1076.0h4M1070,1080.0h4M1018,1088.0h4M1038,1088.0h4M1066,1088.0h4M1126,1088.0h12M1194,1088.0h4M1014,1092.0h4M1046,1092.0h4M1066,1092.0h4M1118,1092.0h4M1150,1092.0h4M1178,1096.0h4M1050,1100.0h4M1066,1100.0h4M1106,1100.0h4M1054,1104.0h4M1066,1104.0h12M1194,1104.0h4M1054,1108.0h4M1054,1112.0h4M1178,1112.0h4M1054,1116.0h4M1174,1124.0h4M1170,1128.0h4M1150,1132.0h8M1126,1136.0h12M1038,1140.0h4M1122,1140.0h8M1022,1144.0h4M1122,1144.0h8M1198,1144.0h4M1126,1148.0h8M1130,1152.0h4M1134,1156.0h4M1134,1160.0h4M1014,1164.0h4M1038,1164.0h4M1194,1164.0h4M1054,1168.0h4M1194,1168.0h4M1058,1172.0h4M1062,1176.0h8M1098,1180.0h8M1134,1180.0h4M1202,1180.0h4M1102,1184.0h8M1134,1184.0h4M1214,1184.0h4M1134,1188.0h4M1054,1192.0h4M1070,1192.0h8M1094,1192.0h4M1134,1192.0h4M1086,1196.0h20M1130,1196.0h4M1126,1200.0h8M1114,1204.0h16M1214,1204.0h4M1102,1208.0h12M1210,1208.0h4M1094,1212.0h4M1198,1212.0h8M1082,1216.0h4M1194,1216.0h4M1058,1220.0h12M1190,1220.0h4M1046,1224.0h4M1186,1224.0h8M1042,1228.0h4M1186,1228.0h4M1038,1232.0h4M1110,1232.0h8M1182,1232.0h4M1178,1236.0h8M1034,1240.0h4M1178,1240.0h4M1034,1244.0h4M1174,1244.0h4M1098,1248.0h4M1170,1248.0h4M1030,1252.0h4M1166,1252.0h4M1030,1256.0h4M1094,1256.0h4M1090,1260.0h4M1122,1260.0h4M1026,1268.0h4M1086,1268.0h4M1026,1272.0h4M1086,1272.0h4M1198,1272.0h8M1210,1276.0h4M1214,1280.0h4M1030,1284.0h4M1030,1288.0h4M1146,1288.0h4M1166,1288.0h4M1218,1288.0h4M1030,1292.0h4M1118,1292.0h4M1154,1292.0h4M1218,1292.0h4M1082,1296.0h4M1218,1296.0h4M1218,1300.0h4M1034,1304.0h4M1218,1304.0h4M1034,1308.0h4M1034,1312.0h4M1082,1312.0h4M1214,1312.0h4M1214,1316.0h4M1038,1320.0h4M1210,1324.0h4M1050,1328.0h20M1206,1328.0h4M1074,1332.0h4M1202,1332.0h4M1198,1336.0h4M1194,1340.0h4M1190,1344.0h4M1070,1348.0h8M1082,1348.0h4M1114,1348.0h4M1186,1348.0h4M1186,1352.0h4M1058,1356.0h4M1094,1356.0h4M1186,1356.0h4M1102,1360.0h4M1186,1360.0h4M1186,1364.0h4M1186,1368.0h4M1186,1372.0h4M1058,1376.0h4M1186,1376.0h4M1062,1380.0h4M1186,1380.0h4M1082,1384.0h8M1186,1384.0h4M1094,1388.0h4M1186,1388.0h4M1094,1392.0h4M1186,1392.0h4M1186,1396.0h4M1186,1400.0h4M1082,1404.0h4M1186,1404.0h4M1078,1408.0h4M1186,1408.0h4M1078,1412.0h4M1186,1412.0h4M1074,1416.0h4M1186,1416.0h4M1074,1420.0h4M1070,1424.0h4M1182,1424.0h4M1070,1428.0h4M1182,1428.0h4M1070,1432.0h4M1070,1436.0h4M1178,1436.0h4M1074,1440.0h4M1178,1440.0h4M1078,1444.0h4M1174,1444.0h4M1082,1448.0h4M1170,1448.0h4M1146,1452.0h4M1166,1452.0h4M1094,1456.0h4M1126,1456.0h4M1146,1456.0h4M1158,1456.0h8M1146,1460.0h20M1134,1464.0h12M1154,1464.0h12M1098,1468.0h4M1162,1468.0h8M1170,1472.0h4M1174,1476.0h4M1082,1480.0h4M1178,1480.0h4M1182,1484.0h4M1074,1488.0h4M1074,1492.0h4M1186,1492.0h4M1074,1496.0h4M1182,1500.0h4M1178,1504.0h4M1078,1508.0h4M1174,1508.0h4M1166,1512.0h4M1086,1516.0h4M1154,1516.0h8M1094,1520.0h4M1126,1520.0h16" stroke="#e8c8bc"/>
<path d="M1186,936.0h4M1082,940.0h20M1190,940.0h4M1058,944.0h16M1102,944.0h4M1054,948.0h4M1142,948.0h4M1050,952.0h4M1106,952.0h4M1106,956.0h4M1190,956.0h4M1046,960.0h4M1106,960.0h4M1186,960.0h4M1046,964.0h4M1106,964.0h4M1178,964.0h4M1046,968.0h4M1106,968.0h4M1154,968.0h4M1170,968.0h4M1050,972.0h4M1106,972.0h4M1106,976.0h4M1214,976.0h8M1054,980.0h4M1106,980.0h4M1210,980.0h4M1054,984.0h4M1106,984.0h4M1054,988.0h4M1106,988.0h4M1230,988.0h4M1054,992.0h4M1106,992.0h4M1230,992.0h4M1054,996.0h4M1106,996.0h4M1054,1000.0h4M1102,1000.0h4M1202,1000.0h4M1054,1004.0h4M1102,1004.0h4M1202,1004.0h4M1230,1004.0h4M1058,1008.0h4M1098,1008.0h4M1062,1012.0h4M1094,1012.0h4M1206,1012.0h4M1070,1016.0h16M1210,1016.0h8M1182,1052.0h8M1198,1052.0h8M1102,1056.0h8M1138,1056.0h4M1174,1056.0h4M1206,1056.0h4M1094,1060.0h4M1166,1060.0h4M1086,1064.0h4M1082,1068.0h4M1078,1072.0h4M1206,1072.0h4M1074,1076.0h4M1202,1076.0h4M1198,1080.0h4M1070,1084.0h4M1022,1088.0h16M1122,1088.0h4M1138,1088.0h4M1042,1092.0h4M1114,1092.0h4M1154,1092.0h8M1046,1096.0h4M1066,1096.0h4M1110,1096.0h4M1102,1100.0h4M1050,1104.0h4M1178,1116.0h4M1198,1116.0h4M1050,1124.0h4M1046,1132.0h4M1158,1132.0h8M1042,1136.0h4M1138,1136.0h12M1014,1140.0h4M1130,1140.0h8M1198,1140.0h4M1130,1144.0h4M1134,1148.0h4M1134,1152.0h4M1194,1160.0h4M1018,1164.0h4M1034,1164.0h4M1050,1168.0h4M1194,1172.0h4M1062,1180.0h36M1198,1180.0h4M1066,1184.0h8M1098,1184.0h4M1210,1184.0h4M1058,1188.0h16M1214,1188.0h4M1050,1192.0h4M1078,1192.0h4M1014,1196.0h4M1038,1196.0h4M1134,1196.0h4M1214,1196.0h4M1214,1200.0h4M1130,1204.0h4M1210,1204.0h4M1114,1208.0h12M1202,1208.0h8M1098,1212.0h4M1194,1212.0h4M1086,1216.0h4M1190,1216.0h4M1070,1220.0h4M1186,1220.0h4M1050,1224.0h4M1182,1224.0h4M1182,1228.0h4M1042,1232.0h4M1178,1232.0h4M1038,1236.0h4M1118,1236.0h4M1174,1236.0h4M1038,1240.0h4M1102,1240.0h4M1174,1240.0h4M1170,1244.0h4M1034,1248.0h4M1166,1248.0h4M1094,1252.0h4M1030,1260.0h4M1030,1264.0h4M1086,1264.0h4M1030,1268.0h4M1030,1272.0h4M1190,1272.0h8M1030,1276.0h4M1082,1276.0h4M1122,1276.0h4M1030,1280.0h4M1082,1280.0h4M1118,1280.0h4M1082,1284.0h4M1214,1284.0h4M1082,1288.0h4M1214,1288.0h4M1034,1292.0h4M1082,1292.0h4M1150,1292.0h4M1158,1292.0h4M1034,1296.0h4M1034,1300.0h4M1078,1304.0h4M1126,1304.0h4M1214,1304.0h4M1078,1308.0h4M1126,1308.0h4M1214,1308.0h4M1038,1316.0h4M1122,1316.0h4M1210,1316.0h4M1118,1320.0h4M1210,1320.0h4M1042,1324.0h4M1118,1324.0h4M1206,1324.0h4M1070,1328.0h4M1090,1328.0h4M1202,1328.0h4M1086,1332.0h4M1198,1332.0h4M1194,1336.0h4M1190,1340.0h4M1186,1344.0h4M1078,1348.0h4M1066,1352.0h4M1086,1352.0h4M1182,1352.0h4M1062,1356.0h4M1110,1356.0h4M1182,1356.0h4M1058,1360.0h4M1098,1360.0h4M1106,1360.0h4M1182,1360.0h4M1058,1364.0h4M1182,1364.0h4M1058,1368.0h4M1182,1368.0h4M1058,1372.0h4M1182,1372.0h4M1182,1376.0h4M1182,1380.0h4M1090,1384.0h8M1182,1384.0h4M1090,1400.0h4M1086,1404.0h4M1082,1408.0h4M1082,1412.0h4M1182,1412.0h4M1078,1416.0h4M1182,1416.0h4M1078,1420.0h4M1182,1420.0h4M1074,1424.0h4M1074,1428.0h4M1178,1428.0h4M1074,1432.0h4M1178,1432.0h4M1074,1436.0h4M1174,1436.0h4M1078,1440.0h4M1174,1440.0h4M1082,1444.0h4M1170,1444.0h4M1086,1448.0h4M1166,1448.0h4M1090,1452.0h4M1150,1452.0h4M1158,1452.0h8M1150,1456.0h8M1098,1460.0h4M1146,1464.0h8M1154,1468.0h8M1098,1472.0h4M1166,1472.0h4M1094,1476.0h4M1170,1476.0h4M1078,1484.0h4M1178,1484.0h4M1182,1488.0h4M1182,1492.0h4M1182,1496.0h4M1178,1500.0h4M1170,1508.0h4M1082,1512.0h4M1162,1512.0h4M1090,1516.0h4M1146,1516.0h8M1098,1520.0h4M1122,1520.0h4" stroke="#e4bdaf"/>
<path d="M1150,936.0h4M1146,940.0h4M1074,944.0h12M1098,944.0h4M1190,944.0h4M1058,948.0h4M1102,948.0h4M1190,952.0h4M1050,956.0h4M1146,960.0h4M1150,964.0h4M1050,968.0h4M1158,968.0h4M1166,968.0h4M1054,972.0h4M1054,976.0h4M1058,980.0h4M1222,980.0h4M1058,984.0h4M1226,984.0h4M1058,988.0h4M1102,988.0h4M1206,988.0h4M1058,992.0h4M1102,992.0h4M1058,996.0h4M1102,996.0h4M1230,996.0h4M1058,1000.0h4M1230,1000.0h4M1058,1004.0h4M1098,1004.0h4M1094,1008.0h4M1226,1008.0h4M1066,1012.0h4M1090,1012.0h4M1222,1012.0h4M1190,1052.0h8M1110,1056.0h28M1202,1056.0h4M1098,1060.0h4M1146,1060.0h4M1206,1060.0h4M1090,1064.0h4M1206,1064.0h4M1206,1068.0h4M1074,1080.0h4M1194,1084.0h4M1070,1088.0h4M1118,1088.0h4M1142,1088.0h4M1018,1092.0h4M1038,1092.0h4M1070,1092.0h4M1162,1092.0h16M1014,1096.0h4M1070,1096.0h4M1190,1096.0h4M1046,1100.0h4M1070,1100.0h4M1098,1100.0h4M1182,1100.0h4M1050,1108.0h4M1194,1108.0h4M1050,1112.0h4M1050,1116.0h4M1050,1120.0h4M1198,1120.0h4M1174,1128.0h4M1166,1132.0h4M1014,1136.0h4M1150,1136.0h4M1198,1136.0h4M1018,1140.0h4M1034,1140.0h4M1138,1140.0h8M1134,1144.0h8M1138,1148.0h4M1138,1152.0h4M1138,1156.0h4M1194,1156.0h4M1138,1160.0h4M1022,1164.0h12M1138,1164.0h4M1046,1168.0h4M1138,1168.0h4M1054,1172.0h4M1138,1172.0h4M1058,1176.0h4M1138,1176.0h4M1194,1176.0h4M1058,1180.0h4M1138,1180.0h4M1058,1184.0h8M1074,1184.0h8M1094,1184.0h4M1138,1184.0h4M1206,1184.0h4M1054,1188.0h4M1074,1188.0h4M1090,1188.0h4M1138,1188.0h4M1046,1192.0h4M1082,1192.0h12M1138,1192.0h4M1214,1192.0h4M1018,1196.0h8M1030,1196.0h8M1134,1200.0h4M1134,1204.0h4M1126,1208.0h8M1194,1208.0h8M1102,1212.0h24M1190,1212.0h4M1090,1216.0h4M1186,1216.0h4M1074,1220.0h4M1182,1220.0h4M1054,1224.0h4M1178,1224.0h4M1046,1228.0h4M1114,1228.0h4M1178,1228.0h4M1118,1232.0h4M1174,1232.0h4M1042,1236.0h4M1170,1236.0h4M1170,1240.0h4M1166,1244.0h4M1034,1252.0h4M1162,1252.0h4M1090,1256.0h4M1122,1256.0h4M1158,1256.0h4M1086,1260.0h4M1154,1260.0h4M1150,1264.0h4M1082,1268.0h4M1146,1268.0h4M1082,1272.0h4M1206,1276.0h4M1210,1280.0h4M1034,1284.0h4M1118,1284.0h4M1034,1288.0h4M1118,1288.0h4M1162,1292.0h4M1214,1292.0h4M1122,1296.0h4M1214,1296.0h4M1078,1300.0h4M1214,1300.0h4M1038,1308.0h4M1038,1312.0h4M1078,1312.0h4M1210,1312.0h4M1086,1316.0h4M1042,1320.0h4M1090,1320.0h4M1206,1320.0h4M1046,1324.0h4M1202,1324.0h4M1118,1328.0h4M1198,1328.0h4M1078,1332.0h8M1118,1332.0h4M1194,1332.0h4M1118,1336.0h4M1186,1336.0h8M1118,1340.0h4M1186,1340.0h4M1182,1344.0h4M1182,1348.0h4M1070,1352.0h4M1114,1352.0h4M1090,1356.0h4M1094,1360.0h4M1110,1360.0h4M1098,1364.0h12M1062,1376.0h4M1066,1380.0h4M1098,1388.0h4M1182,1388.0h4M1182,1392.0h4M1094,1396.0h4M1182,1396.0h4M1182,1400.0h4M1182,1404.0h4M1086,1408.0h4M1182,1408.0h4M1082,1416.0h4M1178,1420.0h4M1078,1424.0h4M1178,1424.0h4M1078,1428.0h4M1078,1432.0h4M1174,1432.0h4M1078,1436.0h4M1082,1440.0h4M1170,1440.0h4M1086,1444.0h4M1126,1444.0h4M1142,1444.0h4M1166,1444.0h4M1090,1448.0h4M1146,1448.0h4M1158,1448.0h8M1094,1452.0h4M1154,1452.0h4M1098,1456.0h4M1126,1460.0h4M1130,1464.0h4M1142,1468.0h12M1158,1472.0h8M1086,1480.0h4M1174,1480.0h4M1078,1488.0h4M1178,1488.0h4M1178,1496.0h4M1078,1504.0h4M1174,1504.0h4M1082,1508.0h4M1166,1508.0h4M1086,1512.0h4M1158,1512.0h4M1094,1516.0h4M1134,1516.0h12M1102,1520.0h4M1118,1520.0h4" stroke="#e1b2a1"/>
<path d="M1154,936.0h4M1182,936.0h4M1186,940.0h4M1086,944.0h12M1146,944.0h4M1062,948.0h16M1098,948.0h4M1146,948.0h4M1190,948.0h4M1054,952.0h4M1102,952.0h4M1102,956.0h4M1146,956.0h4M1050,960.0h4M1102,960.0h4M1182,960.0h4M1050,964.0h4M1054,968.0h4M1102,968.0h4M1162,968.0h4M1102,972.0h4M1058,976.0h4M1102,976.0h4M1102,980.0h4M1214,980.0h8M1102,984.0h4M1098,996.0h4M1098,1000.0h4M1062,1004.0h4M1094,1004.0h4M1062,1008.0h4M1206,1008.0h4M1070,1012.0h4M1082,1012.0h8M1210,1012.0h4M1178,1056.0h4M1102,1060.0h4M1142,1060.0h4M1150,1064.0h12M1086,1068.0h4M1082,1072.0h4M1202,1072.0h4M1078,1076.0h4M1126,1084.0h12M1146,1088.0h4M1190,1088.0h4M1022,1092.0h4M1034,1092.0h4M1178,1092.0h4M1190,1092.0h4M1042,1096.0h4M1106,1096.0h4M1182,1096.0h4M1014,1100.0h4M1074,1100.0h4M1190,1100.0h4M1046,1104.0h4M1182,1104.0h4M1182,1108.0h4M1178,1120.0h4M1198,1124.0h4M1046,1128.0h4M1198,1128.0h4M1170,1132.0h4M1198,1132.0h4M1154,1136.0h4M1022,1140.0h4M1146,1140.0h4M1142,1144.0h4M1142,1148.0h4M1194,1152.0h4M1014,1168.0h4M1042,1168.0h4M1050,1172.0h4M1054,1176.0h4M1194,1180.0h4M1082,1184.0h12M1202,1184.0h4M1078,1188.0h12M1210,1188.0h4M1014,1192.0h4M1026,1196.0h4M1138,1196.0h4M1138,1200.0h4M1210,1200.0h4M1194,1204.0h16M1134,1208.0h4M1190,1208.0h4M1126,1212.0h4M1186,1212.0h4M1094,1216.0h4M1110,1216.0h16M1182,1216.0h4M1078,1220.0h4M1178,1220.0h4M1058,1224.0h8M1114,1224.0h4M1174,1224.0h4M1050,1228.0h4M1110,1228.0h4M1174,1228.0h4M1046,1232.0h4M1106,1232.0h4M1170,1232.0h4M1166,1240.0h4M1038,1244.0h4M1098,1244.0h4M1034,1256.0h4M1082,1264.0h4M1126,1268.0h4M1034,1276.0h4M1034,1280.0h4M1210,1284.0h4M1078,1292.0h4M1078,1296.0h4M1038,1300.0h4M1038,1304.0h4M1210,1308.0h4M1126,1312.0h4M1042,1316.0h4M1206,1316.0h4M1122,1320.0h4M1066,1324.0h8M1090,1324.0h4M1074,1328.0h4M1194,1328.0h4M1190,1332.0h4M1182,1336.0h4M1182,1340.0h4M1118,1344.0h4M1178,1348.0h4M1074,1352.0h12M1178,1352.0h4M1066,1356.0h4M1114,1356.0h4M1178,1356.0h4M1062,1360.0h4M1178,1360.0h4M1110,1364.0h4M1178,1364.0h4M1098,1368.0h12M1178,1368.0h4M1102,1372.0h4M1178,1372.0h4M1094,1380.0h8M1098,1384.0h4M1098,1392.0h4M1094,1400.0h4M1090,1404.0h4M1086,1412.0h4M1178,1412.0h4M1178,1416.0h4M1082,1420.0h4M1082,1424.0h4M1174,1428.0h4M1082,1436.0h4M1170,1436.0h4M1134,1440.0h4M1166,1440.0h4M1090,1444.0h4M1162,1444.0h4M1094,1448.0h4M1122,1448.0h4M1150,1448.0h8M1122,1452.0h4M1122,1456.0h4M1102,1464.0h4M1134,1468.0h8M1154,1472.0h4M1166,1476.0h4M1090,1480.0h4M1170,1480.0h4M1082,1484.0h4M1174,1484.0h4M1078,1492.0h4M1178,1492.0h4M1078,1496.0h4M1078,1500.0h4M1174,1500.0h4M1170,1504.0h4M1090,1512.0h4M1154,1512.0h4M1130,1516.0h4M1106,1520.0h4" stroke="#dda794"/>
<path d="M1178,936.0h4M1150,940.0h4M1186,944.0h4M1078,948.0h8M1058,952.0h8M1146,952.0h4M1054,956.0h4M1186,956.0h4M1054,960.0h4M1150,960.0h4M1054,964.0h4M1102,964.0h4M1154,964.0h4M1174,964.0h4M1058,972.0h4M1062,976.0h4M1062,980.0h4M1098,980.0h4M1062,984.0h4M1098,984.0h4M1210,984.0h4M1062,988.0h4M1098,988.0h4M1226,988.0h4M1062,992.0h4M1098,992.0h4M1206,992.0h4M1062,996.0h4M1062,1000.0h4M1094,1000.0h4M1226,1004.0h4M1066,1008.0h4M1090,1008.0h4M1074,1012.0h8M1214,1012.0h8M1198,1056.0h4M1106,1060.0h4M1138,1060.0h4M1170,1060.0h4M1202,1060.0h4M1094,1064.0h4M1146,1064.0h4M1202,1068.0h4M1198,1076.0h4M1074,1084.0h4M1122,1084.0h4M1138,1084.0h4M1150,1088.0h4M1026,1092.0h8M1110,1092.0h4M1182,1092.0h8M1018,1096.0h4M1038,1096.0h4M1186,1096.0h4M1042,1100.0h4M1078,1100.0h4M1094,1100.0h4M1186,1100.0h4M1190,1104.0h4M1194,1112.0h4M1178,1124.0h4M1014,1132.0h4M1174,1132.0h4M1038,1136.0h4M1158,1136.0h8M1026,1140.0h8M1150,1140.0h4M1146,1144.0h4M1194,1148.0h4M1142,1152.0h4M1142,1156.0h4M1142,1160.0h4M1142,1164.0h4M1018,1168.0h4M1054,1180.0h4M1054,1184.0h4M1198,1184.0h4M1050,1188.0h4M1042,1192.0h4M1210,1192.0h4M1210,1196.0h4M1194,1200.0h4M1206,1200.0h4M1138,1204.0h4M1190,1204.0h4M1186,1208.0h4M1130,1212.0h4M1182,1212.0h4M1098,1216.0h12M1126,1216.0h4M1082,1220.0h4M1110,1220.0h16M1066,1224.0h4M1110,1224.0h4M1118,1224.0h4M1118,1228.0h4M1170,1228.0h4M1166,1232.0h4M1102,1236.0h4M1166,1236.0h4M1042,1240.0h4M1038,1248.0h4M1094,1248.0h4M1162,1248.0h4M1090,1252.0h4M1122,1252.0h4M1086,1256.0h4M1034,1260.0h4M1034,1264.0h4M1126,1264.0h4M1034,1268.0h4M1034,1272.0h4M1078,1272.0h4M1078,1276.0h4M1142,1276.0h4M1202,1276.0h4M1078,1280.0h4M1142,1280.0h4M1206,1280.0h4M1078,1284.0h4M1078,1288.0h4M1210,1288.0h4M1038,1292.0h4M1146,1292.0h4M1210,1292.0h4M1038,1296.0h4M1210,1296.0h4M1210,1300.0h4M1210,1304.0h4M1074,1308.0h4M1042,1312.0h4M1074,1312.0h4M1082,1316.0h4M1046,1320.0h4M1202,1320.0h4M1050,1324.0h4M1062,1324.0h4M1122,1324.0h4M1198,1324.0h4M1086,1328.0h4M1190,1328.0h4M1186,1332.0h4M1178,1340.0h4M1178,1344.0h4M1118,1348.0h4M1086,1356.0h4M1114,1360.0h4M1062,1364.0h4M1094,1364.0h4M1110,1368.0h4M1062,1372.0h4M1098,1372.0h4M1106,1372.0h4M1098,1376.0h12M1178,1376.0h4M1070,1380.0h4M1090,1380.0h4M1102,1380.0h4M1178,1380.0h4M1102,1384.0h4M1178,1384.0h4M1178,1388.0h4M1178,1392.0h4M1098,1396.0h4M1178,1396.0h4M1178,1400.0h4M1178,1404.0h4M1090,1408.0h4M1178,1408.0h4M1090,1412.0h4M1086,1416.0h4M1086,1420.0h4M1174,1424.0h4M1082,1428.0h4M1082,1432.0h4M1170,1432.0h4M1166,1436.0h4M1086,1440.0h4M1130,1440.0h4M1138,1440.0h4M1162,1440.0h4M1122,1444.0h4M1146,1444.0h4M1158,1444.0h4M1098,1448.0h4M1098,1452.0h4M1102,1460.0h4M1126,1464.0h4M1102,1468.0h4M1130,1468.0h4M1150,1472.0h4M1098,1476.0h4M1162,1476.0h4M1086,1484.0h4M1174,1488.0h4M1174,1496.0h4M1082,1504.0h4M1086,1508.0h4M1162,1508.0h4M1150,1512.0h4M1126,1516.0h4M1110,1520.0h8" stroke="#da9d89"/>
<path d="M1158,936.0h4M1182,940.0h4M1086,948.0h12M1186,948.0h4M1066,952.0h16M1098,952.0h4M1186,952.0h4M1058,956.0h4M1098,956.0h4M1058,964.0h4M1058,968.0h4M1098,968.0h4M1062,972.0h4M1098,972.0h4M1066,976.0h4M1098,976.0h4M1066,980.0h4M1066,984.0h4M1222,984.0h4M1066,988.0h4M1066,992.0h4M1094,992.0h4M1226,992.0h4M1066,996.0h4M1094,996.0h4M1066,1000.0h4M1226,1000.0h4M1066,1004.0h4M1090,1004.0h4M1206,1004.0h4M1070,1008.0h20M1222,1008.0h4M1182,1056.0h16M1110,1060.0h28M1142,1064.0h4M1162,1064.0h4M1202,1064.0h4M1078,1080.0h4M1126,1080.0h8M1194,1080.0h4M1118,1084.0h4M1142,1084.0h4M1190,1084.0h4M1074,1088.0h4M1114,1088.0h4M1154,1088.0h4M1186,1088.0h4M1074,1092.0h4M1022,1096.0h4M1074,1096.0h4M1082,1100.0h4M1090,1100.0h4M1014,1104.0h4M1186,1104.0h4M1046,1108.0h4M1182,1112.0h4M1046,1124.0h4M1042,1132.0h4M1018,1136.0h4M1166,1136.0h8M1154,1140.0h4M1150,1144.0h4M1146,1148.0h4M1190,1164.0h4M1022,1168.0h4M1038,1168.0h4M1142,1168.0h4M1190,1168.0h4M1014,1172.0h4M1046,1172.0h4M1142,1172.0h4M1190,1172.0h4M1050,1176.0h4M1142,1176.0h4M1190,1176.0h4M1142,1180.0h4M1142,1184.0h4M1194,1184.0h4M1142,1188.0h4M1206,1188.0h4M1018,1192.0h4M1142,1192.0h4M1142,1196.0h4M1194,1196.0h4M1142,1200.0h4M1190,1200.0h4M1198,1200.0h8M1142,1204.0h4M1186,1204.0h4M1138,1208.0h4M1134,1212.0h4M1130,1216.0h4M1178,1216.0h4M1086,1220.0h4M1106,1220.0h4M1174,1220.0h4M1070,1224.0h4M1122,1224.0h4M1170,1224.0h4M1054,1228.0h4M1106,1228.0h4M1166,1228.0h4M1050,1232.0h4M1046,1236.0h4M1162,1240.0h4M1162,1244.0h4M1122,1248.0h4M1038,1252.0h4M1158,1252.0h4M1082,1260.0h4M1078,1268.0h4M1142,1272.0h4M1038,1284.0h4M1038,1288.0h4M1166,1292.0h4M1150,1296.0h12M1126,1300.0h4M1074,1304.0h4M1042,1308.0h4M1206,1312.0h4M1074,1316.0h8M1126,1316.0h4M1070,1320.0h4M1086,1320.0h4M1054,1324.0h8M1074,1324.0h4M1194,1324.0h4M1078,1328.0h4M1122,1328.0h4M1186,1328.0h4M1122,1332.0h4M1182,1332.0h4M1178,1336.0h4M1118,1352.0h4M1070,1356.0h4M1118,1356.0h4M1090,1360.0h4M1114,1364.0h4M1062,1368.0h4M1094,1368.0h4M1114,1368.0h4M1110,1372.0h4M1094,1376.0h4M1110,1376.0h4M1086,1380.0h4M1106,1380.0h4M1102,1388.0h4M1094,1404.0h4M1090,1416.0h4M1174,1416.0h4M1174,1420.0h4M1086,1424.0h4M1086,1428.0h4M1170,1428.0h4M1086,1432.0h4M1086,1436.0h4M1090,1440.0h4M1126,1440.0h4M1094,1444.0h8M1150,1444.0h8M1102,1448.0h4M1118,1448.0h4M1102,1452.0h4M1118,1452.0h4M1102,1456.0h4M1122,1460.0h4M1102,1472.0h4M1142,1472.0h8M1158,1476.0h4M1094,1480.0h4M1166,1480.0h4M1170,1484.0h4M1082,1488.0h4M1174,1492.0h4M1170,1500.0h4M1166,1504.0h4M1158,1508.0h4M1142,1512.0h8M1098,1516.0h4" stroke="#d7937d"/>
<path d="M1162,936.0h4M1170,936.0h8M1154,940.0h4M1150,944.0h4M1082,952.0h4M1094,952.0h4M1062,956.0h16M1150,956.0h4M1058,960.0h8M1098,960.0h4M1178,960.0h4M1062,964.0h4M1098,964.0h4M1158,964.0h4M1170,964.0h4M1062,968.0h8M1066,972.0h4M1070,976.0h4M1094,976.0h4M1070,980.0h4M1094,980.0h4M1070,984.0h4M1094,984.0h4M1214,984.0h8M1070,988.0h4M1094,988.0h4M1070,996.0h4M1090,996.0h4M1206,996.0h4M1226,996.0h4M1070,1000.0h4M1090,1000.0h4M1206,1000.0h4M1070,1004.0h8M1082,1004.0h8M1210,1008.0h4M1198,1060.0h4M1098,1064.0h4M1138,1064.0h4M1090,1068.0h4M1146,1068.0h12M1198,1072.0h4M1082,1076.0h4M1122,1080.0h4M1134,1080.0h8M1146,1084.0h4M1178,1088.0h8M1026,1096.0h4M1034,1096.0h4M1102,1096.0h4M1018,1100.0h4M1086,1100.0h4M1042,1104.0h4M1014,1108.0h4M1190,1108.0h4M1046,1112.0h4M1046,1116.0h4M1182,1116.0h4M1194,1116.0h4M1046,1120.0h4M1014,1128.0h4M1178,1128.0h4M1174,1136.0h4M1158,1140.0h4M1194,1144.0h4M1146,1152.0h4M1146,1156.0h4M1190,1156.0h4M1190,1160.0h4M1026,1168.0h12M1050,1180.0h4M1190,1180.0h4M1050,1184.0h4M1190,1184.0h4M1014,1188.0h4M1046,1188.0h4M1194,1188.0h12M1022,1192.0h4M1038,1192.0h4M1190,1192.0h12M1206,1192.0h4M1190,1196.0h4M1198,1196.0h12M1186,1200.0h4M1142,1208.0h4M1182,1208.0h4M1138,1212.0h4M1178,1212.0h4M1174,1216.0h4M1126,1220.0h4M1170,1220.0h4M1074,1224.0h4M1106,1224.0h4M1166,1224.0h4M1058,1228.0h4M1122,1228.0h4M1162,1228.0h4M1122,1232.0h4M1162,1232.0h4M1162,1236.0h4M1122,1240.0h4M1042,1244.0h4M1122,1244.0h4M1038,1256.0h4M1154,1256.0h4M1126,1260.0h4M1150,1260.0h4M1146,1264.0h4M1038,1276.0h4M1038,1280.0h4M1142,1284.0h4M1206,1284.0h4M1170,1288.0h4M1122,1292.0h4M1162,1296.0h4M1074,1300.0h4M1042,1304.0h4M1130,1308.0h4M1206,1308.0h4M1046,1316.0h4M1202,1316.0h4M1074,1320.0h4M1126,1320.0h4M1198,1320.0h4M1086,1324.0h4M1082,1328.0h4M1182,1328.0h4M1178,1332.0h4M1122,1336.0h4M1122,1340.0h4M1174,1340.0h4M1174,1344.0h4M1174,1348.0h4M1174,1352.0h4M1082,1356.0h4M1174,1356.0h4M1066,1360.0h4M1118,1360.0h4M1174,1360.0h4M1130,1364.0h4M1174,1364.0h4M1130,1368.0h4M1094,1372.0h4M1114,1372.0h4M1066,1376.0h4M1074,1380.0h12M1110,1380.0h4M1106,1384.0h4M1102,1392.0h4M1098,1400.0h4M1094,1408.0h4M1174,1408.0h4M1094,1412.0h4M1174,1412.0h4M1090,1420.0h4M1170,1424.0h4M1166,1432.0h4M1090,1436.0h4M1162,1436.0h4M1094,1440.0h4M1142,1440.0h4M1158,1440.0h4M1102,1444.0h4M1118,1444.0h4M1106,1448.0h12M1106,1452.0h12M1106,1456.0h4M1118,1456.0h4M1106,1460.0h4M1106,1464.0h4M1122,1464.0h4M1126,1468.0h4M1138,1472.0h4M1090,1484.0h4M1082,1492.0h4M1082,1496.0h4M1082,1500.0h4M1086,1504.0h4M1090,1508.0h4M1094,1512.0h4M1134,1512.0h8M1122,1516.0h4" stroke="#d48971"/>
<path d="M1166,936.0h4M1178,940.0h4M1182,944.0h4M1150,948.0h4M1086,952.0h8M1150,952.0h4M1078,956.0h8M1094,956.0h4M1182,956.0h4M1066,960.0h12M1154,960.0h4M1066,964.0h8M1094,964.0h4M1162,964.0h8M1070,968.0h4M1094,968.0h4M1070,972.0h8M1094,972.0h4M1074,976.0h4M1090,976.0h4M1074,980.0h4M1090,980.0h4M1074,984.0h4M1090,984.0h4M1074,988.0h4M1090,988.0h4M1210,988.0h4M1222,988.0h4M1070,992.0h4M1090,992.0h4M1074,996.0h4M1086,996.0h4M1074,1000.0h16M1078,1004.0h4M1218,1008.0h4M1174,1060.0h4M1122,1064.0h16M1142,1068.0h4M1086,1072.0h4M1126,1076.0h12M1142,1080.0h4M1150,1084.0h4M1158,1088.0h4M1174,1088.0h4M1030,1096.0h4M1038,1100.0h4M1186,1108.0h4M1194,1120.0h4M1014,1124.0h4M1042,1128.0h4M1018,1132.0h4M1178,1132.0h4M1022,1136.0h4M1034,1136.0h4M1162,1140.0h4M1194,1140.0h4M1154,1144.0h4M1150,1148.0h4M1146,1160.0h4M1018,1172.0h4M1042,1172.0h4M1014,1176.0h4M1190,1188.0h4M1026,1192.0h12M1202,1192.0h4M1186,1196.0h4M1146,1200.0h4M1146,1204.0h4M1182,1204.0h4M1146,1208.0h4M1142,1212.0h4M1134,1216.0h4M1090,1220.0h4M1102,1220.0h4M1166,1220.0h4M1162,1224.0h4M1062,1228.0h4M1054,1232.0h4M1122,1236.0h4M1046,1240.0h4M1098,1240.0h4M1042,1248.0h4M1158,1248.0h4M1038,1260.0h4M1078,1264.0h4M1038,1268.0h4M1142,1268.0h4M1038,1272.0h4M1126,1272.0h4M1182,1276.0h4M1198,1276.0h4M1122,1280.0h4M1142,1288.0h4M1206,1288.0h4M1074,1296.0h4M1146,1296.0h4M1042,1300.0h4M1130,1304.0h4M1206,1304.0h4M1070,1312.0h4M1130,1312.0h4M1070,1316.0h4M1050,1320.0h4M1066,1320.0h4M1078,1320.0h8M1078,1324.0h4M1126,1324.0h4M1190,1324.0h4M1178,1328.0h4M1174,1332.0h4M1174,1336.0h4M1122,1344.0h4M1122,1348.0h4M1074,1356.0h8M1090,1364.0h4M1118,1364.0h4M1118,1368.0h4M1174,1368.0h4M1174,1372.0h4M1090,1376.0h4M1114,1376.0h4M1174,1376.0h4M1174,1380.0h4M1174,1384.0h4M1106,1388.0h4M1174,1388.0h4M1174,1392.0h4M1102,1396.0h4M1174,1396.0h4M1174,1400.0h4M1098,1404.0h4M1174,1404.0h4M1094,1416.0h4M1170,1420.0h4M1090,1424.0h4M1090,1428.0h4M1166,1428.0h4M1090,1432.0h4M1094,1436.0h4M1098,1440.0h4M1122,1440.0h4M1146,1440.0h12M1106,1444.0h12M1110,1456.0h8M1118,1460.0h4M1106,1468.0h4M1134,1472.0h4M1102,1476.0h4M1154,1476.0h4M1098,1480.0h4M1162,1480.0h4M1086,1488.0h4M1170,1488.0h4M1170,1496.0h4M1162,1504.0h4M1154,1508.0h4M1130,1512.0h4" stroke="#d07f66"/>
<path d="M1158,940.0h4M1154,944.0h4M1086,956.0h8M1078,960.0h20M1074,964.0h12M1090,964.0h4M1074,968.0h20M1078,972.0h16M1078,976.0h12M1078,980.0h12M1078,984.0h12M1078,988.0h12M1074,992.0h16M1078,996.0h8M1222,1004.0h4M1214,1008.0h4M1102,1064.0h4M1114,1064.0h8M1166,1064.0h4M1198,1064.0h4M1126,1068.0h16M1158,1068.0h4M1198,1068.0h4M1126,1072.0h28M1122,1076.0h4M1138,1076.0h12M1194,1076.0h4M1118,1080.0h4M1146,1080.0h4M1190,1080.0h4M1078,1084.0h4M1114,1084.0h4M1186,1084.0h4M1162,1088.0h12M1078,1096.0h4M1022,1100.0h4M1018,1104.0h4M1042,1108.0h4M1014,1112.0h4M1186,1112.0h8M1014,1116.0h4M1014,1120.0h4M1182,1120.0h4M1194,1124.0h4M1038,1132.0h4M1194,1132.0h4M1026,1136.0h8M1178,1136.0h4M1194,1136.0h4M1166,1140.0h12M1190,1152.0h4M1146,1164.0h4M1046,1176.0h4M1014,1180.0h4M1014,1184.0h4M1046,1184.0h4M1018,1188.0h4M1042,1188.0h4M1146,1196.0h4M1178,1208.0h4M1146,1212.0h4M1138,1216.0h4M1170,1216.0h4M1094,1220.0h8M1130,1220.0h4M1162,1220.0h4M1078,1224.0h4M1126,1224.0h4M1158,1224.0h4M1066,1228.0h4M1158,1228.0h4M1102,1232.0h4M1050,1236.0h4M1094,1244.0h4M1158,1244.0h4M1090,1248.0h4M1086,1252.0h4M1082,1256.0h4M1038,1264.0h4M1202,1280.0h4M1074,1288.0h4M1074,1292.0h4M1206,1292.0h4M1042,1296.0h4M1166,1296.0h4M1154,1300.0h12M1206,1300.0h4M1046,1312.0h4M1202,1312.0h4M1130,1316.0h4M1082,1324.0h4M1178,1324.0h12M1126,1328.0h4M1174,1328.0h4M1126,1332.0h4M1122,1352.0h4M1122,1356.0h4M1086,1360.0h4M1066,1364.0h4M1066,1372.0h4M1118,1372.0h4M1114,1380.0h4M1110,1384.0h4M1106,1392.0h4M1098,1408.0h4M1170,1416.0h4M1094,1420.0h4M1094,1424.0h4M1094,1432.0h4M1162,1432.0h4M1098,1436.0h4M1158,1436.0h4M1102,1440.0h20M1110,1460.0h8M1110,1464.0h12M1122,1468.0h4M1106,1472.0h4M1130,1472.0h4M1150,1476.0h4M1094,1484.0h4M1166,1484.0h4M1090,1488.0h4M1086,1492.0h4M1170,1492.0h4M1086,1500.0h4M1166,1500.0h4M1090,1504.0h4M1150,1508.0h4M1126,1512.0h4M1102,1516.0h4" stroke="#cd755a"/>
<path d="M1174,940.0h4M1182,948.0h4M1182,952.0h4M1154,956.0h4M1158,960.0h4M1174,960.0h4M1086,964.0h4M1222,992.0h4M1210,1004.0h4M1194,1060.0h4M1106,1064.0h8M1094,1068.0h4M1122,1068.0h4M1122,1072.0h4M1154,1072.0h4M1150,1076.0h4M1150,1080.0h4M1110,1088.0h4M1106,1092.0h4M1034,1100.0h4M1042,1124.0h4M1182,1124.0h4M1194,1128.0h4M1158,1144.0h4M1190,1148.0h4M1150,1152.0h4M1146,1168.0h4M1022,1172.0h4M1038,1172.0h4M1046,1180.0h4M1146,1188.0h4M1146,1192.0h4M1186,1192.0h4M1182,1200.0h4M1150,1208.0h4M1150,1212.0h4M1174,1212.0h4M1142,1216.0h28M1154,1220.0h8M1102,1224.0h4M1070,1228.0h4M1058,1232.0h4M1158,1232.0h4M1158,1236.0h4M1158,1240.0h4M1042,1252.0h4M1126,1256.0h4M1078,1260.0h4M1074,1272.0h4M1074,1276.0h4M1074,1280.0h4M1074,1284.0h4M1122,1284.0h4M1122,1288.0h4M1042,1292.0h4M1142,1292.0h4M1206,1296.0h4M1150,1300.0h4M1070,1308.0h4M1066,1316.0h4M1198,1316.0h4M1054,1320.0h4M1062,1320.0h4M1130,1320.0h4M1194,1320.0h4M1174,1324.0h4M1126,1336.0h4M1070,1360.0h4M1122,1360.0h4M1122,1364.0h8M1066,1368.0h4M1090,1368.0h4M1090,1372.0h4M1070,1376.0h4M1086,1376.0h4M1118,1376.0h4M1110,1388.0h4M1102,1400.0h4M1098,1412.0h4M1170,1412.0h4M1098,1416.0h4M1166,1424.0h4M1094,1428.0h4M1098,1432.0h4M1102,1436.0h4M1130,1436.0h8M1154,1436.0h4M1110,1468.0h12M1110,1472.0h4M1126,1472.0h4M1106,1476.0h4M1146,1476.0h4M1102,1480.0h4M1098,1484.0h4M1086,1496.0h4M1158,1504.0h4M1094,1508.0h4M1146,1508.0h4M1118,1516.0h4" stroke="#ca6c4f"/>
<path d="M1162,940.0h4M1170,940.0h4M1178,944.0h4M1154,948.0h4M1154,952.0h4M1178,956.0h4M1214,988.0h8M1210,992.0h4M1222,996.0h4M1222,1000.0h4M1118,1068.0h4M1118,1076.0h4M1154,1084.0h4M1182,1084.0h4M1078,1088.0h4M1026,1100.0h8M1038,1104.0h4M1018,1108.0h4M1042,1112.0h4M1042,1116.0h4M1186,1116.0h8M1042,1120.0h4M1018,1128.0h4M1182,1128.0h4M1022,1132.0h4M1178,1140.0h4M1190,1144.0h4M1154,1148.0h4M1186,1156.0h4M1186,1160.0h4M1186,1164.0h4M1186,1168.0h4M1026,1172.0h4M1034,1172.0h4M1146,1172.0h4M1186,1172.0h4M1018,1176.0h4M1042,1176.0h4M1186,1176.0h4M1186,1180.0h4M1018,1184.0h4M1146,1184.0h4M1186,1184.0h4M1022,1188.0h4M1038,1188.0h4M1186,1188.0h4M1150,1204.0h4M1154,1212.0h4M1134,1220.0h4M1150,1220.0h4M1082,1224.0h4M1154,1224.0h4M1102,1228.0h4M1126,1228.0h4M1046,1244.0h4M1154,1252.0h4M1142,1264.0h4M1074,1268.0h4M1174,1284.0h4M1042,1288.0h4M1142,1296.0h4M1146,1300.0h4M1166,1300.0h4M1134,1304.0h4M1158,1304.0h8M1046,1308.0h4M1134,1308.0h4M1050,1316.0h4M1058,1320.0h4M1170,1320.0h8M1130,1324.0h4M1170,1324.0h4M1170,1328.0h4M1170,1332.0h4M1170,1336.0h4M1126,1340.0h4M1170,1340.0h4M1126,1344.0h4M1170,1344.0h4M1082,1360.0h4M1122,1368.0h8M1114,1384.0h4M1106,1396.0h4M1102,1404.0h4M1170,1404.0h4M1170,1408.0h4M1098,1420.0h4M1098,1424.0h4M1098,1428.0h4M1162,1428.0h4M1102,1432.0h4M1158,1432.0h4M1106,1436.0h12M1126,1436.0h4M1138,1436.0h16M1114,1472.0h12M1142,1476.0h4M1158,1480.0h4M1094,1488.0h4M1090,1492.0h4M1090,1496.0h4M1090,1500.0h4M1142,1508.0h4M1098,1512.0h4" stroke="#c76346"/>
<path d="M1166,940.0h4M1158,944.0h4M1162,960.0h4M1170,960.0h4M1210,996.0h4M1210,1000.0h4M1214,1004.0h8M1178,1060.0h4M1118,1072.0h4M1078,1092.0h4M1098,1096.0h4M1022,1104.0h4M1186,1120.0h8M1018,1124.0h4M1038,1128.0h4M1034,1132.0h4M1182,1132.0h4M1190,1140.0h4M1162,1144.0h4M1174,1144.0h8M1186,1148.0h4M1186,1152.0h4M1150,1156.0h4M1030,1172.0h4M1146,1176.0h4M1018,1180.0h4M1146,1180.0h4M1042,1184.0h4M1026,1188.0h4M1034,1188.0h4M1150,1200.0h4M1178,1204.0h4M1154,1208.0h4M1158,1212.0h4M1170,1212.0h4M1146,1220.0h4M1130,1224.0h4M1154,1228.0h4M1062,1232.0h4M1054,1236.0h4M1050,1240.0h4M1042,1256.0h4M1146,1260.0h4M1074,1264.0h4M1130,1264.0h4M1138,1268.0h4M1194,1276.0h4M1042,1284.0h4M1142,1300.0h4M1070,1304.0h4M1154,1304.0h4M1166,1304.0h4M1162,1308.0h8M1202,1308.0h4M1134,1312.0h4M1166,1312.0h4M1170,1316.0h4M1178,1320.0h8M1190,1320.0h4M1130,1328.0h4M1126,1348.0h4M1170,1348.0h4M1126,1352.0h4M1170,1352.0h4M1074,1360.0h8M1126,1360.0h8M1070,1364.0h4M1086,1364.0h4M1122,1372.0h4M1118,1380.0h4M1170,1388.0h4M1110,1392.0h4M1170,1392.0h4M1170,1396.0h4M1170,1400.0h4M1102,1408.0h4M1166,1420.0h4M1102,1428.0h4M1106,1432.0h4M1118,1436.0h8M1110,1476.0h4M1138,1476.0h4M1106,1480.0h4M1102,1484.0h4M1098,1488.0h4M1166,1488.0h4M1094,1492.0h4M1166,1496.0h4M1162,1500.0h4M1094,1504.0h4M1138,1508.0h4M1122,1512.0h4" stroke="#c55a3c"/>
<path d="M1174,944.0h4M1178,948.0h4M1178,952.0h4M1158,956.0h4M1166,960.0h4M1214,992.0h8M1190,1060.0h4M1114,1068.0h4M1162,1068.0h4M1154,1076.0h4M1082,1080.0h4M1034,1104.0h4M1038,1108.0h4M1018,1112.0h4M1190,1124.0h4M1026,1132.0h8M1182,1136.0h4M1190,1136.0h4M1182,1140.0h4M1166,1144.0h8M1182,1144.0h8M1178,1148.0h8M1182,1152.0h4M1022,1176.0h4M1038,1176.0h4M1042,1180.0h4M1022,1184.0h4M1030,1188.0h4M1182,1196.0h4M1174,1208.0h4M1162,1212.0h8M1138,1220.0h8M1074,1228.0h4M1098,1236.0h4M1126,1252.0h4M1150,1256.0h4M1042,1260.0h4M1130,1260.0h4M1130,1268.0h4M1138,1272.0h4M1042,1276.0h4M1042,1280.0h4M1178,1280.0h4M1202,1284.0h4M1170,1292.0h4M1046,1304.0h4M1138,1304.0h8M1170,1312.0h4M1134,1316.0h4M1166,1316.0h4M1174,1316.0h4M1166,1320.0h4M1186,1320.0h4M1130,1332.0h4M1126,1356.0h4M1170,1356.0h4M1170,1360.0h4M1170,1364.0h4M1086,1368.0h4M1170,1368.0h4M1070,1372.0h4M1086,1372.0h4M1126,1372.0h8M1170,1372.0h4M1074,1376.0h4M1082,1376.0h4M1122,1376.0h4M1170,1376.0h4M1170,1380.0h4M1118,1384.0h4M1170,1384.0h4M1114,1388.0h4M1102,1412.0h4M1102,1416.0h4M1166,1416.0h4M1102,1420.0h4M1102,1424.0h4M1162,1424.0h4M1110,1432.0h4M1154,1432.0h4M1114,1476.0h24M1162,1484.0h4M1166,1492.0h4M1094,1496.0h4M1094,1500.0h4M1154,1504.0h4M1130,1508.0h8" stroke="#c15136"/>
<path d="M1162,944.0h4M1158,948.0h4M1158,952.0h4M1174,956.0h4M1218,996.0h4M1214,1000.0h8M1090,1072.0h4M1194,1072.0h4M1114,1080.0h4M1154,1080.0h4M1082,1096.0h4M1026,1104.0h4M1018,1116.0h4M1018,1120.0h4M1038,1124.0h4M1186,1124.0h4M1022,1128.0h4M1186,1128.0h8M1190,1132.0h4M1186,1136.0h4M1186,1140.0h4M1154,1152.0h4M1182,1156.0h4M1150,1160.0h4M1022,1180.0h4M1038,1184.0h4M1150,1196.0h4M1098,1224.0h4M1150,1224.0h4M1066,1232.0h4M1154,1232.0h4M1046,1248.0h4M1154,1248.0h4M1078,1256.0h4M1042,1264.0h4M1134,1264.0h8M1042,1268.0h4M1042,1272.0h4M1126,1296.0h4M1070,1300.0h4M1130,1300.0h4M1138,1300.0h4M1146,1304.0h8M1138,1308.0h4M1158,1308.0h4M1170,1308.0h4M1050,1312.0h4M1066,1312.0h4M1162,1312.0h4M1062,1316.0h4M1166,1324.0h4M1130,1336.0h4M1070,1368.0h4M1078,1376.0h4M1122,1380.0h4M1106,1400.0h4M1166,1412.0h4M1106,1428.0h4M1158,1428.0h4M1114,1432.0h4M1150,1432.0h4M1110,1480.0h4M1154,1480.0h4M1106,1484.0h4M1102,1488.0h4M1098,1492.0h4M1098,1508.0h4M1106,1516.0h4M1114,1516.0h4" stroke="#bd4730"/>
<path d="M1166,944.0h8M1174,948.0h4M1162,956.0h4M1214,996.0h4M1182,1060.0h8M1098,1068.0h4M1158,1072.0h4M1086,1076.0h4M1186,1080.0h4M1178,1084.0h4M1030,1104.0h4M1022,1108.0h4M1038,1112.0h4M1038,1120.0h4M1034,1128.0h4M1186,1132.0h4M1158,1148.0h4M1174,1148.0h4M1026,1176.0h12M1038,1180.0h4M1026,1184.0h4M1034,1184.0h4M1182,1192.0h4M1154,1204.0h4M1158,1208.0h4M1086,1224.0h4M1126,1232.0h4M1058,1236.0h4M1074,1260.0h4M1134,1268.0h4M1186,1276.0h4M1198,1312.0h4M1054,1316.0h4M1162,1316.0h4M1194,1316.0h4M1134,1320.0h4M1166,1328.0h4M1130,1340.0h4M1074,1364.0h4M1082,1364.0h4M1110,1396.0h4M1166,1408.0h4M1162,1420.0h4M1106,1424.0h4M1110,1428.0h4M1118,1432.0h4M1114,1480.0h4M1098,1496.0h4M1098,1500.0h4M1098,1504.0h4M1126,1508.0h4" stroke="#b93d2a"/>
<path d="M1162,948.0h4M1174,952.0h4M1166,956.0h8M1170,1064.0h4M1194,1064.0h4M1114,1072.0h4M1158,1084.0h4M1034,1108.0h4M1038,1116.0h4M1022,1124.0h4M1026,1128.0h8M1178,1152.0h4M1182,1160.0h4M1026,1180.0h4M1034,1180.0h4M1030,1184.0h4M1170,1208.0h4M1154,1236.0h4M1050,1244.0h4M1154,1244.0h4M1126,1248.0h4M1082,1252.0h4M1190,1276.0h4M1198,1280.0h4M1170,1296.0h4M1046,1300.0h4M1170,1300.0h4M1170,1304.0h4M1202,1304.0h4M1142,1308.0h4M1154,1308.0h4M1138,1312.0h4M1174,1312.0h4M1178,1316.0h4M1134,1324.0h4M1166,1332.0h4M1130,1344.0h4M1130,1356.0h4M1078,1364.0h4M1074,1372.0h4M1082,1372.0h4M1126,1376.0h4M1122,1384.0h4M1118,1388.0h4M1114,1392.0h4M1106,1404.0h4M1166,1404.0h4M1106,1420.0h4M1158,1424.0h4M1154,1428.0h4M1122,1432.0h4M1146,1432.0h4M1118,1480.0h4M1110,1484.0h4M1106,1488.0h4M1102,1492.0h4M1150,1504.0h4" stroke="#b23129"/>
<path d="M1166,948.0h8M1162,952.0h4M1110,1068.0h4M1114,1076.0h4M1190,1076.0h4M1026,1108.0h4M1022,1112.0h4M1150,1164.0h4M1030,1180.0h4M1150,1192.0h4M1178,1200.0h4M1090,1224.0h8M1146,1224.0h4M1054,1240.0h4M1094,1240.0h4M1154,1240.0h4M1046,1252.0h4M1134,1260.0h4M1142,1260.0h4M1202,1288.0h4M1070,1296.0h4M1134,1300.0h4M1158,1312.0h4M1058,1316.0h4M1162,1320.0h4M1166,1336.0h4M1130,1348.0h4M1130,1352.0h4M1074,1368.0h4M1082,1368.0h4M1078,1372.0h4M1166,1400.0h4M1106,1408.0h4M1106,1416.0h4M1162,1416.0h4M1126,1432.0h4M1138,1432.0h8M1150,1480.0h4M1102,1496.0h4M1162,1496.0h4M1158,1500.0h4M1110,1516.0h4" stroke="#aa2528"/>
<path d="M1166,952.0h8M1194,1068.0h4M1094,1096.0h4M1030,1108.0h4M1034,1112.0h4M1022,1116.0h4M1022,1120.0h4M1034,1124.0h4M1162,1148.0h4M1170,1148.0h4M1182,1164.0h4M1182,1188.0h4M1174,1204.0h4M1162,1208.0h8M1134,1224.0h4M1098,1228.0h4M1150,1228.0h4M1098,1232.0h4M1062,1236.0h4M1126,1236.0h4M1086,1248.0h4M1130,1256.0h4M1126,1276.0h4M1066,1308.0h4M1146,1308.0h8M1138,1316.0h4M1134,1328.0h4M1078,1368.0h4M1130,1376.0h4M1126,1380.0h4M1166,1392.0h4M1166,1396.0h4M1106,1412.0h4M1110,1424.0h4M1114,1428.0h4M1130,1432.0h8M1122,1480.0h4M1114,1484.0h4M1158,1484.0h4M1110,1488.0h4M1162,1488.0h4M1106,1492.0h4M1102,1500.0h4M1146,1504.0h4M1122,1508.0h4" stroke="#a11d29"/>
<path d="M1110,1084.0h4M1102,1092.0h4M1034,1116.0h4M1034,1120.0h4M1026,1124.0h8M1166,1148.0h4M1154,1156.0h4M1182,1168.0h4M1154,1200.0h4M1078,1228.0h4M1130,1228.0h4M1070,1232.0h4M1090,1244.0h4M1126,1244.0h4M1138,1260.0h4M1138,1276.0h4M1070,1292.0h4M1046,1296.0h4M1138,1296.0h4M1202,1300.0h4M1050,1308.0h4M1182,1316.0h4M1190,1316.0h4M1166,1340.0h4M1122,1388.0h4M1166,1388.0h4M1110,1400.0h4M1162,1412.0h4M1158,1420.0h4M1150,1428.0h4M1126,1480.0h4M1146,1480.0h4M1106,1496.0h4M1142,1504.0h4" stroke="#961a2a"/>
<path d="M1102,1068.0h8M1082,1084.0h4M1086,1096.0h4M1026,1112.0h8M1026,1120.0h4M1178,1156.0h4M1150,1168.0h4M1182,1184.0h4M1150,1188.0h4M1158,1204.0h4M1126,1240.0h4M1150,1252.0h4M1046,1256.0h4M1202,1292.0h4M1202,1296.0h4M1174,1308.0h4M1062,1312.0h4M1142,1312.0h4M1158,1316.0h4M1186,1316.0h4M1162,1324.0h4M1134,1332.0h4M1134,1364.0h4M1134,1368.0h4M1126,1384.0h4M1166,1384.0h4M1162,1408.0h4M1154,1424.0h4M1130,1480.0h4M1110,1492.0h4M1162,1492.0h4M1126,1504.0h16" stroke="#8c172c"/>
<path d="M1158,1076.0h4M1162,1084.0h4M1174,1084.0h4M1106,1088.0h4M1090,1096.0h4M1026,1116.0h8M1030,1120.0h4M1158,1152.0h4M1174,1152.0h4M1182,1172.0h4M1182,1180.0h4M1138,1224.0h8M1058,1240.0h4M1050,1248.0h4M1146,1256.0h4M1070,1288.0h4M1174,1288.0h4M1054,1312.0h4M1154,1312.0h4M1138,1320.0h4M1166,1344.0h4M1130,1380.0h4M1118,1392.0h4M1114,1396.0h4M1118,1428.0h4M1142,1480.0h4M1118,1484.0h4M1114,1488.0h4M1110,1496.0h4M1102,1512.0h4M1118,1512.0h4" stroke="#82142c"/>
<path d="M1158,1080.0h4M1082,1092.0h4M1150,1172.0h4M1182,1176.0h4M1150,1184.0h4M1178,1196.0h4M1074,1256.0h4M1070,1264.0h4M1070,1268.0h4M1070,1272.0h4M1130,1272.0h8M1046,1292.0h4M1198,1308.0h4M1178,1312.0h4M1134,1336.0h4M1134,1372.0h4M1166,1380.0h4M1162,1404.0h4M1158,1416.0h4M1110,1420.0h4M1146,1428.0h4M1134,1480.0h8M1106,1500.0h4M1154,1500.0h4M1102,1504.0h4M1122,1504.0h4" stroke="#791129"/>
<path d="M1150,1176.0h4M1150,1180.0h4M1054,1244.0h4M1046,1260.0h4M1070,1276.0h4M1070,1280.0h4M1070,1284.0h4M1066,1304.0h4M1146,1312.0h4M1162,1328.0h4M1134,1340.0h4M1166,1348.0h4M1134,1360.0h4M1166,1376.0h4M1130,1384.0h4M1126,1388.0h4M1162,1400.0h4M1114,1424.0h4M1114,1492.0h4" stroke="#6f0e26"/>
<path d="M1166,1068.0h4M1082,1088.0h4M1178,1160.0h4M1154,1196.0h4M1170,1204.0h4M1070,1260.0h4M1058,1312.0h4M1150,1312.0h4M1194,1312.0h4M1134,1344.0h4M1166,1352.0h4M1166,1372.0h4M1134,1376.0h4M1110,1404.0h4M1154,1420.0h4M1122,1484.0h4M1114,1496.0h4M1110,1500.0h4" stroke="#660b24"/>
<path d="M1190,1064.0h4M1094,1072.0h4M1166,1084.0h8M1154,1160.0h4M1174,1200.0h4M1162,1204.0h4M1150,1232.0h4M1066,1236.0h4M1046,1264.0h4M1046,1288.0h4M1050,1304.0h4M1142,1316.0h4M1158,1320.0h4M1138,1324.0h4M1134,1348.0h4M1134,1356.0h4M1166,1356.0h4M1166,1368.0h4M1162,1396.0h4M1158,1412.0h4M1110,1416.0h4M1150,1424.0h4M1122,1428.0h4M1142,1428.0h4M1114,1500.0h8M1118,1504.0h4" stroke="#5a0c21"/>
<path d="M1174,1064.0h4M1110,1072.0h4M1182,1080.0h4M1162,1152.0h4M1170,1152.0h4M1130,1252.0h4M1134,1256.0h4M1046,1268.0h4M1198,1284.0h4M1174,1304.0h4M1134,1352.0h4M1166,1360.0h4M1166,1364.0h4M1134,1380.0h4M1122,1392.0h4M1154,1484.0h4M1118,1488.0h4M1158,1496.0h4M1122,1500.0h4" stroke="#4d0e1e"/>
<path d="M1162,1072.0h4M1158,1200.0h4M1166,1204.0h4M1082,1228.0h4M1078,1252.0h4M1046,1272.0h4M1194,1280.0h4M1046,1284.0h4M1154,1316.0h4M1162,1332.0h4M1134,1384.0h4M1130,1388.0h4M1162,1392.0h4M1110,1408.0h4M1158,1408.0h4M1110,1412.0h4M1118,1496.0h4" stroke="#440f1c"/>
<path d="M1178,1064.0h12M1170,1068.0h24M1098,1072.0h12M1166,1072.0h28M1090,1076.0h24M1162,1076.0h28M1086,1080.0h28M1162,1080.0h20M1086,1084.0h24M1086,1088.0h20M1086,1092.0h16M1166,1152.0h4M1158,1156.0h20M1158,1160.0h20M1154,1164.0h28M1154,1168.0h28M1154,1172.0h28M1154,1176.0h28M1154,1180.0h28M1154,1184.0h28M1154,1188.0h28M1154,1192.0h28M1158,1196.0h20M1162,1200.0h12M1086,1228.0h12M1134,1228.0h16M1074,1232.0h24M1130,1232.0h20M1070,1236.0h28M1130,1236.0h24M1062,1240.0h32M1130,1240.0h24M1058,1244.0h32M1130,1244.0h24M1054,1248.0h32M1130,1248.0h24M1050,1252.0h28M1134,1252.0h16M1050,1256.0h24M1138,1256.0h8M1050,1260.0h20M1050,1264.0h20M1050,1268.0h20M1050,1272.0h20M1046,1276.0h24M1130,1276.0h8M1046,1280.0h24M1126,1280.0h16M1182,1280.0h12M1050,1284.0h20M1126,1284.0h16M1178,1284.0h20M1050,1288.0h20M1126,1288.0h16M1178,1288.0h24M1050,1292.0h20M1126,1292.0h16M1174,1292.0h28M1050,1296.0h20M1130,1296.0h8M1174,1296.0h28M1050,1300.0h20M1174,1300.0h28M1054,1304.0h12M1178,1304.0h24M1054,1308.0h12M1178,1308.0h20M1182,1312.0h12M1146,1316.0h8M1142,1320.0h16M1142,1324.0h20M1138,1328.0h24M1138,1332.0h24M1138,1336.0h28M1138,1340.0h28M1138,1344.0h28M1138,1348.0h28M1138,1352.0h28M1138,1356.0h28M1138,1360.0h28M1138,1364.0h28M1138,1368.0h28M1138,1372.0h28M1138,1376.0h28M1138,1380.0h28M1138,1384.0h28M1134,1388.0h32M1126,1392.0h36M1118,1396.0h44M1114,1400.0h48M1114,1404.0h48M1114,1408.0h44M1114,1412.0h44M1114,1416.0h44M1114,1420.0h40M1118,1424.0h32M1126,1428.0h16M1126,1484.0h28M1122,1488.0h40M1118,1492.0h44M1122,1496.0h36M1126,1500.0h28M1106,1504.0h12M1102,1508.0h20M1106,1512.0h12" stroke="#3c101a"/>
</g></g>
<g><path d="M1036.0,943.6 1032.0,944.2 1028.0,948.1 1027.0,956.0 1024.0,962.0 1020.6,968.0 1019.0,972.0 1017.4,980.0 1017.2,988.0 1018.3,996.0 1020.0,1001.4 1024.0,1008.0 1028.0,1008.9 1032.0,1005.9 1036.0,1001.0 1038.4,996.0 1039.9,988.0 1039.4,980.0 1037.0,972.0 1035.0,968.0 1032.3,960.0 1036.0,955.2 1040.0,948.8 1040.0,947.3 1036.0,943.6M1124.0,951.9 1122.2,956.0 1121.9,964.0 1124.0,970.1 1128.0,973.8 1134.9,972.0 1136.9,968.0 1136.6,960.0 1135.4,956.0 1132.0,950.6 1124.0,951.9M1192.0,963.6 1188.0,964.5 1180.0,967.9 1176.0,970.3 1172.0,973.1 1167.5,976.0 1161.7,980.0 1157.5,984.0 1154.7,988.0 1152.0,994.9 1150.6,1000.0 1149.3,1008.0 1148.0,1015.3 1146.4,1020.0 1144.0,1025.9 1140.0,1029.4 1132.0,1028.6 1128.0,1027.5 1120.0,1025.0 1116.0,1023.9 1108.0,1022.8 1100.0,1023.3 1093.5,1024.0 1088.0,1024.7 1080.0,1025.1 1072.0,1024.5 1068.0,1023.8 1060.0,1022.1 1052.0,1020.9 1044.0,1023.4 1040.0,1025.3 1032.0,1025.5 1024.0,1024.8 1020.0,1031.7 1019.5,1036.0 1020.0,1042.8 1020.5,1048.0 1022.3,1056.0 1024.3,1060.0 1028.0,1064.8 1032.5,1068.0 1040.0,1070.8 1048.0,1071.1 1055.6,1068.0 1060.0,1064.0 1062.8,1060.0 1064.5,1056.0 1068.0,1048.0 1072.0,1044.6 1076.0,1043.3 1084.0,1043.1 1092.0,1044.0 1096.0,1044.5 1104.0,1045.3 1112.0,1045.7 1120.0,1045.6 1128.0,1045.0 1135.7,1044.0 1140.0,1043.9 1144.0,1045.2 1148.0,1048.5 1152.1,1052.0 1160.0,1055.4 1168.0,1053.6 1172.0,1051.3 1176.3,1048.0 1180.4,1044.0 1184.0,1039.7 1188.0,1034.1 1191.7,1028.0 1193.7,1024.0 1195.8,1016.0 1196.2,1012.0 1197.0,1004.0 1200.0,996.0 1202.0,992.0 1204.0,987.4 1206.5,980.0 1206.8,972.0 1204.0,967.0 1198.4,964.0 1192.0,963.6M1228.0,1019.7 1224.0,1020.0 1216.4,1024.0 1213.0,1028.0 1211.6,1032.0 1211.4,1040.0 1212.5,1044.0 1216.0,1050.6 1220.0,1055.0 1224.0,1057.2 1230.8,1056.0 1235.3,1052.0 1237.8,1048.0 1239.5,1040.0 1239.1,1032.0 1236.0,1024.8 1232.0,1020.8 1228.0,1019.7M1204.0,1088.6 1200.0,1092.0 1198.7,1100.0 1200.0,1104.9 1204.0,1110.1 1210.5,1108.0 1212.0,1103.9 1212.0,1096.0 1210.6,1092.0 1204.0,1088.6M1124.0,1099.5 1120.0,1102.1 1116.0,1105.8 1112.1,1112.0 1114.9,1120.0 1120.0,1122.6 1125.3,1124.0 1132.0,1125.0 1140.0,1125.6 1148.0,1125.2 1155.2,1124.0 1160.0,1122.4 1168.0,1120.2 1172.0,1117.1 1174.4,1112.0 1173.8,1104.0 1168.0,1100.0 1164.0,1099.3 1156.0,1098.4 1148.0,1097.5 1140.0,1096.9 1132.0,1097.2 1124.0,1099.5M1080.0,1107.3 1076.0,1108.9 1070.6,1112.0 1065.6,1116.0 1061.9,1120.0 1059.0,1124.0 1056.0,1128.4 1052.0,1133.9 1048.0,1138.6 1044.0,1142.1 1040.0,1144.6 1032.0,1148.0 1028.0,1150.0 1023.5,1152.0 1027.1,1156.0 1032.0,1157.4 1039.5,1160.0 1044.0,1161.3 1052.0,1162.5 1060.0,1161.9 1066.9,1160.0 1072.0,1157.6 1076.0,1154.0 1079.0,1148.0 1080.1,1144.0 1084.0,1136.8 1087.3,1132.0 1090.2,1128.0 1092.3,1124.0 1095.8,1116.0 1094.0,1108.0 1088.0,1106.1 1080.0,1107.3M1151.3,1112.0 1156.0,1111.9 1158.7,1116.0 1152.0,1118.7 1151.3,1112.0M1212.0,1130.3 1208.0,1133.6 1204.9,1140.0 1203.4,1144.0 1201.3,1152.0 1200.2,1160.0 1200.8,1168.0 1204.0,1173.5 1208.1,1176.0 1216.0,1176.4 1220.0,1173.5 1223.1,1168.0 1224.0,1162.6 1224.9,1156.0 1224.1,1148.0 1223.5,1144.0 1220.3,1136.0 1217.0,1132.0 1212.0,1130.3M1048.0,1199.3 1044.0,1200.8 1037.4,1204.0 1034.3,1208.0 1037.1,1212.0 1044.0,1213.9 1052.0,1214.3 1060.0,1214.1 1068.0,1213.4 1074.5,1212.0 1080.0,1209.0 1082.0,1204.0 1076.3,1200.0 1072.0,1198.5 1064.0,1196.9 1056.0,1197.3 1048.0,1199.3M1112.0,1238.1 1108.0,1241.7 1105.4,1248.0 1105.4,1256.0 1108.0,1260.9 1116.0,1261.0 1117.8,1256.0 1118.7,1248.0 1116.4,1240.0 1112.0,1238.1M1192.0,1251.7 1188.0,1252.4 1180.0,1254.0 1174.4,1256.0 1168.0,1258.7 1164.0,1261.1 1159.9,1264.0 1154.9,1268.0 1151.4,1272.0 1149.3,1280.0 1152.0,1285.3 1160.0,1287.0 1168.0,1284.3 1172.0,1281.5 1176.0,1277.9 1180.0,1274.5 1184.3,1272.0 1192.0,1268.6 1196.0,1267.5 1204.0,1264.3 1208.0,1261.4 1211.5,1256.0 1207.5,1252.0 1200.0,1251.0 1192.0,1251.7M1120.0,1265.0 1118.7,1268.0 1120.0,1270.4 1123.1,1268.0 1120.0,1265.0M1100.0,1295.3 1096.0,1297.1 1092.0,1300.2 1089.2,1308.0 1092.3,1312.0 1097.6,1316.0 1103.5,1320.0 1100.0,1325.3 1096.0,1330.5 1092.5,1336.0 1091.2,1340.0 1092.0,1344.0 1096.0,1348.7 1104.0,1350.9 1108.8,1348.0 1112.0,1342.2 1112.8,1336.0 1112.0,1331.8 1108.0,1324.5 1105.4,1320.0 1112.0,1317.2 1116.0,1314.8 1120.0,1311.7 1123.4,1304.0 1120.0,1298.3 1116.0,1295.4 1108.0,1293.4 1100.0,1295.3M1032.0,1335.7 1028.0,1337.9 1024.0,1341.8 1020.9,1348.0 1021.3,1356.0 1023.2,1364.0 1023.1,1372.0 1023.2,1380.0 1024.0,1386.0 1026.0,1392.0 1028.4,1396.0 1036.0,1397.1 1038.9,1392.0 1040.2,1388.0 1040.9,1380.0 1040.4,1372.0 1039.9,1368.0 1040.0,1363.4 1044.0,1356.6 1048.0,1353.7 1052.0,1351.1 1056.9,1348.0 1062.5,1344.0 1066.2,1340.0 1064.0,1335.2 1056.0,1333.7 1048.0,1333.3 1040.0,1333.8 1032.0,1335.7M1068.0,1387.7 1064.0,1390.3 1064.0,1393.8 1068.0,1396.7 1076.0,1397.7 1082.0,1396.0 1086.2,1392.0 1082.2,1388.0 1076.0,1387.3 1068.0,1387.7M1048.0,1403.7 1044.0,1405.8 1040.9,1412.0 1041.0,1420.0 1044.0,1426.9 1048.0,1430.4 1056.0,1428.3 1058.6,1424.0 1060.0,1416.0 1057.5,1408.0 1052.5,1404.0 1048.0,1403.7M1136.0,1447.9 1132.9,1452.0 1136.0,1456.0 1139.3,1452.0 1136.0,1447.9M1080.0,1459.3 1076.0,1462.1 1074.3,1468.0 1078.7,1472.0 1084.0,1473.1 1089.9,1472.0 1094.6,1468.0 1092.0,1460.9 1088.0,1459.0 1080.0,1459.3M1060.0,1489.6 1056.0,1492.4 1053.2,1500.0 1054.9,1508.0 1058.4,1512.0 1064.0,1513.9 1068.0,1511.2 1069.4,1504.0 1068.1,1496.0 1065.5,1492.0 1060.0,1489.6M1176.9,1064.0 1184.0,1062.1 1191.0,1064.0 1193.5,1068.0 1192.0,1072.1 1188.0,1077.1 1183.5,1080.0 1176.0,1083.2 1168.0,1083.7 1161.6,1080.0 1164.0,1072.4 1168.0,1068.5 1172.0,1065.7 1176.9,1064.0M1097.1,1072.0 1104.0,1069.4 1111.4,1072.0 1113.0,1076.0 1112.0,1080.0 1108.0,1086.7 1104.0,1090.6 1100.0,1093.0 1092.0,1095.0 1085.6,1092.0 1085.4,1084.0 1088.0,1079.8 1092.0,1075.3 1097.1,1072.0M1166.9,1152.0 1169.0,1152.0 1176.0,1155.8 1179.0,1160.0 1180.7,1164.0 1182.5,1172.0 1182.7,1180.0 1181.5,1188.0 1180.0,1192.0 1176.0,1199.0 1172.0,1202.4 1164.0,1202.9 1160.0,1199.8 1156.0,1193.4 1154.0,1188.0 1152.9,1180.0 1153.2,1172.0 1155.1,1164.0 1156.9,1160.0 1160.0,1155.6 1166.9,1152.0M1084.5,1228.0 1092.0,1226.6 1096.0,1228.3 1096.0,1235.9 1093.8,1240.0 1090.2,1244.0 1085.6,1248.0 1080.0,1251.9 1076.0,1254.9 1072.0,1258.4 1070.8,1264.0 1071.2,1272.0 1071.4,1280.0 1071.1,1288.0 1069.8,1296.0 1068.0,1301.0 1064.1,1308.0 1060.0,1310.4 1055.4,1308.0 1052.0,1302.6 1049.7,1296.0 1048.5,1288.0 1048.1,1280.0 1048.1,1272.0 1048.7,1264.0 1050.4,1256.0 1052.2,1252.0 1056.0,1246.1 1060.0,1242.5 1064.0,1239.6 1068.9,1236.0 1075.4,1232.0 1080.0,1229.3 1084.5,1228.0M1135.1,1228.0 1140.0,1225.5 1147.9,1228.0 1151.4,1232.0 1153.1,1236.0 1153.5,1244.0 1152.0,1248.1 1148.0,1254.1 1144.0,1256.5 1137.3,1256.0 1132.5,1252.0 1130.3,1248.0 1129.2,1240.0 1131.7,1232.0 1135.1,1228.0M1129.5,1276.0 1136.0,1273.0 1140.0,1279.5 1141.3,1284.0 1140.0,1291.9 1137.6,1296.0 1132.0,1297.1 1128.0,1292.0 1126.4,1288.0 1127.3,1280.0 1129.5,1276.0M1184.1,1280.0 1192.0,1278.3 1196.0,1280.2 1200.0,1285.0 1202.5,1292.0 1202.2,1300.0 1200.0,1305.4 1196.0,1310.8 1192.0,1313.2 1184.0,1312.7 1180.0,1309.7 1176.5,1304.0 1175.5,1300.0 1175.9,1292.0 1177.1,1288.0 1180.0,1283.5 1184.1,1280.0M1146.6,1316.0 1152.0,1314.5 1156.0,1316.8 1160.0,1322.1 1162.7,1328.0 1164.0,1332.6 1166.0,1340.0 1167.1,1348.0 1167.6,1356.0 1167.7,1364.0 1167.3,1372.0 1166.3,1380.0 1164.5,1388.0 1163.4,1392.0 1161.1,1400.0 1160.0,1404.6 1158.4,1412.0 1156.0,1416.9 1152.0,1422.1 1148.0,1425.1 1140.0,1428.0 1136.0,1428.6 1128.2,1428.0 1124.0,1427.0 1118.8,1424.0 1114.9,1420.0 1112.3,1412.0 1113.4,1404.0 1116.0,1399.9 1120.0,1395.7 1125.8,1392.0 1132.0,1388.5 1136.0,1385.0 1137.4,1380.0 1137.9,1372.0 1137.7,1364.0 1136.7,1356.0 1136.7,1348.0 1137.2,1340.0 1138.7,1332.0 1140.0,1327.6 1143.1,1320.0 1146.6,1316.0M1126.7,1484.0 1132.0,1481.8 1140.0,1480.8 1148.0,1481.3 1155.2,1484.0 1160.0,1487.7 1161.7,1492.0 1159.5,1496.0 1152.8,1500.0 1148.0,1501.8 1140.0,1502.5 1132.0,1501.5 1127.6,1500.0 1120.9,1496.0 1121.3,1488.0 1126.7,1484.0M1105.8,1504.0 1112.0,1500.7 1119.1,1504.0 1120.3,1508.0 1119.1,1512.0 1112.0,1515.4 1104.9,1512.0 1103.9,1508.0 1105.8,1504.0M1174.3,1068.0 1180.0,1065.9 1187.8,1068.0 1184.2,1076.0 1180.0,1078.7 1175.1,1080.0 1170.2,1080.0 1166.6,1076.0 1168.8,1072.0 1174.3,1068.0M1096.5,1076.0 1104.0,1073.8 1107.9,1080.0 1104.0,1086.4 1100.0,1089.5 1092.0,1090.6 1089.5,1084.0 1092.0,1079.8 1096.5,1076.0M1167.8,1160.0 1168.2,1160.0 1174.1,1164.0 1176.3,1168.0 1177.9,1176.0 1177.2,1184.0 1175.8,1188.0 1172.0,1193.6 1164.0,1194.0 1160.0,1188.9 1158.3,1184.0 1157.6,1176.0 1159.3,1168.0 1161.5,1164.0 1167.8,1160.0M1083.3,1232.0 1088.0,1231.2 1091.3,1236.0 1088.0,1241.4 1084.0,1245.4 1080.0,1248.2 1072.2,1252.0 1068.0,1253.8 1064.2,1260.0 1066.3,1268.0 1067.5,1276.0 1067.5,1284.0 1066.3,1292.0 1064.0,1297.7 1060.0,1301.0 1056.0,1298.6 1053.2,1292.0 1052.0,1284.5 1051.8,1280.0 1052.0,1275.1 1053.1,1268.0 1055.8,1260.0 1058.7,1256.0 1060.9,1252.0 1064.0,1246.9 1068.0,1241.8 1072.0,1238.0 1076.0,1235.2 1083.3,1232.0M1137.8,1232.0 1144.0,1231.2 1148.0,1235.2 1149.6,1240.0 1148.0,1246.9 1144.0,1251.2 1136.0,1249.3 1133.3,1244.0 1134.1,1236.0 1137.8,1232.0M1130.2,1280.0 1136.0,1277.8 1138.8,1284.0 1136.8,1292.0 1132.0,1293.0 1129.2,1288.0 1130.2,1280.0M1185.8,1284.0 1192.0,1283.4 1196.0,1287.1 1198.0,1292.0 1197.4,1300.0 1195.2,1304.0 1188.0,1307.6 1182.4,1304.0 1180.0,1297.8 1180.0,1292.9 1181.6,1288.0 1185.8,1284.0M1148.1,1328.0 1154.1,1328.0 1157.6,1332.0 1160.0,1337.6 1161.8,1344.0 1162.9,1352.0 1163.1,1360.0 1162.4,1368.0 1160.5,1376.0 1158.3,1380.0 1152.0,1383.1 1148.0,1378.6 1145.3,1372.0 1144.0,1366.9 1142.7,1360.0 1142.2,1352.0 1142.5,1344.0 1144.0,1336.2 1145.6,1332.0 1148.1,1328.0M1125.1,1400.0 1132.0,1397.1 1140.0,1397.5 1144.7,1400.0 1148.0,1404.3 1148.8,1412.0 1147.1,1416.0 1142.9,1420.0 1136.0,1422.7 1128.0,1422.0 1124.0,1419.8 1120.0,1414.9 1119.1,1408.0 1120.9,1404.0 1125.1,1400.0M1130.5,1488.0 1136.0,1485.2 1144.0,1484.5 1152.0,1486.7 1155.5,1492.0 1152.0,1496.0 1144.0,1498.5 1136.0,1497.8 1132.0,1495.9 1130.5,1488.0M1106.3,1508.0 1112.0,1504.6 1117.5,1508.0 1115.0,1512.0 1108.7,1512.0 1106.3,1508.0M1172.2,1072.0 1180.0,1068.5 1184.3,1072.0 1180.3,1076.0 1176.0,1077.6 1170.7,1076.0 1172.2,1072.0M1095.1,1080.0 1100.0,1077.2 1104.8,1080.0 1102.9,1084.0 1096.3,1088.0 1095.6,1088.0 1095.1,1080.0M1164.1,1168.0 1171.0,1168.0 1173.4,1172.0 1174.1,1180.0 1172.0,1186.2 1168.0,1189.1 1164.0,1187.0 1161.4,1180.0 1162.2,1172.0 1164.1,1168.0M1079.4,1236.0 1084.0,1234.8 1085.9,1240.0 1082.1,1244.0 1076.0,1247.6 1072.0,1248.6 1070.0,1244.0 1073.4,1240.0 1079.4,1236.0M1138.2,1236.0 1144.0,1235.3 1146.5,1240.0 1144.0,1247.0 1136.5,1244.0 1136.0,1240.0 1138.2,1236.0M1058.1,1268.0 1061.4,1268.0 1064.0,1272.9 1064.9,1280.0 1064.0,1288.0 1061.8,1292.0 1057.7,1292.0 1055.5,1288.0 1054.6,1280.0 1055.6,1272.0 1058.1,1268.0M1130.9,1284.0 1136.0,1281.8 1136.6,1288.0 1132.0,1289.5 1130.9,1284.0M1186.6,1288.0 1192.0,1288.0 1194.4,1292.0 1193.4,1300.0 1188.0,1303.0 1184.0,1299.6 1183.4,1292.0 1186.6,1288.0M1150.8,1336.0 1153.0,1336.0 1156.6,1340.0 1158.9,1348.0 1159.7,1356.0 1159.0,1364.0 1156.0,1371.9 1152.0,1372.4 1149.2,1368.0 1147.5,1364.0 1146.1,1356.0 1146.0,1348.0 1147.5,1340.0 1150.8,1336.0M1126.7,1404.0 1132.0,1401.6 1140.0,1403.2 1143.5,1408.0 1141.0,1416.0 1136.0,1418.5 1128.0,1417.4 1124.0,1412.8 1123.8,1408.0 1126.7,1404.0M1136.1,1488.0 1144.0,1486.7 1148.7,1488.0 1148.0,1494.8 1144.0,1496.1 1140.0,1496.0 1133.3,1492.0 1136.1,1488.0M1108.7,1508.0 1112.0,1506.1 1115.0,1508.0 1112.0,1511.3 1108.7,1508.0" fill="none" stroke="#1a1a1a" stroke-width="0.75"/></g>
<path d="M1183.9,943.6H1272.2V974.5H1183.9ZM1208.9,974.5H1272.2V984.8H1208.9ZM1234.0,984.8H1272.2V1023.1H1234.0ZM1225.1,1011.3H1272.2V1023.1H1225.1ZM1217.8,1048.1H1272.2V1140.8H1217.8ZM1234.0,1023.1H1272.2V1048.1H1234.0ZM1192.8,1020.1H1208.9V1093.7H1192.8ZM1208.9,1030.4H1217.8V1140.8H1208.9ZM1192.8,1104.0H1201.6V1131.9H1192.8ZM1201.6,1104.0H1208.9V1140.8H1201.6ZM1217.8,1140.8H1272.2V1220.2H1217.8ZM1208.9,1196.7H1217.8V1220.2H1208.9ZM1085.3,1106.9H1101.5V1131.9H1085.3ZM1101.5,1095.2H1117.7V1112.8H1101.5ZM1200.1,1200.0H1272.2V1254.4H1200.1ZM1208.9,1254.4H1272.2V1273.6H1208.9ZM1200.1,1273.6H1272.2V1313.3H1200.1ZM1176.6,1313.3H1272.2V1332.4H1176.6ZM1183.9,1332.4H1272.2V1342.7H1183.9ZM1176.6,1342.7H1272.2V1373.6H1176.6ZM1167.7,1373.6H1272.2V1391.3H1167.7ZM1150.1,1391.3H1272.2V1470.7H1150.1ZM1158.9,1470.7H1272.2V1500.2H1158.9ZM1150.1,1500.2H1272.2V1517.8H1150.1ZM1067.7,1255.9H1094.2V1308.9H1067.7ZM1025.0,1217.7H1042.7V1517.8H1025.0ZM1042.7,1406.0H1058.9V1441.3H1042.7ZM1025.0,1479.6H1051.5V1517.8H1025.0Z" fill="#ebecee"/>
<path d="M1271.1,943.0 1271.1,956.3 1263.4,969.7 1267.2,990.4 1258.3,1009.7 1250.9,1039.3 1245.0,1057.1 1237.6,1088.2 1242.0,1101.6 1246.5,1128.3 1233.7,1141.6 1231.7,1154.9 1236.1,1180.1 1239.1,1205.3 1237.6,1200.0 1238.5,1210.4 1243.5,1222.2 1232.5,1247.4 1235.5,1263.7 1225.7,1288.9 1215.4,1318.6 1205.0,1339.3 1199.0,1354.1 1194.6,1376.4 1185.1,1385.3 1185.1,1403.0 1171.8,1403.9 1165.6,1425.3 1174.4,1443.0 1174.4,1466.8 1176.8,1481.6 1179.8,1496.4 1167.3,1514.8 1167.3,1518.6 1289.4,1518.2 1289.4,940.0Z" fill="#b4b5b7"/>
<path d="M1271.1,943.0 1271.1,956.3 1263.4,969.7 1267.2,990.4 1258.3,1009.7 1250.9,1039.3 1245.0,1057.1 1237.6,1088.2 1242.0,1101.6 1246.5,1128.3 1233.7,1141.6 1231.7,1154.9 1236.1,1180.1 1239.1,1205.3 1237.6,1200.0 1238.5,1210.4 1243.5,1222.2 1232.5,1247.4 1235.5,1263.7 1225.7,1288.9 1215.4,1318.6 1205.0,1339.3 1199.0,1354.1 1194.6,1376.4 1185.1,1385.3 1185.1,1403.0 1171.8,1403.9 1165.6,1425.3 1174.4,1443.0 1174.4,1466.8 1176.8,1481.6 1179.8,1496.4 1167.3,1514.8 1167.3,1518.6" fill="none" stroke="#222" stroke-width="0.8"/>
<path d="M1266.3,983.6 1142.1,983.6 1142.1,993.4 1133.8,1001.4 1133.8,1039.3 1125.8,1048.2 1125.8,1057.1 1117.5,1066.0 1117.5,1076.4 1109.2,1085.3 1109.2,1095.1 1117.5,1104.5 1117.5,1132.7 1100.3,1141.6 1100.3,1150.5 1109.2,1160.3 1109.2,1200.0 1109.2,1200.0 1109.2,1236.2 1101.2,1245.1 1101.2,1255.7 1109.2,1265.2 1092.3,1284.5 1092.3,1313.2 1076.0,1332.8 1076.0,1352.1 1067.2,1362.4 1067.2,1371.9 1059.1,1381.4 1059.1,1392.1 1042.5,1411.0 1042.5,1461.4 1050.8,1471.2 1050.8,1481.6 1176.8,1481.6" fill="none" stroke="#000" stroke-width="2.3" stroke-linejoin="miter"/>
<path d="M1022.0,1015.9H1287.4M1022.0,1127.8H1287.4M1022.0,1241.1H1287.4M1022.0,1357.1H1287.4M1022.0,1476.0H1287.4M1022.1,942.0V1516.2M1121.5,942.0V1516.2M1220.8,942.0V1516.2" stroke="#707070" stroke-width="1.1" stroke-dasharray="1.3 1.9" fill="none" opacity="0.7"/>
</g>
<rect x="1022.0" y="942.0" width="265.4" height="574.2" fill="none" stroke="#000" stroke-width="3.6"/>
<path d="M1016.2,1015.9H1022.0M1287.4,1015.9H1293.2M1016.2,1127.8H1022.0M1287.4,1127.8H1293.2M1016.2,1241.1H1022.0M1287.4,1241.1H1293.2M1016.2,1357.1H1022.0M1287.4,1357.1H1293.2M1016.2,1476.0H1022.0M1287.4,1476.0H1293.2M1022.1,936.2V942.0M1022.1,1516.2V1522.0M1121.5,936.2V942.0M1121.5,1516.2V1522.0M1220.8,936.2V942.0M1220.8,1516.2V1522.0" stroke="#000" stroke-width="3.5" fill="none"/>
<text x="104.3" y="1027.5" text-anchor="end" font-family="Liberation Sans, sans-serif" font-size="28.6" fill="#111">27°S</text>
<text x="104.3" y="1139.4" text-anchor="end" font-family="Liberation Sans, sans-serif" font-size="28.6" fill="#111">30°S</text>
<text x="104.3" y="1252.7" text-anchor="end" font-family="Liberation Sans, sans-serif" font-size="28.6" fill="#111">33°S</text>
<text x="104.3" y="1368.7" text-anchor="end" font-family="Liberation Sans, sans-serif" font-size="28.6" fill="#111">36°S</text>
<text x="104.3" y="1487.6" text-anchor="end" font-family="Liberation Sans, sans-serif" font-size="28.6" fill="#111">39°S</text>
<text x="121.2" y="1551.5" text-anchor="middle" font-family="Liberation Sans, sans-serif" font-size="27.7" fill="#111">78°W</text>
<text x="220.6" y="1551.5" text-anchor="middle" font-family="Liberation Sans, sans-serif" font-size="27.7" fill="#111">75°W</text>
<text x="319.9" y="1551.5" text-anchor="middle" font-family="Liberation Sans, sans-serif" font-size="27.7" fill="#111">72°W</text>
<text x="248.9" y="1587.2" text-anchor="middle" font-family="DejaVu Sans, sans-serif" font-size="30.5" fill="#111">Longitude</text>
<text x="422.3" y="1551.5" text-anchor="middle" font-family="Liberation Sans, sans-serif" font-size="27.7" fill="#111">78°W</text>
<text x="521.8" y="1551.5" text-anchor="middle" font-family="Liberation Sans, sans-serif" font-size="27.7" fill="#111">75°W</text>
<text x="621.0" y="1551.5" text-anchor="middle" font-family="Liberation Sans, sans-serif" font-size="27.7" fill="#111">72°W</text>
<text x="550.0" y="1587.2" text-anchor="middle" font-family="DejaVu Sans, sans-serif" font-size="30.5" fill="#111">Longitude</text>
<text x="724.1" y="1551.5" text-anchor="middle" font-family="Liberation Sans, sans-serif" font-size="27.7" fill="#111">78°W</text>
<text x="823.5" y="1551.5" text-anchor="middle" font-family="Liberation Sans, sans-serif" font-size="27.7" fill="#111">75°W</text>
<text x="922.8" y="1551.5" text-anchor="middle" font-family="Liberation Sans, sans-serif" font-size="27.7" fill="#111">72°W</text>
<text x="851.8" y="1587.2" text-anchor="middle" font-family="DejaVu Sans, sans-serif" font-size="30.5" fill="#111">Longitude</text>
<text x="1025.3" y="1551.5" text-anchor="middle" font-family="Liberation Sans, sans-serif" font-size="27.7" fill="#111">78°W</text>
<text x="1124.7" y="1551.5" text-anchor="middle" font-family="Liberation Sans, sans-serif" font-size="27.7" fill="#111">75°W</text>
<text x="1224.0" y="1551.5" text-anchor="middle" font-family="Liberation Sans, sans-serif" font-size="27.7" fill="#111">72°W</text>
<text x="1153.0" y="1587.2" text-anchor="middle" font-family="DejaVu Sans, sans-serif" font-size="30.5" fill="#111">Longitude</text>
<text transform="translate(23.6,1230.3) rotate(-90)" text-anchor="middle" font-family="DejaVu Sans, sans-serif" font-size="30.7" fill="#111">Latitude</text>
<text x="108.4" y="851.9" font-family="DejaVu Sans, sans-serif" font-weight="bold" font-size="27.6" fill="#000">E</text>
<text x="406" y="851.9" font-family="DejaVu Sans, sans-serif" font-weight="bold" font-size="27.6" fill="#000">F</text>
<text x="707.5" y="851.9" font-family="DejaVu Sans, sans-serif" font-weight="bold" font-size="27.6" fill="#000">G</text>
<text x="1014.5" y="851.9" font-family="DejaVu Sans, sans-serif" font-weight="bold" font-size="27.6" fill="#000">H</text>
<text x="251.7" y="883.8" text-anchor="middle" font-family="DejaVu Sans, sans-serif" font-weight="bold" font-size="28.2" fill="#000">Air-sea heat</text>
<text x="256.4" y="918.9" text-anchor="middle" font-family="DejaVu Sans, sans-serif" font-weight="bold" font-size="28.2" fill="#000">fluxes</text>
<text x="554.8" y="904.8" text-anchor="middle" font-family="DejaVu Sans, sans-serif" font-weight="bold" font-size="27.7" fill="#000">Advection heat</text>
<text x="858" y="883.8" text-anchor="middle" font-family="DejaVu Sans, sans-serif" font-weight="bold" font-size="28.2" fill="#000">Air-sea heat</text>
<text x="862.7" y="918.9" text-anchor="middle" font-family="DejaVu Sans, sans-serif" font-weight="bold" font-size="28.2" fill="#000">fluxes</text>
<text x="1158.5" y="904.8" text-anchor="middle" font-family="DejaVu Sans, sans-serif" font-weight="bold" font-size="27.7" fill="#000">Advection heat</text>
<linearGradient id="cbg" x1="0" y1="0" x2="0" y2="1"><stop offset="0.000" stop-color="#3c101a"/><stop offset="0.030" stop-color="#4c0e1e"/><stop offset="0.060" stop-color="#640a23"/><stop offset="0.120" stop-color="#87162d"/><stop offset="0.165" stop-color="#a51e28"/><stop offset="0.205" stop-color="#b93c2a"/><stop offset="0.250" stop-color="#c4583a"/><stop offset="0.290" stop-color="#cb6e52"/><stop offset="0.340" stop-color="#d58d76"/><stop offset="0.390" stop-color="#dfad9b"/><stop offset="0.440" stop-color="#ebd0c6"/><stop offset="0.470" stop-color="#f0e0da"/><stop offset="0.500" stop-color="#f6f1f0"/><stop offset="0.550" stop-color="#dee4e8"/><stop offset="0.600" stop-color="#b9cfd7"/><stop offset="0.648" stop-color="#8cb6c8"/><stop offset="0.700" stop-color="#5fa0c3"/><stop offset="0.750" stop-color="#2d87c3"/><stop offset="0.786" stop-color="#1976be"/><stop offset="0.830" stop-color="#2d5aaa"/><stop offset="0.880" stop-color="#32419b"/><stop offset="0.910" stop-color="#2a3791"/><stop offset="0.944" stop-color="#282d6e"/><stop offset="1.000" stop-color="#191c46"/></linearGradient>
<rect x="1297.2" y="943.6" width="18.6" height="572.2" fill="url(#cbg)" stroke="#6a6a6a" stroke-width="0.8"/>
<line x1="1310.8" y1="943.6" x2="1315.8" y2="943.6" stroke="#333" stroke-width="0.8"/>
<text x="1323.3" y="953.8" font-family="Liberation Sans, sans-serif" font-size="28.9" fill="#222">0.1</text>
<line x1="1310.8" y1="1086.7" x2="1315.8" y2="1086.7" stroke="#333" stroke-width="0.8"/>
<text x="1323.3" y="1096.9" font-family="Liberation Sans, sans-serif" font-size="28.9" fill="#222">0.05</text>
<line x1="1310.8" y1="1229.7" x2="1315.8" y2="1229.7" stroke="#333" stroke-width="0.8"/>
<text x="1323.3" y="1239.9" font-family="Liberation Sans, sans-serif" font-size="28.9" fill="#222">0</text>
<line x1="1310.8" y1="1372.8" x2="1315.8" y2="1372.8" stroke="#333" stroke-width="0.8"/>
<text x="1323.3" y="1383.0" font-family="Liberation Sans, sans-serif" font-size="28.9" fill="#222">-0.05</text>
<line x1="1310.8" y1="1515.8" x2="1315.8" y2="1515.8" stroke="#333" stroke-width="0.8"/>
<text x="1323.3" y="1526.0" font-family="Liberation Sans, sans-serif" font-size="28.9" fill="#222">-0.1</text>
<text transform="translate(1410.5,1230.7) rotate(-90)" text-anchor="middle" font-family="DejaVu Sans, sans-serif" font-size="32.4" fill="#111">[ °C/day ]</text>
</svg>
</body></html>
